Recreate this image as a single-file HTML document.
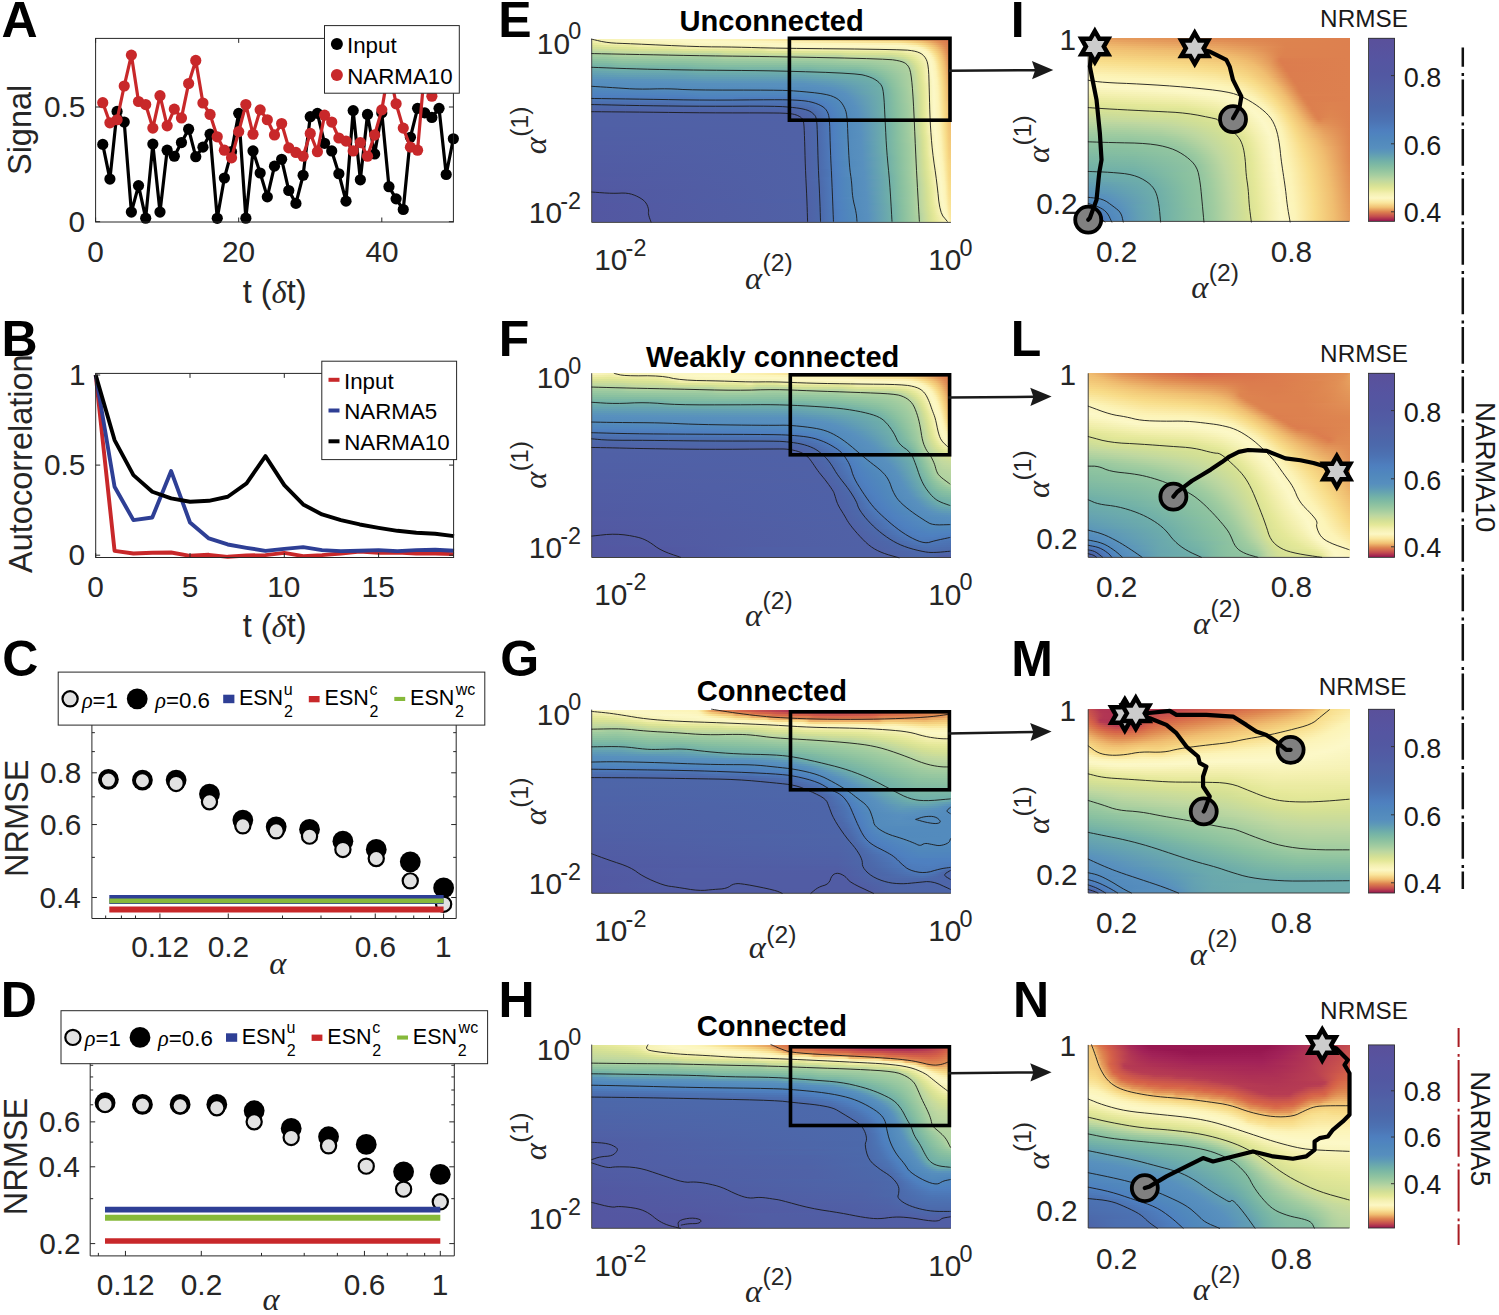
<!DOCTYPE html><html><head><meta charset="utf-8"><style>html,body{margin:0;padding:0;background:#fff}#r{position:relative;width:1499px;height:1315px;overflow:hidden;background:#fff}#r svg{position:absolute;left:0;top:0}</style></head><body><div id="r">
<div style="position:absolute;left:592px;top:39px;width:359px;height:2px;background:linear-gradient(90deg,#f4f0b0 0px,#f6f2b5 4px,#fbf7c6 71px,#fcf8c6 87px,#fcf5ba 141px,#fbf1b2 162px,#faeaa4 185px,#f9df8f 235px,#f4cc7b 303px,#f2c475 313px,#edb66b 323px,#df8852 344px,#d9714b 359px)"></div>
<div style="position:absolute;left:592px;top:41px;width:359px;height:2px;background:linear-gradient(90deg,#ededa6 0px,#f6f2b5 14px,#f7f3b8 45px,#f8f4bc 51px,#faf6c1 84px,#fbf7c6 97px,#fcf8c6 116px,#fcf5bd 173px,#f9e192 305px,#f6d683 318px,#f1c374 330px,#edb66b 335px,#df8851 349px,#da734c 359px)"></div>
<div style="position:absolute;left:592px;top:43px;width:359px;height:2px;background:linear-gradient(90deg,#e5e89a 0px,#eaeba0 8px,#f0eeaa 12px,#f2efad 40px,#f6f2b6 48px,#f7f3b9 86px,#f9f5bf 95px,#fbf7c5 147px,#fcf7c5 176px,#fcf6c1 188px,#fcf5bb 258px,#fbf0b0 309px,#fbedab 313px,#f9e193 324px,#f6d683 330px,#f0bf71 338px,#df8a53 351px,#da754c 359px)"></div>
<div style="position:absolute;left:592px;top:45px;width:359px;height:2px;background:linear-gradient(90deg,#dae396 0px,#e3e89a 14px,#e8ea9e 39px,#eaeba1 42px,#f0eeaa 47px,#f1efac 82px,#f2efae 85px,#f6f2b5 88px,#f7f3b8 93px,#f8f4bb 173px,#faf6c3 180px,#fbf7c5 186px,#fcf7c5 280px,#fcf7c3 306px,#fcf6c0 314px,#fbf0af 325px,#f8de8d 333px,#f0bf71 342px,#df8952 353px,#db774d 359px)"></div>
<div style="position:absolute;left:592px;top:47px;width:359px;height:2px;background:linear-gradient(90deg,#d0de97 0px,#d8e295 19px,#dde596 39px,#e3e899 48px,#e5e89b 80px,#e7ea9d 84px,#eeeda7 88px,#efeda8 90px,#f1eeab 169px,#f2efae 173px,#f7f3b8 178px,#f7f3ba 183px,#f8f4bd 306px,#f9f5bf 313px,#fbf7c4 315px,#fcf7c5 319px,#fcf6c1 325px,#fcf5bc 328px,#fbf0b1 331px,#f7da87 338px,#f0bd6f 345px,#df8a52 354px,#db794d 359px)"></div>
<div style="position:absolute;left:592px;top:49px;width:359px;height:2px;background:linear-gradient(90deg,#c4da9d 0px,#d1df96 37px,#d6e195 50px,#d7e295 80px,#dfe597 91px,#e5e89b 167px,#e7ea9d 172px,#eeeda7 176px,#efeda8 179px,#f1efac 305px,#f3f0af 311px,#f7f3ba 316px,#f9f5be 325px,#fbf7c4 327px,#fcf7c5 329px,#fcf2b4 334px,#f8dc8a 340px,#efbc6f 347px,#df8952 355px,#dc7b4e 359px)"></div>
<div style="position:absolute;left:592px;top:51px;width:359px;height:2px;background:linear-gradient(90deg,#b7d5a0 0px,#bad6a0 19px,#c2d99f 23px,#c4da9e 28px,#c9db9b 79px,#cddd98 92px,#cede98 123px,#d5e195 135px,#d7e295 167px,#dfe597 180px,#dfe697 243px,#e4e89a 259px,#e5e89b 298px,#e8ea9e 307px,#ececa4 311px,#f1efac 314px,#f5f1b2 324px,#fcf7c5 332px,#fcf3b7 336px,#f8dc89 342px,#f0be70 348px,#de8650 356px,#dc7d4e 359px)"></div>
<div style="position:absolute;left:592px;top:53px;width:359px;height:2px;background:linear-gradient(90deg,#aad0a0 0px,#acd0a0 18px,#b5d4a0 22px,#b7d5a0 27px,#bbd6a0 125px,#bcd6a0 127px,#c5da9d 131px,#c8db9b 137px,#c9db9b 166px,#cddd98 182px,#cedd98 244px,#d6e195 258px,#d8e295 300px,#e0e697 310px,#e7e99c 314px,#f5f1b4 329px,#fcf7c6 334px,#fcf3b7 338px,#f7da86 344px,#f0bf71 349px,#df8a52 356px,#dd7f4f 359px)"></div>
<div style="position:absolute;left:592px;top:55px;width:359px;height:2px;background:linear-gradient(90deg,#9ecba0 0px,#a0cca0 15px,#a3cda0 19px,#a9cfa0 22px,#a9d0a0 26px,#abd0a0 122px,#aed1a0 126px,#b7d5a0 131px,#b8d5a0 136px,#bbd6a0 247px,#bcd6a0 249px,#c5da9d 253px,#c7db9c 257px,#c9dc9a 299px,#d8e295 312px,#e6e99c 320px,#f6f2b6 332px,#fcf8c6 336px,#fcf4ba 339px,#f8db87 345px,#f0be70 350px,#de8650 357px,#dd824f 359px)"></div>
<div style="position:absolute;left:592px;top:57px;width:359px;height:2px;background:linear-gradient(90deg,#95c7a0 0px,#96c7a0 13px,#9ecba0 30px,#a1cca0 119px,#aad0a0 131px,#abd0a0 243px,#acd1a0 247px,#b6d4a0 252px,#b8d5a0 256px,#b9d6a0 300px,#c9dc9a 311px,#d6e195 316px,#e2e797 321px,#f3efae 330px,#f5f1b4 333px,#fcf8c7 337px,#fcf2b3 341px,#f8da87 346px,#efbc6f 351px,#df8851 357px,#de8450 359px)"></div>
<div style="position:absolute;left:592px;top:59px;width:359px;height:2px;background:linear-gradient(90deg,#8cc2a0 0px,#8dc3a0 13px,#95c6a0 29px,#96c7a0 93px,#99c8a0 120px,#9ecba0 134px,#a0cca0 239px,#a3cda0 246px,#a9cfa0 251px,#aed1a0 299px,#bad6a0 311px,#d2df95 318px,#e3e898 324px,#f4f0b0 332px,#f7f3b8 335px,#fcf8c7 338px,#fcf4ba 341px,#f7d985 347px,#f1c072 351px,#df8b53 357px,#de8650 359px)"></div>
<div style="position:absolute;left:592px;top:61px;width:359px;height:2px;background:linear-gradient(90deg,#84bda1 0px,#85bea1 14px,#8cc2a0 30px,#8dc2a0 92px,#95c6a0 134px,#96c7a0 218px,#a3cda0 282px,#b0d2a0 311px,#b5d4a0 313px,#bed7a0 315px,#d1df96 320px,#d8e295 322px,#e4e899 326px,#f4f0b0 333px,#f5f1b4 335px,#fbf7c6 338px,#fcf7c5 339px,#fcf4b8 342px,#f8dc89 347px,#f0bd6f 352px,#e08d54 357px,#df8851 359px)"></div>
<div style="position:absolute;left:592px;top:63px;width:359px;height:2px;background:linear-gradient(90deg,#7cb8a4 0px,#7db8a4 15px,#83bda2 29px,#84bda1 91px,#8cc2a0 134px,#8dc2a0 217px,#9ac9a0 277px,#b0d2a0 313px,#b4d4a0 315px,#c2d99f 318px,#d6e194 323px,#e6e99b 328px,#f5f1b3 335px,#fcf8c7 339px,#fcf2b4 343px,#f7d986 348px,#f0c071 352px,#e18f55 357px,#df8b53 359px)"></div>
<div style="position:absolute;left:592px;top:65px;width:359px;height:2px;background:linear-gradient(90deg,#73b2a7 0px,#74b3a7 17px,#7ab6a5 22px,#7bb7a4 28px,#7cb8a4 92px,#80bba3 105px,#83bda2 132px,#84bda1 216px,#8ec3a0 267px,#9ccaa0 292px,#b0d2a0 315px,#b4d4a0 317px,#bfd8a0 319px,#d5e194 324px,#e3e898 328px,#f5f1b3 335px,#fcf8c8 339px,#fcf4b8 343px,#f8dc88 348px,#efba6e 353px,#e29257 357px,#e08d54 359px)"></div>
<div style="position:absolute;left:592px;top:67px;width:359px;height:2px;background:linear-gradient(90deg,#6eadaa 0px,#6eaeaa 14px,#73b2a7 26px,#74b2a7 95px,#7ab7a5 109px,#7cb8a4 217px,#80bba3 229px,#85bea1 265px,#91c5a0 284px,#b0d2a0 317px,#c0d8a0 320px,#d6e194 325px,#e4e898 329px,#f3efae 334px,#fcf8c7 339px,#fcf4b9 343px,#f8de8c 348px,#f0bd70 353px,#e39458 357px,#e18f55 359px)"></div>
<div style="position:absolute;left:592px;top:69px;width:359px;height:2px;background:linear-gradient(90deg,#6aa8ad 0px,#6dadaa 21px,#6eadaa 94px,#73b2a7 105px,#74b2a7 219px,#79b6a5 228px,#7db9a4 265px,#8ac1a0 283px,#afd2a0 317px,#c1d99f 321px,#d3df95 325px,#d7e195 326px,#e6e99b 330px,#f5f1b2 335px,#fbf7c6 339px,#fcf7c6 340px,#fcf2b4 344px,#f7da86 349px,#f0c071 353px,#e39759 357px,#e29157 359px)"></div>
<div style="position:absolute;left:592px;top:71px;width:359px;height:2px;background:linear-gradient(90deg,#66a3b0 0px,#69a8ae 27px,#6aa9ad 91px,#6dadaa 104px,#6eadaa 215px,#72b2a7 227px,#74b3a7 265px,#86bfa1 285px,#afd1a0 317px,#b3d3a0 319px,#bdd7a0 321px,#d5e094 326px,#e5e899 330px,#f5f1b2 335px,#fbf7c5 339px,#fcf8c6 340px,#fcf4b7 344px,#f8dc88 349px,#f1c173 353px,#e4995b 357px,#e29458 359px)"></div>
<div style="position:absolute;left:592px;top:73px;width:359px;height:2px;background:linear-gradient(90deg,#619fb4 0px,#65a3b1 33px,#66a4b0 89px,#69a8ad 108px,#6aa9ad 210px,#6dadaa 223px,#6fafa8 265px,#73b2a7 273px,#7bb7a4 280px,#89c1a0 291px,#afd2a0 319px,#c0d8a0 322px,#d3e095 326px,#d7e295 327px,#e3e898 330px,#f5f1b2 335px,#fcf8c7 340px,#fcf4b9 344px,#f8dd8b 349px,#efbb6e 354px,#e59b5c 357px,#e39659 359px)"></div>
<div style="position:absolute;left:592px;top:75px;width:359px;height:2px;background:linear-gradient(90deg,#5d9ab7 0px,#619eb4 36px,#629fb3 87px,#65a3b1 111px,#66a4b0 208px,#6fafa9 273px,#74b3a7 280px,#88c0a0 293px,#afd2a0 319px,#bfd8a0 322px,#d6e194 327px,#e2e798 330px,#e6e99b 331px,#f4f0b1 335px,#fcf8c8 340px,#fcf4ba 344px,#f8df8d 349px,#f0be70 354px,#e69e5d 357px,#e4985a 359px)"></div>
<div style="position:absolute;left:592px;top:77px;width:359px;height:2px;background:linear-gradient(90deg,#5a95ba 0px,#619eb4 112px,#629fb3 208px,#6fafa8 279px,#74b3a7 284px,#88c0a0 295px,#afd2a0 319px,#bed7a0 322px,#d5e094 327px,#e6e99a 331px,#f4f0b1 335px,#fbf7c6 340px,#fcf7c6 341px,#fcf3b5 345px,#f9e08f 349px,#f8db87 350px,#f0bf71 354px,#e6a05f 357px,#e59b5c 359px)"></div>
<div style="position:absolute;left:592px;top:79px;width:359px;height:2px;background:linear-gradient(90deg,#5890be 0px,#5a95ba 87px,#5d99b7 113px,#5e9ab7 208px,#64a2b2 242px,#6fafa8 283px,#88c0a0 297px,#afd2a0 319px,#c2d99f 323px,#d4e094 327px,#e5e899 331px,#f4f0b1 335px,#f7f3ba 338px,#fcf8c7 341px,#fcf4b8 345px,#f8dc88 350px,#f1c172 354px,#e7a360 357px,#e69d5d 359px)"></div>
<div style="position:absolute;left:592px;top:81px;width:359px;height:2px;background:linear-gradient(90deg,#578fbe 0px,#5891bd 88px,#5a94bb 116px,#5b95ba 208px,#609cb5 238px,#6fafa9 285px,#73b2a7 288px,#88c0a0 298px,#afd2a0 319px,#c2d99f 323px,#d3e095 327px,#d7e295 328px,#e4e898 331px,#f3efae 335px,#f6f2b7 338px,#fcf8c8 341px,#fcf4b9 345px,#f8dd8a 350px,#f1c273 354px,#e8a561 357px,#e69f5e 359px)"></div>
<div style="position:absolute;left:592px;top:83px;width:359px;height:2px;background:linear-gradient(90deg,#558dbd 0px,#5891bd 211px,#5d99b8 240px,#6fafa9 287px,#73b2a7 290px,#87c0a0 299px,#afd2a0 319px,#c1d99f 323px,#d6e195 328px,#e6e99b 332px,#f3f0af 336px,#fcf8c7 341px,#fcf4b9 345px,#f8de8c 350px,#efbc6f 355px,#e8a662 357px,#e7a15f 359px)"></div>
<div style="position:absolute;left:592px;top:85px;width:359px;height:2px;background:linear-gradient(90deg,#548cbd 0px,#5890be 223px,#5c97b9 245px,#6fafa8 289px,#88c0a0 300px,#afd2a0 319px,#c1d89f 323px,#d5e194 328px,#e5e99a 332px,#f2efad 336px,#fbf7c6 341px,#fcf7c5 342px,#fcf5ba 345px,#fcf2b4 346px,#f8df8d 350px,#f0be70 355px,#e9a863 357px,#e7a360 359px)"></div>
<div style="position:absolute;left:592px;top:87px;width:359px;height:2px;background:linear-gradient(90deg,#528abc 0px,#558dbd 212px,#5890be 238px,#5c98b8 252px,#71b1a8 291px,#88c0a0 301px,#a0cca0 313px,#afd2a0 319px,#c0d8a0 323px,#d5e094 328px,#e4e899 332px,#f5f1b2 337px,#fbf7c6 341px,#fcf7c6 342px,#fcf2b5 346px,#f9df8f 350px,#f8da87 351px,#f0bf71 355px,#e9aa64 357px,#e8a461 359px)"></div>
<div style="position:absolute;left:592px;top:89px;width:359px;height:2px;background:linear-gradient(90deg,#5087bc 0px,#548cbd 104px,#548cbd 213px,#5890be 244px,#5b95ba 252px,#71b1a8 292px,#89c0a0 302px,#9fcca0 313px,#afd1a0 319px,#bfd8a0 323px,#d4e094 328px,#e4e898 332px,#f5f1b2 337px,#fbf7c6 341px,#fcf8c6 342px,#fcf3b6 346px,#f8db87 351px,#f1c072 355px,#eaab65 357px,#e8a662 359px)"></div>
<div style="position:absolute;left:592px;top:91px;width:359px;height:2px;background:linear-gradient(90deg,#4f85be 0px,#5087bd 89px,#528abc 104px,#5189bc 204px,#548cbd 233px,#5991bd 251px,#64a2b1 270px,#71b0a8 292px,#88c0a0 302px,#a3cda0 315px,#b2d3a0 320px,#bed7a0 323px,#d7e195 329px,#e3e898 332px,#f5f1b2 337px,#fbf7c5 341px,#fcf8c6 342px,#fcf3b7 346px,#f8dc88 351px,#f1c172 355px,#ebad66 357px,#e9a863 359px)"></div>
<div style="position:absolute;left:592px;top:93px;width:359px;height:2px;background:linear-gradient(90deg,#4f82bf 0px,#4f84be 88px,#5087bd 109px,#4f86bd 201px,#528abd 231px,#5890be 253px,#63a0b2 270px,#71b0a8 292px,#89c0a0 303px,#a0cca0 314px,#b2d3a0 321px,#c1d8a0 324px,#d6e195 329px,#e3e798 332px,#f5f1b2 337px,#fbf7c5 341px,#fcf8c7 342px,#fcf4b8 346px,#f8dd89 351px,#f1c273 355px,#ebaf67 357px,#e9a964 359px)"></div>
<div style="position:absolute;left:592px;top:95px;width:359px;height:2px;background:linear-gradient(90deg,#4e7fbf 0px,#4e80bf 88px,#4f84be 111px,#4e82bf 201px,#5088bc 229px,#5890be 255px,#71b0a8 292px,#88c0a0 303px,#b0d2a0 321px,#bfd8a0 324px,#d6e194 329px,#e2e798 332px,#e6e99b 333px,#f4f0b1 337px,#fbf7c5 341px,#fcf8c7 342px,#fcf4b8 346px,#f8dd8a 351px,#f1c374 355px,#ecb068 357px,#eaab65 359px)"></div>
<div style="position:absolute;left:592px;top:97px;width:359px;height:2px;background:linear-gradient(90deg,#4d7cbc 0px,#4d7cbc 91px,#4e80bf 113px,#4e80bf 139px,#4d7dbd 148px,#4d7dbd 202px,#4e81c0 212px,#5087bc 233px,#5890be 257px,#70b0a8 292px,#87c0a0 303px,#afd2a0 321px,#bed7a0 324px,#d5e194 329px,#e6e99b 333px,#f4f0b1 337px,#fbf7c5 341px,#fcf8c7 342px,#fcf4b9 346px,#f8de8b 351px,#f0bd6f 356px,#ecb269 357px,#eaad66 359px)"></div>
<div style="position:absolute;left:592px;top:99px;width:359px;height:2px;background:linear-gradient(90deg,#4c76b6 0px,#4c76b6 76px,#4d7cbc 111px,#4d7cbc 141px,#4d77b7 152px,#4d77b7 198px,#4e81c0 225px,#5088bc 239px,#5890be 259px,#70b0a8 292px,#89c1a0 304px,#afd2a0 321px,#bed7a0 324px,#d5e094 329px,#e6e99b 333px,#f4f0b1 337px,#fcf8c7 342px,#fcf4b9 346px,#f8de8d 351px,#f0be70 356px,#edb46a 357px,#ebae67 359px)"></div>
<div style="position:absolute;left:592px;top:101px;width:359px;height:2px;background:linear-gradient(90deg,#4c71b1 0px,#4c71b1 75px,#4c76b6 105px,#4c73b3 198px,#4d78b8 217px,#4e81c0 230px,#5088bc 242px,#5890be 260px,#70b0a8 292px,#89c0a0 304px,#afd2a0 321px,#bed7a0 324px,#d5e094 329px,#e6e99b 333px,#f4f0b1 337px,#fcf8c7 342px,#fcf4b9 346px,#fbf1b2 347px,#f7d986 352px,#ebb068 359px)"></div>
<div style="position:absolute;left:592px;top:103px;width:359px;height:2px;background:linear-gradient(90deg,#4c6cad 0px,#4c6cad 75px,#4c71b1 104px,#4c6fb0 199px,#4c74b4 216px,#4e80c0 233px,#5088bc 244px,#5890be 261px,#70b0a8 292px,#88c0a0 304px,#9fcca0 315px,#afd2a0 321px,#bed7a0 324px,#d4e094 329px,#e6e99a 333px,#f4f0b1 337px,#fcf8c7 342px,#fcf4b9 346px,#fcf1b3 347px,#f8da87 352px,#ecb269 359px)"></div>
<div style="position:absolute;left:592px;top:105px;width:359px;height:2px;background:linear-gradient(90deg,#4c67aa 0px,#4c68aa 72px,#4c6bad 102px,#4c6cad 205px,#4c74b4 221px,#4e80c0 235px,#5088bc 245px,#5890be 263px,#70b0a8 292px,#88c0a0 304px,#a1cca0 316px,#afd1a0 321px,#bed7a0 324px,#d4e094 329px,#e6e99a 333px,#f4f0b1 337px,#fcf8c8 342px,#fcf4ba 346px,#fcf2b3 347px,#f8db87 352px,#edb36a 359px)"></div>
<div style="position:absolute;left:592px;top:107px;width:359px;height:2px;background:linear-gradient(90deg,#4e65a8 0px,#4c68aa 202px,#4c6cad 216px,#4e80c0 237px,#5088bc 247px,#5890be 264px,#70b0a8 292px,#87c0a0 304px,#a1cca0 316px,#afd1a0 321px,#bed7a0 324px,#d4e094 329px,#e6e99a 333px,#f4f0b1 337px,#fcf8c8 342px,#fcf2b4 347px,#f8dc88 352px,#edb56b 359px)"></div>
<div style="position:absolute;left:592px;top:109px;width:359px;height:2px;background:linear-gradient(90deg,#4f62a7 0px,#4e65a8 199px,#4c6aac 217px,#4e80c0 238px,#5088bc 247px,#5891be 265px,#70b0a8 292px,#89c0a0 305px,#a0cca0 316px,#afd1a0 321px,#bed7a0 324px,#d4e094 329px,#e5e99a 333px,#f4f0b1 337px,#fcf8c8 342px,#fcf2b5 347px,#f8dc89 352px,#eeb76c 359px)"></div>
<div style="position:absolute;left:592px;top:111px;width:359px;height:2px;background:linear-gradient(90deg,#5061a6 0px,#4f62a7 199px,#4c6bac 221px,#4e80c0 239px,#5088bc 248px,#5890be 265px,#72b1a7 293px,#89c0a0 305px,#a0cca0 316px,#afd1a0 321px,#bed7a0 324px,#d4e094 329px,#e5e99a 333px,#f4f0b1 337px,#fcf8c8 342px,#fcf3b6 347px,#f8dd8a 352px,#eeb86d 359px)"></div>
<div style="position:absolute;left:592px;top:113px;width:359px;height:2px;background:linear-gradient(90deg,#5061a6 0px,#5061a6 199px,#4c69ab 221px,#4e80c0 240px,#5088bc 249px,#5890be 266px,#73b2a7 294px,#88c0a0 305px,#a0cca0 316px,#afd1a0 321px,#bed7a0 324px,#d4e094 329px,#e5e99a 333px,#f4f0b1 337px,#fcf8c8 342px,#fcf3b6 347px,#f8de8b 352px,#f0bf71 357px,#efba6e 359px)"></div>
<div style="position:absolute;left:592px;top:115px;width:359px;height:2px;background:linear-gradient(90deg,#5060a6 0px,#5061a6 205px,#4c6aab 223px,#4e7fbf 240px,#5088bc 250px,#5890be 266px,#72b1a7 294px,#88c0a0 305px,#a0cca0 316px,#afd1a0 321px,#bdd7a0 324px,#d4e094 329px,#e5e99a 333px,#f4f0b1 337px,#fcf8c8 342px,#fcf4b7 347px,#f7d985 353px,#efbc6f 359px)"></div>
<div style="position:absolute;left:592px;top:117px;width:359px;height:2px;background:linear-gradient(90deg,#5060a6 0px,#5061a6 209px,#4c69ab 223px,#4e80c0 241px,#5088bc 250px,#5890be 267px,#71b0a8 294px,#88c0a0 305px,#a0cca0 316px,#afd1a0 321px,#bdd7a0 324px,#d4e094 329px,#e5e99a 333px,#f4f0b1 337px,#fcf8c7 342px,#fcf4b8 347px,#f7da86 353px,#f1c172 357px,#f0be70 359px)"></div>
<div style="position:absolute;left:592px;top:119px;width:359px;height:2px;background:linear-gradient(90deg,#5060a6 0px,#4f61a7 210px,#4c69aa 223px,#4e7fbf 241px,#5088bc 251px,#5890be 267px,#70b0a8 294px,#87c0a0 305px,#a0cca0 316px,#aed1a0 321px,#bdd7a0 324px,#d4e094 329px,#e5e99a 333px,#f4f0b1 337px,#fcf8c7 342px,#fcf4b8 347px,#f8db87 353px,#f1c273 357px,#f0bf71 359px)"></div>
<div style="position:absolute;left:592px;top:121px;width:359px;height:2px;background:linear-gradient(90deg,#5060a6 0px,#5061a6 211px,#4c6aac 225px,#4e80c0 242px,#5088bc 251px,#5890be 267px,#70b0a8 294px,#87bfa0 305px,#9fcca0 316px,#aed1a0 321px,#bdd7a0 324px,#d4e094 329px,#e5e99a 333px,#f4f0b1 337px,#fcf8c7 342px,#fcf4b9 347px,#f8db88 353px,#f1c374 357px,#f0c071 359px)"></div>
<div style="position:absolute;left:592px;top:123px;width:359px;height:2px;background:linear-gradient(90deg,#5060a6 0px,#5061a6 211px,#4c6aac 226px,#4e80c0 242px,#5088bc 251px,#5890be 268px,#70b0a8 294px,#87bfa0 305px,#a2cda0 317px,#aed1a0 321px,#bdd7a0 324px,#d4e094 329px,#e5e99a 333px,#f4f0b1 337px,#fcf8c7 342px,#fcf4b9 347px,#fcf1b2 348px,#f8dc88 353px,#f2c475 357px,#f1c172 359px)"></div>
<div style="position:absolute;left:592px;top:125px;width:359px;height:2px;background:linear-gradient(90deg,#5060a6 0px,#5061a6 211px,#4c6aab 226px,#4e80c0 242px,#5088bc 251px,#5890be 268px,#70b0a8 294px,#89c0a0 306px,#a2cda0 317px,#aed1a0 321px,#bdd7a0 324px,#d3e094 329px,#e5e899 333px,#f4f0b1 337px,#fbf7c6 342px,#fcf8c6 343px,#fcf4b9 347px,#fcf2b3 348px,#f8dd89 353px,#f2c575 357px,#f1c173 359px)"></div>
<div style="position:absolute;left:592px;top:127px;width:359px;height:2px;background:linear-gradient(90deg,#505fa6 0px,#5061a6 211px,#4c69ab 225px,#4e80c0 242px,#5088bc 251px,#5890be 268px,#70b0a8 294px,#89c0a0 306px,#a2cda0 317px,#aed1a0 321px,#bdd7a0 324px,#d3e095 329px,#e5e899 333px,#f6f2b6 338px,#fbf7c6 342px,#fcf8c7 343px,#fcf2b5 348px,#f8dd8b 353px,#f2c576 357px,#f1c273 359px)"></div>
<div style="position:absolute;left:592px;top:129px;width:359px;height:2px;background:linear-gradient(90deg,#505fa6 0px,#5061a6 211px,#4c69aa 225px,#4e80c0 242px,#5088bc 251px,#5890be 268px,#70b0a8 294px,#89c0a0 306px,#a2cda0 317px,#aed1a0 321px,#c1d99f 325px,#d7e195 330px,#e4e898 333px,#f4f0b1 337px,#fcf8c7 343px,#fcf3b6 348px,#f8de8c 353px,#f2c677 357px,#f1c374 359px)"></div>
<div style="position:absolute;left:592px;top:131px;width:359px;height:2px;background:linear-gradient(90deg,#505fa5 0px,#5061a6 211px,#4c68aa 225px,#4e80c0 242px,#5088bc 251px,#5891be 269px,#70b0a8 294px,#88c0a0 306px,#a2cda0 317px,#aed1a0 321px,#c1d89f 325px,#d6e195 330px,#e3e898 333px,#f4f0b1 337px,#fcf8c8 343px,#fcf4b7 348px,#f7da86 354px,#f2c777 357px,#f2c475 359px)"></div>
<div style="position:absolute;left:592px;top:133px;width:359px;height:2px;background:linear-gradient(90deg,#505fa5 0px,#5061a6 211px,#4c68aa 225px,#4e80c0 242px,#5088bc 251px,#5890be 269px,#70b0a8 294px,#88c0a0 306px,#a1cca0 317px,#aed1a0 321px,#c0d8a0 325px,#d5e194 330px,#e2e798 333px,#f2efae 337px,#fcf8c7 343px,#fcf7c6 344px,#fcf4b8 348px,#f8da87 354px,#f3c878 357px,#f2c575 359px)"></div>
<div style="position:absolute;left:592px;top:135px;width:359px;height:2px;background:linear-gradient(90deg,#505fa5 0px,#5061a6 211px,#4c68aa 225px,#4e80c0 242px,#5088bc 251px,#5890be 269px,#70b0a8 294px,#88c0a0 306px,#a1cca0 317px,#bed7a0 325px,#d4e094 330px,#e5e99a 334px,#f3efae 338px,#fbf7c5 343px,#fcf8c7 344px,#fcf4b9 348px,#fbf1b2 349px,#f8db87 354px,#f3c978 357px,#f2c676 359px)"></div>
<div style="position:absolute;left:592px;top:137px;width:359px;height:2px;background:linear-gradient(90deg,#505ea5 0px,#5061a6 211px,#4c68aa 225px,#4e80c0 242px,#5088bc 251px,#5890be 269px,#70b0a8 294px,#88c0a0 306px,#a0cca0 317px,#b2d3a0 323px,#c1d89f 326px,#d3e095 330px,#e4e898 334px,#f5f1b2 339px,#fcf8c7 344px,#fcf4b9 348px,#fcf2b3 349px,#f8dc88 354px,#f3c979 357px,#f2c677 359px)"></div>
<div style="position:absolute;left:592px;top:139px;width:359px;height:2px;background:linear-gradient(90deg,#505ea5 0px,#5061a6 211px,#4c68aa 225px,#4e80c0 242px,#538bbd 255px,#5890be 269px,#6fafa9 293px,#88c0a0 306px,#afd2a0 323px,#c0d8a0 326px,#d6e195 331px,#e3e898 334px,#f5f1b2 339px,#fcf8c8 344px,#fcf2b4 349px,#f8dd89 354px,#f3ca7a 357px,#f2c777 359px)"></div>
<div style="position:absolute;left:592px;top:141px;width:359px;height:2px;background:linear-gradient(90deg,#515ea5 0px,#5061a6 211px,#4c68aa 225px,#4e80c0 242px,#538bbd 255px,#5890be 269px,#5d99b7 276px,#6fafa9 293px,#87c0a0 306px,#afd2a0 323px,#bfd7a0 326px,#d6e194 331px,#e3e798 334px,#f5f1b2 339px,#fcf8c8 344px,#fcf3b6 349px,#f8dd8b 354px,#f3cb7a 357px,#f3c878 359px)"></div>
<div style="position:absolute;left:592px;top:143px;width:359px;height:2px;background:linear-gradient(90deg,#515ea5 0px,#5061a6 211px,#4c68aa 225px,#4e7fbf 242px,#538bbd 255px,#5890be 269px,#5d99b8 276px,#6fafa9 293px,#87bfa0 306px,#9fcba0 317px,#afd2a0 323px,#bed7a0 326px,#d5e194 331px,#e6e99b 335px,#f4f0b1 339px,#fcf8c8 344px,#fcf3b7 349px,#f8de8c 354px,#f4cc7b 357px,#f3c979 359px)"></div>
<div style="position:absolute;left:592px;top:145px;width:359px;height:2px;background:linear-gradient(90deg,#515da5 0px,#5061a6 211px,#4c68aa 225px,#4e7fbf 242px,#538bbd 255px,#5890be 269px,#5c98b8 276px,#6fafa9 293px,#87bfa0 306px,#a1cca0 318px,#afd1a0 323px,#bed7a0 326px,#d5e094 331px,#e6e99b 335px,#f4f0b1 339px,#fcf8c7 344px,#fcf4b8 349px,#f7d986 355px,#f4cd7c 357px,#f3ca79 359px)"></div>
<div style="position:absolute;left:592px;top:147px;width:359px;height:2px;background:linear-gradient(90deg,#515da5 0px,#5061a6 211px,#4c68aa 225px,#4e7fbf 242px,#538bbd 255px,#5890be 269px,#5c98b8 276px,#70b0a8 294px,#89c0a0 307px,#a0cca0 318px,#afd1a0 323px,#bed7a0 326px,#d4e094 331px,#e5e99a 335px,#f4f0b1 339px,#fcf8c7 344px,#fcf4b8 349px,#f8da87 355px,#f4cd7c 357px,#f3ca7a 359px)"></div>
<div style="position:absolute;left:592px;top:149px;width:359px;height:2px;background:linear-gradient(90deg,#515da5 0px,#5061a6 211px,#4c68aa 225px,#4e80c0 243px,#538bbd 255px,#5890be 270px,#5c98b8 276px,#70b0a8 294px,#88c0a0 307px,#a0cca0 318px,#afd1a0 323px,#c2d99f 327px,#d4e094 331px,#e5e99a 335px,#f4f0b1 339px,#fbf7c6 344px,#fcf8c6 345px,#fcf4b9 349px,#fbf1b2 350px,#f8db87 355px,#f4ce7d 357px,#f4cb7b 359px)"></div>
<div style="position:absolute;left:592px;top:151px;width:359px;height:2px;background:linear-gradient(90deg,#515da4 0px,#5061a6 211px,#4c68aa 225px,#4e80c0 243px,#538bbd 255px,#5890be 270px,#5c98b8 276px,#70b0a8 294px,#88c0a0 307px,#a0cca0 318px,#afd1a0 323px,#c2d99f 327px,#d3e094 331px,#e5e899 335px,#f4f0b1 339px,#fbf7c5 344px,#fcf8c7 345px,#fcf4ba 349px,#fcf2b3 350px,#f8dc88 355px,#f5cf7e 357px,#f4cc7b 359px)"></div>
<div style="position:absolute;left:592px;top:153px;width:359px;height:2px;background:linear-gradient(90deg,#515da4 0px,#4f61a7 213px,#4c68aa 225px,#4e80c0 243px,#538bbd 255px,#5890be 270px,#70b0a8 295px,#88c0a0 307px,#a0cca0 318px,#afd1a0 323px,#c2d99f 327px,#d3e095 331px,#e4e898 335px,#f4f0b1 339px,#fcf8c8 345px,#fcf3b5 350px,#f8dd89 355px,#f5d07e 357px,#f4cd7c 359px)"></div>
<div style="position:absolute;left:592px;top:155px;width:359px;height:2px;background:linear-gradient(90deg,#515ca4 0px,#5061a6 213px,#4c68aa 225px,#4e80c0 243px,#538bbd 255px,#5890be 270px,#71b0a8 296px,#87c0a0 307px,#a0cca0 318px,#aed1a0 323px,#bdd7a0 326px,#d7e195 332px,#e3e898 335px,#f3efae 339px,#fcf8c7 345px,#fcf3b7 350px,#f8dd8a 355px,#f5d17f 357px,#f4ce7c 359px)"></div>
<div style="position:absolute;left:592px;top:157px;width:359px;height:2px;background:linear-gradient(90deg,#515ca4 0px,#5061a6 213px,#4c68aa 225px,#4e80c0 243px,#538bbd 255px,#5890be 270px,#5c99b8 277px,#70b0a8 296px,#87bfa0 307px,#9fcca0 318px,#aed1a0 323px,#bdd7a0 326px,#d6e195 332px,#e6e99b 336px,#f3f0af 340px,#fbf7c6 345px,#fcf8c6 346px,#fcf4b8 350px,#f8de8c 355px,#f5d280 357px,#f4ce7d 359px)"></div>
<div style="position:absolute;left:592px;top:159px;width:359px;height:2px;background:linear-gradient(90deg,#515ca4 0px,#5061a6 213px,#4c68aa 225px,#4e80c0 243px,#528abd 255px,#5890be 270px,#5c98b8 277px,#70b0a8 296px,#89c0a0 308px,#9fcca0 318px,#aed1a0 323px,#c1d89f 327px,#d5e194 332px,#e5e99a 336px,#f5f1b2 341px,#fcf8c7 346px,#fcf4b9 350px,#f7d986 356px,#f5cf7e 359px)"></div>
<div style="position:absolute;left:592px;top:161px;width:359px;height:2px;background:linear-gradient(90deg,#515ca4 0px,#5061a6 213px,#4c68aa 225px,#4e80c0 244px,#5088bc 253px,#5890be 271px,#6fafa9 295px,#87bfa0 307px,#9fcca0 318px,#aed1a0 323px,#c1d89f 327px,#d5e094 332px,#e4e899 336px,#f5f1b2 341px,#fcf8c8 346px,#fcf4ba 350px,#fcf2b3 351px,#f7da86 356px,#f5d07e 359px)"></div>
<div style="position:absolute;left:592px;top:163px;width:359px;height:2px;background:linear-gradient(90deg,#515ba4 0px,#5061a6 213px,#4c68aa 225px,#4e80c0 244px,#5088bc 253px,#5890be 271px,#6fafa9 295px,#86bfa1 307px,#a2cda0 319px,#aed1a0 323px,#c1d8a0 327px,#d4e094 332px,#e4e898 336px,#f5f1b2 341px,#fcf8c7 346px,#fcf3b5 351px,#f8db87 356px,#f5d17f 359px)"></div>
<div style="position:absolute;left:592px;top:165px;width:359px;height:2px;background:linear-gradient(90deg,#515ba4 0px,#5061a6 213px,#4c68aa 225px,#4e80c0 244px,#5088bc 253px,#5890be 271px,#6fafa9 295px,#86bfa1 307px,#a2cda0 319px,#aed1a0 323px,#c0d8a0 327px,#d4e094 332px,#e3e898 336px,#f4f0b1 341px,#fbf7c6 346px,#fcf8c6 347px,#fcf3b7 351px,#f8dc88 356px,#f5d280 359px)"></div>
<div style="position:absolute;left:592px;top:167px;width:359px;height:2px;background:linear-gradient(90deg,#515ba3 0px,#5061a6 213px,#4c68aa 225px,#4e80c0 244px,#538bbd 257px,#5890be 271px,#5d99b8 278px,#6fafa9 295px,#82bca2 305px,#a2cda0 319px,#aed1a0 323px,#c0d8a0 327px,#d3e095 332px,#e3e798 336px,#f4f0b1 341px,#f7f3ba 344px,#fcf8c7 347px,#fcf4b8 351px,#f8dd89 356px,#f5d280 359px)"></div>
<div style="position:absolute;left:592px;top:169px;width:359px;height:2px;background:linear-gradient(90deg,#515ba3 0px,#5061a6 213px,#4c68aa 225px,#4c73b4 235px,#4e80c0 244px,#538bbd 257px,#5890be 271px,#5c98b8 278px,#6fafa9 295px,#81bca2 305px,#a1cda0 319px,#aed1a0 323px,#c0d8a0 327px,#d6e195 333px,#e5e99a 337px,#f3f0af 341px,#f6f2b7 344px,#fcf8c7 347px,#fcf4b9 351px,#f8dd8a 356px,#f6d381 359px)"></div>
<div style="position:absolute;left:592px;top:171px;width:359px;height:2px;background:linear-gradient(90deg,#515ba3 0px,#5061a6 213px,#4c68aa 225px,#4c73b3 235px,#4e80c0 244px,#538bbd 257px,#5890be 272px,#5c98b8 278px,#70b0a8 296px,#7fbaa3 304px,#89c1a0 309px,#a1cca0 319px,#bfd8a0 327px,#d5e194 333px,#e4e898 337px,#f3f0af 342px,#fbf7c6 347px,#fcf7c5 348px,#fcf4ba 351px,#fcf1b3 352px,#f8de8c 356px,#f7d884 357px,#f6d482 359px)"></div>
<div style="position:absolute;left:592px;top:173px;width:359px;height:2px;background:linear-gradient(90deg,#515aa3 0px,#5061a6 213px,#4c68aa 225px,#4c74b4 236px,#4e7fbf 244px,#538bbd 257px,#5890be 272px,#5c98b8 278px,#72b1a7 298px,#89c1a0 309px,#a1cca0 319px,#bfd7a0 327px,#d5e094 333px,#e3e898 337px,#f3efae 342px,#fbf7c6 347px,#fcf7c6 348px,#fcf2b5 352px,#f8df8d 356px,#f7d885 357px,#f6d582 359px)"></div>
<div style="position:absolute;left:592px;top:175px;width:359px;height:2px;background:linear-gradient(90deg,#515aa3 0px,#5061a6 213px,#4c68aa 225px,#4c74b4 236px,#4e7fbf 244px,#538bbd 257px,#5890be 272px,#71b0a8 298px,#89c0a0 309px,#a1cca0 319px,#bed7a0 327px,#d4e094 333px,#e6e99b 338px,#f5f1b2 343px,#fbf7c5 347px,#fcf8c7 348px,#fcf3b6 352px,#f9df8e 356px,#f7d986 357px,#f6d683 359px)"></div>
<div style="position:absolute;left:592px;top:177px;width:359px;height:2px;background:linear-gradient(90deg,#525aa3 0px,#5061a6 213px,#4c68aa 225px,#4e80c0 245px,#5088bc 254px,#5890be 272px,#71b0a8 298px,#88c0a0 309px,#a0cca0 319px,#c0d8a0 328px,#d7e195 334px,#e5e99a 338px,#f5f1b2 343px,#fcf8c7 348px,#fcf4b8 352px,#f8da87 357px,#f7d784 359px)"></div>
<div style="position:absolute;left:592px;top:179px;width:359px;height:2px;background:linear-gradient(90deg,#525aa3 0px,#5061a6 213px,#4c6bad 228px,#4e80c0 245px,#5088bc 255px,#5890be 272px,#5c98b8 279px,#70b0a8 298px,#88c0a0 309px,#9fcca0 319px,#b1d3a0 325px,#bfd8a0 328px,#d6e194 334px,#e4e899 338px,#f5f1b2 343px,#fcf8c7 348px,#fcf4b9 352px,#f8db88 357px,#f7d885 359px)"></div>
<div style="position:absolute;left:592px;top:181px;width:359px;height:2px;background:linear-gradient(90deg,#5259a3 0px,#5061a6 213px,#4c69ab 227px,#4e80c0 245px,#5088bc 255px,#5890be 273px,#70b0a8 298px,#88c0a0 309px,#afd2a0 325px,#c2d99f 329px,#d5e094 334px,#e4e898 338px,#f4f0b1 343px,#f7f3ba 346px,#fbf7c5 348px,#fcf8c6 349px,#fcf4ba 352px,#fcf1b2 353px,#f8dc89 357px,#f7d985 359px)"></div>
<div style="position:absolute;left:592px;top:183px;width:359px;height:2px;background:linear-gradient(90deg,#5259a3 0px,#5061a6 213px,#4c69ab 227px,#4e80c0 245px,#5088bc 255px,#5890be 273px,#70b0a8 298px,#88c0a0 309px,#a1cca0 320px,#afd2a0 325px,#c1d89f 329px,#d4e094 334px,#e3e798 338px,#f3f0af 343px,#f7f3b8 346px,#fcf8c7 349px,#fcf2b4 353px,#f8dd8a 357px,#f7da86 359px)"></div>
<div style="position:absolute;left:592px;top:185px;width:359px;height:2px;background:linear-gradient(90deg,#5259a2 0px,#5061a6 213px,#4c69aa 227px,#4e80c0 245px,#5088bc 255px,#5890be 273px,#70b0a8 298px,#87c0a0 309px,#a0cca0 320px,#afd1a0 325px,#c1d8a0 329px,#d3e094 334px,#e5e99a 339px,#f4f0af 344px,#fcf8c8 349px,#fcf3b6 353px,#f8de8b 357px,#f8db87 359px)"></div>
<div style="position:absolute;left:592px;top:187px;width:359px;height:2px;background:linear-gradient(90deg,#5259a2 0px,#5061a6 213px,#4c68aa 227px,#4e80c0 245px,#5088bc 255px,#5890be 273px,#5d99b7 280px,#70b0a8 298px,#87bfa0 309px,#a0cca0 320px,#afd1a0 325px,#c0d8a0 329px,#d6e195 335px,#e4e899 339px,#f3efae 344px,#fcf8c8 349px,#fcf4b7 353px,#f8de8d 357px,#f8dc88 359px)"></div>
<div style="position:absolute;left:592px;top:189px;width:359px;height:2px;background:linear-gradient(90deg,#5258a2 0px,#5061a6 213px,#4c68aa 227px,#4e80c0 245px,#5088bc 255px,#5890be 273px,#5c99b8 280px,#70b0a8 298px,#89c1a0 310px,#a0cca0 320px,#afd1a0 325px,#c0d8a0 329px,#d6e194 335px,#e4e898 339px,#f2efae 344px,#fcf8c7 349px,#fcf4b8 353px,#f9df8e 357px,#f8dc89 359px)"></div>
<div style="position:absolute;left:592px;top:191px;width:359px;height:2px;background:linear-gradient(90deg,#5258a2 0px,#5061a6 213px,#4c68aa 227px,#4e80c0 245px,#5088bc 255px,#5890be 274px,#6fafa9 297px,#87bfa0 309px,#9fcca0 320px,#aed1a0 325px,#c0d8a0 329px,#d5e194 335px,#e3e898 339px,#f2efad 344px,#fcf8c7 349px,#fcf4b9 353px,#f9e090 357px,#f8dd8a 359px)"></div>
<div style="position:absolute;left:592px;top:193px;width:359px;height:2px;background:linear-gradient(90deg,#5258a2 0px,#5061a6 213px,#4c68aa 227px,#4e80c0 245px,#5088bc 255px,#5890be 274px,#6fafa9 297px,#86bfa1 309px,#a2cda0 321px,#aed1a0 325px,#bfd8a0 329px,#d5e094 335px,#e6e99b 340px,#f5f1b2 345px,#fbf7c6 349px,#fcf7c5 350px,#fcf4b9 353px,#f9e091 357px,#f8de8c 359px)"></div>
<div style="position:absolute;left:592px;top:195px;width:359px;height:2px;background:linear-gradient(90deg,#5258a2 0px,#5061a6 213px,#4c68aa 227px,#4e80c0 245px,#5088bc 256px,#5890be 274px,#5c98b8 280px,#6fafa9 297px,#84bda1 308px,#9fcca0 320px,#aed1a0 325px,#bfd8a0 329px,#d4e094 335px,#e6e99b 340px,#f5f1b2 345px,#fbf7c6 349px,#fcf7c6 350px,#fcf4ba 353px,#fcf1b2 354px,#f9e192 357px,#f8df8d 359px)"></div>
<div style="position:absolute;left:592px;top:197px;width:359px;height:2px;background:linear-gradient(90deg,#5258a2 0px,#5061a6 213px,#4c68aa 227px,#4e80c0 245px,#538bbd 259px,#5890be 274px,#5d99b7 281px,#6fafa9 297px,#80bba3 306px,#a2cda0 321px,#bfd8a0 329px,#d4e094 335px,#e5e99a 340px,#f5f1b2 345px,#fbf7c5 349px,#fcf8c7 350px,#fcf2b4 354px,#f9e294 357px,#f9df8e 359px)"></div>
<div style="position:absolute;left:592px;top:199px;width:359px;height:2px;background:linear-gradient(90deg,#5258a2 0px,#4f61a7 214px,#4c68aa 227px,#4e80c0 245px,#5088bc 256px,#5890be 274px,#5d99b8 281px,#6eadaa 296px,#7eb9a3 305px,#88c0a0 310px,#a2cda0 321px,#bfd7a0 329px,#d4e094 335px,#e5e899 340px,#f5f1b2 345px,#fcf8c8 350px,#fcf3b6 354px,#f9e395 357px,#f9e090 359px)"></div>
<div style="position:absolute;left:592px;top:201px;width:359px;height:2px;background:linear-gradient(90deg,#5258a2 0px,#4f61a7 215px,#4c68aa 227px,#4e7fbf 245px,#5088bc 256px,#5890be 275px,#6cacab 295px,#7bb7a4 304px,#88c0a0 310px,#a2cda0 321px,#bed7a0 329px,#d6e195 336px,#e4e898 340px,#f5f1b2 345px,#f7f3ba 348px,#fbf7c6 350px,#fcf7c5 351px,#fcf4b8 354px,#f9e397 357px,#f9e191 359px)"></div>
<div style="position:absolute;left:592px;top:203px;width:359px;height:2px;background:linear-gradient(90deg,#5357a2 0px,#5061a6 215px,#4c68aa 227px,#4e80c0 246px,#5088bc 257px,#5890be 275px,#5c98b8 281px,#72b1a7 300px,#87c0a0 310px,#a1cda0 321px,#bed7a0 329px,#d6e194 336px,#e4e898 340px,#f3f0af 345px,#f7f3b8 348px,#fbf7c4 350px,#fcf8c7 351px,#fcf4b9 354px,#f9e498 357px,#f9e193 359px)"></div>
<div style="position:absolute;left:592px;top:205px;width:359px;height:2px;background:linear-gradient(90deg,#5357a2 0px,#5061a6 215px,#4c68aa 227px,#4e80c0 246px,#5088bc 257px,#5890be 275px,#71b0a8 300px,#87bfa0 310px,#a1cca0 321px,#c1d89f 330px,#d5e194 336px,#e6e99b 341px,#f5f1b3 347px,#fcf8c8 351px,#fcf5ba 354px,#fbf1b2 355px,#f9e59a 357px,#f9e294 359px)"></div>
<div style="position:absolute;left:592px;top:207px;width:359px;height:2px;background:linear-gradient(90deg,#5357a2 0px,#5061a6 215px,#4c68aa 227px,#4e80c0 246px,#5088bc 257px,#5890be 275px,#71b0a8 300px,#89c1a0 311px,#a1cca0 321px,#c1d8a0 330px,#d4e094 336px,#e5e899 341px,#f3efae 346px,#fcf8c7 351px,#fcf5bb 354px,#fcf2b4 355px,#fae69c 357px,#f9e395 359px)"></div>
<div style="position:absolute;left:592px;top:209px;width:359px;height:2px;background:linear-gradient(90deg,#5357a2 0px,#5061a6 215px,#4c68aa 227px,#4e7fbf 246px,#5088bc 258px,#5890be 275px,#71b0a8 300px,#89c0a0 311px,#a1cca0 321px,#c0d8a0 330px,#d4e094 336px,#e4e898 341px,#f5f1b2 347px,#fbf7c5 351px,#fcf8c6 352px,#fcf4b7 355px,#fae79d 357px,#f9e397 359px)"></div>
<div style="position:absolute;left:592px;top:211px;width:359px;height:2px;background:linear-gradient(90deg,#5357a1 0px,#5061a6 215px,#4c68aa 227px,#4e80c0 247px,#5088bc 258px,#5890be 275px,#5d99b8 282px,#71b0a8 300px,#89c0a0 311px,#a1cca0 321px,#bfd8a0 330px,#d6e194 337px,#e6e99b 342px,#f5f1b2 347px,#f8f4bb 350px,#fcf8c7 352px,#fcf4ba 355px,#fae89f 357px,#f9e498 359px)"></div>
<div style="position:absolute;left:592px;top:213px;width:359px;height:2px;background:linear-gradient(90deg,#5357a1 0px,#5061a6 215px,#4c68aa 227px,#4e80c0 247px,#5088bc 258px,#5890be 276px,#70b0a8 300px,#88c0a0 311px,#a0cca0 321px,#aed1a0 325px,#b4d4a0 328px,#c1d89f 331px,#d5e194 337px,#e5e899 342px,#f3f0af 347px,#f6f2b7 350px,#fcf8c7 353px,#fcf5bc 355px,#fcf1b2 356px,#fae9a2 357px,#f9e599 359px)"></div>
<div style="position:absolute;left:592px;top:215px;width:359px;height:2px;background:linear-gradient(90deg,#5357a1 0px,#5061a6 215px,#4c68aa 227px,#4e80c0 247px,#5088bc 258px,#5890be 276px,#70b0a8 300px,#88c0a0 311px,#b0d2a0 327px,#c0d8a0 331px,#d4e094 337px,#e4e898 342px,#f3efae 348px,#f6f2b7 351px,#fcf8c6 354px,#fcf4b8 356px,#faeaa5 357px,#fae59b 359px)"></div>
<div style="position:absolute;left:592px;top:217px;width:359px;height:2px;background:linear-gradient(90deg,#5357a1 0px,#5061a6 215px,#4c68aa 227px,#4e80c0 247px,#5088bc 259px,#5890be 276px,#70b0a8 300px,#88c0a0 311px,#afd2a0 327px,#c0d8a0 331px,#d4e094 337px,#e6e99a 343px,#f3efae 349px,#f7f3b9 353px,#fcf7c6 355px,#fcf5bd 356px,#fbedaa 357px,#fae69c 359px)"></div>
<div style="position:absolute;left:592px;top:219px;width:359px;height:2px;background:linear-gradient(90deg,#5357a1 0px,#5061a6 215px,#4c68aa 227px,#4e80c0 247px,#5088bc 259px,#5890be 276px,#70b0a8 300px,#88c0a0 311px,#afd2a0 327px,#bfd8a0 331px,#d3e094 337px,#e5e899 343px,#f4f0af 350px,#f6f2b7 354px,#fcf7c5 356px,#fcf1b3 357px,#fae79d 359px)"></div>
<div style="position:absolute;left:592px;top:221px;width:359px;height:1px;background:linear-gradient(90deg,#5357a1 0px,#4f61a7 215px,#4c68aa 227px,#4e80c0 247px,#5088bc 259px,#5890be 276px,#71b0a8 300px,#88c0a0 311px,#a1cda0 322px,#afd2a0 327px,#bfd8a0 331px,#d6e195 338px,#e5e899 343px,#f3f0af 350px,#f7f3b9 355px,#fbf7c5 356px,#fcf3b6 357px,#fae79e 359px)"></div>
<div style="position:absolute;left:592px;top:373px;width:359px;height:2px;background:linear-gradient(90deg,#f9f5bf 0px,#f4f0b1 20px,#f6f2b5 24px,#f8f4bd 69px,#faf6c2 73px,#fbf7c6 82px,#fcf5ba 142px,#fbf1b2 163px,#f9df8f 220px,#f7d784 245px,#f1c374 287px,#edb56b 310px,#e7a260 325px,#de8450 344px,#d9704b 359px)"></div>
<div style="position:absolute;left:592px;top:375px;width:359px;height:2px;background:linear-gradient(90deg,#f2efad 0px,#ececa5 18px,#f1efac 25px,#f3efae 65px,#f4f0b0 69px,#f7f3b8 72px,#fbf7c4 92px,#fcf8c6 116px,#fcf5bb 185px,#f9e499 257px,#f8de8d 271px,#f5d280 305px,#f3c878 319px,#eeb66c 330px,#df8851 348px,#da724c 359px)"></div>
<div style="position:absolute;left:592px;top:377px;width:359px;height:2px;background:linear-gradient(90deg,#e7ea9d 0px,#e4e899 18px,#e9ea9f 39px,#eaeba1 64px,#ececa4 68px,#f1efac 72px,#f3f0af 77px,#f6f2b7 80px,#f9f5bf 96px,#fbf7c5 147px,#fcf7c5 187px,#fcf6c0 197px,#fcf3b6 255px,#fbeba7 273px,#f9e498 308px,#f7db89 321px,#f1c273 334px,#df8952 351px,#da754c 359px)"></div>
<div style="position:absolute;left:592px;top:379px;width:359px;height:2px;background:linear-gradient(90deg,#dce496 0px,#d9e395 18px,#e2e798 65px,#e9ea9f 75px,#f0eeaa 80px,#f2efae 85px,#f6f2b5 88px,#f6f2b7 91px,#f8f4bc 184px,#f8f4bc 187px,#faf6c2 190px,#fbf7c5 194px,#fcf7c5 255px,#fcf5bd 270px,#fcf1b3 313px,#fbedaa 319px,#f9e293 327px,#f7d784 332px,#efbc6f 341px,#df8952 353px,#db774d 359px)"></div>
<div style="position:absolute;left:592px;top:381px;width:359px;height:2px;background:linear-gradient(90deg,#d0de96 0px,#cfde97 20px,#d5e195 42px,#d7e295 64px,#dee596 75px,#e7e99c 84px,#eeeda7 88px,#efeda8 90px,#f1eeab 149px,#f2efae 153px,#f6f2b6 157px,#f6f2b5 159px,#f2efad 162px,#f0eeaa 165px,#efeea9 182px,#f1efac 187px,#f7f3b8 190px,#f7f3ba 192px,#f8f4bd 258px,#f9f5be 261px,#fbf7c4 264px,#fbf7c5 266px,#fcf7c5 304px,#fcf6c0 318px,#fbf1b2 326px,#f7d986 336px,#f0bd70 344px,#de8550 355px,#db7a4d 359px)"></div>
<div style="position:absolute;left:592px;top:383px;width:359px;height:2px;background:linear-gradient(90deg,#c4da9d 0px,#c5da9d 30px,#cbdc99 41px,#cfde97 69px,#dee597 90px,#e0e697 119px,#e5e99b 150px,#e8ea9e 153px,#eeeda7 156px,#ededa6 159px,#e6e99c 162px,#e1e798 165px,#e0e697 182px,#e4e89b 187px,#ececa4 190px,#eeeda8 202px,#f0eea9 252px,#f2efae 261px,#f7f3b9 264px,#f7f3ba 266px,#f8f4bd 314px,#f9f5be 317px,#fbf7c5 320px,#fcf7c4 324px,#fcf5bb 329px,#fcf2b3 331px,#f7da87 339px,#f0bf71 346px,#df8a52 355px,#dc7d4e 359px)"></div>
<div style="position:absolute;left:592px;top:385px;width:359px;height:2px;background:linear-gradient(90deg,#b7d5a0 0px,#b8d5a0 32px,#c1d89f 40px,#c3d99e 68px,#cddd98 91px,#cede98 118px,#d5e195 128px,#d7e295 148px,#dce496 156px,#dbe396 159px,#cfde97 166px,#cedd98 177px,#cfde97 185px,#dee597 205px,#e0e697 249px,#e7e99c 260px,#eeeda8 265px,#efeea9 299px,#f2efad 314px,#f4f0b0 317px,#f7f3ba 320px,#f9f5be 325px,#fbf7c4 327px,#fcf7c5 329px,#fcf3b6 334px,#f7d885 342px,#f0bd70 348px,#df8951 356px,#dd7f4f 359px)"></div>
<div style="position:absolute;left:592px;top:387px;width:359px;height:2px;background:linear-gradient(90deg,#abd0a0 0px,#acd0a0 29px,#b4d4a0 36px,#b6d4a0 40px,#bbd6a0 119px,#bcd6a0 121px,#c4d99e 124px,#c7db9c 128px,#cbdc99 156px,#c8db9b 160px,#bcd79f 164px,#bbd6a0 184px,#bfd89e 197px,#c8db9b 200px,#cddd98 205px,#cede98 248px,#d8e295 259px,#dee597 266px,#e0e697 299px,#e9eba0 314px,#f2efad 320px,#f4f0b1 325px,#fbf7c4 330px,#fcf7c6 332px,#fcf2b4 337px,#f8dc89 343px,#f0c071 349px,#de8650 357px,#dd824f 359px)"></div>
<div style="position:absolute;left:592px;top:389px;width:359px;height:2px;background:linear-gradient(90deg,#a0cca0 0px,#a1cca0 27px,#aad0a0 37px,#abd0a0 118px,#acd1a0 121px,#b6d4a0 124px,#b9d5a0 132px,#bad6a0 157px,#b7d5a0 161px,#acd1a0 164px,#acd0a0 166px,#abd0a0 192px,#aed1a0 196px,#b7d5a0 200px,#bad6a0 203px,#bbd6a0 250px,#c5da9d 255px,#ccdd99 264px,#cede98 298px,#d7e295 308px,#e1e697 315px,#e6e99b 318px,#f2efad 326px,#fbf7c6 334px,#fcf7c4 335px,#fcf2b4 339px,#f8da87 345px,#f1c072 350px,#df8a52 357px,#de8650 359px)"></div>
<div style="position:absolute;left:592px;top:391px;width:359px;height:2px;background:linear-gradient(90deg,#98c8a0 0px,#99c8a0 25px,#9ecba0 40px,#a1cca0 115px,#a3cda0 120px,#a9cfa0 124px,#aad0a0 128px,#a9d0a0 159px,#a2cda0 167px,#a0cca0 182px,#a2cda0 193px,#a9d0a0 200px,#acd0a0 249px,#add1a0 251px,#b6d4a0 254px,#b9d5a0 259px,#bcd6a0 301px,#c4da9e 304px,#ccdd99 310px,#d8e295 316px,#e6e99b 322px,#f3f0af 329px,#f7f3b9 333px,#fcf8c6 336px,#fcf4b8 340px,#f8dc88 346px,#f1c072 351px,#e18e55 357px,#df8a52 359px)"></div>
<div style="position:absolute;left:592px;top:393px;width:359px;height:2px;background:linear-gradient(90deg,#90c4a0 0px,#98c8a0 113px,#9ecba0 132px,#9ecba0 156px,#99c8a0 170px,#98c8a0 187px,#9ecba0 201px,#a2cda0 245px,#aad0a0 256px,#aed1a0 298px,#bad6a0 309px,#d4e095 318px,#e1e797 323px,#e6e99b 325px,#f4f0b0 331px,#f5f1b4 333px,#fcf8c7 337px,#fcf4ba 341px,#f8dc89 347px,#f0bf71 352px,#e29257 357px,#e08e54 359px)"></div>
<div style="position:absolute;left:592px;top:395px;width:359px;height:2px;background:linear-gradient(90deg,#88c0a0 0px,#91c4a0 112px,#95c6a0 132px,#91c4a0 187px,#99c9a0 243px,#a0cca0 257px,#a8cfa0 293px,#b1d3a0 310px,#b8d5a0 313px,#bfd89f 315px,#d4e095 321px,#e0e697 325px,#e6e99b 327px,#f3efae 332px,#f8f4bb 336px,#fbf7c6 338px,#fcf7c5 339px,#fcf2b4 343px,#f8dc88 348px,#f0bd6f 353px,#e39659 357px,#e29157 359px)"></div>
<div style="position:absolute;left:592px;top:397px;width:359px;height:2px;background:linear-gradient(90deg,#81bba2 0px,#84bda1 67px,#8cc2a0 133px,#89c0a0 188px,#91c5a0 241px,#9fcba0 286px,#b0d2a0 313px,#b4d4a0 315px,#bdd7a0 317px,#d6e195 324px,#e4e899 328px,#f3efae 333px,#f6f2b7 336px,#fbf7c6 339px,#fcf7c6 340px,#fcf2b4 344px,#f8db87 349px,#f1c172 353px,#e59a5c 357px,#e39559 359px)"></div>
<div style="position:absolute;left:592px;top:399px;width:359px;height:2px;background:linear-gradient(90deg,#7ab7a5 0px,#7cb8a4 68px,#81bba2 83px,#83bda2 132px,#82bca2 191px,#89c1a0 241px,#98c8a0 282px,#9fcca0 297px,#afd2a0 315px,#b4d3a0 317px,#c1d89f 320px,#d7e295 326px,#e6e99b 330px,#f5f1b2 335px,#f8f4bb 338px,#fbf7c6 340px,#fcf7c5 341px,#fcf4ba 344px,#f8de8d 349px,#f0be70 354px,#e69e5e 357px,#e4995b 359px)"></div>
<div style="position:absolute;left:592px;top:401px;width:359px;height:2px;background:linear-gradient(90deg,#73b2a7 0px,#74b2a7 71px,#79b6a5 78px,#7ab7a5 86px,#7cb8a4 211px,#82bca2 242px,#8fc4a0 274px,#9ccaa0 298px,#aed1a0 317px,#b3d3a0 319px,#c1d89f 322px,#d6e194 327px,#e5e99a 331px,#f3efae 335px,#f6f2b7 338px,#fcf8c7 341px,#fcf4b9 345px,#f8dd89 350px,#f1c173 354px,#e7a260 357px,#e59d5d 359px)"></div>
<div style="position:absolute;left:592px;top:403px;width:359px;height:2px;background:linear-gradient(90deg,#6eadaa 0px,#6eadaa 67px,#73b2a7 84px,#74b2a7 212px,#79b6a5 222px,#7bb8a4 243px,#90c4a0 287px,#9fcca0 306px,#afd1a0 319px,#b4d3a0 321px,#bed7a0 323px,#d5e094 328px,#e1e797 331px,#e5e99a 332px,#f2efae 336px,#fcf8c7 342px,#fcf3b7 346px,#f9e08f 350px,#f7da86 351px,#f0bd6f 355px,#e8a662 357px,#e7a15f 359px)"></div>
<div style="position:absolute;left:592px;top:405px;width:359px;height:2px;background:linear-gradient(90deg,#69a8ad 0px,#6aa8ad 63px,#6dadaa 79px,#6eadaa 210px,#72b2a7 220px,#74b2a7 243px,#8ac1a0 286px,#9fcca0 309px,#afd2a0 321px,#bed7a0 324px,#d5e094 329px,#e2e797 332px,#e6e99a 333px,#f4f0b1 337px,#f8f4bb 340px,#fbf7c5 342px,#fcf8c6 343px,#fcf5ba 346px,#fcf2b3 347px,#f8dd8b 351px,#f1c072 355px,#eaaa65 357px,#e8a461 359px)"></div>
<div style="position:absolute;left:592px;top:407px;width:359px;height:2px;background:linear-gradient(90deg,#65a3b1 0px,#66a3b0 61px,#69a8ad 100px,#6aa9ad 205px,#73b2a7 257px,#86bfa1 287px,#a0cca0 312px,#b3d3a0 323px,#c3d99e 326px,#d5e094 330px,#e2e798 333px,#e6e99b 334px,#f2efad 337px,#f6f2b7 340px,#fcf8c7 343px,#fcf4b9 347px,#f9e090 351px,#f8da87 352px,#f1c374 355px,#ebae67 357px,#e9a864 359px)"></div>
<div style="position:absolute;left:592px;top:409px;width:359px;height:2px;background:linear-gradient(90deg,#619eb4 0px,#66a4b0 202px,#73b2a7 269px,#85bea1 291px,#a1cca0 314px,#b3d3a0 324px,#bed7a0 326px,#d6e194 331px,#e3e798 334px,#f5f1b2 339px,#fcf8c7 344px,#fcf3b5 348px,#f8dd8b 352px,#f0bf70 356px,#ecb269 357px,#eaac66 359px)"></div>
<div style="position:absolute;left:592px;top:411px;width:359px;height:2px;background:linear-gradient(90deg,#5d99b7 0px,#629fb3 200px,#6fafa9 269px,#73b2a7 277px,#7cb8a4 287px,#89c0a0 298px,#a0cca0 315px,#b3d3a0 325px,#bed7a0 327px,#d7e195 332px,#e4e898 335px,#f3efae 339px,#fbf7c5 344px,#fcf8c6 345px,#fcf4b9 348px,#fae59b 351px,#f7da86 353px,#f1c173 356px,#eeb66c 357px,#ebb068 359px)"></div>
<div style="position:absolute;left:592px;top:413px;width:359px;height:2px;background:linear-gradient(90deg,#5a94bb 0px,#5e9ab7 200px,#6fafa8 277px,#73b2a7 284px,#87bfa0 299px,#9fcca0 316px,#b0d2a0 325px,#c0d8a0 328px,#d3e094 332px,#e5e899 336px,#f3efae 340px,#fbf7c6 345px,#fcf7c5 346px,#fcf3b7 349px,#f8dd8a 353px,#efba6e 357px,#edb46a 359px)"></div>
<div style="position:absolute;left:592px;top:415px;width:359px;height:2px;background:linear-gradient(90deg,#5890be 0px,#5b95ba 199px,#609cb5 230px,#6fafa9 283px,#73b2a7 288px,#87c0a0 302px,#9fcca0 317px,#afd2a0 325px,#bed7a0 328px,#d5e194 333px,#e6e99b 337px,#f4f0b1 341px,#f8f4bc 344px,#fcf8c7 346px,#fcf4ba 349px,#fbf1b1 350px,#f7d885 354px,#f0be70 357px,#eeb86c 359px)"></div>
<div style="position:absolute;left:592px;top:417px;width:359px;height:2px;background:linear-gradient(90deg,#568ebe 0px,#5891bd 202px,#5d99b7 233px,#6fafa8 287px,#87c0a0 304px,#a1cca0 319px,#b2d3a0 326px,#c0d8a0 329px,#d7e195 334px,#e4e898 337px,#f3efae 341px,#f7f3b8 344px,#fbf7c5 346px,#fcf7c5 347px,#fcf3b7 350px,#f8dc88 354px,#f1c172 357px,#efbc6f 359px)"></div>
<div style="position:absolute;left:592px;top:419px;width:359px;height:2px;background:linear-gradient(90deg,#558dbd 0px,#5890be 215px,#5c97b9 238px,#6fafa9 289px,#73b2a7 294px,#88c0a0 306px,#a1cca0 320px,#b3d3a0 327px,#c2d99f 330px,#d4e094 334px,#e5e99a 338px,#f3efae 342px,#fcf8c7 347px,#fcf4ba 350px,#fbf1b1 351px,#f7d885 355px,#f2c676 357px,#f1c173 359px)"></div>
<div style="position:absolute;left:592px;top:421px;width:359px;height:2px;background:linear-gradient(90deg,#548cbd 0px,#5890be 229px,#5d99b8 248px,#6fafa8 293px,#89c0a0 308px,#b0d2a0 327px,#c0d8a0 330px,#d7e195 335px,#e3e898 338px,#f5f1b2 343px,#fcf8c7 347px,#fcf3b7 351px,#f8dc89 355px,#f4cc7b 357px,#f3c778 359px)"></div>
<div style="position:absolute;left:592px;top:423px;width:359px;height:2px;background:linear-gradient(90deg,#528abc 0px,#548cbd 203px,#5890be 238px,#5d99b7 254px,#70b0a8 296px,#88c0a0 309px,#a0cca0 321px,#afd2a0 327px,#bed7a0 330px,#d4e094 335px,#e6e99a 339px,#f4f0b1 343px,#fcf8c7 348px,#fcf5ba 351px,#fcf1b2 352px,#f7da86 356px,#f5d180 357px,#f4cd7c 359px)"></div>
<div style="position:absolute;left:592px;top:425px;width:359px;height:2px;background:linear-gradient(90deg,#5087bd 0px,#528abc 201px,#5890be 244px,#5d99b7 259px,#6fafa9 295px,#73b2a7 299px,#88c0a0 310px,#a0cca0 322px,#afd1a0 327px,#c1d89f 331px,#d7e195 336px,#e4e898 339px,#f4f0b1 343px,#f8f4bb 346px,#fbf7c6 348px,#fcf7c5 349px,#fcf4b8 352px,#f8de8c 356px,#f7d784 357px,#f6d381 359px)"></div>
<div style="position:absolute;left:592px;top:427px;width:359px;height:2px;background:linear-gradient(90deg,#4f84be 0px,#5087bd 199px,#5890be 249px,#5d99b8 263px,#72b1a7 300px,#87c0a0 311px,#a2cda0 323px,#b2d3a0 328px,#bfd8a0 331px,#d5e094 336px,#e6e99b 340px,#f2efad 343px,#f7f3b8 346px,#fcf8c7 349px,#fcf2b5 353px,#f8dd89 357px,#f7d986 359px)"></div>
<div style="position:absolute;left:592px;top:429px;width:359px;height:2px;background:linear-gradient(90deg,#4e80bf 0px,#4f84be 199px,#5088bc 218px,#5890be 253px,#5d99b7 267px,#70b0a8 300px,#87bfa0 312px,#a0cca0 323px,#b6d4a0 330px,#c1d89f 332px,#d3df95 336px,#d7e295 337px,#e4e898 340px,#f2efae 344px,#fbf7c6 349px,#fcf7c6 350px,#fcf4b9 353px,#f9e191 357px,#f8de8c 359px)"></div>
<div style="position:absolute;left:592px;top:431px;width:359px;height:2px;background:linear-gradient(90deg,#4d7cbc 0px,#4e81c0 200px,#5087bc 227px,#5890be 257px,#5c98b8 270px,#73b2a7 303px,#89c0a0 314px,#a1cca0 324px,#b3d3a0 330px,#bfd8a0 332px,#d5e094 337px,#e6e99b 341px,#f4f0b1 345px,#fcf8c7 350px,#fcf4b8 354px,#f9e599 357px,#f9e294 359px)"></div>
<div style="position:absolute;left:592px;top:433px;width:359px;height:2px;background:linear-gradient(90deg,#4c76b6 0px,#4d77b7 65px,#4d7cbc 80px,#4d7dbd 204px,#4e81c0 216px,#5087bc 233px,#5890be 261px,#5c98b8 272px,#72b2a7 304px,#89c0a0 315px,#9fcba0 324px,#afd1a0 329px,#bdd7a0 332px,#d7e195 338px,#e4e898 341px,#f4f0b1 345px,#fcf8c7 351px,#fcf3b6 355px,#fae9a1 357px,#fae69c 359px)"></div>
<div style="position:absolute;left:592px;top:435px;width:359px;height:2px;background:linear-gradient(90deg,#4c71b1 0px,#4c73b3 65px,#4c76b6 75px,#4d77b7 202px,#4e81c0 225px,#5189bc 240px,#5890be 264px,#5c98b8 275px,#71b0a8 304px,#89c0a0 316px,#a0cca0 325px,#c0d8a0 333px,#d4e094 338px,#e5e99a 342px,#f2efad 345px,#f6f2b7 348px,#fbf7c6 351px,#fcf8c6 352px,#fcf5ba 355px,#fbeda9 357px,#faeaa4 359px)"></div>
<div style="position:absolute;left:592px;top:437px;width:359px;height:2px;background:linear-gradient(90deg,#4c6cad 0px,#4c71b1 76px,#4c71b1 195px,#4d78b8 219px,#4e81c0 231px,#538bbd 247px,#5890be 267px,#5c98b8 278px,#70b0a8 304px,#80bba3 313px,#9ecba0 325px,#bfd7a0 333px,#d6e194 339px,#e6e99b 343px,#f5f1b2 347px,#fbf7c6 352px,#fcf7c6 353px,#fcf4ba 356px,#fbeeac 359px)"></div>
<div style="position:absolute;left:592px;top:439px;width:359px;height:2px;background:linear-gradient(90deg,#4c68aa 0px,#4c6bac 20px,#4c6cad 195px,#4c73b4 217px,#4e81c0 236px,#528abc 248px,#5890be 270px,#5c98b8 280px,#70b0a8 305px,#82bca2 315px,#a0cca0 326px,#c0d8a0 334px,#d6e195 340px,#e3e798 343px,#f5f1b2 348px,#fbf7c5 353px,#fcf8c6 354px,#fcf2b4 359px)"></div>
<div style="position:absolute;left:592px;top:441px;width:359px;height:2px;background:linear-gradient(90deg,#4d66a9 0px,#4c68aa 195px,#4c71b2 219px,#4e81c0 240px,#538bbd 253px,#5890be 273px,#5c97b9 282px,#70b0a8 306px,#7fbaa3 315px,#97c7a0 324px,#a2cda0 327px,#add1a0 329px,#b5d4a0 332px,#c1d8a0 335px,#d7e195 341px,#e6e99b 345px,#f4f0b1 349px,#fcf7c6 355px,#fcf6be 359px)"></div>
<div style="position:absolute;left:592px;top:443px;width:359px;height:2px;background:linear-gradient(90deg,#4e64a8 0px,#4c68aa 207px,#4c70b1 223px,#4e80bf 243px,#528abd 254px,#5890be 275px,#5c97b9 284px,#70b0a8 306px,#71b1a8 309px,#7eb9a3 316px,#90c4a0 323px,#9fcba0 327px,#add1a0 330px,#bdd7a0 335px,#d6e195 342px,#e5e99a 346px,#f3efae 350px,#fbf7c5 359px)"></div>
<div style="position:absolute;left:592px;top:445px;width:359px;height:2px;background:linear-gradient(90deg,#4f62a7 0px,#4d66a9 205px,#4c6cad 222px,#4e80bf 246px,#528abc 256px,#5890be 278px,#5b96ba 285px,#6eaea9 306px,#71b0a8 311px,#7ab7a5 316px,#8dc2a0 323px,#9fcba0 328px,#aed1a0 331px,#b5d4a0 334px,#c1d89f 337px,#d5e194 343px,#e3e798 347px,#f2efae 353px,#f7f3b8 356px,#f7f3ba 359px)"></div>
<div style="position:absolute;left:592px;top:447px;width:359px;height:2px;background:linear-gradient(90deg,#5061a6 0px,#4f62a7 199px,#4c69ab 222px,#4e80bf 249px,#538bbd 261px,#5991bd 282px,#5d99b7 290px,#71b1a8 313px,#78b5a5 317px,#89c0a0 323px,#9fcba0 329px,#aad0a0 331px,#c0d8a0 338px,#d7e195 345px,#e5e99a 350px,#f1eeab 355px,#f2efae 359px)"></div>
<div style="position:absolute;left:592px;top:449px;width:359px;height:2px;background:linear-gradient(90deg,#5061a6 0px,#4f62a7 207px,#4c6aac 227px,#4e80bf 251px,#528abd 262px,#5891bd 284px,#5d99b7 292px,#74b3a7 318px,#88c0a0 324px,#9fcba0 330px,#aed1a0 333px,#bfd8a0 339px,#d4e094 346px,#e5e99a 353px,#ebeba2 359px)"></div>
<div style="position:absolute;left:592px;top:451px;width:359px;height:2px;background:linear-gradient(90deg,#5061a6 0px,#5061a6 207px,#4c6aac 229px,#4d7aba 249px,#4e80c0 253px,#528abd 264px,#5891bd 286px,#6aa9ad 308px,#72b1a7 319px,#88c0a0 325px,#add1a0 334px,#b2d3a0 337px,#c1d89f 341px,#d4e095 348px,#e0e697 354px,#e4e899 359px)"></div>
<div style="position:absolute;left:592px;top:453px;width:359px;height:2px;background:linear-gradient(90deg,#5060a6 0px,#5061a6 211px,#4c6aab 231px,#4c74b4 244px,#4e80c0 255px,#528abd 266px,#5890be 287px,#6fafa8 319px,#88c0a0 326px,#abd0a0 335px,#b2d3a0 338px,#c3d99e 343px,#d3e095 350px,#dde596 359px)"></div>
<div style="position:absolute;left:592px;top:455px;width:359px;height:2px;background:linear-gradient(90deg,#5060a6 0px,#4f61a7 214px,#4c6aac 234px,#4c74b4 245px,#4e80c0 256px,#528abc 267px,#5890be 289px,#5c98b8 297px,#71b1a8 320px,#88c0a0 327px,#aed1a0 337px,#c1d99f 344px,#d3df95 353px,#d7e295 359px)"></div>
<div style="position:absolute;left:592px;top:457px;width:359px;height:2px;background:linear-gradient(90deg,#5060a6 0px,#4f61a7 216px,#4c6aac 236px,#4e80c0 258px,#528abd 271px,#5890be 291px,#5c99b8 299px,#71b1a8 321px,#88c0a0 328px,#aad0a0 337px,#c0d8a0 345px,#ccdd99 352px,#d2df95 359px)"></div>
<div style="position:absolute;left:592px;top:459px;width:359px;height:2px;background:linear-gradient(90deg,#5060a6 0px,#4f61a7 218px,#4c6aab 237px,#4e80c0 259px,#528abd 273px,#5890be 293px,#5d99b7 301px,#71b1a8 322px,#88c0a0 329px,#b1d2a0 340px,#c4da9e 349px,#cddd98 359px)"></div>
<div style="position:absolute;left:592px;top:461px;width:359px;height:2px;background:linear-gradient(90deg,#5060a6 0px,#4f61a7 220px,#4c69ab 238px,#4e80c0 261px,#528abd 275px,#5890be 294px,#5c98b8 302px,#71b1a8 323px,#88c0a0 330px,#aed1a0 340px,#c1d8a0 349px,#c9db9b 359px)"></div>
<div style="position:absolute;left:592px;top:463px;width:359px;height:2px;background:linear-gradient(90deg,#505fa6 0px,#5061a6 221px,#4c6aac 240px,#4c74b4 251px,#4e80c0 262px,#5088bc 273px,#558dbd 287px,#5890be 297px,#6fafa9 323px,#89c0a0 331px,#b0d2a0 342px,#c0d8a0 351px,#c5da9d 359px)"></div>
<div style="position:absolute;left:592px;top:465px;width:359px;height:2px;background:linear-gradient(90deg,#505fa6 0px,#4f61a7 222px,#4c6aac 242px,#4e80c0 263px,#5088bc 274px,#548cbd 286px,#5890be 299px,#6fafa9 323px,#89c1a0 332px,#aed1a0 342px,#bcd6a0 350px,#c2d99f 359px)"></div>
<div style="position:absolute;left:592px;top:467px;width:359px;height:2px;background:linear-gradient(90deg,#505fa6 0px,#5061a6 223px,#4c69ab 242px,#4e80c0 264px,#5088bc 277px,#5890be 300px,#5d99b8 307px,#71b0a8 325px,#89c1a0 333px,#b1d2a0 344px,#bad6a0 351px,#bfd7a0 359px)"></div>
<div style="position:absolute;left:592px;top:469px;width:359px;height:2px;background:linear-gradient(90deg,#505fa5 0px,#5061a6 224px,#4c6aac 244px,#4e80c0 265px,#5088bc 279px,#5890be 302px,#6fafa9 325px,#87bfa0 333px,#9ecba0 340px,#b1d2a0 344px,#bcd6a0 359px)"></div>
<div style="position:absolute;left:592px;top:471px;width:359px;height:2px;background:linear-gradient(90deg,#505fa5 0px,#4f61a7 226px,#4c69ab 244px,#4e80c0 266px,#5088bc 281px,#5890be 303px,#5c98b8 309px,#6fafa9 325px,#8ac1a0 335px,#9fcca0 341px,#add1a0 344px,#b4d3a0 349px,#b9d5a0 359px)"></div>
<div style="position:absolute;left:592px;top:473px;width:359px;height:2px;background:linear-gradient(90deg,#505ea5 0px,#4f61a7 228px,#4c6aac 246px,#4e80c0 267px,#5088bc 283px,#5891bd 305px,#5d99b7 311px,#71b0a8 327px,#8dc3a0 337px,#b0d2a0 346px,#b7d4a0 359px)"></div>
<div style="position:absolute;left:592px;top:475px;width:359px;height:2px;background:linear-gradient(90deg,#505ea5 0px,#4f61a7 230px,#4c6aac 248px,#4e80c0 268px,#5088bc 284px,#5890be 306px,#6fafa9 327px,#8ac1a0 337px,#afd2a0 347px,#b4d4a0 359px)"></div>
<div style="position:absolute;left:592px;top:477px;width:359px;height:2px;background:linear-gradient(90deg,#505ea5 0px,#4f61a7 232px,#4c6aab 249px,#4d7aba 262px,#4e80c0 270px,#5088bc 286px,#5890be 307px,#5d99b7 313px,#71b1a8 329px,#89c1a0 338px,#add1a0 348px,#b0d2a0 350px,#b3d3a0 359px)"></div>
<div style="position:absolute;left:592px;top:479px;width:359px;height:2px;background:linear-gradient(90deg,#515ea5 0px,#5061a6 233px,#4c69ab 250px,#4d79b9 262px,#4e80c0 271px,#5088bc 288px,#5890be 308px,#5d99b8 314px,#71b0a8 330px,#89c0a0 339px,#abd0a0 350px,#b1d2a0 354px,#b1d2a0 359px)"></div>
<div style="position:absolute;left:592px;top:481px;width:359px;height:2px;background:linear-gradient(90deg,#515ea5 0px,#5061a6 234px,#4c69ab 251px,#4d7aba 264px,#4e80c0 272px,#5088bc 289px,#5890be 309px,#5c98b8 315px,#71b1a8 331px,#87c0a0 340px,#add1a0 354px,#b0d2a0 359px)"></div>
<div style="position:absolute;left:592px;top:483px;width:359px;height:2px;background:linear-gradient(90deg,#515da5 0px,#4f61a7 236px,#4c6aac 254px,#4d79b9 264px,#4e80c0 274px,#5088bc 290px,#5890be 310px,#5c98b8 316px,#71b0a8 332px,#88c0a0 342px,#a0cca0 352px,#add1a0 356px,#afd2a0 359px)"></div>
<div style="position:absolute;left:592px;top:485px;width:359px;height:2px;background:linear-gradient(90deg,#515da5 0px,#4f61a7 239px,#4c6aab 255px,#4d79b9 266px,#4e80c0 275px,#5088bc 292px,#5890be 311px,#5b97b9 316px,#72b2a7 334px,#89c0a0 344px,#a7cfa0 359px)"></div>
<div style="position:absolute;left:592px;top:487px;width:359px;height:2px;background:linear-gradient(90deg,#515da5 0px,#4f61a7 240px,#4c6aac 257px,#4d79b9 267px,#4e80c0 277px,#5088bc 293px,#5891be 313px,#5d99b7 319px,#70b0a8 334px,#7ebaa3 341px,#8ac1a0 347px,#9bcaa0 359px)"></div>
<div style="position:absolute;left:592px;top:489px;width:359px;height:2px;background:linear-gradient(90deg,#515da4 0px,#4f61a7 241px,#4c6aab 258px,#4d79b9 268px,#4e80c0 278px,#5088bc 294px,#5890be 314px,#5c99b8 320px,#70b0a8 335px,#87bfa0 348px,#93c6a0 359px)"></div>
<div style="position:absolute;left:592px;top:491px;width:359px;height:2px;background:linear-gradient(90deg,#515da4 0px,#5061a6 241px,#4c6aab 259px,#4d7aba 270px,#4e80c0 279px,#5088bc 295px,#5890be 315px,#5d99b7 322px,#70b0a8 337px,#83bda2 349px,#8cc2a0 359px)"></div>
<div style="position:absolute;left:592px;top:493px;width:359px;height:2px;background:linear-gradient(90deg,#515ca4 0px,#4f61a7 242px,#4c6aac 261px,#4d79b9 270px,#4e80c0 281px,#5088bc 296px,#5890be 316px,#5c97b9 322px,#70b0a8 338px,#80bba3 350px,#86bfa1 359px)"></div>
<div style="position:absolute;left:592px;top:495px;width:359px;height:2px;background:linear-gradient(90deg,#515ca4 0px,#4f61a7 243px,#4c69ab 261px,#4d79b9 272px,#4e80c0 283px,#5088bc 297px,#5890be 318px,#5a94bb 321px,#6eaea9 338px,#7db8a4 351px,#81bba2 359px)"></div>
<div style="position:absolute;left:592px;top:497px;width:359px;height:2px;background:linear-gradient(90deg,#515ca4 0px,#4f61a7 244px,#4c6aab 263px,#4d79b9 274px,#4e80c0 284px,#5088bc 298px,#5991bd 321px,#5d99b7 327px,#6eaea9 340px,#7cb8a4 359px)"></div>
<div style="position:absolute;left:592px;top:499px;width:359px;height:2px;background:linear-gradient(90deg,#515ca4 0px,#4f61a7 244px,#4c69ab 263px,#4d79b9 275px,#4e80c0 285px,#5088bc 300px,#5890be 322px,#5d99b7 329px,#6eadaa 342px,#78b5a5 359px)"></div>
<div style="position:absolute;left:592px;top:501px;width:359px;height:2px;background:linear-gradient(90deg,#515ca4 0px,#4f61a7 245px,#4c6aab 265px,#4d79b9 276px,#4e80c0 287px,#5088bc 301px,#5890be 324px,#5d99b7 331px,#6eaea9 346px,#74b3a7 359px)"></div>
<div style="position:absolute;left:592px;top:503px;width:359px;height:2px;background:linear-gradient(90deg,#515ba4 0px,#4f61a7 246px,#4c69ab 265px,#4d79b9 278px,#4e80c0 289px,#5088bc 303px,#5890be 326px,#5d99b7 333px,#6cacab 347px,#71b0a8 359px)"></div>
<div style="position:absolute;left:592px;top:505px;width:359px;height:2px;background:linear-gradient(90deg,#515ba4 0px,#4f61a7 247px,#4c69ab 265px,#4d79b9 279px,#4e80c0 290px,#5088bc 305px,#5890be 328px,#68a6af 347px,#6dacab 354px,#6dacaa 359px)"></div>
<div style="position:absolute;left:592px;top:507px;width:359px;height:2px;background:linear-gradient(90deg,#515ba3 0px,#4f61a7 248px,#4c6aab 267px,#4d79b9 280px,#4e80c0 292px,#5088bc 307px,#5890be 331px,#64a1b2 347px,#68a7ae 359px)"></div>
<div style="position:absolute;left:592px;top:509px;width:359px;height:2px;background:linear-gradient(90deg,#515ba3 0px,#4f61a7 249px,#4c69ab 268px,#4d79b9 282px,#4e80c0 294px,#5088bc 309px,#5890be 333px,#609db5 348px,#64a1b2 359px)"></div>
<div style="position:absolute;left:592px;top:511px;width:359px;height:2px;background:linear-gradient(90deg,#515aa3 0px,#4f61a7 251px,#4c69ab 269px,#4d79b9 284px,#4e80c0 296px,#5088bc 312px,#5890be 337px,#5d99b7 349px,#609cb5 359px)"></div>
<div style="position:absolute;left:592px;top:513px;width:359px;height:2px;background:linear-gradient(90deg,#515aa3 0px,#5061a6 251px,#4c6aab 271px,#4d79b9 286px,#4e80c0 298px,#5088bc 315px,#5890be 340px,#5c97b9 359px)"></div>
<div style="position:absolute;left:592px;top:515px;width:359px;height:2px;background:linear-gradient(90deg,#515aa3 0px,#4f61a7 253px,#4c6aab 273px,#4d79b9 288px,#4e80c0 300px,#538bbd 324px,#5992bc 359px)"></div>
<div style="position:absolute;left:592px;top:517px;width:359px;height:2px;background:linear-gradient(90deg,#525aa3 0px,#5061a6 253px,#4c69ab 273px,#4d79b9 290px,#4e80c0 302px,#528abd 326px,#578fbe 359px)"></div>
<div style="position:absolute;left:592px;top:519px;width:359px;height:2px;background:linear-gradient(90deg,#525aa3 0px,#4f61a7 255px,#4c69ab 274px,#4e80c0 304px,#538bbd 330px,#568ebe 359px)"></div>
<div style="position:absolute;left:592px;top:521px;width:359px;height:2px;background:linear-gradient(90deg,#5259a3 0px,#5061a6 256px,#4c6aac 279px,#4d7aba 297px,#4e80c0 307px,#538bbd 335px,#558dbd 359px)"></div>
<div style="position:absolute;left:592px;top:523px;width:359px;height:2px;background:linear-gradient(90deg,#5259a3 0px,#5061a6 257px,#4c6aab 281px,#4d79b9 298px,#4e80c0 309px,#538bbd 337px,#548cbd 359px)"></div>
<div style="position:absolute;left:592px;top:525px;width:359px;height:2px;background:linear-gradient(90deg,#5259a2 0px,#4f61a7 259px,#4c69ab 281px,#4d79b9 300px,#4e80c0 312px,#528abc 338px,#528abc 359px)"></div>
<div style="position:absolute;left:592px;top:527px;width:359px;height:2px;background:linear-gradient(90deg,#5259a2 0px,#5061a6 260px,#4c69ab 282px,#4d7aba 303px,#4e80c0 315px,#5088bc 338px,#5088bc 359px)"></div>
<div style="position:absolute;left:592px;top:529px;width:359px;height:2px;background:linear-gradient(90deg,#5258a2 0px,#5061a6 262px,#4c6bac 288px,#4d78b8 304px,#4e80c0 318px,#4f86bd 338px,#4f85bd 359px)"></div>
<div style="position:absolute;left:592px;top:531px;width:359px;height:2px;background:linear-gradient(90deg,#5258a2 0px,#5061a6 264px,#4c6aab 289px,#4d79b9 308px,#4e7fbf 321px,#4f84be 338px,#4f83bf 359px)"></div>
<div style="position:absolute;left:592px;top:533px;width:359px;height:2px;background:linear-gradient(90deg,#5258a2 0px,#5061a6 266px,#4c6aab 291px,#4d7aba 311px,#4e80c0 326px,#4e82bf 340px,#4e80bf 359px)"></div>
<div style="position:absolute;left:592px;top:535px;width:359px;height:2px;background:linear-gradient(90deg,#5258a2 0px,#5061a6 268px,#4c6aac 295px,#4d78b8 312px,#4e7fbf 329px,#4e80c0 341px,#4d7cbc 359px)"></div>
<div style="position:absolute;left:592px;top:537px;width:359px;height:2px;background:linear-gradient(90deg,#5258a2 0px,#5061a6 269px,#4c6aab 297px,#4d7aba 319px,#4e7dbd 329px,#4e7dbd 341px,#4d79b9 359px)"></div>
<div style="position:absolute;left:592px;top:539px;width:359px;height:2px;background:linear-gradient(90deg,#5258a2 0px,#5061a6 270px,#4c69ab 298px,#4d7aba 323px,#4d7cbc 330px,#4c76b6 359px)"></div>
<div style="position:absolute;left:592px;top:541px;width:359px;height:2px;background:linear-gradient(90deg,#5258a2 0px,#5061a6 272px,#4c68aa 301px,#4d7aba 330px,#4c73b3 359px)"></div>
<div style="position:absolute;left:592px;top:543px;width:359px;height:2px;background:linear-gradient(90deg,#5258a2 0px,#5061a6 275px,#4c68aa 304px,#4c77b7 330px,#4c71b2 359px)"></div>
<div style="position:absolute;left:592px;top:545px;width:359px;height:2px;background:linear-gradient(90deg,#5357a2 0px,#5061a6 277px,#4c68aa 309px,#4c73b3 333px,#4c6fb0 359px)"></div>
<div style="position:absolute;left:592px;top:547px;width:359px;height:2px;background:linear-gradient(90deg,#5357a2 0px,#5258a2 68px,#505fa6 169px,#5061a6 279px,#4c68aa 313px,#4c70b0 335px,#4c6cad 359px)"></div>
<div style="position:absolute;left:592px;top:549px;width:359px;height:2px;background:linear-gradient(90deg,#5357a2 0px,#5258a2 74px,#505fa6 169px,#5061a6 283px,#4c6dae 336px,#4c6aab 359px)"></div>
<div style="position:absolute;left:592px;top:551px;width:359px;height:2px;background:linear-gradient(90deg,#5357a2 0px,#5258a2 78px,#505fa6 169px,#5061a6 287px,#4c6aac 337px,#4d66a9 359px)"></div>
<div style="position:absolute;left:592px;top:553px;width:359px;height:2px;background:linear-gradient(90deg,#5357a1 0px,#5258a2 83px,#505fa6 170px,#5061a6 291px,#4c69ab 331px,#4f63a7 359px)"></div>
<div style="position:absolute;left:592px;top:555px;width:359px;height:2px;background:linear-gradient(90deg,#5357a1 0px,#5258a2 85px,#505fa6 171px,#5061a6 299px,#4c68aa 330px,#4d66a9 342px,#505fa6 348px,#505fa5 359px)"></div>
<div style="position:absolute;left:592px;top:557px;width:359px;height:1px;background:linear-gradient(90deg,#5357a1 0px,#5258a2 87px,#505fa6 171px,#4f61a7 306px,#4d66a9 316px,#4c68aa 329px,#4d66a9 341px,#515ca4 348px,#515ca4 359px)"></div>
<div style="position:absolute;left:592px;top:710px;width:359px;height:2px;background:linear-gradient(90deg,#f9f5bf 0px,#fcf7c6 32px,#fcf4b8 105px,#fbf0b0 107px,#f9df8f 111px,#f2c676 115px,#ebad66 118px,#e7a160 120px,#e29257 126px,#de8350 130px,#db794d 143px,#d96d4b 146px,#d8694a 148px,#d25d4a 158px,#c8524d 167px,#aa2c56 207px,#a42556 225px,#a12255 247px,#ac2f55 275px,#c04750 294px,#d66449 324px,#de8550 350px,#e18f55 359px)"></div>
<div style="position:absolute;left:592px;top:712px;width:359px;height:2px;background:linear-gradient(90deg,#f3f0af 0px,#f4f0b0 12px,#f7f3b9 18px,#f8f4bc 29px,#faf6c1 33px,#fbf7c6 45px,#fcf6bf 97px,#fcf4b9 107px,#fbf0b0 109px,#f8db8a 115px,#f4cb7b 119px,#efba6e 126px,#e9a863 130px,#e7a260 138px,#e59c5d 141px,#e08c53 144px,#de8450 146px,#dc7d4e 157px,#d9704b 160px,#d86a4a 163px,#d35f4a 177px,#cc564c 184px,#b83e52 229px,#b63c53 248px,#bf4650 275px,#cd574b 292px,#d76649 313px,#dc7e4e 337px,#e19056 359px)"></div>
<div style="position:absolute;left:592px;top:714px;width:359px;height:2px;background:linear-gradient(90deg,#ececa4 0px,#ededa6 11px,#f2efad 16px,#f4f0b0 27px,#f7f3b8 32px,#fbf7c5 62px,#fcf8c7 84px,#fcf7c4 98px,#fcf6c1 105px,#fcf5ba 110px,#f9e498 118px,#f8df8f 121px,#f5d280 129px,#f2c475 139px,#f0bd70 141px,#eaaa64 144px,#e7a160 156px,#e69f5e 157px,#e4975a 158px,#e08b53 159px,#de8550 160px,#dc7d4e 177px,#d96e4b 181px,#d8694a 185px,#d25f4a 215px,#cc564c 222px,#ca534d 228px,#c8524d 248px,#ce594b 277px,#d25d49 283px,#d86a4a 292px,#dd804f 331px,#df8851 336px,#e08e54 351px,#e39558 354px,#e4995b 359px)"></div>
<div style="position:absolute;left:592px;top:716px;width:359px;height:2px;background:linear-gradient(90deg,#e5e99a 0px,#e6e99b 11px,#ebeba2 24px,#f1efac 30px,#f3f0af 38px,#f6f2b7 44px,#f7f3b9 53px,#f8f4bd 58px,#fcf8c6 106px,#fcf5ba 116px,#fae69d 132px,#f8df8f 138px,#f5d280 144px,#f3c979 155px,#f1c475 157px,#ebaf68 160px,#eaab65 171px,#e8a663 174px,#e7a361 175px,#e08c53 178px,#df8851 179px,#dd814f 185px,#dc7c4e 217px,#d96f4b 220px,#d86b4a 222px,#d76749 229px,#d76749 251px,#d86c4a 278px,#da724c 284px,#dc7d4e 287px,#dd804f 289px,#df8b53 333px,#e3975a 339px,#e59b5c 351px,#e8a562 354px,#eaab65 359px)"></div>
<div style="position:absolute;left:592px;top:718px;width:359px;height:2px;background:linear-gradient(90deg,#dde596 0px,#dee596 11px,#e3e899 26px,#eaeba1 37px,#f1eeab 42px,#f3efae 50px,#f6f2b7 56px,#f7f3b9 79px,#f8f4bd 85px,#f9f5c0 102px,#fbf7c5 111px,#fcf7c5 118px,#fcf5bd 133px,#faeaa5 144px,#fae59a 154px,#f8dc8c 160px,#f6d584 172px,#f4ce7d 175px,#edb66c 178px,#ebae67 187px,#e9a964 211px,#e7a15f 215px,#e08c53 218px,#de8550 220px,#dd814f 227px,#de8450 282px,#df8952 286px,#e59c5c 290px,#e6a05f 293px,#e7a260 302px,#e69e5e 335px,#e9a964 338px,#eaad66 340px,#ecb369 350px,#efbd6f 359px)"></div>
<div style="position:absolute;left:592px;top:720px;width:359px;height:2px;background:linear-gradient(90deg,#d6e195 0px,#d7e295 22px,#e2e798 38px,#e9eba0 49px,#f1eeab 55px,#f2efad 74px,#f6f2b7 82px,#f7f3b9 108px,#f9f5bf 131px,#fcf7c4 137px,#fcf5bd 155px,#fcf3b7 161px,#fbf0b2 172px,#fbeda9 176px,#f8df92 182px,#f7da8a 186px,#f6d685 209px,#f5d280 212px,#f4cc7b 214px,#f3c878 215px,#edb66c 217px,#ecb069 218px,#ebae67 220px,#eaac66 273px,#e9a964 285px,#eaaa65 287px,#efbc70 290px,#f0bf72 291px,#f2c575 295px,#f2c575 306px,#efba6e 332px,#f1c273 341px,#f3ca79 359px)"></div>
<div style="position:absolute;left:592px;top:722px;width:359px;height:2px;background:linear-gradient(90deg,#cedd98 0px,#ccdd99 12px,#cede98 25px,#d7e195 38px,#dfe597 49px,#e6e99b 57px,#e9ea9f 74px,#ebeba2 77px,#f0eeaa 80px,#f2efad 127px,#f3f0af 131px,#f8f4bb 136px,#f8f4bd 140px,#fcf6c2 181px,#fcf4ba 184px,#fcf2b6 187px,#fbf1b4 205px,#fbf0b1 210px,#fbeeac 212px,#f9e396 216px,#f8dd8e 218px,#f7d989 223px,#f7d888 273px,#f5d280 285px,#f8dc8b 294px,#f8dd8d 301px,#f4ce7d 333px,#f6d683 359px)"></div>
<div style="position:absolute;left:592px;top:724px;width:359px;height:2px;background:linear-gradient(90deg,#c6da9d 0px,#c2d99f 12px,#c4d99e 27px,#d7e195 53px,#dbe396 59px,#dee596 74px,#e4e89a 82px,#e8ea9e 124px,#eaeba1 130px,#f0eeaa 135px,#f3efae 177px,#f3f0b0 179px,#f9f5be 182px,#faf6c1 185px,#fcf7c3 213px,#fcf3b8 219px,#fcf2b5 224px,#fbf1b4 276px,#faeba6 286px,#fbefae 295px,#fbefae 303px,#f9e193 326px,#f8de8d 333px,#f9e192 359px)"></div>
<div style="position:absolute;left:592px;top:726px;width:359px;height:2px;background:linear-gradient(90deg,#bed7a0 0px,#bcd6a0 6px,#b6d4a0 10px,#b8d5a0 31px,#b8d5a0 33px,#c1d89f 38px,#c7db9c 50px,#cfde97 59px,#d2df96 74px,#dbe496 95px,#dee597 129px,#e3e899 136px,#e7ea9d 169px,#eaeba1 177px,#f1eeab 182px,#f3efae 207px,#f4f0b1 210px,#f8f4bd 214px,#faf6c1 219px,#faf6c1 279px,#fcf7c4 282px,#fcf6c1 286px,#fcf6c1 307px,#fae9a2 337px,#faeaa4 359px)"></div>
<div style="position:absolute;left:592px;top:728px;width:359px;height:2px;background:linear-gradient(90deg,#b5d4a0 0px,#b3d3a0 7px,#acd1a0 14px,#acd1a0 29px,#b5d4a0 37px,#b9d5a0 51px,#c1d89f 55px,#c4d99e 59px,#c9db9b 85px,#d0de97 96px,#d1df96 124px,#d6e195 137px,#d7e295 158px,#e1e697 177px,#e6e99c 184px,#e9ea9f 203px,#ebeca3 208px,#f1eeab 212px,#f3f0af 276px,#f4f0b1 279px,#f8f4bc 282px,#f8f4bd 284px,#f9f5be 306px,#fbf7c5 311px,#fcf7c5 318px,#fcf2b5 340px,#fcf2b5 359px)"></div>
<div style="position:absolute;left:592px;top:730px;width:359px;height:2px;background:linear-gradient(90deg,#aad0a0 0px,#aad0a0 9px,#a3cda0 16px,#a3cda0 27px,#aad0a0 34px,#add1a0 49px,#b6d4a0 56px,#bad6a0 87px,#c0d89f 90px,#c3d99e 94px,#c9dc9b 157px,#d1df96 170px,#dae396 183px,#dee596 200px,#e7e99c 215px,#ececa4 274px,#eeeda7 278px,#f2efad 282px,#f5f1b2 305px,#f7f3ba 311px,#f8f4bd 319px,#fbf7c5 323px,#fcf7c5 329px,#fcf6be 342px,#fcf6be 359px)"></div>
<div style="position:absolute;left:592px;top:732px;width:359px;height:2px;background:linear-gradient(90deg,#a0cca0 0px,#9bcaa0 25px,#a3cda0 46px,#aad0a0 52px,#acd1a0 84px,#b5d4a0 90px,#b7d4a0 94px,#b9d6a0 158px,#c3d99e 164px,#cfde97 183px,#d2df96 200px,#dbe496 215px,#e2e797 260px,#e6e99a 275px,#ebeba2 284px,#efeea9 303px,#f3f0af 308px,#f5f1b2 319px,#f7f3b9 322px,#f8f4bc 327px,#fbf7c5 334px,#fcf7c5 359px)"></div>
<div style="position:absolute;left:592px;top:734px;width:359px;height:2px;background:linear-gradient(90deg,#98c8a0 0px,#94c6a0 24px,#a0cca0 55px,#a2cda0 82px,#aad0a0 90px,#acd1a0 155px,#b6d4a0 163px,#b8d5a0 173px,#bfd89f 176px,#c3d99e 181px,#c6da9d 199px,#d0de96 217px,#dce496 271px,#e9eba0 301px,#f1eeab 318px,#faf6c1 340px,#faf6c2 359px)"></div>
<div style="position:absolute;left:592px;top:736px;width:359px;height:2px;background:linear-gradient(90deg,#90c4a0 0px,#8dc3a0 25px,#99c8a0 57px,#a4cea0 153px,#abd0a0 160px,#add1a0 173px,#b4d4a0 176px,#b6d4a0 178px,#b8d5a0 201px,#bfd7a0 204px,#c2d99e 209px,#c5da9d 231px,#cbdc99 240px,#cedd98 258px,#d6e195 277px,#e5e99a 304px,#ececa4 318px,#f3f0b0 328px,#f7f3b8 340px,#f7f3b9 359px)"></div>
<div style="position:absolute;left:592px;top:738px;width:359px;height:2px;background:linear-gradient(90deg,#88c0a0 0px,#87bfa0 26px,#92c5a0 58px,#93c5a0 82px,#99c8a0 109px,#9dcba0 154px,#a4cda0 171px,#aad0a0 176px,#acd1a0 198px,#b5d4a0 206px,#b8d5a0 232px,#c0d89f 239px,#c3d99e 255px,#d6e195 290px,#e5e99a 314px,#f3f0b0 336px,#f4f0b1 359px)"></div>
<div style="position:absolute;left:592px;top:740px;width:359px;height:2px;background:linear-gradient(90deg,#81bba2 0px,#80bba3 27px,#8bc1a0 59px,#8bc1a0 84px,#92c5a0 113px,#97c7a0 152px,#a3cda0 195px,#aad0a0 202px,#add1a0 229px,#b5d4a0 238px,#b7d5a0 259px,#bed7a0 264px,#c2d99f 273px,#d6e195 301px,#e3e798 319px,#eeeda7 336px,#f0eeaa 359px)"></div>
<div style="position:absolute;left:592px;top:742px;width:359px;height:2px;background:linear-gradient(90deg,#7ab7a5 0px,#7ab7a5 29px,#84bea1 58px,#83bda2 87px,#8bc1a0 114px,#90c4a0 153px,#a5cea0 227px,#abd0a0 234px,#aed1a0 256px,#b4d4a0 263px,#b6d4a0 273px,#bdd7a0 277px,#c1d99f 285px,#d6e194 309px,#e3e798 326px,#e9ea9f 336px,#ebeca3 359px)"></div>
<div style="position:absolute;left:592px;top:744px;width:359px;height:2px;background:linear-gradient(90deg,#73b2a7 0px,#73b2a7 33px,#78b5a5 38px,#7fbaa3 61px,#7cb8a4 90px,#84bea1 114px,#8dc3a0 170px,#9ecba0 227px,#a8cfa0 255px,#acd1a0 260px,#aed1a0 271px,#b4d3a0 277px,#b6d4a0 285px,#c2d99f 294px,#d5e194 316px,#e4e899 337px,#e7e99c 359px)"></div>
<div style="position:absolute;left:592px;top:746px;width:359px;height:2px;background:linear-gradient(90deg,#6dacaa 0px,#6dadaa 31px,#71b1a8 36px,#78b6a5 60px,#74b3a7 92px,#79b6a5 98px,#7eb9a3 114px,#86bfa1 170px,#8dc2a0 194px,#a1cca0 253px,#add1a0 274px,#afd2a0 284px,#bfd8a0 298px,#d3df95 320px,#dae395 329px,#e0e697 342px,#e2e798 359px)"></div>
<div style="position:absolute;left:592px;top:748px;width:359px;height:2px;background:linear-gradient(90deg,#68a6ae 0px,#69a7ae 29px,#72b1a7 55px,#72b1a7 76px,#6eadaa 89px,#78b5a5 114px,#82bca2 183px,#9dcaa0 255px,#a9d0a0 281px,#b5d4a0 297px,#bed7a0 304px,#d5e094 330px,#dbe396 342px,#dde596 359px)"></div>
<div style="position:absolute;left:592px;top:750px;width:359px;height:2px;background:linear-gradient(90deg,#63a0b3 0px,#64a1b2 29px,#6cabab 52px,#6cabab 80px,#69a8ad 89px,#6cacab 94px,#6eadaa 107px,#72b1a7 111px,#73b2a7 131px,#77b5a6 140px,#7bb7a4 182px,#89c1a0 219px,#9fcca0 271px,#b0d2a0 297px,#bfd7a0 311px,#d0df96 331px,#d6e194 343px,#d8e295 359px)"></div>
<div style="position:absolute;left:592px;top:752px;width:359px;height:2px;background:linear-gradient(90deg,#5e9ab7 0px,#5e9bb6 28px,#65a3b1 54px,#64a2b1 89px,#68a6af 105px,#6cabab 110px,#6dacaa 128px,#72b1a7 136px,#73b2a7 183px,#89c1a0 231px,#9fcca0 280px,#b4d4a0 309px,#bed7a0 317px,#cbdc99 331px,#d1df96 343px,#d3e095 359px)"></div>
<div style="position:absolute;left:592px;top:754px;width:359px;height:2px;background:linear-gradient(90deg,#5a94bb 0px,#5f9cb5 89px,#66a4b0 126px,#6baaac 133px,#6dacaa 182px,#71b1a8 186px,#73b2a7 201px,#87bfa0 238px,#9dcaa0 283px,#b4d4a0 315px,#bfd8a0 323px,#c7db9c 332px,#ccdd99 344px,#cede98 359px)"></div>
<div style="position:absolute;left:592px;top:756px;width:359px;height:2px;background:linear-gradient(90deg,#578fbe 0px,#5a93bc 72px,#5f9cb6 124px,#63a0b2 135px,#67a5b0 180px,#6babac 186px,#6dadaa 201px,#71b1a8 204px,#87bfa0 248px,#9fcca0 293px,#b0d2a0 315px,#c2d99f 333px,#c9dc9b 359px)"></div>
<div style="position:absolute;left:592px;top:758px;width:359px;height:2px;background:linear-gradient(90deg,#568ebd 0px,#5891bd 100px,#5c97b9 160px,#609cb5 179px,#67a5af 199px,#71b0a8 213px,#87bfa0 257px,#9fcca0 299px,#bed7a0 335px,#c4da9e 359px)"></div>
<div style="position:absolute;left:592px;top:760px;width:359px;height:2px;background:linear-gradient(90deg,#548cbd 0px,#578fbe 160px,#5b95ba 181px,#609db5 199px,#6baaac 212px,#6dadaa 219px,#71b1a8 222px,#72b2a7 229px,#87bfa0 265px,#a0cca0 305px,#b8d5a0 334px,#bdd7a0 344px,#bfd8a0 359px)"></div>
<div style="position:absolute;left:592px;top:762px;width:359px;height:2px;background:linear-gradient(90deg,#5189bc 0px,#558dbd 163px,#578fbe 182px,#5a95ba 199px,#6cabac 222px,#71b0a8 231px,#89c0a0 275px,#9fcca0 310px,#b2d3a0 332px,#b8d5a0 344px,#b9d5a0 359px)"></div>
<div style="position:absolute;left:592px;top:764px;width:359px;height:2px;background:linear-gradient(90deg,#4f86bd 0px,#5189bc 157px,#578fbe 201px,#609cb5 217px,#6cabab 230px,#70b0a8 239px,#89c0a0 281px,#9fcca0 315px,#add1a0 330px,#b2d3a0 342px,#b3d3a0 359px)"></div>
<div style="position:absolute;left:592px;top:766px;width:359px;height:2px;background:linear-gradient(90deg,#4e82bf 0px,#4f86bd 155px,#548cbd 201px,#5992bc 215px,#5e9ab7 223px,#6cabab 238px,#71b1a8 246px,#89c0a0 286px,#add1a0 338px,#add1a0 359px)"></div>
<div style="position:absolute;left:592px;top:768px;width:359px;height:2px;background:linear-gradient(90deg,#4d7dbd 0px,#4e7ebe 109px,#4e81bf 117px,#4e82bf 157px,#528abc 199px,#5890be 220px,#6cabab 245px,#71b1a8 254px,#88c0a0 291px,#a6cea0 337px,#a8cfa0 359px)"></div>
<div style="position:absolute;left:592px;top:770px;width:359px;height:2px;background:linear-gradient(90deg,#4c76b6 0px,#4c76b6 105px,#4d7dbd 118px,#4e7dbd 161px,#4e81bf 168px,#4f84be 193px,#5189bc 208px,#5890be 227px,#66a4b0 245px,#71b1a8 260px,#88c0a0 295px,#9ccaa0 328px,#a1cca0 341px,#a3cda0 359px)"></div>
<div style="position:absolute;left:592px;top:772px;width:359px;height:2px;background:linear-gradient(90deg,#4c70b1 0px,#4c70b1 105px,#4c75b5 113px,#4c77b7 161px,#4d7cbc 168px,#4e7ebe 193px,#5086bd 209px,#5890be 232px,#70b0a8 264px,#87bfa0 299px,#98c8a0 327px,#9dcaa0 340px,#9ecba0 359px)"></div>
<div style="position:absolute;left:592px;top:774px;width:359px;height:2px;background:linear-gradient(90deg,#4c6bac 0px,#4c6bac 102px,#4c70b1 126px,#4c71b1 158px,#4c76b6 166px,#4d77b7 190px,#4e81bf 208px,#5086bd 217px,#5890be 237px,#6dadaa 264px,#7bb8a4 286px,#88c0a0 306px,#95c7a0 329px,#9ac9a0 359px)"></div>
<div style="position:absolute;left:592px;top:776px;width:359px;height:2px;background:linear-gradient(90deg,#4d67a9 0px,#4d67a9 106px,#4c6bac 127px,#4c6bad 158px,#4d77b7 204px,#4d7cbc 208px,#4e81bf 216px,#5086bd 225px,#5991bd 244px,#68a7ae 263px,#70b0a8 274px,#87bfa0 309px,#90c4a0 325px,#95c6a0 340px,#96c7a0 359px)"></div>
<div style="position:absolute;left:592px;top:778px;width:359px;height:2px;background:linear-gradient(90deg,#4d65a9 0px,#4d65a9 119px,#4c67aa 161px,#4c6bad 183px,#4c72b2 204px,#4e81bf 224px,#538bbd 235px,#578fbe 246px,#6dacaa 273px,#71b0a8 280px,#8cc2a0 325px,#92c5a0 359px)"></div>
<div style="position:absolute;left:592px;top:780px;width:359px;height:2px;background:linear-gradient(90deg,#4d65a9 0px,#4d67a9 183px,#4c6cae 202px,#4e81bf 229px,#5189bc 236px,#5890be 251px,#69a8ad 273px,#71b0a8 284px,#89c1a0 326px,#8ec3a0 359px)"></div>
<div style="position:absolute;left:592px;top:782px;width:359px;height:2px;background:linear-gradient(90deg,#4e65a8 0px,#4d67a9 201px,#4d79b9 226px,#4e81bf 232px,#5189bc 240px,#5890be 255px,#66a4b0 273px,#71b0a8 288px,#86bea1 324px,#8bc1a0 359px)"></div>
<div style="position:absolute;left:592px;top:784px;width:359px;height:2px;background:linear-gradient(90deg,#4e65a8 0px,#4d67a9 207px,#4c74b4 225px,#4e81bf 236px,#538bbd 245px,#5890be 259px,#6fafa9 289px,#83bca2 324px,#87bfa0 359px)"></div>
<div style="position:absolute;left:592px;top:786px;width:359px;height:2px;background:linear-gradient(90deg,#4e65a8 0px,#4d66a9 208px,#4c70b1 225px,#4e81bf 240px,#5189bc 246px,#5891bd 263px,#6eaeaa 290px,#80bba3 325px,#83bda2 359px)"></div>
<div style="position:absolute;left:592px;top:788px;width:359px;height:2px;background:linear-gradient(90deg,#4e64a8 0px,#4d67a9 217px,#4c70b1 229px,#4e80bf 243px,#5189bc 250px,#5890be 266px,#6eaea9 294px,#7eb9a3 326px,#80bba3 359px)"></div>
<div style="position:absolute;left:592px;top:790px;width:359px;height:2px;background:linear-gradient(90deg,#4e64a8 0px,#4d66a9 218px,#4c6aab 226px,#4e81bf 247px,#538bbd 255px,#5890be 269px,#6eaea9 298px,#7bb7a4 326px,#7cb8a4 359px)"></div>
<div style="position:absolute;left:592px;top:792px;width:359px;height:2px;background:linear-gradient(90deg,#4e64a8 0px,#4d66a9 222px,#4c69ab 229px,#4e81bf 251px,#5189bc 256px,#5890be 272px,#6eaea9 302px,#78b6a5 327px,#79b6a5 359px)"></div>
<div style="position:absolute;left:592px;top:794px;width:359px;height:2px;background:linear-gradient(90deg,#4e64a8 0px,#4d66a9 226px,#4c69ab 233px,#4d7bbb 250px,#4e81c0 253px,#528abd 260px,#5890be 275px,#63a1b2 290px,#6eaea9 306px,#76b4a6 328px,#75b3a6 359px)"></div>
<div style="position:absolute;left:592px;top:796px;width:359px;height:2px;background:linear-gradient(90deg,#4e63a8 0px,#4d66a9 230px,#4c68aa 235px,#4d7aba 251px,#4e80bf 254px,#528abd 262px,#5891be 278px,#629fb3 292px,#6eaea9 310px,#74b2a7 332px,#71b1a8 359px)"></div>
<div style="position:absolute;left:592px;top:798px;width:359px;height:2px;background:linear-gradient(90deg,#4e63a8 0px,#4d65a9 233px,#4c74b4 247px,#4e80c0 256px,#528abd 264px,#5890be 280px,#619eb4 294px,#6eaeaa 314px,#70b0a8 321px,#71b1a8 351px,#70b0a8 355px,#6dacab 359px)"></div>
<div style="position:absolute;left:592px;top:800px;width:359px;height:2px;background:linear-gradient(90deg,#4e63a8 0px,#4d66a9 234px,#4c74b4 249px,#4e81c0 258px,#5189bc 265px,#5890be 283px,#609db5 296px,#6dadaa 318px,#70afa8 333px,#6baaac 355px,#67a5af 359px)"></div>
<div style="position:absolute;left:592px;top:802px;width:359px;height:2px;background:linear-gradient(90deg,#4f63a7 0px,#4d65a9 235px,#4c74b4 250px,#4e81bf 260px,#528abd 269px,#5890be 285px,#609db5 299px,#68a7ae 317px,#6cabab 333px,#5f9cb5 359px)"></div>
<div style="position:absolute;left:592px;top:804px;width:359px;height:2px;background:linear-gradient(90deg,#4f63a7 0px,#4d65a9 235px,#4c73b3 251px,#4e81c0 261px,#528abd 271px,#5890be 287px,#64a1b2 313px,#66a4b0 333px,#609db5 347px,#5992bc 359px)"></div>
<div style="position:absolute;left:592px;top:806px;width:359px;height:2px;background:linear-gradient(90deg,#4f62a7 0px,#4d65a9 235px,#4c68aa 241px,#4c73b3 252px,#4e81c0 262px,#528abd 273px,#5890be 289px,#609cb5 310px,#609cb5 334px,#5c98b8 345px,#5890bd 352px,#558dbd 359px)"></div>
<div style="position:absolute;left:592px;top:808px;width:359px;height:2px;background:linear-gradient(90deg,#4f62a7 0px,#4d65a9 237px,#4c73b3 253px,#4e80c0 263px,#528abd 275px,#5890be 292px,#5d99b8 308px,#5b96b9 332px,#5890be 348px,#538bbd 359px)"></div>
<div style="position:absolute;left:592px;top:810px;width:359px;height:2px;background:linear-gradient(90deg,#4f62a7 0px,#4d65a9 237px,#4c68aa 243px,#4c73b3 254px,#4e80c0 264px,#538bbd 277px,#5890be 294px,#5a95ba 305px,#5b96ba 316px,#5890be 337px,#538bbd 359px)"></div>
<div style="position:absolute;left:592px;top:812px;width:359px;height:2px;background:linear-gradient(90deg,#4f62a7 0px,#4d65a9 239px,#4c73b3 255px,#4e80c0 265px,#5088bc 274px,#548cbd 283px,#5a93bc 311px,#538bbd 359px)"></div>
<div style="position:absolute;left:592px;top:814px;width:359px;height:2px;background:linear-gradient(90deg,#4f61a7 0px,#4d65a9 239px,#4c6fb0 252px,#4e80c0 266px,#538bbd 280px,#5890be 310px,#538bbd 359px)"></div>
<div style="position:absolute;left:592px;top:816px;width:359px;height:2px;background:linear-gradient(90deg,#4f61a7 0px,#4d65a9 239px,#4c6aac 248px,#4e80c0 267px,#538bbd 280px,#578fbe 309px,#538bbd 332px,#538bbd 359px)"></div>
<div style="position:absolute;left:592px;top:818px;width:359px;height:2px;background:linear-gradient(90deg,#4f61a7 0px,#4d65a9 241px,#4c6dae 252px,#4e80c0 268px,#538bbd 280px,#578fbe 307px,#538bbd 324px,#538bbd 359px)"></div>
<div style="position:absolute;left:592px;top:820px;width:359px;height:2px;background:linear-gradient(90deg,#5061a6 0px,#4d65a9 241px,#4c69ab 249px,#4e80c0 269px,#538bbd 282px,#568ebe 307px,#538bbd 359px)"></div>
<div style="position:absolute;left:592px;top:822px;width:359px;height:2px;background:linear-gradient(90deg,#5061a6 0px,#4d65a9 243px,#4c69ab 251px,#4e80c0 270px,#538bbd 282px,#568ebd 307px,#538bbd 359px)"></div>
<div style="position:absolute;left:592px;top:824px;width:359px;height:2px;background:linear-gradient(90deg,#5060a6 0px,#4d65a9 245px,#4c6cae 255px,#4e7fbf 270px,#538bbd 282px,#558dbd 307px,#538bbd 359px)"></div>
<div style="position:absolute;left:592px;top:826px;width:359px;height:2px;background:linear-gradient(90deg,#5060a6 0px,#4d65a9 245px,#4c69ab 253px,#4e7fbf 271px,#538bbd 283px,#538bbd 359px)"></div>
<div style="position:absolute;left:592px;top:828px;width:359px;height:2px;background:linear-gradient(90deg,#5060a6 0px,#4d65a9 247px,#4c68aa 254px,#4e80c0 273px,#528abd 284px,#538bbd 359px)"></div>
<div style="position:absolute;left:592px;top:830px;width:359px;height:2px;background:linear-gradient(90deg,#5060a6 0px,#4f62a7 191px,#4d65a9 249px,#4c69ab 256px,#4e80c0 274px,#538bbd 289px,#538bbd 359px)"></div>
<div style="position:absolute;left:592px;top:832px;width:359px;height:2px;background:linear-gradient(90deg,#505fa6 0px,#4f62a7 193px,#4d65a9 251px,#4c69ab 257px,#4e80c0 275px,#528abd 290px,#538bbd 359px)"></div>
<div style="position:absolute;left:592px;top:834px;width:359px;height:2px;background:linear-gradient(90deg,#505fa5 0px,#4e65a8 247px,#4c69ab 258px,#4e80c0 277px,#528abd 294px,#538bbd 359px)"></div>
<div style="position:absolute;left:592px;top:836px;width:359px;height:2px;background:linear-gradient(90deg,#505fa5 0px,#4e65a8 246px,#4c68aa 259px,#4d79b9 271px,#4e80c0 279px,#528abc 297px,#538bbd 359px)"></div>
<div style="position:absolute;left:592px;top:838px;width:359px;height:2px;background:linear-gradient(90deg,#505ea5 0px,#4e64a8 246px,#4c68aa 260px,#4d79b9 272px,#4e80c0 281px,#5088bc 297px,#538bbd 312px,#538bbd 359px)"></div>
<div style="position:absolute;left:592px;top:840px;width:359px;height:2px;background:linear-gradient(90deg,#505ea5 0px,#4e64a8 247px,#4c69aa 262px,#4d79b9 274px,#4e80c0 284px,#538bbd 315px,#538bbd 359px)"></div>
<div style="position:absolute;left:592px;top:842px;width:359px;height:2px;background:linear-gradient(90deg,#515ea5 0px,#4e64a8 247px,#4c68aa 263px,#4d79b9 276px,#4e80c0 288px,#528abd 316px,#538bbd 359px)"></div>
<div style="position:absolute;left:592px;top:844px;width:359px;height:2px;background:linear-gradient(90deg,#515da5 0px,#4e64a8 247px,#4c68aa 265px,#4d79b9 278px,#4e80c0 292px,#538bbd 325px,#528abc 359px)"></div>
<div style="position:absolute;left:592px;top:846px;width:359px;height:2px;background:linear-gradient(90deg,#515da4 0px,#4e63a8 247px,#4c68aa 266px,#4d78b8 280px,#4e80c0 296px,#528abd 326px,#5189bc 359px)"></div>
<div style="position:absolute;left:592px;top:848px;width:359px;height:2px;background:linear-gradient(90deg,#515da4 0px,#4e63a8 247px,#4c68aa 268px,#4d78b8 283px,#4e80c0 300px,#5189bc 326px,#5088bc 359px)"></div>
<div style="position:absolute;left:592px;top:850px;width:359px;height:2px;background:linear-gradient(90deg,#515ca4 0px,#4f63a7 246px,#4c68aa 269px,#4d78b8 287px,#4e80c0 303px,#5087bc 326px,#5087bd 359px)"></div>
<div style="position:absolute;left:592px;top:852px;width:359px;height:2px;background:linear-gradient(90deg,#515ca4 0px,#4f62a7 246px,#4c68aa 270px,#4d78b8 291px,#4e80c0 306px,#4f86bd 327px,#4f85bd 359px)"></div>
<div style="position:absolute;left:592px;top:854px;width:359px;height:2px;background:linear-gradient(90deg,#515ca4 0px,#4f62a7 246px,#4c68aa 272px,#4e80c0 309px,#4f85be 328px,#4f84be 359px)"></div>
<div style="position:absolute;left:592px;top:856px;width:359px;height:2px;background:linear-gradient(90deg,#515ba4 0px,#4f61a7 246px,#4c68aa 273px,#4e7fbf 311px,#4e81c0 315px,#4f84be 332px,#4f83bf 359px)"></div>
<div style="position:absolute;left:592px;top:858px;width:359px;height:2px;background:linear-gradient(90deg,#515ba4 0px,#5061a6 246px,#4c68aa 274px,#4e80c0 317px,#4e81bf 359px)"></div>
<div style="position:absolute;left:592px;top:860px;width:359px;height:2px;background:linear-gradient(90deg,#515ba3 0px,#5060a6 246px,#4c68aa 276px,#4e80c0 319px,#4e80bf 359px)"></div>
<div style="position:absolute;left:592px;top:862px;width:359px;height:2px;background:linear-gradient(90deg,#515ba3 0px,#5060a6 244px,#4c68aa 277px,#4c73b3 299px,#4d7aba 307px,#4e7fbf 321px,#4e80c0 337px,#4e7dbd 359px)"></div>
<div style="position:absolute;left:592px;top:864px;width:359px;height:2px;background:linear-gradient(90deg,#515aa3 0px,#505fa6 245px,#4c68aa 279px,#4e7dbd 321px,#4e7fbf 337px,#4d7bbb 359px)"></div>
<div style="position:absolute;left:592px;top:866px;width:359px;height:2px;background:linear-gradient(90deg,#515aa3 0px,#505ea5 245px,#4c68aa 281px,#4d7cbc 321px,#4e7dbd 337px,#4d79b9 359px)"></div>
<div style="position:absolute;left:592px;top:868px;width:359px;height:2px;background:linear-gradient(90deg,#525aa3 0px,#515da5 87px,#515ea5 246px,#4c68aa 284px,#4c73b3 308px,#4d7aba 316px,#4d7cbc 328px,#4d7aba 347px,#4c6eaf 359px)"></div>
<div style="position:absolute;left:592px;top:870px;width:359px;height:2px;background:linear-gradient(90deg,#5259a3 0px,#515da5 94px,#515ca4 246px,#4c68aa 287px,#4c72b3 310px,#4d7aba 320px,#4d7bbb 331px,#4d7aba 339px,#4c75b5 347px,#4c6aab 353px,#4d66a9 359px)"></div>
<div style="position:absolute;left:592px;top:872px;width:359px;height:2px;background:linear-gradient(90deg,#5259a3 0px,#515da4 97px,#515ca4 246px,#4c68aa 291px,#4d7aba 331px,#4c76b6 340px,#4c6fb0 346px,#4c68aa 350px,#4d66a9 359px)"></div>
<div style="position:absolute;left:592px;top:874px;width:359px;height:2px;background:linear-gradient(90deg,#5259a2 0px,#515da4 95px,#515ca4 249px,#4d65a9 276px,#4c68aa 295px,#4c76b6 331px,#4c6eaf 343px,#4d66a9 350px,#4d66a9 359px)"></div>
<div style="position:absolute;left:592px;top:876px;width:359px;height:2px;background:linear-gradient(90deg,#5258a2 0px,#515da4 90px,#515ca4 253px,#4e65a8 278px,#4c70b0 331px,#4d66a9 350px,#4d66a9 359px)"></div>
<div style="position:absolute;left:592px;top:878px;width:359px;height:2px;background:linear-gradient(90deg,#5258a2 0px,#515ca4 87px,#515ca4 255px,#4e65a8 282px,#4c6aac 317px,#4c6aac 333px,#4d65a9 359px)"></div>
<div style="position:absolute;left:592px;top:880px;width:359px;height:2px;background:linear-gradient(90deg,#5258a2 0px,#515ca4 86px,#515ca4 255px,#4e65a8 285px,#4d67a9 302px,#4d65a9 359px)"></div>
<div style="position:absolute;left:592px;top:882px;width:359px;height:2px;background:linear-gradient(90deg,#5258a2 0px,#515ca4 74px,#515ca4 257px,#4d65a9 292px,#4d65a9 359px)"></div>
<div style="position:absolute;left:592px;top:884px;width:359px;height:2px;background:linear-gradient(90deg,#5258a2 0px,#515ca4 65px,#515ca4 263px,#4e65a8 295px,#4d65a9 359px)"></div>
<div style="position:absolute;left:592px;top:886px;width:359px;height:2px;background:linear-gradient(90deg,#5357a2 0px,#515ca4 66px,#515ca4 267px,#4e65a8 298px,#4d65a9 359px)"></div>
<div style="position:absolute;left:592px;top:888px;width:359px;height:2px;background:linear-gradient(90deg,#5357a2 0px,#515ba4 66px,#515ca4 271px,#4e65a8 299px,#4d65a9 359px)"></div>
<div style="position:absolute;left:592px;top:890px;width:359px;height:2px;background:linear-gradient(90deg,#5357a2 0px,#515ba4 67px,#515ca4 275px,#4e65a8 299px,#4d65a9 359px)"></div>
<div style="position:absolute;left:592px;top:892px;width:359px;height:1px;background:linear-gradient(90deg,#5357a1 0px,#515ba4 67px,#515ca4 279px,#4f62a7 288px,#4e65a8 300px,#4d65a9 359px)"></div>
<div style="position:absolute;left:592px;top:1045px;width:359px;height:2px;background:linear-gradient(90deg,#dce496 0px,#e6e99a 22px,#f0eeaa 46px,#f5f1b4 54px,#fcf8c7 81px,#fcf5bb 105px,#fbf1b2 113px,#f8df8d 135px,#f1c374 159px,#e8a562 175px,#e59c5d 178px,#df8952 182px,#de8751 185px,#d46049 206px,#c34c4f 223px,#af3354 238px,#a72857 248px,#9b1b54 260px,#961650 271px,#961650 324px,#991952 330px,#a42457 338px,#af3354 346px,#c8514d 355px,#d56049 357px,#d76649 359px)"></div>
<div style="position:absolute;left:592px;top:1047px;width:359px;height:2px;background:linear-gradient(90deg,#d8e295 0px,#e5e99a 35px,#edeca5 48px,#f6f2b5 54px,#fcf8c7 88px,#fcf5bb 117px,#fcf1b3 125px,#f7db89 156px,#f1c474 174px,#eeb96d 178px,#e6a05f 182px,#e29156 185px,#df8952 188px,#de8751 191px,#da734c 201px,#d35f49 218px,#c14850 238px,#b53b53 254px,#a72857 269px,#a12255 278px,#9b1b54 312px,#9f2056 322px,#aa2d56 334px,#b73c52 344px,#ca544c 353px,#d46049 356px,#d86b4a 359px)"></div>
<div style="position:absolute;left:592px;top:1049px;width:359px;height:2px;background:linear-gradient(90deg,#d3e095 0px,#e3e898 43px,#e8ea9f 49px,#f2efae 54px,#f6f2b5 58px,#f6f2b6 67px,#fbf7c6 99px,#fcf8c6 108px,#fcf6c1 120px,#fcf1b2 142px,#fbeba7 153px,#f8df8e 168px,#f5d280 177px,#f1c374 182px,#e9a763 186px,#e69f5e 189px,#e08d54 192px,#dd8450 197px,#dc7d4e 202px,#d9704b 219px,#d35e49 231px,#c7504d 255px,#b83e52 273px,#af3255 301px,#ad3055 318px,#b73c52 335px,#c8524d 349px,#d35f49 354px,#d9704b 359px)"></div>
<div style="position:absolute;left:592px;top:1051px;width:359px;height:2px;background:linear-gradient(90deg,#cfde97 0px,#d8e295 35px,#e2e797 49px,#e6e99b 52px,#f1eeab 58px,#f3f0af 65px,#f6f2b5 68px,#fcf7c6 125px,#fcf4b9 158px,#fbf1b2 164px,#f9e396 178px,#f7d887 183px,#f2c575 189px,#ebae67 192px,#e8a461 195px,#e19056 197px,#df8a52 198px,#dd824f 221px,#db794d 224px,#da734c 228px,#d56449 255px,#cf5a4a 262px,#cc564c 267px,#c7504e 289px,#c04850 302px,#bd4451 318px,#be4650 327px,#c34c4f 338px,#cb554c 346px,#d56049 352px,#da754c 359px)"></div>
<div style="position:absolute;left:592px;top:1053px;width:359px;height:2px;background:linear-gradient(90deg,#cadc9a 0px,#d2df95 35px,#dae395 49px,#e4e89a 57px,#e9ea9f 63px,#f0eeaa 68px,#f1efac 79px,#f6f2b5 84px,#f8f4bb 121px,#faf6c2 126px,#fbf7c5 135px,#fcf7c5 159px,#fcf2b4 178px,#fbefaf 181px,#fae69c 187px,#f5d07e 195px,#edb76d 198px,#ecb069 216px,#e8a662 219px,#e08c54 222px,#df8751 224px,#dc7f4e 256px,#dc7b4e 258px,#d9704b 261px,#d86a4a 266px,#d66549 288px,#d05a4a 298px,#c9534d 322px,#ca544c 335px,#cf5a4a 344px,#d66449 350px,#dc7b4e 359px)"></div>
<div style="position:absolute;left:592px;top:1055px;width:359px;height:2px;background:linear-gradient(90deg,#c5da9d 0px,#cddd98 41px,#d6e195 54px,#dfe597 64px,#e6e99c 79px,#e8ea9e 81px,#eeeda8 84px,#efeda8 86px,#f1efac 116px,#f7f3b9 126px,#f8f4bc 159px,#f8f4bd 161px,#fbf7c5 165px,#fcf7c5 176px,#fcf5bb 189px,#fae8a1 200px,#fae79e 211px,#fae59a 214px,#f9e194 216px,#f6d482 219px,#f4cc7b 220px,#f0bf73 221px,#eeb86e 222px,#edb56c 226px,#edb46b 248px,#ecb169 253px,#eaab65 255px,#e08c53 258px,#de8651 260px,#dd824f 266px,#dc7e4e 291px,#da734c 294px,#d96e4b 298px,#d86a4a 311px,#d56249 319px,#d25e49 332px,#d35f49 339px,#d66449 345px,#d86d4a 350px,#dd814f 359px)"></div>
<div style="position:absolute;left:592px;top:1057px;width:359px;height:2px;background:linear-gradient(90deg,#c0d8a0 0px,#c6da9c 42px,#d1df96 62px,#d8e295 79px,#e3e799 92px,#e6e99b 116px,#e8ea9e 119px,#edeca5 121px,#efeda8 123px,#f0eea9 158px,#f1efac 161px,#f7f3b9 164px,#f7f3ba 165px,#faf6c1 192px,#fbf6c0 216px,#fcf6c0 217px,#fbedaa 221px,#fae9a2 224px,#fae79e 247px,#fae59a 252px,#f7dc8f 255px,#f6d485 256px,#f2c678 257px,#efbc71 258px,#eeb96f 259px,#edb56c 264px,#ecb269 287px,#eaac65 289px,#e08c53 292px,#de8651 294px,#de8450 296px,#dd814f 313px,#da744c 318px,#d8694a 337px,#d96f4b 346px,#de8650 359px)"></div>
<div style="position:absolute;left:592px;top:1059px;width:359px;height:2px;background:linear-gradient(90deg,#b9d6a0 0px,#bfd8a0 46px,#cadc9a 79px,#d5e095 93px,#d7e295 115px,#dee597 124px,#e0e697 156px,#e4e89a 161px,#ececa4 165px,#efeda8 181px,#f0eeaa 211px,#f3f0af 214px,#f8f4bc 217px,#faf6c1 219px,#fcf6bf 256px,#fbefae 258px,#fae9a2 262px,#fae79e 283px,#f9e499 287px,#f8de91 289px,#f4cc7e 291px,#f1c577 292px,#f0c175 295px,#edb76d 300px,#ecb068 309px,#e9a864 311px,#e08c54 314px,#de8651 317px,#de8350 325px,#db7a4d 330px,#da754c 340px,#db7a4d 347px,#e08c53 359px)"></div>
<div style="position:absolute;left:592px;top:1061px;width:359px;height:2px;background:linear-gradient(90deg,#b3d3a0 0px,#bad6a0 80px,#bcd6a0 87px,#c3d99e 90px,#c7db9c 95px,#c9dc9b 114px,#cddd98 126px,#cede98 156px,#dee597 180px,#e0e697 207px,#e4e89a 213px,#ececa4 216px,#f0eeaa 251px,#f3f0af 254px,#faf6c1 258px,#faf5c0 287px,#fcf4bb 296px,#fbedac 298px,#faeaa5 300px,#fae69b 307px,#f9e296 309px,#f8de90 310px,#f5cf7e 312px,#f1c174 313px,#eeb96f 314px,#eaab65 323px,#e7a361 325px,#e18f55 327px,#df8951 328px,#de8651 333px,#dd804f 337px,#dd804f 343px,#de8450 349px,#e08d54 355px,#e39659 359px)"></div>
<div style="position:absolute;left:592px;top:1063px;width:359px;height:2px;background:linear-gradient(90deg,#a7cfa0 0px,#a9d0a0 81px,#abd0a0 85px,#b6d4a0 90px,#b8d5a0 93px,#bbd6a0 156px,#bed79e 172px,#c1d99e 174px,#c8db9b 176px,#ccdd99 180px,#cede97 209px,#d5e196 217px,#d8e296 227px,#dee596 233px,#e0e697 247px,#e4e89a 253px,#ececa3 256px,#f0eeaa 291px,#f3f0af 294px,#faf6c1 298px,#fbf6c0 310px,#fcf5bd 311px,#fbeca8 314px,#f9e59a 319px,#f6d786 323px,#f4cc7b 325px,#f1c475 326px,#eeb76d 327px,#ebb068 328px,#e6a05f 333px,#e18f55 335px,#df8a52 336px,#e08b53 349px,#e39559 352px,#e4985a 355px,#e7a361 359px)"></div>
<div style="position:absolute;left:592px;top:1065px;width:359px;height:2px;background:linear-gradient(90deg,#99c8a0 0px,#9ccaa0 79px,#9ecba0 83px,#a6cea0 88px,#a7cfa0 91px,#aad0a0 168px,#abd0a0 171px,#b7d5a0 176px,#bad6a0 179px,#bed89e 226px,#c1d99e 228px,#c8db9b 230px,#ccdd99 233px,#cede97 249px,#d5e196 257px,#d7e296 273px,#dae396 277px,#e2e799 292px,#ececa4 296px,#ededa6 303px,#f1eeab 307px,#f9f5c0 312px,#fbf6c0 320px,#fcf6c0 321px,#fbefae 324px,#f9e193 327px,#f5d17f 331px,#f2c777 333px,#eaac66 336px,#e7a360 341px,#e69e5e 349px,#e9a763 352px,#ecb169 359px)"></div>
<div style="position:absolute;left:592px;top:1067px;width:359px;height:2px;background:linear-gradient(90deg,#8cc2a0 0px,#91c5a0 29px,#92c5a0 78px,#98c8a0 93px,#9ccaa0 165px,#9fcba0 170px,#a7cea0 175px,#aad0a0 222px,#add1a0 226px,#b7d5a0 230px,#bad6a0 233px,#bfd89e 275px,#c8db9b 278px,#cbdc99 280px,#cfde97 291px,#dae396 304px,#e2e799 307px,#ededa6 310px,#f2efae 317px,#f9f5bf 322px,#fcf7c3 325px,#fcf5bd 327px,#fbeca8 331px,#f7da89 335px,#f4ce7d 338px,#f0c072 344px,#efbb6f 348px,#f0be70 359px)"></div>
<div style="position:absolute;left:592px;top:1069px;width:359px;height:2px;background:linear-gradient(90deg,#80bba3 0px,#81bba2 15px,#87bfa1 28px,#87bfa1 77px,#91c4a0 125px,#92c5a0 165px,#98c8a0 177px,#9dcba0 220px,#a8cfa0 230px,#acd1a0 273px,#add1a0 275px,#b7d5a0 278px,#b9d6a0 280px,#bfd89e 303px,#cfde97 307px,#dae395 310px,#e0e697 313px,#e8ea9e 317px,#f0eeab 320px,#f3f0af 323px,#f8f4bd 326px,#fcf7c3 331px,#fcf3b7 334px,#f9e090 340px,#f7d885 343px,#f4ce7d 349px,#f3c878 359px)"></div>
<div style="position:absolute;left:592px;top:1071px;width:359px;height:2px;background:linear-gradient(90deg,#75b3a6 0px,#76b4a6 17px,#7bb7a4 21px,#7db9a4 27px,#7eb9a3 78px,#81bba2 112px,#87bfa1 126px,#88c0a0 166px,#93c5a0 217px,#9bc9a0 230px,#a1cca0 267px,#a4cda0 273px,#aad0a0 278px,#aed1a0 301px,#b2d3a0 304px,#bbd6a0 307px,#c8db9b 310px,#d2df96 314px,#dee597 318px,#e7e99c 321px,#f2efad 326px,#fcf7c4 335px,#fcf4ba 338px,#fae89f 343px,#f9e090 347px,#f7d986 352px,#f5d07f 359px)"></div>
<div style="position:absolute;left:592px;top:1073px;width:359px;height:2px;background:linear-gradient(90deg,#6baaac 0px,#6cabab 14px,#72b1a7 19px,#74b2a7 24px,#75b4a6 112px,#7db9a4 124px,#81bba2 188px,#86bfa1 198px,#89c0a0 218px,#90c4a0 230px,#9bc9a0 270px,#aed1a0 307px,#b8d5a0 310px,#bcd6a0 313px,#d1df96 318px,#d8e295 320px,#e4e89a 324px,#f1efac 329px,#f5f1b4 333px,#fbf7c4 337px,#fcf7c5 338px,#fcf5bb 342px,#fae8a0 349px,#f7da86 359px)"></div>
<div style="position:absolute;left:592px;top:1075px;width:359px;height:2px;background:linear-gradient(90deg,#619eb4 0px,#62a0b3 12px,#6aa8ad 20px,#6baaac 109px,#6cacab 115px,#73b2a7 118px,#74b2a7 122px,#75b4a6 190px,#7cb8a4 197px,#7ebaa3 217px,#85bea1 228px,#89c0a0 246px,#a1cda0 297px,#b0d2a0 313px,#b6d4a0 315px,#c0d89f 317px,#d4e095 322px,#e1e797 326px,#f3efae 333px,#f7f3b9 337px,#fbf7c5 340px,#fcf7c6 341px,#fcf4ba 347px,#f9e497 359px)"></div>
<div style="position:absolute;left:592px;top:1077px;width:359px;height:2px;background:linear-gradient(90deg,#5993bc 0px,#5a94bb 11px,#5e9ab7 21px,#619eb4 48px,#629fb3 109px,#64a1b2 114px,#6aa8ad 120px,#6baaac 185px,#73b2a7 195px,#75b3a6 219px,#7cb8a4 226px,#7fbaa3 245px,#a3cda0 305px,#b1d2a0 316px,#bed7a0 319px,#d1df96 324px,#d8e295 326px,#e5e89a 330px,#f2efad 335px,#f5f1b3 338px,#fbf7c5 343px,#fcf7c6 345px,#fbefad 359px)"></div>
<div style="position:absolute;left:592px;top:1079px;width:359px;height:2px;background:linear-gradient(90deg,#568ebd 0px,#5993bc 51px,#5a93bc 106px,#5e9ab6 122px,#629fb3 183px,#64a1b2 188px,#69a8ad 192px,#6babac 215px,#73b2a7 224px,#75b3a6 245px,#7ab6a5 249px,#8ac1a0 276px,#a1cca0 307px,#aed1a0 317px,#b8d5a0 321px,#d7e295 328px,#e4e899 332px,#f3f0af 339px,#fbf7c6 347px,#fcf5bb 359px)"></div>
<div style="position:absolute;left:592px;top:1081px;width:359px;height:2px;background:linear-gradient(90deg,#528abd 0px,#5a93bc 181px,#5e9ab7 194px,#629fb3 213px,#69a8ad 220px,#6cacab 244px,#72b1a7 248px,#74b3a7 255px,#86bfa1 280px,#a0cca0 310px,#b0d2a0 321px,#bfd8a0 324px,#d0de96 328px,#d7e295 330px,#e3e898 334px,#f3f0af 341px,#fbf7c5 350px,#fcf8c6 353px,#fcf6c2 359px)"></div>
<div style="position:absolute;left:592px;top:1083px;width:359px;height:2px;background:linear-gradient(90deg,#5087bd 0px,#568ebe 187px,#5891bd 206px,#5e9ab6 222px,#63a1b2 241px,#6aa9ac 248px,#6dacab 255px,#72b1a7 258px,#73b2a7 265px,#8ac1a0 292px,#9fcba0 312px,#b0d2a0 322px,#c2d99f 326px,#d4e095 331px,#e3e898 336px,#f3f0af 343px,#faf6c3 353px,#fcf8c6 359px)"></div>
<div style="position:absolute;left:592px;top:1085px;width:359px;height:2px;background:linear-gradient(90deg,#4f83be 0px,#548cbd 203px,#578fbe 222px,#5b96b9 241px,#65a3b1 254px,#6baaac 258px,#71b1a8 267px,#73b2a7 273px,#87c0a0 295px,#9ac9a0 311px,#afd2a0 323px,#c1d89f 327px,#d5e194 333px,#e3e898 338px,#f3efae 345px,#faf6c2 359px)"></div>
<div style="position:absolute;left:592px;top:1087px;width:359px;height:2px;background:linear-gradient(90deg,#4e7ebe 0px,#4e7fbf 32px,#4f83bf 42px,#4f83be 131px,#5087bd 145px,#5088bc 205px,#578fbe 242px,#5a93bb 249px,#6baaac 266px,#81bba2 293px,#95c7a0 310px,#a0cca0 317px,#b0d2a0 324px,#bfd8a0 328px,#d6e194 335px,#e3e898 340px,#f4f0b0 349px,#f8f4bc 359px)"></div>
<div style="position:absolute;left:592px;top:1089px;width:359px;height:2px;background:linear-gradient(90deg,#4d79b9 0px,#4e7ebe 81px,#4f83be 200px,#5088bc 225px,#5890bd 254px,#5d99b7 262px,#71b1a8 280px,#7cb8a4 293px,#8dc3a0 307px,#9fcba0 318px,#afd2a0 325px,#bed7a0 329px,#d4e094 336px,#e5e899 343px,#f3f0af 351px,#f6f2b5 354px,#f7f3b8 359px)"></div>
<div style="position:absolute;left:592px;top:1091px;width:359px;height:2px;background:linear-gradient(90deg,#4c73b3 0px,#4d79b9 129px,#4d7cbc 143px,#4e7fbf 195px,#5087bc 239px,#578fbe 261px,#5d9ab7 269px,#6cabab 280px,#73b2a7 290px,#89c1a0 307px,#a0cca0 320px,#b5d4a0 328px,#bdd7a0 330px,#d5e094 338px,#e4e899 345px,#f2efae 353px,#f6f2b5 359px)"></div>
<div style="position:absolute;left:592px;top:1093px;width:359px;height:2px;background:linear-gradient(90deg,#4c6fb0 0px,#4c73b3 129px,#4d79b9 192px,#4e81c0 223px,#538bbd 258px,#578fbe 267px,#5c97b9 273px,#6dacab 286px,#73b2a7 294px,#85bea1 307px,#a0cca0 321px,#b2d3a0 328px,#c0d8a0 332px,#d5e094 340px,#e3e898 347px,#f2efad 359px)"></div>
<div style="position:absolute;left:592px;top:1095px;width:359px;height:2px;background:linear-gradient(90deg,#4c6bad 0px,#4c6cad 67px,#4c6fb0 78px,#4c73b4 192px,#4e7fbf 229px,#5088bc 258px,#5790be 273px,#5e9ab7 280px,#6dacab 290px,#73b2a7 298px,#89c0a0 311px,#a0cca0 322px,#b5d4a0 330px,#c0d8a0 333px,#d5e194 342px,#e3e898 350px,#ececa3 359px)"></div>
<div style="position:absolute;left:592px;top:1097px;width:359px;height:2px;background:linear-gradient(90deg,#4c69aa 0px,#4c6bad 160px,#4c6fb0 193px,#4c75b5 218px,#4e80bf 245px,#528abc 267px,#5891bd 279px,#6cabac 293px,#78b6a5 304px,#87c0a0 312px,#9fcca0 323px,#bfd8a0 334px,#cfde97 341px,#d5e094 344px,#e1e797 352px,#e6e99b 359px)"></div>
<div style="position:absolute;left:592px;top:1099px;width:359px;height:2px;background:linear-gradient(90deg,#4c68aa 0px,#4c6bad 195px,#4c74b4 230px,#4e80bf 251px,#5087bc 268px,#578fbe 282px,#6cabab 297px,#73b2a7 304px,#88c0a0 314px,#9fcca0 324px,#bed7a0 335px,#c9dc9b 340px,#d4e094 346px,#e0e697 359px)"></div>
<div style="position:absolute;left:592px;top:1101px;width:359px;height:2px;background:linear-gradient(90deg,#4c67aa 0px,#4c69ab 195px,#4c6bad 215px,#4c73b3 238px,#4e7fbf 256px,#5087bc 272px,#5890be 286px,#6dacaa 301px,#71b1a8 305px,#87c0a0 315px,#c4da9e 339px,#d3e095 348px,#dbe496 359px)"></div>
<div style="position:absolute;left:592px;top:1103px;width:359px;height:2px;background:linear-gradient(90deg,#4d67a9 0px,#4c69ab 215px,#4c70b1 240px,#4e7fbf 261px,#5088bc 277px,#5890be 289px,#71b0a8 306px,#89c0a0 317px,#9fcba0 326px,#aed1a0 331px,#c1d8a0 339px,#d0de96 349px,#d7e195 359px)"></div>
<div style="position:absolute;left:592px;top:1105px;width:359px;height:2px;background:linear-gradient(90deg,#4d67a9 0px,#4c69ab 229px,#4c6cad 240px,#4e7fbf 265px,#5087bc 280px,#5890be 292px,#70b0a8 307px,#88c0a0 318px,#9ecba0 327px,#acd0a0 331px,#c0d8a0 340px,#c6da9c 344px,#cede97 351px,#d3df95 359px)"></div>
<div style="position:absolute;left:592px;top:1107px;width:359px;height:2px;background:linear-gradient(90deg,#4d66a9 0px,#4c69ab 239px,#4c73b3 255px,#4e7fbf 269px,#5087bc 283px,#5891bd 295px,#6faea9 307px,#73b2a7 310px,#88c0a0 319px,#9ecba0 328px,#aed1a0 333px,#c5da9d 345px,#cfde97 359px)"></div>
<div style="position:absolute;left:592px;top:1109px;width:359px;height:2px;background:linear-gradient(90deg,#4d66a9 0px,#4c69ab 243px,#4c74b4 260px,#4e80bf 273px,#5087bc 286px,#578fbe 296px,#5d99b7 300px,#6eaea9 308px,#87c0a0 320px,#9ecba0 329px,#acd0a0 333px,#c1d8a0 344px,#cbdc99 359px)"></div>
<div style="position:absolute;left:592px;top:1111px;width:359px;height:2px;background:linear-gradient(90deg,#4d65a9 0px,#4c69ab 247px,#4c73b3 263px,#4e80c0 276px,#5087bd 288px,#5890be 298px,#5c97b8 301px,#6dadaa 309px,#87bfa0 321px,#abd0a0 334px,#c0d8a0 346px,#c8db9b 359px)"></div>
<div style="position:absolute;left:592px;top:1113px;width:359px;height:2px;background:linear-gradient(90deg,#4e65a8 0px,#4c69ab 249px,#4c73b3 266px,#4e7fbf 278px,#5087bd 290px,#578fbe 299px,#5d99b7 303px,#70b0a8 312px,#87bfa0 322px,#9ecba0 331px,#acd0a0 335px,#bfd8a0 347px,#c5da9d 359px)"></div>
<div style="position:absolute;left:592px;top:1115px;width:359px;height:2px;background:linear-gradient(90deg,#4e64a8 0px,#4c69ab 253px,#4c73b3 269px,#4e80c0 281px,#5087bd 292px,#5890be 301px,#5d99b8 304px,#6faea9 312px,#87bfa0 323px,#a9cfa0 335px,#b1d2a0 338px,#bad6a0 345px,#c3d99e 359px)"></div>
<div style="position:absolute;left:592px;top:1117px;width:359px;height:2px;background:linear-gradient(90deg,#4e64a8 0px,#4c69ab 257px,#4c73b4 272px,#4e80c0 283px,#5087bd 293px,#5890be 302px,#6faea9 313px,#73b2a7 316px,#89c1a0 325px,#9fcba0 333px,#aed1a0 337px,#bbd6a0 348px,#c0d8a0 359px)"></div>
<div style="position:absolute;left:592px;top:1119px;width:359px;height:2px;background:linear-gradient(90deg,#4e63a8 0px,#4c69ab 261px,#4c73b3 274px,#4e7fbf 284px,#5087bd 294px,#5890be 303px,#6dacab 313px,#71b0a8 316px,#89c1a0 326px,#a0cca0 334px,#abd0a0 337px,#b7d5a0 346px,#bed7a0 359px)"></div>
<div style="position:absolute;left:592px;top:1121px;width:359px;height:2px;background:linear-gradient(90deg,#4e63a8 0px,#4c69ab 263px,#4c73b4 276px,#4e80c0 286px,#4f86bd 294px,#5890be 304px,#6faea9 315px,#72b2a7 318px,#8ac1a0 327px,#b0d2a0 340px,#bcd6a0 359px)"></div>
<div style="position:absolute;left:592px;top:1123px;width:359px;height:2px;background:linear-gradient(90deg,#4f63a7 0px,#4c69ab 267px,#4c74b4 278px,#4e80c0 287px,#5088bc 296px,#5890be 305px,#6dacab 315px,#71b0a8 318px,#87bfa0 327px,#9ecba0 335px,#b0d2a0 340px,#bad6a0 359px)"></div>
<div style="position:absolute;left:592px;top:1125px;width:359px;height:2px;background:linear-gradient(90deg,#4f62a7 0px,#4c69ab 269px,#4c74b4 279px,#4e80c0 288px,#5088bc 296px,#5890be 306px,#6aa9ad 315px,#73b2a7 320px,#87bfa0 328px,#98c8a0 334px,#b0d2a0 340px,#b8d5a0 359px)"></div>
<div style="position:absolute;left:592px;top:1127px;width:359px;height:2px;background:linear-gradient(90deg,#4f62a7 0px,#4c69ab 269px,#4c74b4 280px,#4e7fbf 288px,#5088bc 297px,#5891be 307px,#71b0a8 320px,#87c0a0 329px,#93c5a0 333px,#afd2a0 341px,#b6d4a0 359px)"></div>
<div style="position:absolute;left:592px;top:1129px;width:359px;height:2px;background:linear-gradient(90deg,#4f61a7 0px,#4c69ab 271px,#4c74b4 281px,#4e80c0 289px,#5087bc 297px,#578fbe 307px,#5d99b7 311px,#70b0a8 320px,#87bfa0 330px,#acd0a0 342px,#b1d2a0 346px,#b5d4a0 359px)"></div>
<div style="position:absolute;left:592px;top:1131px;width:359px;height:2px;background:linear-gradient(90deg,#5061a6 0px,#4c69ab 273px,#4e80c0 290px,#5088bc 298px,#5890be 308px,#5b97b9 311px,#70b0a8 320px,#72b1a7 322px,#87bfa0 331px,#9ccaa0 339px,#afd2a0 347px,#b3d3a0 359px)"></div>
<div style="position:absolute;left:592px;top:1133px;width:359px;height:2px;background:linear-gradient(90deg,#5060a6 0px,#4c69ab 273px,#4c73b4 282px,#4e7fbf 290px,#5087bc 298px,#5890be 309px,#5c97b9 312px,#6eaea9 320px,#79b6a5 326px,#93c6a0 337px,#aed1a0 348px,#b2d3a0 359px)"></div>
<div style="position:absolute;left:592px;top:1135px;width:359px;height:2px;background:linear-gradient(90deg,#5060a6 0px,#4c69ab 273px,#4c74b4 283px,#4e80c0 291px,#5088bc 299px,#5890be 310px,#5c97b8 313px,#6eaea9 321px,#74b2a7 325px,#8ac1a0 335px,#aed1a0 350px,#b1d3a0 359px)"></div>
<div style="position:absolute;left:592px;top:1137px;width:359px;height:2px;background:linear-gradient(90deg,#505fa5 0px,#4c69ab 273px,#4c73b4 283px,#4e7fbf 291px,#5088bc 300px,#5890be 311px,#5c98b8 314px,#6eaeaa 322px,#73b2a7 326px,#87bfa0 335px,#aed1a0 352px,#b1d2a0 359px)"></div>
<div style="position:absolute;left:592px;top:1139px;width:359px;height:2px;background:linear-gradient(90deg,#505ea5 0px,#4c69ab 273px,#4c74b4 284px,#4e80c0 292px,#5088bc 301px,#5890be 312px,#5c98b8 315px,#6dadaa 323px,#70b0a8 326px,#86bfa1 336px,#a0cca0 348px,#aed1a0 353px,#b0d2a0 359px)"></div>
<div style="position:absolute;left:592px;top:1141px;width:359px;height:2px;background:linear-gradient(90deg,#515ea5 0px,#4c68aa 267px,#4c69ab 274px,#4c75b5 285px,#4e80c0 293px,#5087bc 301px,#5890be 313px,#5c97b9 316px,#6faea9 325px,#72b1a7 328px,#87c0a0 338px,#9ecba0 349px,#aed1a0 354px,#b0d2a0 359px)"></div>
<div style="position:absolute;left:592px;top:1143px;width:359px;height:2px;background:linear-gradient(90deg,#515da5 0px,#4c68aa 267px,#4c6aab 274px,#4c74b4 285px,#4e7fbf 293px,#5087bc 302px,#5890be 314px,#5b97b9 317px,#6eaea9 326px,#86bfa1 339px,#9fcca0 351px,#aed1a0 355px,#afd2a0 359px)"></div>
<div style="position:absolute;left:592px;top:1145px;width:359px;height:2px;background:linear-gradient(90deg,#515da5 0px,#4c68aa 268px,#4c6aab 274px,#4c73b3 285px,#4e7fbf 294px,#5088bc 303px,#5890be 315px,#5d99b7 319px,#6faea9 328px,#82bca2 338px,#99c8a0 350px,#a0cca0 353px,#acd1a0 356px,#afd2a0 359px)"></div>
<div style="position:absolute;left:592px;top:1147px;width:359px;height:2px;background:linear-gradient(90deg,#515da5 0px,#4c69ab 273px,#4c74b4 287px,#4e7fbf 295px,#5088bc 305px,#5891bd 317px,#70b0a8 330px,#87bfa0 343px,#a7cfa0 359px)"></div>
<div style="position:absolute;left:592px;top:1149px;width:359px;height:2px;background:linear-gradient(90deg,#515da5 0px,#4e65a8 223px,#4c69ab 273px,#4c73b4 287px,#4e7fbf 296px,#5088bc 306px,#5890be 318px,#70b0a8 331px,#87bfa0 345px,#9ccaa0 359px)"></div>
<div style="position:absolute;left:592px;top:1151px;width:359px;height:2px;background:linear-gradient(90deg,#515da5 0px,#4c69aa 272px,#4c73b4 288px,#4e80c0 298px,#5088bc 307px,#5890be 319px,#5d99b7 323px,#70b0a8 332px,#88c0a0 348px,#94c6a0 359px)"></div>
<div style="position:absolute;left:592px;top:1153px;width:359px;height:2px;background:linear-gradient(90deg,#515da5 0px,#4c68aa 271px,#4c73b3 289px,#4e80c0 299px,#5088bc 309px,#5890be 320px,#5c98b8 324px,#70b0a8 333px,#84bda1 348px,#8dc3a0 359px)"></div>
<div style="position:absolute;left:592px;top:1155px;width:359px;height:2px;background:linear-gradient(90deg,#515da5 0px,#4e64a8 221px,#4c69ab 275px,#4c74b4 291px,#4e80c0 300px,#5088bc 310px,#578fbe 321px,#5c98b8 325px,#70b0a8 334px,#81bba2 349px,#87bfa0 359px)"></div>
<div style="position:absolute;left:592px;top:1157px;width:359px;height:2px;background:linear-gradient(90deg,#515da5 0px,#4e64a8 216px,#4c68aa 273px,#4c74b4 292px,#4e7fbf 301px,#5088bc 312px,#5890be 323px,#5d99b7 327px,#6eaeaa 334px,#7cb8a4 348px,#82bca2 359px)"></div>
<div style="position:absolute;left:592px;top:1159px;width:359px;height:2px;background:linear-gradient(90deg,#515da5 0px,#4e63a8 216px,#4c68aa 274px,#4c73b3 293px,#4e81c0 304px,#5088bc 313px,#5890be 325px,#5c98b8 328px,#70b0a8 336px,#7ab7a5 350px,#7db9a4 359px)"></div>
<div style="position:absolute;left:592px;top:1161px;width:359px;height:2px;background:linear-gradient(90deg,#515da5 0px,#4e63a8 214px,#4c68aa 275px,#4c73b3 295px,#4e80c0 305px,#5088bc 315px,#5890be 326px,#5d99b7 330px,#6dadaa 336px,#70b0a8 338px,#79b6a5 359px)"></div>
<div style="position:absolute;left:592px;top:1163px;width:359px;height:2px;background:linear-gradient(90deg,#515da5 0px,#4e63a8 219px,#4c69ab 282px,#4c73b4 297px,#4e81c0 307px,#5088bc 316px,#5890be 328px,#5d9ab7 332px,#6aa9ad 337px,#6fafa9 341px,#74b3a7 359px)"></div>
<div style="position:absolute;left:592px;top:1165px;width:359px;height:2px;background:linear-gradient(90deg,#515da5 0px,#4f63a7 219px,#4c69ab 283px,#4c74b4 299px,#4e80c0 308px,#5088bc 318px,#5890be 330px,#6aa9ac 341px,#70b0a8 346px,#70b0a8 359px)"></div>
<div style="position:absolute;left:592px;top:1167px;width:359px;height:2px;background:linear-gradient(90deg,#515da4 0px,#4f63a7 216px,#4c68aa 281px,#4c71b1 298px,#4e80c0 310px,#5088bc 319px,#578fbe 332px,#6ba9ac 346px,#6aa9ad 359px)"></div>
<div style="position:absolute;left:592px;top:1169px;width:359px;height:2px;background:linear-gradient(90deg,#515ca4 0px,#4f62a7 218px,#4c68aa 283px,#4c6aac 292px,#4c72b2 301px,#4e80c0 311px,#5088bc 322px,#578fbe 335px,#619eb4 346px,#619eb4 359px)"></div>
<div style="position:absolute;left:592px;top:1171px;width:359px;height:2px;background:linear-gradient(90deg,#515ca4 0px,#4f62a7 220px,#4c68aa 287px,#4c6fb0 300px,#4e80c0 313px,#5088bc 324px,#5890be 340px,#5a94bb 346px,#5a94bb 359px)"></div>
<div style="position:absolute;left:592px;top:1173px;width:359px;height:2px;background:linear-gradient(90deg,#515ba4 0px,#4f62a7 221px,#4c68aa 288px,#4c6bac 298px,#4c74b4 307px,#4e81c0 315px,#5088bc 327px,#558dbd 340px,#568ebd 359px)"></div>
<div style="position:absolute;left:592px;top:1175px;width:359px;height:2px;background:linear-gradient(90deg,#515ba4 0px,#4f62a7 223px,#4c68aa 291px,#4c6bac 300px,#4e81c0 317px,#538bbd 340px,#538bbd 359px)"></div>
<div style="position:absolute;left:592px;top:1177px;width:359px;height:2px;background:linear-gradient(90deg,#515ba3 0px,#4f62a7 226px,#4c68aa 294px,#4c6bac 302px,#4e80c0 319px,#528abc 340px,#5087bc 359px)"></div>
<div style="position:absolute;left:592px;top:1179px;width:359px;height:2px;background:linear-gradient(90deg,#515aa3 0px,#4d66a9 279px,#4c6aac 303px,#4e80c0 322px,#5088bc 341px,#4f85bd 359px)"></div>
<div style="position:absolute;left:592px;top:1181px;width:359px;height:2px;background:linear-gradient(90deg,#525aa3 0px,#4d65a9 279px,#4c69ab 304px,#4e80c0 325px,#5086bd 343px,#4f84be 359px)"></div>
<div style="position:absolute;left:592px;top:1183px;width:359px;height:2px;background:linear-gradient(90deg,#5259a3 0px,#4e65a8 278px,#4c69ab 305px,#4e7fbf 327px,#4f84be 335px,#4f85bd 344px,#4f83bf 359px)"></div>
<div style="position:absolute;left:592px;top:1185px;width:359px;height:2px;background:linear-gradient(90deg,#5259a2 0px,#4e65a8 277px,#4c69ab 305px,#4e7fbf 331px,#4f83be 341px,#4e81bf 359px)"></div>
<div style="position:absolute;left:592px;top:1187px;width:359px;height:2px;background:linear-gradient(90deg,#5258a2 0px,#4e64a8 276px,#4c69ab 305px,#4d79b9 326px,#4e80c0 339px,#4e7fbf 359px)"></div>
<div style="position:absolute;left:592px;top:1189px;width:359px;height:2px;background:linear-gradient(90deg,#5258a2 0px,#4e64a8 275px,#4c68aa 304px,#4e7ebe 340px,#4e7dbd 359px)"></div>
<div style="position:absolute;left:592px;top:1191px;width:359px;height:2px;background:linear-gradient(90deg,#5258a2 0px,#4e63a8 273px,#4c68aa 304px,#4d7aba 339px,#4d7bbb 359px)"></div>
<div style="position:absolute;left:592px;top:1193px;width:359px;height:2px;background:linear-gradient(90deg,#5258a2 0px,#4f63a7 272px,#4c68aa 304px,#4d78b8 339px,#4d78b8 359px)"></div>
<div style="position:absolute;left:592px;top:1195px;width:359px;height:2px;background:linear-gradient(90deg,#5357a2 0px,#4f62a7 270px,#4c68aa 304px,#4c75b5 339px,#4c76b6 359px)"></div>
<div style="position:absolute;left:592px;top:1197px;width:359px;height:2px;background:linear-gradient(90deg,#5357a2 0px,#4f62a7 269px,#4d65a9 297px,#4c72b3 335px,#4c74b4 359px)"></div>
<div style="position:absolute;left:592px;top:1199px;width:359px;height:2px;background:linear-gradient(90deg,#5357a1 0px,#4f61a7 269px,#4e64a8 296px,#4c71b1 335px,#4c72b2 359px)"></div>
<div style="position:absolute;left:592px;top:1201px;width:359px;height:2px;background:linear-gradient(90deg,#5357a1 0px,#5061a6 269px,#4e64a8 296px,#4c6fb0 335px,#4c70b1 359px)"></div>
<div style="position:absolute;left:592px;top:1203px;width:359px;height:2px;background:linear-gradient(90deg,#5357a1 0px,#5060a6 269px,#4e63a8 296px,#4c6eaf 336px,#4c6eaf 359px)"></div>
<div style="position:absolute;left:592px;top:1205px;width:359px;height:2px;background:linear-gradient(90deg,#5357a1 0px,#505fa6 259px,#4f62a7 296px,#4c6cae 338px,#4c6dae 359px)"></div>
<div style="position:absolute;left:592px;top:1207px;width:359px;height:2px;background:linear-gradient(90deg,#5456a1 0px,#505fa5 260px,#4f62a7 298px,#4c6bac 338px,#4c6bac 359px)"></div>
<div style="position:absolute;left:592px;top:1209px;width:359px;height:2px;background:linear-gradient(90deg,#5456a1 0px,#505ea5 254px,#4f61a7 300px,#4c69ab 336px,#4c69ab 359px)"></div>
<div style="position:absolute;left:592px;top:1211px;width:359px;height:2px;background:linear-gradient(90deg,#5456a1 0px,#515ea5 253px,#5061a6 303px,#4c67aa 334px,#4d67a9 359px)"></div>
<div style="position:absolute;left:592px;top:1213px;width:359px;height:2px;background:linear-gradient(90deg,#5456a1 0px,#5357a2 103px,#515da4 156px,#505fa6 297px,#4d65a9 338px,#4e63a8 359px)"></div>
<div style="position:absolute;left:592px;top:1215px;width:359px;height:2px;background:linear-gradient(90deg,#5456a1 0px,#5357a1 102px,#515da4 168px,#505ea5 309px,#4f63a7 339px,#5060a6 359px)"></div>
<div style="position:absolute;left:592px;top:1217px;width:359px;height:2px;background:linear-gradient(90deg,#5456a1 0px,#5357a1 109px,#515da4 172px,#515da5 319px,#5061a6 339px,#515ea5 359px)"></div>
<div style="position:absolute;left:592px;top:1219px;width:359px;height:2px;background:linear-gradient(90deg,#5456a1 0px,#5357a1 109px,#515da4 174px,#515ea5 359px)"></div>
<div style="position:absolute;left:592px;top:1221px;width:359px;height:2px;background:linear-gradient(90deg,#5555a1 0px,#5357a1 109px,#515da4 174px,#515ea5 359px)"></div>
<div style="position:absolute;left:592px;top:1223px;width:359px;height:2px;background:linear-gradient(90deg,#5555a1 0px,#5357a1 107px,#515da4 175px,#515ea5 359px)"></div>
<div style="position:absolute;left:592px;top:1225px;width:359px;height:2px;background:linear-gradient(90deg,#5555a1 0px,#5357a1 107px,#515da4 175px,#515ea5 359px)"></div>
<div style="position:absolute;left:592px;top:1227px;width:359px;height:1px;background:linear-gradient(90deg,#5555a0 0px,#5357a1 107px,#515da4 175px,#515ea5 359px)"></div>
<div style="position:absolute;left:1088px;top:38px;width:262px;height:2px;background:linear-gradient(90deg,#e9a964 0px,#e59b5c 32px,#de8751 151px,#dd804f 262px)"></div>
<div style="position:absolute;left:1088px;top:40px;width:262px;height:2px;background:linear-gradient(90deg,#ebaf67 0px,#e7a260 34px,#dd844f 191px,#dd804f 262px)"></div>
<div style="position:absolute;left:1088px;top:42px;width:262px;height:2px;background:linear-gradient(90deg,#edb56b 0px,#e9a964 36px,#e39659 134px,#dd834f 196px,#dd804f 262px)"></div>
<div style="position:absolute;left:1088px;top:44px;width:262px;height:2px;background:linear-gradient(90deg,#efbb6e 0px,#ecb068 37px,#e59d5d 133px,#dd834f 197px,#dd804f 262px)"></div>
<div style="position:absolute;left:1088px;top:46px;width:262px;height:2px;background:linear-gradient(90deg,#f1c072 0px,#e8a461 131px,#e4985a 161px,#dd834f 198px,#dd804f 262px)"></div>
<div style="position:absolute;left:1088px;top:48px;width:262px;height:2px;background:linear-gradient(90deg,#f2c475 0px,#edb66c 83px,#eaab65 129px,#e59d5d 160px,#de8650 190px,#dd824f 198px,#dd804f 262px)"></div>
<div style="position:absolute;left:1088px;top:50px;width:262px;height:2px;background:linear-gradient(90deg,#f3c978 0px,#efbc6f 88px,#ecb269 128px,#e7a260 160px,#de8650 190px,#dd824f 198px,#dd804f 262px)"></div>
<div style="position:absolute;left:1088px;top:52px;width:262px;height:2px;background:linear-gradient(90deg,#f4cd7c 0px,#efbc6f 116px,#edb36a 139px,#e9a863 158px,#e59b5c 173px,#de8650 190px,#dd824f 196px,#dd804f 262px)"></div>
<div style="position:absolute;left:1088px;top:54px;width:262px;height:2px;background:linear-gradient(90deg,#f5d17f 0px,#f0bf71 126px,#eeb76c 144px,#e9aa64 162px,#e59b5c 176px,#de8650 190px,#dd824f 195px,#dd804f 262px)"></div>
<div style="position:absolute;left:1088px;top:56px;width:262px;height:2px;background:linear-gradient(90deg,#f6d583 0px,#f3c979 97px,#f1c072 136px,#eeb96d 150px,#eaaa65 166px,#e59b5c 178px,#dd814f 193px,#dd804f 262px)"></div>
<div style="position:absolute;left:1088px;top:58px;width:262px;height:2px;background:linear-gradient(90deg,#f7da86 0px,#f4cc7b 104px,#f0bf71 148px,#edb46a 161px,#e8a461 174px,#e29357 184px,#dc7e4e 192px,#dd804f 262px)"></div>
<div style="position:absolute;left:1088px;top:60px;width:262px;height:2px;background:linear-gradient(90deg,#f8de8b 0px,#f5d17f 102px,#f1c374 148px,#f0bd6f 158px,#e9a964 173px,#e3975a 183px,#dd804f 191px,#dc7d4e 193px,#dd804f 262px)"></div>
<div style="position:absolute;left:1088px;top:62px;width:262px;height:2px;background:linear-gradient(90deg,#f9e191 0px,#f7d884 87px,#f4cd7c 134px,#f1c374 154px,#efb96d 165px,#e69e5e 181px,#de8650 190px,#dc7c4e 194px,#dd804f 262px)"></div>
<div style="position:absolute;left:1088px;top:64px;width:262px;height:2px;background:linear-gradient(90deg,#f9e497 0px,#f8db87 94px,#f5d17f 134px,#f3c878 152px,#f0bd6f 166px,#e7a260 181px,#de8650 191px,#dc7d4e 195px,#dd804f 262px)"></div>
<div style="position:absolute;left:1088px;top:66px;width:262px;height:2px;background:linear-gradient(90deg,#fae79e 0px,#f8dd8b 101px,#f6d583 134px,#f4cb7b 153px,#f0bd70 169px,#e8a662 181px,#de8751 192px,#dc7c4e 197px,#dd804f 262px)"></div>
<div style="position:absolute;left:1088px;top:68px;width:262px;height:2px;background:linear-gradient(90deg,#faeaa4 0px,#f9e293 93px,#f7d986 134px,#f4ce7d 154px,#f0be70 171px,#e9a763 182px,#de8650 194px,#dc7c4e 198px,#dd804f 262px)"></div>
<div style="position:absolute;left:1088px;top:70px;width:262px;height:2px;background:linear-gradient(90deg,#fbedaa 0px,#f9e498 96px,#f8db88 139px,#f5d07e 157px,#f0bf71 173px,#e9a964 183px,#de8650 195px,#dc7e4e 198px,#dc7c4e 200px,#dd804f 262px)"></div>
<div style="position:absolute;left:1088px;top:72px;width:262px;height:2px;background:linear-gradient(90deg,#fbf0b1 0px,#fae79e 99px,#f9e294 126px,#f8dd89 144px,#f5d17f 160px,#f0be70 176px,#e9a863 185px,#df8851 196px,#dc7d4e 201px,#dd804f 262px)"></div>
<div style="position:absolute;left:1088px;top:74px;width:262px;height:2px;background:linear-gradient(90deg,#fcf4b7 0px,#faeaa4 98px,#f9e59a 127px,#f9df8e 145px,#f6d482 160px,#f0be70 178px,#e9a763 187px,#de8650 198px,#dc7d4e 202px,#dd804f 262px)"></div>
<div style="position:absolute;left:1088px;top:76px;width:262px;height:2px;background:linear-gradient(90deg,#fcf5bb 0px,#fbeeab 96px,#fae8a0 127px,#f9e294 145px,#f7d885 160px,#f0be70 180px,#de8751 199px,#dc7d4e 203px,#dd804f 262px)"></div>
<div style="position:absolute;left:1088px;top:78px;width:262px;height:2px;background:linear-gradient(90deg,#fcf5bd 0px,#fcf4b8 63px,#fbf1b2 94px,#fbeba6 127px,#fae69b 144px,#f8db88 161px,#f1c072 181px,#ebae67 188px,#de8650 201px,#dc7d4e 205px,#dd804f 262px)"></div>
<div style="position:absolute;left:1088px;top:80px;width:262px;height:2px;background:linear-gradient(90deg,#fcf6c0 0px,#fcf4b7 96px,#fbeeac 129px,#fae9a1 144px,#f8dc88 164px,#f1c072 183px,#de8751 202px,#dc7d4e 206px,#dd804f 262px)"></div>
<div style="position:absolute;left:1088px;top:82px;width:262px;height:2px;background:linear-gradient(90deg,#fcf7c4 0px,#fcf5be 31px,#fcf4b8 112px,#fbf0b0 132px,#fbeca8 144px,#fae69b 155px,#f8dd8a 166px,#f1c374 183px,#efbb6e 187px,#df8851 203px,#dc7e4e 207px,#dd804f 262px)"></div>
<div style="position:absolute;left:1088px;top:84px;width:262px;height:2px;background:linear-gradient(90deg,#fcf8c7 0px,#fcf7c5 21px,#fcf6c1 29px,#fcf5ba 115px,#fcf3b6 133px,#fbefae 144px,#fae8a0 156px,#f8dd8a 169px,#f3ca7a 181px,#f0bd70 188px,#de8650 205px,#dc7e4e 209px,#dd804f 262px)"></div>
<div style="position:absolute;left:1088px;top:86px;width:262px;height:2px;background:linear-gradient(90deg,#faf6c3 0px,#fcf8c7 22px,#fcf7c5 59px,#fcf6c1 68px,#fcf5ba 133px,#fcf3b5 144px,#fbeba6 156px,#f9e191 168px,#f4ce7d 181px,#f0bd6f 190px,#df8851 206px,#dc7e4e 210px,#dd804f 262px)"></div>
<div style="position:absolute;left:1088px;top:88px;width:262px;height:2px;background:linear-gradient(90deg,#f8f4bd 0px,#fbf7c4 33px,#fcf8c7 68px,#fcf5bd 133px,#fcf3b6 149px,#fbeba6 160px,#f8dd8a 174px,#f3ca7a 185px,#efbc6f 192px,#de8550 208px,#dc7e4e 211px,#dd804f 262px)"></div>
<div style="position:absolute;left:1088px;top:90px;width:262px;height:2px;background:linear-gradient(90deg,#f6f2b7 0px,#fcf8c7 98px,#fcf5bd 143px,#fcf3b7 154px,#faeba5 164px,#f8dc89 177px,#f2c475 190px,#efba6e 194px,#de8650 209px,#dc7e4e 212px,#dd804f 262px)"></div>
<div style="position:absolute;left:1088px;top:92px;width:262px;height:2px;background:linear-gradient(90deg,#f5f1b2 0px,#f7f3ba 58px,#fcf8c7 113px,#fcf7c4 129px,#fcf4b8 157px,#faeba5 167px,#f8dd89 179px,#f1c173 193px,#ecb269 198px,#de8750 210px,#dc7f4e 213px,#dd804f 262px)"></div>
<div style="position:absolute;left:1088px;top:94px;width:262px;height:2px;background:linear-gradient(90deg,#f1efac 0px,#f7f3ba 88px,#fcf8c7 124px,#fcf8c7 130px,#fcf4b9 160px,#fbeba7 169px,#f8dd8a 181px,#f1c374 194px,#efbb6e 197px,#df8851 211px,#dd804f 214px,#dd804f 262px)"></div>
<div style="position:absolute;left:1088px;top:96px;width:262px;height:2px;background:linear-gradient(90deg,#eeeda7 0px,#f5f1b4 89px,#fcf8c7 138px,#fcf4b8 164px,#f8dd8a 183px,#f0bd6f 198px,#de8650 213px,#dc7e4e 216px,#dd804f 262px)"></div>
<div style="position:absolute;left:1088px;top:98px;width:262px;height:2px;background:linear-gradient(90deg,#eaeba2 0px,#f3f0af 92px,#fcf8c7 144px,#fcf4b8 167px,#f8dd8a 185px,#f0be70 199px,#dd834f 215px,#dc7e4e 218px,#dd804f 262px)"></div>
<div style="position:absolute;left:1088px;top:100px;width:262px;height:2px;background:linear-gradient(90deg,#e7e99c 0px,#f0eeaa 96px,#f6f2b5 122px,#fcf8c7 149px,#fcf4b7 170px,#f8dd89 187px,#f0bd6f 201px,#de8550 216px,#dc7f4e 220px,#dd804f 262px)"></div>
<div style="position:absolute;left:1088px;top:102px;width:262px;height:2px;background:linear-gradient(90deg,#e3e898 0px,#ececa5 96px,#f4f0b1 125px,#fcf8c7 153px,#fcf3b7 173px,#f8dc89 189px,#f0be70 202px,#de8750 217px,#dc7f4e 220px,#dd824f 243px,#dd804f 262px)"></div>
<div style="position:absolute;left:1088px;top:104px;width:262px;height:2px;background:linear-gradient(90deg,#dfe697 0px,#e4e899 55px,#e9ea9f 96px,#f3efae 128px,#fcf8c7 156px,#fcf4b8 175px,#f8dd8a 190px,#efbc6f 204px,#dd844f 219px,#dc7f4e 222px,#dd824f 243px,#dd804f 262px)"></div>
<div style="position:absolute;left:1088px;top:106px;width:262px;height:2px;background:linear-gradient(90deg,#dbe496 0px,#e5e99a 97px,#f0eeaa 129px,#fcf8c7 159px,#fcf4b9 177px,#f8dd89 192px,#f0bd70 205px,#de8650 220px,#dc7f4e 224px,#dd834f 243px,#dd804f 262px)"></div>
<div style="position:absolute;left:1088px;top:108px;width:262px;height:2px;background:linear-gradient(90deg,#d7e295 0px,#dce496 59px,#dee597 66px,#e0e697 95px,#e5e899 108px,#eeeda7 131px,#fcf8c7 162px,#fcf4b9 179px,#f8dd8b 193px,#f0be70 206px,#de8751 221px,#dc7f4e 224px,#dd834f 243px,#dd804f 262px)"></div>
<div style="position:absolute;left:1088px;top:110px;width:262px;height:2px;background:linear-gradient(90deg,#d3e095 0px,#dce496 97px,#e4e899 117px,#ebeca3 132px,#f4f0b0 145px,#fcf8c7 165px,#fcf4b9 181px,#f8dc89 195px,#efbc6f 208px,#de8450 223px,#dd7f4f 226px,#de8450 243px,#dd804f 262px)"></div>
<div style="position:absolute;left:1088px;top:112px;width:262px;height:2px;background:linear-gradient(90deg,#cfde97 0px,#d8e295 96px,#e3e798 123px,#eaeba0 134px,#f4f0b1 149px,#fcf8c7 167px,#fcf4b8 183px,#f8dd8a 196px,#f0bd70 209px,#de8650 224px,#dd804f 228px,#de8550 243px,#dd804f 262px)"></div>
<div style="position:absolute;left:1088px;top:114px;width:262px;height:2px;background:linear-gradient(90deg,#cbdc99 0px,#d5e094 93px,#dbe496 117px,#e2e798 129px,#f4f0b0 151px,#fcf8c7 169px,#fcf5be 181px,#fcf4b8 185px,#f8dc88 198px,#f0be70 210px,#de8550 226px,#dd804f 228px,#de8650 242px,#dd804f 262px)"></div>
<div style="position:absolute;left:1088px;top:116px;width:262px;height:2px;background:linear-gradient(90deg,#c7db9c 0px,#d1df96 89px,#dde496 128px,#e5e899 136px,#f4f0b1 154px,#fcf8c8 171px,#fcf4b9 186px,#f8dc88 199px,#efbc6f 212px,#de8550 227px,#dd804f 230px,#de8751 242px,#dd804f 262px)"></div>
<div style="position:absolute;left:1088px;top:118px;width:262px;height:2px;background:linear-gradient(90deg,#c3d99e 0px,#cddd98 84px,#d4e094 109px,#d9e395 128px,#e5e899 139px,#f4f0b0 156px,#fcf8c7 173px,#fcf4b9 187px,#f8dc89 200px,#f0bd70 213px,#de8550 229px,#dd814f 231px,#df8851 236px,#df8952 242px,#dd804f 262px)"></div>
<div style="position:absolute;left:1088px;top:120px;width:262px;height:2px;background:linear-gradient(90deg,#bfd8a0 0px,#c9dc9a 84px,#d4e094 114px,#dce496 134px,#e5e899 142px,#f4f0b0 158px,#fcf8c8 174px,#fcf4b9 188px,#f8dd89 201px,#f0be70 214px,#df8a52 230px,#de8751 232px,#e08b53 236px,#df8b53 243px,#dd814f 262px)"></div>
<div style="position:absolute;left:1088px;top:122px;width:262px;height:2px;background:linear-gradient(90deg,#bad6a0 0px,#bed7a0 43px,#c5da9d 81px,#d3e094 120px,#dae396 135px,#e5e899 145px,#f4f0b0 160px,#fcf8c8 176px,#fcf5be 186px,#fcf3b7 190px,#f8db87 203px,#f0bd6f 216px,#e39558 229px,#e19056 232px,#e08c54 244px,#dd814f 262px)"></div>
<div style="position:absolute;left:1088px;top:124px;width:262px;height:2px;background:linear-gradient(90deg,#b5d4a0 0px,#b8d5a0 43px,#c0d8a0 78px,#d4e094 125px,#dce496 140px,#e5e899 147px,#f4f0b0 162px,#fcf8c8 177px,#fcf5bd 188px,#fcf3b6 191px,#f8db87 204px,#f0be70 217px,#e6a05f 227px,#e39659 233px,#dd814f 262px)"></div>
<div style="position:absolute;left:1088px;top:126px;width:262px;height:2px;background:linear-gradient(90deg,#b0d2a0 0px,#b3d3a0 40px,#bad6a0 73px,#c1d89f 91px,#d4e094 129px,#dae396 141px,#e4e899 149px,#f4f0af 163px,#fcf8c8 178px,#fcf5be 188px,#fcf3b6 192px,#f8db87 205px,#f0bf71 218px,#e9a864 226px,#e49a5b 234px,#dd814f 262px)"></div>
<div style="position:absolute;left:1088px;top:128px;width:262px;height:2px;background:linear-gradient(90deg,#abd0a0 0px,#add1a0 39px,#b5d4a0 73px,#c0d8a0 97px,#d3e094 131px,#dae396 143px,#e4e899 151px,#f4f0b0 165px,#fcf8c8 179px,#fcf4b8 192px,#f8db87 206px,#f0be70 220px,#ebb068 225px,#e59d5d 235px,#dd824f 262px)"></div>
<div style="position:absolute;left:1088px;top:130px;width:262px;height:2px;background:linear-gradient(90deg,#a6cea0 0px,#a8cfa0 39px,#b0d2a0 73px,#bfd8a0 101px,#d4e094 134px,#dae396 145px,#e5e899 153px,#f4f0b0 166px,#fcf8c8 180px,#fcf4b7 193px,#f8db87 207px,#eeb76c 224px,#e69f5e 236px,#dd824f 262px)"></div>
<div style="position:absolute;left:1088px;top:132px;width:262px;height:2px;background:linear-gradient(90deg,#a1cca0 0px,#a3cda0 39px,#abd0a0 73px,#bfd8a0 106px,#d3e094 136px,#dae396 147px,#e4e898 154px,#f4f0af 167px,#fcf8c8 181px,#fcf5be 190px,#fcf3b6 194px,#f8dd8a 207px,#f2c777 218px,#e7a260 236px,#dd824f 262px)"></div>
<div style="position:absolute;left:1088px;top:134px;width:262px;height:2px;background:linear-gradient(90deg,#9dcaa0 0px,#9ecba0 40px,#a6cea0 72px,#afd2a0 89px,#bfd8a0 110px,#d3e094 138px,#d9e395 148px,#e5e899 156px,#f3f0af 168px,#fcf8c8 182px,#fcf4b8 194px,#f8dd8a 208px,#f4cd7c 216px,#e8a461 237px,#dd824f 262px)"></div>
<div style="position:absolute;left:1088px;top:136px;width:262px;height:2px;background:linear-gradient(90deg,#99c9a0 0px,#9ac9a0 40px,#a1cca0 74px,#abd0a0 90px,#bfd8a0 113px,#d3e094 140px,#dae396 151px,#e4e898 157px,#f3f0af 169px,#fcf8c7 183px,#fcf4b9 194px,#f8dd89 209px,#f5d17f 215px,#e9a864 236px,#dd834f 262px)"></div>
<div style="position:absolute;left:1088px;top:138px;width:262px;height:2px;background:linear-gradient(90deg,#95c7a0 0px,#96c7a0 41px,#9fcca0 79px,#a9cfa0 93px,#bfd8a0 116px,#d4e094 142px,#d9e295 151px,#e4e898 158px,#f4f0af 170px,#fcf8c8 183px,#fcf4b8 195px,#f8dd89 210px,#f6d582 214px,#f0be70 227px,#eaab65 236px,#dd834f 262px)"></div>
<div style="position:absolute;left:1088px;top:140px;width:262px;height:2px;background:linear-gradient(90deg,#92c5a0 0px,#92c5a0 43px,#9ccaa0 80px,#a3cda0 91px,#bfd8a0 119px,#d4e094 144px,#dae396 153px,#e4e898 159px,#f4f0b0 171px,#fcf8c7 184px,#fcf3b7 196px,#f9e294 207px,#f7d885 213px,#f0bf71 228px,#eaac66 237px,#dd834f 262px)"></div>
<div style="position:absolute;left:1088px;top:142px;width:262px;height:2px;background:linear-gradient(90deg,#8fc3a0 0px,#8fc4a0 40px,#92c5a0 67px,#97c7a0 78px,#a1cca0 94px,#bfd8a0 121px,#d4e094 145px,#d9e295 153px,#e4e898 160px,#f4f0b0 172px,#fcf8c8 184px,#fcf4b8 196px,#f8da87 213px,#f0bd6f 230px,#ebae67 237px,#dd834f 262px)"></div>
<div style="position:absolute;left:1088px;top:144px;width:262px;height:2px;background:linear-gradient(90deg,#8cc2a0 0px,#8dc2a0 36px,#92c5a0 77px,#a1cca0 98px,#bfd8a0 123px,#d3e094 146px,#dae395 155px,#e5e899 161px,#f3f0af 172px,#fcf8c7 185px,#fcf4b9 196px,#f8dc88 213px,#f0bd70 231px,#ebae67 238px,#dd844f 262px)"></div>
<div style="position:absolute;left:1088px;top:146px;width:262px;height:2px;background:linear-gradient(90deg,#8ac1a0 0px,#8bc1a0 36px,#92c5a0 85px,#a1cca0 101px,#bfd8a0 125px,#d3e094 147px,#d9e295 155px,#e4e898 161px,#f4f0b0 173px,#fcf8c8 185px,#fcf4b7 197px,#f8db87 214px,#f0bd70 232px,#de8450 262px)"></div>
<div style="position:absolute;left:1088px;top:148px;width:262px;height:2px;background:linear-gradient(90deg,#87bfa0 0px,#88c0a0 36px,#90c4a0 86px,#a0cca0 104px,#c0d8a0 127px,#d3e094 148px,#dae396 156px,#e4e899 162px,#f4f0b1 174px,#fcf8c7 185px,#fcf8c7 186px,#fcf4b8 197px,#f8db87 215px,#f0bd70 233px,#de8450 262px)"></div>
<div style="position:absolute;left:1088px;top:150px;width:262px;height:2px;background:linear-gradient(90deg,#85bea1 0px,#87bfa0 39px,#92c5a0 91px,#a0cca0 106px,#c0d8a0 129px,#d4e094 149px,#dae395 156px,#e4e898 162px,#f4f0b0 174px,#fcf8c7 186px,#fcf3b6 198px,#f8dc88 215px,#f0bd6f 234px,#de8450 262px)"></div>
<div style="position:absolute;left:1088px;top:152px;width:262px;height:2px;background:linear-gradient(90deg,#83bca2 0px,#86bfa1 49px,#92c5a0 95px,#9fcca0 108px,#c0d8a0 130px,#d4e094 150px,#e3e898 162px,#f3f0af 174px,#fcf8c8 186px,#fcf4b7 198px,#f8dc88 216px,#f0be70 234px,#de8550 262px)"></div>
<div style="position:absolute;left:1088px;top:154px;width:262px;height:2px;background:linear-gradient(90deg,#80bba3 0px,#84bda1 47px,#92c5a0 99px,#a0cca0 111px,#bfd8a0 131px,#d5e094 151px,#e2e798 162px,#f4f0b0 175px,#fcf8c8 186px,#fcf4b8 198px,#f8db87 217px,#f0be70 235px,#de8550 262px)"></div>
<div style="position:absolute;left:1088px;top:156px;width:262px;height:2px;background:linear-gradient(90deg,#7eb9a3 0px,#81bba2 45px,#90c4a0 100px,#9fcca0 112px,#bfd8a0 132px,#d4e094 151px,#dbe396 158px,#e3e898 163px,#f4f0af 175px,#fcf8c7 186px,#fcf8c7 187px,#fcf3b7 199px,#f8dc88 217px,#f0bd70 236px,#de8550 262px)"></div>
<div style="position:absolute;left:1088px;top:158px;width:262px;height:2px;background:linear-gradient(90deg,#7cb8a4 0px,#7fbaa3 46px,#90c4a0 102px,#a0cca0 114px,#bfd8a0 133px,#d4e094 151px,#dae396 158px,#e3e798 163px,#f4f0b1 176px,#fcf8c7 187px,#fcf4b8 199px,#f8dc88 218px,#f0be70 236px,#de8650 262px)"></div>
<div style="position:absolute;left:1088px;top:160px;width:262px;height:2px;background:linear-gradient(90deg,#7ab6a5 0px,#7db9a4 46px,#91c4a0 105px,#bfd8a0 134px,#d4e094 152px,#e2e798 163px,#f4f0b0 176px,#fcf8c8 187px,#fcf3b6 200px,#f8dc89 218px,#f0be70 237px,#de8650 262px)"></div>
<div style="position:absolute;left:1088px;top:162px;width:262px;height:2px;background:linear-gradient(90deg,#77b5a6 0px,#7bb7a4 46px,#90c4a0 106px,#c0d8a0 135px,#d4e094 152px,#e4e898 164px,#f4f0b0 176px,#fcf8c7 187px,#fcf8c7 188px,#fcf4b7 200px,#f8dc88 219px,#f0bd6f 238px,#de8751 262px)"></div>
<div style="position:absolute;left:1088px;top:164px;width:262px;height:2px;background:linear-gradient(90deg,#75b3a6 0px,#79b6a5 46px,#90c4a0 108px,#c0d8a0 136px,#d4e094 153px,#e3e898 164px,#f4f0b1 177px,#fcf8c7 188px,#fcf4b8 200px,#f8db87 220px,#f0be70 238px,#df8851 262px)"></div>
<div style="position:absolute;left:1088px;top:166px;width:262px;height:2px;background:linear-gradient(90deg,#73b2a7 0px,#77b4a6 46px,#90c4a0 109px,#bfd8a0 136px,#d4e094 153px,#e3e898 164px,#f4f0b0 177px,#fcf8c8 188px,#fcf3b7 201px,#f8dc88 220px,#f0bd6f 239px,#df8951 262px)"></div>
<div style="position:absolute;left:1088px;top:168px;width:262px;height:2px;background:linear-gradient(90deg,#71b0a8 0px,#74b3a7 46px,#90c4a0 109px,#c0d8a0 137px,#d4e094 153px,#e3e798 164px,#f4f0b0 177px,#fcf8c8 188px,#fcf6be 194px,#fcf4b8 201px,#f8db87 221px,#f0be70 239px,#df8952 262px)"></div>
<div style="position:absolute;left:1088px;top:170px;width:262px;height:2px;background:linear-gradient(90deg,#6faea9 0px,#71b1a8 45px,#90c4a0 109px,#c0d8a0 138px,#d4e094 153px,#e4e898 165px,#f4f0af 177px,#fcf8c7 188px,#fcf8c7 189px,#fcf6c0 193px,#fcf4b8 201px,#f8dc88 221px,#f0bd6f 240px,#df8a52 262px)"></div>
<div style="position:absolute;left:1088px;top:172px;width:262px;height:2px;background:linear-gradient(90deg,#6dacaa 0px,#6fafa9 46px,#88c0a0 93px,#90c4a0 109px,#9fcca0 120px,#c0d8a0 138px,#d5e094 154px,#e4e898 165px,#f4f0b1 178px,#fcf8c7 189px,#fcf4b7 202px,#f8db87 222px,#f0be70 240px,#e08b53 262px)"></div>
<div style="position:absolute;left:1088px;top:174px;width:262px;height:2px;background:linear-gradient(90deg,#6baaac 0px,#6fafa9 50px,#88c0a0 94px,#91c4a0 111px,#c0d8a0 139px,#d4e094 154px,#e3e898 165px,#f4f0b0 178px,#fcf8c8 189px,#fcf4b8 202px,#f8dc88 222px,#f0be70 240px,#e08c53 262px)"></div>
<div style="position:absolute;left:1088px;top:176px;width:262px;height:2px;background:linear-gradient(90deg,#69a8ae 0px,#6fafa9 54px,#88c0a0 95px,#90c4a0 111px,#c0d8a0 139px,#d4e094 154px,#e3e898 165px,#f4f0b0 178px,#fcf8c7 189px,#fcf8c7 190px,#fcf4b8 202px,#f8dc88 222px,#f0bd70 241px,#e08d54 262px)"></div>
<div style="position:absolute;left:1088px;top:178px;width:262px;height:2px;background:linear-gradient(90deg,#67a5af 0px,#6faea9 57px,#88c0a0 96px,#90c4a0 111px,#a0cca0 122px,#bfd8a0 139px,#d4e094 154px,#e4e898 166px,#f3f0af 178px,#fcf8c7 190px,#fcf3b7 203px,#f8db87 223px,#f0be70 241px,#e08d54 262px)"></div>
<div style="position:absolute;left:1088px;top:180px;width:262px;height:2px;background:linear-gradient(90deg,#65a3b1 0px,#6eaea9 59px,#88c0a0 97px,#90c4a0 111px,#9fcca0 122px,#c0d8a0 140px,#d5e094 155px,#e4e898 166px,#f4f0b1 179px,#fcf8c8 190px,#fcf6be 196px,#fcf4b8 203px,#f8dc88 223px,#f0bf71 241px,#e18e55 262px)"></div>
<div style="position:absolute;left:1088px;top:182px;width:262px;height:2px;background:linear-gradient(90deg,#63a0b2 0px,#65a3b1 20px,#6eaea9 61px,#88c0a0 98px,#90c4a0 111px,#a0cca0 123px,#bfd8a0 140px,#d4e094 155px,#e5e899 167px,#f4f0b0 179px,#fcf8c8 190px,#fcf6be 196px,#fcf4b8 203px,#f8dc89 223px,#f0be70 242px,#e18f55 262px)"></div>
<div style="position:absolute;left:1088px;top:184px;width:262px;height:2px;background:linear-gradient(90deg,#619eb4 0px,#63a0b2 19px,#6eaea9 63px,#88c0a0 99px,#90c4a0 111px,#a0cca0 123px,#bfd8a0 140px,#d4e094 155px,#e5e899 167px,#f4f0b0 179px,#fcf8c7 190px,#fcf3b7 204px,#f8db88 224px,#f0be70 242px,#e19056 262px)"></div>
<div style="position:absolute;left:1088px;top:186px;width:262px;height:2px;background:linear-gradient(90deg,#5f9bb6 0px,#619eb4 19px,#6eaea9 65px,#87c0a0 99px,#90c4a0 111px,#9fcca0 123px,#c0d8a0 141px,#d5e094 156px,#e4e898 167px,#f4f0af 179px,#fcf8c7 191px,#fcf6c0 195px,#fcf4b8 204px,#f8dc88 224px,#f0bd6f 243px,#e19056 262px)"></div>
<div style="position:absolute;left:1088px;top:188px;width:262px;height:2px;background:linear-gradient(90deg,#5d99b7 0px,#5f9cb6 18px,#6eaea9 67px,#88c0a0 100px,#91c4a0 113px,#a0cca0 124px,#c0d8a0 141px,#d5e094 156px,#e4e898 167px,#f4f0b1 180px,#fcf8c8 191px,#fcf4b8 204px,#f8dc89 224px,#f0be70 243px,#e29156 262px)"></div>
<div style="position:absolute;left:1088px;top:190px;width:262px;height:2px;background:linear-gradient(90deg,#5b96b9 0px,#5d99b7 17px,#6eadaa 67px,#87c0a0 100px,#90c4a0 113px,#a0cca0 124px,#bfd8a0 141px,#d4e094 156px,#e4e898 167px,#f4f0b0 180px,#fcf8c8 191px,#fcf4b8 204px,#f8db87 225px,#f0be70 243px,#e29257 262px)"></div>
<div style="position:absolute;left:1088px;top:192px;width:262px;height:2px;background:linear-gradient(90deg,#5a94bb 0px,#5c98b8 20px,#6eaea9 68px,#88c0a0 101px,#90c4a0 113px,#9fcca0 124px,#c0d8a0 142px,#d4e094 156px,#e5e899 168px,#f4f0b0 180px,#fcf8c7 191px,#fcf8c7 192px,#fcf3b7 205px,#f8dc88 225px,#f0bf71 243px,#e29357 262px)"></div>
<div style="position:absolute;left:1088px;top:194px;width:262px;height:2px;background:linear-gradient(90deg,#5991bd 0px,#5992bc 14px,#6eaea9 69px,#87c0a0 101px,#90c4a0 113px,#a1cca0 125px,#c0d8a0 142px,#d4e094 156px,#e5e899 168px,#f4f0af 180px,#fcf8c7 192px,#fcf4b7 205px,#f8dc88 225px,#f0bd70 244px,#e29458 262px)"></div>
<div style="position:absolute;left:1088px;top:196px;width:262px;height:2px;background:linear-gradient(90deg,#5890be 0px,#5891bd 16px,#6eaea9 70px,#88c0a0 102px,#90c4a0 113px,#a0cca0 125px,#c0d8a0 142px,#d4e094 156px,#e4e899 168px,#f3f0af 180px,#fcf8c8 192px,#fcf6be 198px,#fcf4b8 205px,#f8dc89 225px,#f0be70 244px,#e39458 262px)"></div>
<div style="position:absolute;left:1088px;top:198px;width:262px;height:2px;background:linear-gradient(90deg,#568ebd 0px,#5890be 19px,#6eaea9 70px,#88c0a0 102px,#90c4a0 113px,#a0cca0 125px,#bfd8a0 142px,#d4e094 156px,#e4e898 168px,#f4f0b1 181px,#fcf8c8 192px,#fcf6be 198px,#fcf4b8 205px,#f8db88 226px,#f0be70 244px,#e39559 262px)"></div>
<div style="position:absolute;left:1088px;top:200px;width:262px;height:2px;background:linear-gradient(90deg,#538bbd 0px,#5890be 22px,#6faea9 71px,#87c0a0 102px,#90c4a0 113px,#a0cca0 125px,#bfd8a0 142px,#d5e194 157px,#e4e898 168px,#f4f0b0 181px,#fcf8c8 192px,#fcf6be 198px,#fcf3b7 206px,#f8dc88 226px,#f0bf71 244px,#e39659 262px)"></div>
<div style="position:absolute;left:1088px;top:202px;width:262px;height:2px;background:linear-gradient(90deg,#5088bc 0px,#5890be 25px,#6faea9 72px,#88c0a0 103px,#90c4a0 113px,#9fcca0 125px,#c0d8a0 143px,#d5e094 157px,#e5e899 169px,#f4f0b0 181px,#fcf8c7 193px,#fcf4b7 206px,#f8dc88 226px,#f0bd70 245px,#e3975a 262px)"></div>
<div style="position:absolute;left:1088px;top:204px;width:262px;height:2px;background:linear-gradient(90deg,#4f85be 0px,#5890be 28px,#64a2b1 51px,#6eaea9 72px,#88c0a0 103px,#90c4a0 113px,#a1cca0 126px,#c0d8a0 143px,#d4e094 157px,#e4e899 169px,#f4f0af 181px,#fcf8c8 193px,#fcf4b8 206px,#f8dc89 226px,#f0be70 245px,#e4985a 262px)"></div>
<div style="position:absolute;left:1088px;top:206px;width:262px;height:2px;background:linear-gradient(90deg,#4e80bf 0px,#5088bc 14px,#5890be 30px,#64a2b2 51px,#6eaea9 72px,#88c0a0 103px,#8fc4a0 113px,#a0cca0 126px,#c0d8a0 143px,#d5e094 158px,#e4e898 169px,#f3f0af 181px,#fcf8c8 193px,#fcf4b8 206px,#f8dd89 226px,#f0be70 245px,#e4985a 262px)"></div>
<div style="position:absolute;left:1088px;top:208px;width:262px;height:2px;background:linear-gradient(90deg,#4d79b9 0px,#4e81bf 7px,#5088bc 16px,#5890be 32px,#63a0b3 50px,#71b0a8 75px,#8fc4a0 113px,#a0cca0 126px,#c0d8a0 143px,#d5e094 158px,#e4e898 169px,#f4f0b1 182px,#fcf8c8 193px,#fcf3b7 207px,#f8db87 227px,#f0bf70 245px,#e4995b 262px)"></div>
<div style="position:absolute;left:1088px;top:210px;width:262px;height:2px;background:linear-gradient(90deg,#4c75b5 0px,#4d79b9 5px,#4e81bf 11px,#5088bc 18px,#5890be 34px,#62a0b3 50px,#70b0a8 75px,#88c0a0 104px,#90c4a0 115px,#a0cca0 126px,#bfd8a0 143px,#d5e094 158px,#e4e898 169px,#f4f0b0 182px,#fcf8c7 193px,#fcf4b7 207px,#f8dc88 227px,#f0bd6f 246px,#e49a5b 262px)"></div>
<div style="position:absolute;left:1088px;top:212px;width:262px;height:2px;background:linear-gradient(90deg,#4c74b4 0px,#4d79b9 9px,#4e80bf 13px,#538bbd 24px,#5890be 35px,#629fb3 50px,#70b0a8 75px,#88c0a0 104px,#90c4a0 115px,#a0cca0 126px,#bfd8a0 143px,#d4e094 158px,#e4e898 169px,#f4f0b0 182px,#fcf8c7 194px,#fcf6bf 199px,#fcf4b8 207px,#f8dc88 227px,#f0bd70 246px,#e59b5c 262px)"></div>
<div style="position:absolute;left:1088px;top:214px;width:262px;height:2px;background:linear-gradient(90deg,#4c72b3 0px,#4c76b6 10px,#4e7fbf 15px,#5087bd 20px,#5890be 35px,#62a0b3 51px,#70b0a8 75px,#88c0a0 104px,#90c4a0 115px,#a0cca0 126px,#bfd8a0 143px,#d4e094 158px,#e5e899 170px,#f4f0b0 182px,#fcf8c8 194px,#fcf6bf 199px,#fcf4b8 207px,#f8dc88 227px,#f0be70 246px,#e59b5c 262px)"></div>
<div style="position:absolute;left:1088px;top:216px;width:262px;height:2px;background:linear-gradient(90deg,#4c70b1 0px,#4c76b6 12px,#4e80bf 17px,#4f86bd 20px,#5890be 36px,#63a0b3 52px,#70b0a8 75px,#88c0a0 104px,#90c4a0 115px,#9fcca0 126px,#bfd8a0 143px,#d4e094 158px,#e5e899 170px,#f4f0b0 182px,#fcf8c8 194px,#fcf4b8 207px,#f8dc88 227px,#f0be70 246px,#e59c5d 262px)"></div>
<div style="position:absolute;left:1088px;top:218px;width:262px;height:2px;background:linear-gradient(90deg,#4c6eaf 0px,#4c76b6 14px,#4e7fbf 18px,#5087bd 22px,#5890be 36px,#63a0b3 52px,#70b0a8 75px,#88c0a0 104px,#90c4a0 115px,#9fcca0 126px,#bfd8a0 143px,#d4e094 158px,#e4e899 170px,#f4f0b0 182px,#fcf8c8 194px,#fcf3b7 208px,#f8dc88 227px,#f0be70 246px,#e59d5d 262px)"></div>
<div style="position:absolute;left:1088px;top:220px;width:262px;height:1px;background:linear-gradient(90deg,#4c6cad 0px,#4c76b6 15px,#4e80c0 19px,#5086bd 22px,#5890be 37px,#63a0b3 52px,#70b0a8 75px,#88c0a0 104px,#90c4a0 115px,#9fcca0 126px,#c0d8a0 144px,#d4e094 158px,#dae396 164px,#e4e898 170px,#f4f0b0 182px,#fcf8c8 194px,#fcf3b7 208px,#f8dc88 227px,#f0be70 246px,#e69d5d 262px)"></div>
<div style="position:absolute;left:1088px;top:373px;width:262px;height:2px;background:linear-gradient(90deg,#f0bf71 0px,#e19056 34px,#de8450 50px,#da764c 72px,#d76649 111px,#e08c53 250px,#e29257 259px,#e7a15f 262px)"></div>
<div style="position:absolute;left:1088px;top:375px;width:262px;height:2px;background:linear-gradient(90deg,#f1c173 0px,#efbc6f 7px,#e59b5c 32px,#e29156 44px,#dc7e4e 73px,#d96e4b 111px,#db784d 174px,#de8851 237px,#e29156 255px,#e4995b 259px,#e7a260 262px)"></div>
<div style="position:absolute;left:1088px;top:377px;width:262px;height:2px;background:linear-gradient(90deg,#f2c475 0px,#f0bf71 10px,#e7a360 33px,#e19156 56px,#de8450 76px,#db774d 111px,#db774d 165px,#de8550 228px,#e18f55 251px,#e39659 257px,#e7a160 262px)"></div>
<div style="position:absolute;left:1088px;top:379px;width:262px;height:2px;background:linear-gradient(90deg,#f2c777 0px,#f0bf71 15px,#e9a864 36px,#e39458 63px,#df8851 85px,#dc7e4e 112px,#db794d 161px,#dd7f4f 206px,#e08c54 246px,#e39458 255px,#e6a05f 262px)"></div>
<div style="position:absolute;left:1088px;top:381px;width:262px;height:2px;background:linear-gradient(90deg,#f3cb7a 0px,#f1c273 18px,#e9a964 45px,#e39558 77px,#df8851 107px,#db7b4d 157px,#dc7c4e 188px,#de8650 232px,#e19056 250px,#e69f5e 262px)"></div>
<div style="position:absolute;left:1088px;top:383px;width:262px;height:2px;background:linear-gradient(90deg,#f5cf7e 0px,#f3c878 16px,#ecb269 45px,#e69e5e 75px,#dc7c4e 159px,#dc7d4e 189px,#de8650 231px,#e18f55 249px,#e69e5e 262px)"></div>
<div style="position:absolute;left:1088px;top:385px;width:262px;height:2px;background:linear-gradient(90deg,#f6d381 0px,#f4cd7c 15px,#e9aa64 70px,#e19156 130px,#dd814f 152px,#dc7d4e 161px,#dc7d4e 191px,#de8650 230px,#e18f55 248px,#e59c5d 262px)"></div>
<div style="position:absolute;left:1088px;top:387px;width:262px;height:2px;background:linear-gradient(90deg,#f7d784 0px,#f6d381 13px,#edb46b 66px,#e4995b 128px,#e29257 138px,#dd824f 153px,#dc7e4e 162px,#dc7e4e 191px,#de8550 228px,#e08e54 247px,#e59b5c 262px)"></div>
<div style="position:absolute;left:1088px;top:389px;width:262px;height:2px;background:linear-gradient(90deg,#f8dc88 0px,#f7d985 11px,#f1c172 56px,#e7a260 125px,#e4985a 138px,#dd844f 153px,#dc7f4e 162px,#dc7e4e 189px,#de8450 225px,#e08c54 245px,#e49a5b 262px)"></div>
<div style="position:absolute;left:1088px;top:391px;width:262px;height:2px;background:linear-gradient(90deg,#f9df8f 0px,#f8dc88 14px,#f3c878 52px,#eaac66 122px,#e59d5d 139px,#de8650 152px,#dd804f 162px,#dc7e4e 188px,#dd834f 222px,#e08b53 243px,#e4985a 262px)"></div>
<div style="position:absolute;left:1088px;top:393px;width:262px;height:2px;background:linear-gradient(90deg,#f9e395 0px,#f8dd8a 20px,#f4cf7d 48px,#f0bd6f 104px,#edb56b 120px,#ebad66 131px,#e7a260 140px,#e3975a 146px,#de8550 152px,#dd814f 161px,#dc7f4e 186px,#dd834f 219px,#df8a52 242px,#e3975a 262px)"></div>
<div style="position:absolute;left:1088px;top:395px;width:262px;height:2px;background:linear-gradient(90deg,#fae69c 0px,#f9e498 10px,#f8db87 33px,#f6d582 45px,#efbc6f 122px,#ecb269 133px,#e9a763 141px,#e59c5d 146px,#de8751 152px,#de8450 154px,#dd7f4f 180px,#dd814f 212px,#df8851 238px,#e39559 262px)"></div>
<div style="position:absolute;left:1088px;top:397px;width:262px;height:2px;background:linear-gradient(90deg,#faeaa4 0px,#fae8a0 9px,#f8da87 44px,#f0bf71 127px,#eeb96d 134px,#ebae67 141px,#e6a05f 147px,#df8952 154px,#dd844f 158px,#dd804f 184px,#dd814f 213px,#de8751 237px,#e29458 262px)"></div>
<div style="position:absolute;left:1088px;top:399px;width:262px;height:2px;background:linear-gradient(90deg,#fbeeab 0px,#f8db88 53px,#f4cd7c 108px,#f1c374 129px,#efbc6f 137px,#edb36a 142px,#e8a562 148px,#de8650 158px,#dd834f 160px,#dd804f 186px,#dd814f 213px,#de8750 236px,#e29357 262px)"></div>
<div style="position:absolute;left:1088px;top:401px;width:262px;height:2px;background:linear-gradient(90deg,#fcf2b3 0px,#f8de8c 58px,#f6d381 106px,#f3c878 129px,#efbb6e 142px,#e9a763 150px,#df8b53 159px,#dd834f 164px,#dd804f 189px,#dd814f 214px,#de8650 235px,#e29156 262px)"></div>
<div style="position:absolute;left:1088px;top:403px;width:262px;height:2px;background:linear-gradient(90deg,#fcf4b9 0px,#fcf3b6 8px,#faeaa3 31px,#f9e293 56px,#f7da86 101px,#f4ce7d 128px,#f2c676 138px,#f0bd6f 145px,#df8a52 163px,#dd824f 168px,#dd824f 215px,#e19056 262px)"></div>
<div style="position:absolute;left:1088px;top:405px;width:262px;height:2px;background:linear-gradient(90deg,#fcf5bd 0px,#fcf4b8 13px,#fae59a 56px,#f8dd8a 108px,#f6d582 127px,#f4cb7b 138px,#f0c071 147px,#df8952 167px,#dd824f 172px,#dd824f 216px,#e18e55 262px)"></div>
<div style="position:absolute;left:1088px;top:407px;width:262px;height:2px;background:linear-gradient(90deg,#fcf6c0 0px,#fcf4b8 20px,#fae8a1 56px,#f9e294 102px,#f8da87 127px,#f5d07e 139px,#f0bf71 151px,#de8751 171px,#dd824f 174px,#dd814f 216px,#e08d54 262px)"></div>
<div style="position:absolute;left:1088px;top:409px;width:262px;height:2px;background:linear-gradient(90deg,#fcf7c3 0px,#fcf3b7 31px,#fbeba6 59px,#fae59a 106px,#f8dd89 131px,#f5d280 142px,#f1c072 154px,#e69f5e 166px,#df8851 173px,#dd814f 178px,#dd814f 217px,#e08b53 262px)"></div>
<div style="position:absolute;left:1088px;top:411px;width:262px;height:2px;background:linear-gradient(90deg,#fcf7c6 0px,#fcf4b8 37px,#fbeead 59px,#fae9a3 105px,#f9e499 123px,#f8de8b 136px,#f5d380 146px,#f0bf71 158px,#de8751 177px,#dd814f 182px,#dd814f 217px,#df8a52 262px)"></div>
<div style="position:absolute;left:1088px;top:413px;width:262px;height:2px;background:linear-gradient(90deg,#fcf8c7 0px,#fcf8c7 6px,#fcf6be 22px,#fcf1b3 60px,#fbeeab 103px,#fae9a1 122px,#f9e294 136px,#f8da87 145px,#f1c072 161px,#de8651 181px,#dd804f 186px,#dd814f 218px,#df8951 262px)"></div>
<div style="position:absolute;left:1088px;top:415px;width:262px;height:2px;background:linear-gradient(90deg,#faf6c2 0px,#fcf8c7 14px,#fcf6c1 22px,#fcf4b9 53px,#fcf2b4 100px,#fbeba6 126px,#fae59b 137px,#f8de8c 146px,#f4ce7c 157px,#f0bd6f 166px,#df8851 184px,#dc7f4e 188px,#dd814f 219px,#de8751 262px)"></div>
<div style="position:absolute;left:1088px;top:417px;width:262px;height:2px;background:linear-gradient(90deg,#f9f5be 0px,#fcf8c7 22px,#fcf5bc 54px,#fcf4b9 105px,#fbf0b1 124px,#fae8a1 139px,#f7d986 154px,#f0c071 168px,#de8650 187px,#dd7f4f 191px,#de8650 262px)"></div>
<div style="position:absolute;left:1088px;top:419px;width:262px;height:2px;background:linear-gradient(90deg,#f7f3b8 0px,#fcf8c7 33px,#fcf5be 52px,#fcf5bd 105px,#fcf4b9 123px,#fcf1b2 132px,#faeaa4 143px,#f7d985 158px,#f0be70 172px,#de8550 191px,#dc7f4e 195px,#de8550 262px)"></div>
<div style="position:absolute;left:1088px;top:421px;width:262px;height:2px;background:linear-gradient(90deg,#f5f1b3 0px,#fcf8c7 42px,#fcf6c2 52px,#fcf6c0 103px,#fcf3b7 136px,#fbeca8 146px,#f7da86 161px,#f0be70 175px,#de8450 195px,#dc7f4e 199px,#de8550 262px)"></div>
<div style="position:absolute;left:1088px;top:423px;width:262px;height:2px;background:linear-gradient(90deg,#f3efae 0px,#f4f0b1 11px,#fbf7c6 48px,#fcf7c5 99px,#fcf5bc 135px,#fcf3b6 144px,#f8da87 164px,#f0bf71 178px,#df8a52 196px,#dc7e4e 201px,#de8650 262px)"></div>
<div style="position:absolute;left:1088px;top:425px;width:262px;height:2px;background:linear-gradient(90deg,#efeea9 0px,#faf6c2 56px,#fcf8c7 107px,#fcf6c0 133px,#fcf5bc 143px,#fcf3b7 148px,#f8dc89 166px,#f0bf71 181px,#dd844f 201px,#dc7d4e 205px,#de8650 262px)"></div>
<div style="position:absolute;left:1088px;top:427px;width:262px;height:2px;background:linear-gradient(90deg,#ececa4 0px,#f7f3ba 53px,#f9f5c0 96px,#fcf8c7 122px,#fcf6bf 142px,#fcf4b9 151px,#f8de8c 168px,#f0bf71 184px,#df8851 203px,#dc7d4e 209px,#dc7f4e 231px,#de8650 262px)"></div>
<div style="position:absolute;left:1088px;top:429px;width:262px;height:2px;background:linear-gradient(90deg,#e8ea9e 0px,#f5f1b2 48px,#f7f3ba 99px,#fcf8c7 132px,#fcf6c0 147px,#fcf4b8 155px,#f8dd8a 172px,#f0bf71 187px,#e08c54 205px,#dd814f 210px,#dd834f 215px,#dc7e4e 226px,#de8750 262px)"></div>
<div style="position:absolute;left:1088px;top:431px;width:262px;height:2px;background:linear-gradient(90deg,#e4e899 0px,#f2efad 53px,#f6f2b5 102px,#fcf8c7 139px,#fcf4b9 158px,#f8de8c 174px,#f0bf71 190px,#e59d5d 202px,#e08d54 209px,#dc7d4e 226px,#de8751 262px)"></div>
<div style="position:absolute;left:1088px;top:433px;width:262px;height:2px;background:linear-gradient(90deg,#e0e697 0px,#e3e798 10px,#eeeda7 53px,#f3f0af 103px,#f6f2b7 120px,#fcf8c7 144px,#fcf4b7 162px,#f8de8c 177px,#f0be70 193px,#e3975a 209px,#de8650 222px,#dc7d4e 230px,#df8851 262px)"></div>
<div style="position:absolute;left:1088px;top:435px;width:262px;height:2px;background:linear-gradient(90deg,#dbe496 0px,#e6e99b 28px,#f0eeaa 104px,#f6f2b5 125px,#fcf8c7 148px,#fcf5bc 162px,#fcf2b5 166px,#f7da86 182px,#f0be70 196px,#e69f5e 209px,#de8751 225px,#dc7c4e 234px,#de8650 251px,#df8851 262px)"></div>
<div style="position:absolute;left:1088px;top:437px;width:262px;height:2px;background:linear-gradient(90deg,#d7e295 0px,#e2e797 27px,#ececa5 104px,#f4f0b1 128px,#fcf8c7 152px,#fcf5bc 164px,#fcf2b5 169px,#f8db87 184px,#f0be70 199px,#e8a562 210px,#df8851 228px,#dc7c4e 237px,#dc7d4e 241px,#de8750 250px,#df8952 262px)"></div>
<div style="position:absolute;left:1088px;top:439px;width:262px;height:2px;background:linear-gradient(90deg,#d4e094 0px,#dee597 26px,#e5e899 75px,#e9ea9f 104px,#f3f0af 132px,#fcf8c7 155px,#fcf5bc 168px,#fcf3b7 171px,#f8da87 187px,#eaab65 211px,#df8851 232px,#dc7c4e 241px,#de8751 249px,#df8952 262px)"></div>
<div style="position:absolute;left:1088px;top:441px;width:262px;height:2px;background:linear-gradient(90deg,#d0df96 0px,#dae396 23px,#dce496 49px,#dfe597 56px,#e5e899 104px,#f1eeab 133px,#fcf8c7 158px,#fcf5bc 170px,#fcf2b5 174px,#f8db88 189px,#ecb068 212px,#e08c54 233px,#dd814f 241px,#df8952 249px,#df8a52 262px)"></div>
<div style="position:absolute;left:1088px;top:443px;width:262px;height:2px;background:linear-gradient(90deg,#ccdd99 0px,#d6e194 20px,#dce496 77px,#e3e798 110px,#ededa6 133px,#fcf8c7 161px,#fcf5bc 172px,#fcf3b6 176px,#f8dc89 191px,#eeb76c 212px,#e59c5c 227px,#df8b53 239px,#df8a52 262px)"></div>
<div style="position:absolute;left:1088px;top:445px;width:262px;height:2px;background:linear-gradient(90deg,#c8db9b 0px,#d1df96 22px,#d5e094 48px,#dce496 105px,#e3e898 119px,#ececa4 136px,#fcf8c7 163px,#fcf3b6 178px,#f8dd8a 193px,#f2c576 207px,#e6a05f 228px,#e29257 238px,#e08b53 262px)"></div>
<div style="position:absolute;left:1088px;top:447px;width:262px;height:2px;background:linear-gradient(90deg,#c4d99e 0px,#ccdd99 24px,#d3e095 64px,#d8e295 103px,#e3e898 127px,#ebeca3 139px,#f4f0b1 150px,#fcf8c7 165px,#fcf3b7 180px,#f8dc88 196px,#f3c979 207px,#e4995b 237px,#e08b53 262px)"></div>
<div style="position:absolute;left:1088px;top:449px;width:262px;height:2px;background:linear-gradient(90deg,#bfd8a0 0px,#d3e095 81px,#d8e295 112px,#e3e798 133px,#f4f0b0 152px,#fcf8c7 167px,#fcf3b7 182px,#f8dd89 198px,#f4cc7b 208px,#e69e5e 237px,#e08c53 262px)"></div>
<div style="position:absolute;left:1088px;top:451px;width:262px;height:2px;background:linear-gradient(90deg,#b9d5a0 0px,#c2d99f 27px,#d3e094 103px,#dde496 132px,#e5e899 139px,#f4f0b1 155px,#fbf7c6 168px,#fcf8c7 170px,#fcf3b7 184px,#f8dd8a 200px,#f5d280 207px,#e7a361 237px,#e08d54 262px)"></div>
<div style="position:absolute;left:1088px;top:453px;width:262px;height:2px;background:linear-gradient(90deg,#b3d3a0 0px,#c1d89f 42px,#d4e094 111px,#d9e395 132px,#e5e899 142px,#f4f0b0 157px,#fbf7c6 170px,#fcf8c7 172px,#fcf4b7 186px,#f8df8d 201px,#f6d583 207px,#eaac66 234px,#e08d54 262px)"></div>
<div style="position:absolute;left:1088px;top:455px;width:262px;height:2px;background:linear-gradient(90deg,#add1a0 0px,#bfd8a0 52px,#d4e094 118px,#dbe496 137px,#e5e99a 145px,#f4f0b0 159px,#fcf8c7 173px,#fcf4b7 188px,#f9e498 199px,#f7d986 207px,#ecb169 234px,#e18e54 262px)"></div>
<div style="position:absolute;left:1088px;top:457px;width:262px;height:2px;background:linear-gradient(90deg,#a7cfa0 0px,#bfd8a0 67px,#d3e094 124px,#dae396 139px,#e5e899 147px,#f4f0b0 161px,#fcf8c7 175px,#fcf4b9 189px,#f9e498 201px,#f7da86 209px,#edb66b 234px,#e18e55 262px)"></div>
<div style="position:absolute;left:1088px;top:459px;width:262px;height:2px;background:linear-gradient(90deg,#a1cca0 0px,#a3cda0 11px,#bfd8a0 79px,#d4e094 130px,#dae396 141px,#e5e899 149px,#f4f0b0 163px,#fcf8c7 177px,#fcf4b8 191px,#fae59a 202px,#f7da86 211px,#f0be70 232px,#e19056 262px)"></div>
<div style="position:absolute;left:1088px;top:461px;width:262px;height:2px;background:linear-gradient(90deg,#9ccaa0 0px,#9ecba0 13px,#bfd8a0 88px,#d4e094 133px,#dae396 143px,#e4e899 151px,#f4f0b0 165px,#fcf8c7 179px,#fcf4b8 193px,#fae59a 204px,#f8da87 213px,#f0bd6f 235px,#e29357 262px)"></div>
<div style="position:absolute;left:1088px;top:463px;width:262px;height:2px;background:linear-gradient(90deg,#97c8a0 0px,#99c8a0 13px,#a7cfa0 49px,#bfd8a0 96px,#d4e094 136px,#d9e295 144px,#e4e899 153px,#f4f0b0 167px,#fcf8c7 181px,#fcf3b7 195px,#fae59a 206px,#f8da87 215px,#f0bd70 237px,#e39559 262px)"></div>
<div style="position:absolute;left:1088px;top:465px;width:262px;height:2px;background:linear-gradient(90deg,#92c5a0 0px,#93c5a0 13px,#9ac9a0 24px,#a5cea0 57px,#bfd8a0 103px,#d4e094 138px,#d9e295 146px,#e4e899 155px,#f4f0b0 169px,#fcf8c7 182px,#fcf4b8 196px,#f9e59a 208px,#f8db87 217px,#f0be70 239px,#e4975a 262px)"></div>
<div style="position:absolute;left:1088px;top:467px;width:262px;height:2px;background:linear-gradient(90deg,#8fc3a0 0px,#90c4a0 13px,#98c8a0 29px,#a1cda0 60px,#bfd8a0 109px,#d4e094 141px,#d8e295 147px,#e4e899 157px,#f3f0af 170px,#fcf8c7 184px,#fcf4b7 198px,#f8dc88 218px,#f0be70 241px,#e49a5b 262px)"></div>
<div style="position:absolute;left:1088px;top:469px;width:262px;height:2px;background:linear-gradient(90deg,#8dc3a0 0px,#8fc4a0 17px,#9fcca0 65px,#c0d8a0 114px,#d4e094 143px,#d8e295 149px,#e5e899 159px,#f4f0b0 172px,#fcf8c7 185px,#fcf4b8 199px,#f8dc88 220px,#f0be70 243px,#e59c5d 262px)"></div>
<div style="position:absolute;left:1088px;top:471px;width:262px;height:2px;background:linear-gradient(90deg,#8bc2a0 0px,#92c5a0 45px,#9fcba0 72px,#c0d8a0 118px,#d3e094 145px,#d8e295 151px,#e4e898 160px,#f4f0b1 174px,#fcf8c7 187px,#fcf4b8 201px,#f8dc88 222px,#f0bd70 245px,#e69f5e 262px)"></div>
<div style="position:absolute;left:1088px;top:473px;width:262px;height:2px;background:linear-gradient(90deg,#89c1a0 0px,#92c5a0 55px,#a1cca0 82px,#bfd8a0 121px,#d3e094 147px,#d8e295 153px,#e4e899 162px,#f4f0b0 175px,#fcf8c7 188px,#fcf3b7 203px,#f8dd89 223px,#f0be70 246px,#e7a15f 262px)"></div>
<div style="position:absolute;left:1088px;top:475px;width:262px;height:2px;background:linear-gradient(90deg,#87bfa0 0px,#92c5a0 63px,#a1cca0 88px,#bfd8a0 124px,#d4e094 149px,#dae396 157px,#e5e99a 164px,#f3f0af 176px,#fcf8c7 189px,#fcf4b8 204px,#f8dc89 225px,#f0be70 248px,#e7a361 262px)"></div>
<div style="position:absolute;left:1088px;top:477px;width:262px;height:2px;background:linear-gradient(90deg,#85bea1 0px,#92c5a0 69px,#a2cda0 95px,#bfd8a0 127px,#d4e094 151px,#d9e295 157px,#e5e899 165px,#f4f0b0 178px,#fcf8c7 191px,#fcf3b7 206px,#f8dc88 227px,#f0be70 249px,#e8a662 262px)"></div>
<div style="position:absolute;left:1088px;top:479px;width:262px;height:2px;background:linear-gradient(90deg,#84bda1 0px,#92c5a0 75px,#a2cda0 99px,#bfd8a0 130px,#d5e094 153px,#e4e898 166px,#f4f0b0 179px,#fcf8c7 192px,#fcf4b8 207px,#f8dc88 229px,#f0bd70 251px,#e9a864 262px)"></div>
<div style="position:absolute;left:1088px;top:481px;width:262px;height:2px;background:linear-gradient(90deg,#82bca2 0px,#90c4a0 76px,#a1cca0 103px,#bfd8a0 132px,#d4e094 154px,#e4e898 167px,#f4f0af 180px,#fcf8c7 193px,#fcf4b8 208px,#f8dc89 230px,#f0be70 252px,#eaab65 262px)"></div>
<div style="position:absolute;left:1088px;top:483px;width:262px;height:2px;background:linear-gradient(90deg,#80baa3 0px,#86bfa1 44px,#90c4a0 80px,#a0cca0 106px,#c0d8a0 135px,#d5e094 156px,#e4e898 168px,#f4f0b1 182px,#fcf8c7 195px,#fcf4b7 210px,#f8dc88 232px,#f0bf70 253px,#ebad66 262px)"></div>
<div style="position:absolute;left:1088px;top:485px;width:262px;height:2px;background:linear-gradient(90deg,#7eb9a3 0px,#86bfa1 51px,#92c5a0 88px,#a1cca0 110px,#c0d8a0 137px,#d5e094 157px,#e3e898 169px,#f4f0b0 183px,#fcf8c8 196px,#fcf4b8 211px,#f8dd89 233px,#f0bf71 254px,#ebaf68 262px)"></div>
<div style="position:absolute;left:1088px;top:487px;width:262px;height:2px;background:linear-gradient(90deg,#7bb8a4 0px,#84bda1 50px,#92c5a0 94px,#a1cca0 113px,#c0d8a0 139px,#d4e094 158px,#e5e899 171px,#f4f0b0 184px,#fcf8c7 197px,#fcf4b8 212px,#f8dc88 235px,#f0bf71 255px,#ecb269 262px)"></div>
<div style="position:absolute;left:1088px;top:489px;width:262px;height:2px;background:linear-gradient(90deg,#79b6a5 0px,#82bca2 49px,#92c5a0 99px,#a1cca0 116px,#c0d8a0 141px,#d4e094 159px,#e5e899 172px,#f4f0b0 185px,#fcf8c7 199px,#fcf3b7 214px,#f8dc89 236px,#f0bf71 256px,#edb46a 262px)"></div>
<div style="position:absolute;left:1088px;top:491px;width:262px;height:2px;background:linear-gradient(90deg,#77b5a6 0px,#80baa3 47px,#90c4a0 100px,#a0cca0 118px,#bfd8a0 142px,#d4e094 160px,#e5e899 173px,#f4f0af 186px,#fcf8c7 200px,#fcf4b7 215px,#f8dd8a 237px,#f0c071 257px,#eeb76c 262px)"></div>
<div style="position:absolute;left:1088px;top:493px;width:262px;height:2px;background:linear-gradient(90deg,#75b3a6 0px,#7fbaa3 50px,#91c5a0 105px,#a0cca0 121px,#c0d8a0 144px,#d4e094 161px,#e5e899 174px,#f4f0af 187px,#fcf8c7 201px,#fcf4b8 216px,#f8dc89 239px,#eeb96d 262px)"></div>
<div style="position:absolute;left:1088px;top:495px;width:262px;height:2px;background:linear-gradient(90deg,#72b1a7 0px,#7db9a4 50px,#91c4a0 107px,#a0cca0 123px,#bfd8a0 145px,#d4e094 162px,#e5e899 175px,#f4f0b1 189px,#fcf8c8 202px,#fcf6bf 208px,#fcf4b8 217px,#fae79e 230px,#f8dc88 241px,#efbc6f 262px)"></div>
<div style="position:absolute;left:1088px;top:497px;width:262px;height:2px;background:linear-gradient(90deg,#6fafa9 0px,#7cb8a4 52px,#91c5a0 111px,#a1cca0 126px,#c0d8a0 147px,#d4e094 163px,#e4e898 175px,#f4f0b1 190px,#fcf8c8 203px,#fcf2b3 221px,#f8dc88 242px,#f0be70 262px)"></div>
<div style="position:absolute;left:1088px;top:499px;width:262px;height:2px;background:linear-gradient(90deg,#6eaeaa 0px,#79b6a5 49px,#90c4a0 112px,#a0cca0 127px,#bfd8a0 148px,#d5e094 164px,#e4e898 176px,#f4f0b0 191px,#fcf8c8 204px,#fcf6be 210px,#fcf3b6 221px,#f8dd89 243px,#f1c072 262px)"></div>
<div style="position:absolute;left:1088px;top:501px;width:262px;height:2px;background:linear-gradient(90deg,#6dadaa 0px,#76b4a6 47px,#91c4a0 115px,#a0cca0 129px,#c0d8a0 150px,#d5e094 165px,#e4e898 177px,#f4f0b0 192px,#fcf8c8 205px,#fcf6c0 210px,#fcf4b7 222px,#f8dc88 245px,#f1c274 262px)"></div>
<div style="position:absolute;left:1088px;top:503px;width:262px;height:2px;background:linear-gradient(90deg,#6cacab 0px,#74b3a7 45px,#91c4a0 117px,#a0cca0 131px,#c0d8a0 151px,#d5e094 166px,#e4e898 178px,#f4f0b0 193px,#fcf8c7 206px,#fcf6c0 212px,#fcf3b6 224px,#f8dc88 246px,#f2c475 262px)"></div>
<div style="position:absolute;left:1088px;top:505px;width:262px;height:2px;background:linear-gradient(90deg,#6babac 0px,#71b1a8 42px,#91c4a0 119px,#a0cca0 133px,#bfd8a0 152px,#d5e194 167px,#e4e898 179px,#f4f0b0 194px,#fcf8c7 208px,#fcf3b6 226px,#f8dc89 247px,#f2c677 262px)"></div>
<div style="position:absolute;left:1088px;top:507px;width:262px;height:2px;background:linear-gradient(90deg,#6aa9ad 0px,#70b0a8 47px,#91c4a0 121px,#a1cca0 135px,#bfd8a0 153px,#d4e094 167px,#e3e798 179px,#f4f0b0 195px,#fcf8c7 209px,#fcf3b7 227px,#f8dc88 249px,#f3c878 262px)"></div>
<div style="position:absolute;left:1088px;top:509px;width:262px;height:2px;background:linear-gradient(90deg,#69a8ad 0px,#6fafa9 48px,#88c0a0 105px,#91c4a0 123px,#a0cca0 136px,#c0d8a0 155px,#d4e094 168px,#e3e798 180px,#f3f0af 196px,#fcf8c7 211px,#fcf3b6 229px,#f8dc88 250px,#f3ca7a 262px)"></div>
<div style="position:absolute;left:1088px;top:511px;width:262px;height:2px;background:linear-gradient(90deg,#68a6ae 0px,#6fafa9 52px,#88c0a0 107px,#91c4a0 125px,#a0cca0 138px,#c0d8a0 156px,#d4e094 169px,#e3e798 181px,#f4f0b0 198px,#fcf8c7 212px,#fcf4b7 230px,#f8dc89 251px,#f4cc7b 262px)"></div>
<div style="position:absolute;left:1088px;top:513px;width:262px;height:2px;background:linear-gradient(90deg,#67a5b0 0px,#6fafa9 56px,#88c0a0 109px,#91c4a0 127px,#a0cca0 139px,#c0d8a0 157px,#d4e094 170px,#e4e898 183px,#f4f0b0 199px,#fcf8c7 214px,#fcf4b8 231px,#f8dd89 252px,#f4ce7d 262px)"></div>
<div style="position:absolute;left:1088px;top:515px;width:262px;height:2px;background:linear-gradient(90deg,#65a3b1 0px,#6fafa9 60px,#87c0a0 111px,#91c4a0 129px,#a0cca0 141px,#c0d8a0 158px,#d5e094 171px,#e4e898 184px,#f4f0af 200px,#fcf8c7 216px,#fcf4b8 232px,#f8dc88 254px,#f5d07f 262px)"></div>
<div style="position:absolute;left:1088px;top:517px;width:262px;height:2px;background:linear-gradient(90deg,#64a1b2 0px,#6fafa9 64px,#90c4a0 129px,#a0cca0 142px,#bfd8a0 159px,#d5e194 172px,#e4e898 185px,#f4f0b0 202px,#fcf8c7 217px,#fcf4b7 234px,#f8dc88 255px,#f5d280 262px)"></div>
<div style="position:absolute;left:1088px;top:519px;width:262px;height:2px;background:linear-gradient(90deg,#62a0b3 0px,#6eadaa 64px,#87c0a0 115px,#90c4a0 130px,#a1cca0 144px,#bfd8a0 160px,#d4e094 172px,#e4e898 186px,#f4f0b0 203px,#fcf8c7 219px,#fcf4b7 235px,#f8dd89 256px,#f6d482 262px)"></div>
<div style="position:absolute;left:1088px;top:521px;width:262px;height:2px;background:linear-gradient(90deg,#619eb4 0px,#6fafa9 70px,#90c4a0 132px,#a0cca0 145px,#bfd8a0 161px,#d4e094 173px,#e4e898 187px,#f4f0b0 205px,#fcf8c8 220px,#fcf4b7 236px,#f8dd8a 257px,#f6d683 262px)"></div>
<div style="position:absolute;left:1088px;top:523px;width:262px;height:2px;background:linear-gradient(90deg,#5f9cb5 0px,#6faea9 72px,#88c0a0 119px,#91c4a0 135px,#a0cca0 146px,#bfd8a0 162px,#d5e094 174px,#e4e898 188px,#f4f0b0 206px,#fcf8c8 221px,#fcf6bf 227px,#fcf4b7 237px,#f7d885 262px)"></div>
<div style="position:absolute;left:1088px;top:525px;width:262px;height:2px;background:linear-gradient(90deg,#5e9ab7 0px,#6fafa9 76px,#88c0a0 121px,#91c4a0 137px,#a1cca0 148px,#bfd8a0 163px,#d5e194 175px,#e4e898 189px,#f4f0b0 208px,#fcf8c8 222px,#fcf6be 228px,#fcf4b7 238px,#f8da87 262px)"></div>
<div style="position:absolute;left:1088px;top:527px;width:262px;height:2px;background:linear-gradient(90deg,#5c98b8 0px,#6eaea9 77px,#88c0a0 123px,#90c4a0 137px,#a0cca0 149px,#bfd7a0 164px,#d4e094 175px,#d9e395 178px,#e5e899 191px,#f4f0b1 210px,#fcf8c8 223px,#fcf6bf 228px,#fcf4b8 239px,#fae79f 252px,#f8dd89 262px)"></div>
<div style="position:absolute;left:1088px;top:529px;width:262px;height:2px;background:linear-gradient(90deg,#5b96ba 0px,#5d99b8 15px,#6eaea9 79px,#87c0a0 124px,#90c4a0 138px,#a0cca0 150px,#c0d8a0 166px,#d4e094 176px,#e4e898 192px,#f4f0b0 211px,#fcf8c7 224px,#fcf6c0 228px,#fcf3b7 241px,#fae9a2 252px,#f8df8d 262px)"></div>
<div style="position:absolute;left:1088px;top:531px;width:262px;height:2px;background:linear-gradient(90deg,#5992bc 0px,#6eaea9 80px,#88c0a0 126px,#90c4a0 140px,#a1cca0 152px,#c0d8a0 167px,#d5e094 177px,#d9e395 180px,#e5e899 194px,#f4f0b0 213px,#fcf8c7 225px,#fcf6be 230px,#fcf3b6 243px,#f9e192 262px)"></div>
<div style="position:absolute;left:1088px;top:533px;width:262px;height:2px;background:linear-gradient(90deg,#578fbe 0px,#6eaea9 82px,#88c0a0 127px,#90c4a0 141px,#a1cca0 153px,#c0d8a0 168px,#d5e194 178px,#d9e395 180px,#e3e898 194px,#e6e99b 198px,#f4f0b0 215px,#fcf8c7 226px,#fcf6bf 231px,#fcf4b8 244px,#f9e396 262px)"></div>
<div style="position:absolute;left:1088px;top:535px;width:262px;height:2px;background:linear-gradient(90deg,#558dbd 0px,#5890be 13px,#5b96ba 20px,#6faea9 84px,#88c0a0 129px,#90c4a0 142px,#a0cca0 154px,#c0d8a0 169px,#d3e094 178px,#d9e295 181px,#e6e99a 199px,#f3f0af 216px,#fcf8c7 228px,#fcf6be 232px,#fcf3b7 247px,#fae59b 262px)"></div>
<div style="position:absolute;left:1088px;top:537px;width:262px;height:2px;background:linear-gradient(90deg,#538bbd 0px,#5890be 18px,#5b96ba 24px,#70b0a8 89px,#90c4a0 143px,#a1cca0 156px,#bfd8a0 170px,#d6e194 180px,#d9e395 182px,#e3e898 198px,#e7ea9d 204px,#f4f0b0 219px,#fcf8c7 229px,#fcf6bf 233px,#fcf4b7 249px,#fae79f 262px)"></div>
<div style="position:absolute;left:1088px;top:539px;width:262px;height:2px;background:linear-gradient(90deg,#528abd 0px,#5890be 22px,#5b96ba 28px,#70b0a8 92px,#88c0a0 131px,#91c4a0 145px,#a0cca0 157px,#bed7a0 171px,#d6e194 181px,#e3e898 200px,#e7ea9d 206px,#f3efae 220px,#fcf8c7 231px,#fcf6bf 237px,#fcf3b7 252px,#faeaa3 262px)"></div>
<div style="position:absolute;left:1088px;top:541px;width:262px;height:2px;background:linear-gradient(90deg,#5087bd 0px,#5890be 26px,#5b96ba 32px,#69a7ae 70px,#70b0a8 93px,#79b6a5 111px,#91c4a0 146px,#9fcca0 158px,#c0d8a0 173px,#d2df95 181px,#d9e295 185px,#e3e898 203px,#e7ea9d 209px,#f2efad 222px,#fcf8c7 234px,#fcf6bf 239px,#fcf4b8 254px,#fbeca8 262px)"></div>
<div style="position:absolute;left:1088px;top:543px;width:262px;height:2px;background:linear-gradient(90deg,#4e81bf 0px,#5189bc 14px,#5890be 29px,#5b95ba 34px,#69a7ae 71px,#70b0a8 96px,#77b5a6 110px,#90c4a0 146px,#9ecba0 159px,#abd0a0 166px,#bfd8a0 174px,#d3e095 183px,#d8e295 186px,#e3e898 206px,#e7e99c 212px,#f2efae 225px,#fcf7c6 236px,#fcf6c2 240px,#fcf4b9 256px,#fbeead 262px)"></div>
<div style="position:absolute;left:1088px;top:545px;width:262px;height:2px;background:linear-gradient(90deg,#4d7aba 0px,#4e7fbf 5px,#4e81bf 11px,#5189bc 18px,#5890be 32px,#69a7ae 72px,#70b0a8 98px,#76b4a6 110px,#88c0a0 134px,#91c4a0 148px,#9ecba0 161px,#a9cfa0 167px,#bed7a0 175px,#d4e094 185px,#d8e295 188px,#e3e898 210px,#e6e99b 214px,#f1efac 227px,#fcf8c6 239px,#fcf5bc 256px,#fcf4b9 259px,#fbf1b2 262px)"></div>
<div style="position:absolute;left:1088px;top:547px;width:262px;height:2px;background:linear-gradient(90deg,#4c73b3 0px,#4d79b9 4px,#4d7cbc 11px,#4e7fbf 13px,#5088bc 20px,#5890be 35px,#5a95bb 39px,#68a7ae 72px,#6faea9 98px,#74b3a7 110px,#88c0a0 135px,#93c6a0 153px,#9ecba0 163px,#a7cfa0 168px,#c0d8a0 177px,#d3e095 186px,#d8e295 190px,#e6e99b 218px,#f0eeaa 229px,#fcf8c7 242px,#fcf6c0 250px,#fcf5bc 259px,#fcf3b7 262px)"></div>
<div style="position:absolute;left:1088px;top:549px;width:262px;height:2px;background:linear-gradient(90deg,#4c6eaf 0px,#4c73b3 8px,#4e81bf 18px,#5189bc 24px,#5890be 37px,#67a5af 69px,#72b1a7 109px,#88c0a0 135px,#92c5a0 154px,#99c9a0 162px,#a2cda0 168px,#c0d8a0 178px,#d4e094 188px,#d8e295 192px,#dee597 210px,#e4e898 220px,#e8ea9e 226px,#f1eeab 233px,#fcf8c7 244px,#fcf6be 259px,#fcf5ba 262px)"></div>
<div style="position:absolute;left:1088px;top:551px;width:262px;height:2px;background:linear-gradient(90deg,#4c68aa 0px,#4c71b2 10px,#4d7cbc 16px,#4e81c0 20px,#5189bc 26px,#5890be 39px,#5c98b8 52px,#67a5af 70px,#71b1a8 110px,#85bea1 132px,#8ec3a0 145px,#91c5a0 157px,#98c8a0 165px,#a2cda0 170px,#c3d99e 180px,#d5e194 191px,#e0e697 221px,#e5e89a 227px,#e9eba0 231px,#f5f1b3 238px,#fcf8c7 246px,#fcf5bd 262px)"></div>
<div style="position:absolute;left:1088px;top:553px;width:262px;height:2px;background:linear-gradient(90deg,#4e64a8 0px,#4c68aa 6px,#4e81c0 22px,#5189bc 28px,#5890be 41px,#5c97b9 53px,#68a7ae 73px,#6fafa9 110px,#7fbaa3 125px,#8ac1a0 139px,#93c5a0 165px,#9dcaa0 170px,#c1d99f 180px,#d3e095 190px,#d8e295 198px,#dce496 223px,#e3e798 230px,#e7e99c 233px,#f5f1b2 239px,#fcf8c7 247px,#fcf5be 262px)"></div>
<div style="position:absolute;left:1088px;top:555px;width:262px;height:2px;background:linear-gradient(90deg,#5060a6 0px,#4c67aa 8px,#4d7aba 18px,#4e81c0 24px,#5189bc 29px,#5890be 42px,#5b97b9 54px,#66a4b0 68px,#6cacab 87px,#6fafa9 113px,#7eb9a3 124px,#8ac1a0 139px,#8fc3a0 150px,#90c4a0 166px,#97c7a0 170px,#afd1a0 175px,#c0d8a0 180px,#d2df95 190px,#d8e295 199px,#d9e395 223px,#dee597 233px,#e6e99b 235px,#f3f0af 239px,#f8f4bd 243px,#fcf8c8 248px,#fcf6bf 262px)"></div>
<div style="position:absolute;left:1088px;top:709px;width:262px;height:2px;background:linear-gradient(90deg,#c9524d 0px,#b13554 12px,#af3354 39px,#bc4251 79px,#d66448 139px,#de8450 184px,#e29257 200px,#edb56b 225px,#f0c071 228px,#f8dd89 240px,#fae8a1 262px)"></div>
<div style="position:absolute;left:1088px;top:711px;width:262px;height:2px;background:linear-gradient(90deg,#cc564c 0px,#b33753 13px,#b03454 19px,#b03354 29px,#b33754 45px,#d46049 120px,#de8450 173px,#e59c5d 200px,#f0bd70 223px,#f7da86 236px,#f9e295 246px,#faeaa5 262px)"></div>
<div style="position:absolute;left:1088px;top:713px;width:262px;height:2px;background:linear-gradient(90deg,#cf5a4a 0px,#b63c53 12px,#b23654 16px,#b03454 27px,#b43853 43px,#c14950 64px,#d56048 110px,#df8851 167px,#e8a461 198px,#f0be70 218px,#f3c979 226px,#f8dc89 235px,#fbeca9 262px)"></div>
<div style="position:absolute;left:1088px;top:715px;width:262px;height:2px;background:linear-gradient(90deg,#d35e49 0px,#b73d52 12px,#b23654 16px,#b03454 26px,#b43953 41px,#c54e4e 64px,#d56148 99px,#df8952 157px,#e9a763 192px,#f2c475 218px,#f8dc89 233px,#fae69c 246px,#fbeead 262px)"></div>
<div style="position:absolute;left:1088px;top:717px;width:262px;height:2px;background:linear-gradient(90deg,#d66248 0px,#c64f4e 7px,#b63c53 12px,#b23754 15px,#b13454 25px,#b43953 38px,#b93f52 47px,#c9534d 64px,#d56049 87px,#df8851 145px,#eaad66 188px,#f3c878 216px,#f8dd8a 231px,#fae89f 246px,#fbf0b1 262px)"></div>
<div style="position:absolute;left:1088px;top:719px;width:262px;height:2px;background:linear-gradient(90deg,#d76849 0px,#d35f49 3px,#c64f4e 8px,#b23654 12px,#b03454 20px,#b33853 34px,#bb4151 47px,#cd574b 63px,#d56049 76px,#dd844f 126px,#e19056 143px,#ecb169 183px,#f4ce7c 216px,#f8dc89 227px,#fcf2b5 262px)"></div>
<div style="position:absolute;left:1088px;top:721px;width:262px;height:2px;background:linear-gradient(90deg,#d96d4b 0px,#d76449 3px,#d05b4a 6px,#c64f4e 9px,#b73d52 12px,#b03454 20px,#b23754 31px,#bc4351 47px,#cd574b 59px,#d56248 69px,#de8450 114px,#e59b5c 146px,#f1c374 195px,#f7d784 220px,#fae69d 238px,#fcf4b8 262px)"></div>
<div style="position:absolute;left:1088px;top:723px;width:262px;height:2px;background:linear-gradient(90deg,#da754c 0px,#d56249 6px,#c54d4e 12px,#b83e52 19px,#b13554 28px,#b23654 30px,#c04850 51px,#ce594b 57px,#d76449 65px,#d9724b 78px,#df8851 108px,#e8a562 147px,#efbc6f 175px,#f8dc88 222px,#fbeca9 244px,#fcf4b7 256px,#fcf4ba 262px)"></div>
<div style="position:absolute;left:1088px;top:725px;width:262px;height:2px;background:linear-gradient(90deg,#dc7f4e 0px,#d66449 8px,#cc564c 13px,#b83e52 28px,#b93f52 31px,#c54e4e 51px,#d35f49 57px,#d76849 62px,#da734c 71px,#dd804f 85px,#efbc6f 164px,#f2c676 181px,#f7da86 210px,#f8df8e 223px,#fae79e 233px,#fbf0b1 247px,#fcf4b8 254px,#fcf5bb 262px)"></div>
<div style="position:absolute;left:1088px;top:727px;width:262px;height:2px;background:linear-gradient(90deg,#df8952 0px,#d76549 11px,#d05b4a 16px,#c44d4e 28px,#c54e4e 36px,#cc564c 49px,#d66449 56px,#db774d 67px,#e08b53 88px,#efbc6f 153px,#f4cc7c 183px,#f7da86 202px,#f8df8d 215px,#f9e396 224px,#fcf4b7 249px,#fcf5bd 262px)"></div>
<div style="position:absolute;left:1088px;top:729px;width:262px;height:2px;background:linear-gradient(90deg,#e29358 0px,#dd8450 5px,#d86c4a 13px,#d56249 18px,#cd584b 28px,#ce584b 37px,#d46049 49px,#db784d 61px,#de8550 72px,#e9a763 112px,#f0bf71 147px,#f7da86 194px,#f8df8d 209px,#fae69c 224px,#fcf3b7 245px,#fcf6bf 262px)"></div>
<div style="position:absolute;left:1088px;top:731px;width:262px;height:2px;background:linear-gradient(90deg,#e69e5e 0px,#dd834f 9px,#d86d4a 19px,#d66349 27px,#d56249 36px,#d86a4a 47px,#dd824f 62px,#e39558 78px,#e9a763 99px,#efbc6f 129px,#f8da87 186px,#f8df8d 201px,#fae8a1 223px,#fcf4b7 242px,#fcf6c0 262px)"></div>
<div style="position:absolute;left:1088px;top:733px;width:262px;height:2px;background:linear-gradient(90deg,#e9a964 0px,#df8a52 11px,#db794d 19px,#d9704b 28px,#d96f4b 36px,#db774d 47px,#e18f55 64px,#e59c5d 76px,#efbc6f 115px,#f8dc88 184px,#fae89f 215px,#fcf4b8 239px,#fcf6c2 262px)"></div>
<div style="position:absolute;left:1088px;top:735px;width:262px;height:2px;background:linear-gradient(90deg,#edb66b 0px,#e4995b 10px,#df8851 18px,#dc7e4e 26px,#dc7c4e 35px,#dd824f 46px,#e49a5b 64px,#eaab65 81px,#f0bf71 108px,#f4cc7b 140px,#f7da86 164px,#f8df8e 185px,#fbeba6 216px,#fcf4b8 235px,#fcf7c3 262px)"></div>
<div style="position:absolute;left:1088px;top:737px;width:262px;height:2px;background:linear-gradient(90deg,#f0c071 0px,#e7a360 11px,#e29357 19px,#df8a52 27px,#df8852 35px,#e18e54 44px,#e8a562 65px,#f1c072 96px,#f5d17f 139px,#f7da86 154px,#f9df8e 175px,#fcf4b8 230px,#fcf7c5 262px)"></div>
<div style="position:absolute;left:1088px;top:739px;width:262px;height:2px;background:linear-gradient(90deg,#f2c576 0px,#e69e5e 20px,#e4975a 27px,#e39659 35px,#e59b5c 44px,#efbc6f 79px,#f2c777 98px,#f8db88 151px,#fcf4b8 225px,#fcf8c7 262px)"></div>
<div style="position:absolute;left:1088px;top:741px;width:262px;height:2px;background:linear-gradient(90deg,#f4cd7c 0px,#eaab65 20px,#e8a461 27px,#e7a361 34px,#e9a763 42px,#eeb76c 59px,#f2c777 86px,#f7da86 130px,#f8dc88 142px,#fcf3b7 216px,#fcf8c8 262px)"></div>
<div style="position:absolute;left:1088px;top:743px;width:262px;height:2px;background:linear-gradient(90deg,#f6d683 0px,#f2c676 9px,#eeb76c 20px,#ecb169 26px,#ebb068 33px,#f0c071 56px,#f2c575 72px,#f7da86 112px,#f8dc88 127px,#f8df8d 131px,#f9e08f 143px,#fae69c 158px,#fcf4b9 211px,#fcf8c7 257px,#fcf8c7 262px)"></div>
<div style="position:absolute;left:1088px;top:745px;width:262px;height:2px;background:linear-gradient(90deg,#f8dc89 0px,#f4cc7b 9px,#f2c475 16px,#f0bd70 25px,#efbc6f 33px,#f3c878 55px,#f3cb7a 73px,#f7da86 96px,#f8db88 109px,#f8df8e 113px,#f9e090 127px,#f9e396 132px,#fcf4b8 201px,#fcf8c8 254px,#fbf7c5 262px)"></div>
<div style="position:absolute;left:1088px;top:747px;width:262px;height:2px;background:linear-gradient(90deg,#f8de8d 0px,#f7da86 5px,#f5d17f 10px,#f3c979 18px,#f2c576 35px,#f5d07e 54px,#f5d07e 71px,#f7da86 86px,#f8db88 93px,#f8df8e 99px,#f9e090 109px,#f9e498 115px,#fbf0b0 165px,#fcf4b9 189px,#fcf8c7 249px,#fbf7c4 262px)"></div>
<div style="position:absolute;left:1088px;top:749px;width:262px;height:2px;background:linear-gradient(90deg,#f9e293 0px,#f7d885 9px,#f5d17f 16px,#f4cc7b 25px,#f4cc7b 35px,#f6d381 47px,#f7d885 52px,#f6d582 68px,#f8db88 83px,#f8df8e 86px,#f9e091 95px,#f9e498 100px,#fae9a2 115px,#fcf3b6 162px,#fcf8c8 244px,#faf6c2 262px)"></div>
<div style="position:absolute;left:1088px;top:751px;width:262px;height:2px;background:linear-gradient(90deg,#fae69c 0px,#f8dc88 9px,#f6d482 20px,#f6d381 34px,#f8db87 49px,#f8df8e 52px,#f9df8f 54px,#f8df8e 59px,#f8db87 62px,#f8db88 75px,#f9df8e 78px,#f9e191 83px,#f9e498 87px,#fae9a3 100px,#fcf3b5 138px,#fcf8c8 237px,#faf6c1 262px)"></div>
<div style="position:absolute;left:1088px;top:753px;width:262px;height:2px;background:linear-gradient(90deg,#fbeca7 0px,#fae8a1 4px,#f9e293 8px,#f8dc88 15px,#f7da86 35px,#f8db87 39px,#f9df8f 42px,#f9e192 49px,#f9e59a 55px,#f9e498 59px,#f9e192 62px,#f9e192 75px,#fae59b 79px,#faeba6 89px,#fcf3b5 113px,#fcf4b9 125px,#fcf8c7 229px,#f9f5c0 262px)"></div>
<div style="position:absolute;left:1088px;top:755px;width:262px;height:2px;background:linear-gradient(90deg,#fcf2b4 0px,#fbeead 5px,#f9e395 14px,#f9e193 33px,#f9e294 39px,#fae69d 43px,#faeba5 53px,#fae9a1 65px,#fae9a2 73px,#fcf2b5 94px,#fcf5bb 113px,#fcf8c7 220px,#f9f5be 262px)"></div>
<div style="position:absolute;left:1088px;top:757px;width:262px;height:2px;background:linear-gradient(90deg,#fcf5bc 0px,#fcf4b9 6px,#fbeca9 16px,#faeaa5 31px,#faeba6 38px,#fcf1b3 54px,#fbf0b0 71px,#fcf4ba 88px,#fcf6c2 133px,#fcf8c7 213px,#f8f4bd 262px)"></div>
<div style="position:absolute;left:1088px;top:759px;width:262px;height:2px;background:linear-gradient(90deg,#fcf6c2 0px,#fcf4b8 19px,#fcf3b5 31px,#fcf5bb 51px,#fcf5bb 72px,#fcf7c3 113px,#fcf8c7 149px,#fcf8c7 198px,#f8f4bb 262px)"></div>
<div style="position:absolute;left:1088px;top:761px;width:262px;height:2px;background:linear-gradient(90deg,#fcf7c6 0px,#fcf6be 32px,#fcf6c1 73px,#fcf8c7 108px,#fbf7c5 183px,#f7f3ba 262px)"></div>
<div style="position:absolute;left:1088px;top:763px;width:262px;height:2px;background:linear-gradient(90deg,#f9f5bf 0px,#fbf7c6 13px,#fcf8c7 93px,#faf6c1 135px,#faf6c1 195px,#f7f3b9 262px)"></div>
<div style="position:absolute;left:1088px;top:765px;width:262px;height:2px;background:linear-gradient(90deg,#f6f2b6 0px,#faf6c1 20px,#fbf7c4 34px,#faf6c3 74px,#f8f4bc 134px,#f9f5be 194px,#f6f2b7 262px)"></div>
<div style="position:absolute;left:1088px;top:767px;width:262px;height:2px;background:linear-gradient(90deg,#f2efad 0px,#f7f3b8 21px,#f8f4bb 34px,#f8f4bc 76px,#f6f2b6 135px,#f8f4bc 192px,#f6f2b5 262px)"></div>
<div style="position:absolute;left:1088px;top:769px;width:262px;height:2px;background:linear-gradient(90deg,#ececa4 0px,#f5f1b2 26px,#f6f2b5 63px,#f4f0b1 136px,#f7f3b8 193px,#f5f1b3 262px)"></div>
<div style="position:absolute;left:1088px;top:771px;width:262px;height:2px;background:linear-gradient(90deg,#e5e89a 0px,#ececa4 12px,#f0eeaa 25px,#f3efae 60px,#f2efad 137px,#f6f2b5 192px,#f4f0b0 262px)"></div>
<div style="position:absolute;left:1088px;top:773px;width:262px;height:2px;background:linear-gradient(90deg,#e0e697 0px,#ebeca3 25px,#efeda8 60px,#efeda8 138px,#f5f1b2 192px,#f3efae 262px)"></div>
<div style="position:absolute;left:1088px;top:775px;width:262px;height:2px;background:linear-gradient(90deg,#dee596 0px,#e3e898 19px,#e7ea9d 27px,#ececa5 88px,#ececa4 139px,#f3f0af 187px,#f1efac 262px)"></div>
<div style="position:absolute;left:1088px;top:777px;width:262px;height:2px;background:linear-gradient(90deg,#dae396 0px,#e2e798 23px,#e3e898 49px,#e6e99c 57px,#e9ea9f 90px,#e9ea9f 139px,#efeea9 169px,#f2efad 190px,#f0eeaa 262px)"></div>
<div style="position:absolute;left:1088px;top:779px;width:262px;height:2px;background:linear-gradient(90deg,#d7e195 0px,#dee596 22px,#dfe597 47px,#e2e798 54px,#e6e99a 88px,#e6e99a 140px,#f0eeaa 185px,#efeda8 262px)"></div>
<div style="position:absolute;left:1088px;top:781px;width:262px;height:2px;background:linear-gradient(90deg,#d3e095 0px,#d9e395 24px,#dfe597 78px,#e2e797 84px,#e2e798 143px,#eaeba1 163px,#eeeda7 186px,#ededa6 262px)"></div>
<div style="position:absolute;left:1088px;top:783px;width:262px;height:2px;background:linear-gradient(90deg,#cfde97 0px,#d5e094 24px,#dee597 82px,#dfe697 143px,#e8ea9e 164px,#ececa5 186px,#ececa4 262px)"></div>
<div style="position:absolute;left:1088px;top:785px;width:262px;height:2px;background:linear-gradient(90deg,#cadc9a 0px,#d3e095 37px,#dbe396 84px,#dde596 141px,#e3e898 157px,#ebeba2 186px,#eaeba1 262px)"></div>
<div style="position:absolute;left:1088px;top:787px;width:262px;height:2px;background:linear-gradient(90deg,#c6da9c 0px,#d5e094 73px,#dbe396 139px,#e3e898 163px,#e9eba0 186px,#eaeba2 212px,#e9ea9f 262px)"></div>
<div style="position:absolute;left:1088px;top:789px;width:262px;height:2px;background:linear-gradient(90deg,#c2d99f 0px,#cbdc99 34px,#d5e094 95px,#d9e295 139px,#e4e898 169px,#e7ea9d 185px,#e9ea9f 213px,#e7ea9d 262px)"></div>
<div style="position:absolute;left:1088px;top:791px;width:262px;height:2px;background:linear-gradient(90deg,#bcd7a0 0px,#c8db9b 37px,#d3e094 115px,#d7e195 141px,#e6e99a 184px,#e8ea9d 213px,#e6e99b 262px)"></div>
<div style="position:absolute;left:1088px;top:793px;width:262px;height:2px;background:linear-gradient(90deg,#b6d4a0 0px,#c4da9e 37px,#d4e094 140px,#e4e898 184px,#e6e99b 214px,#e4e899 262px)"></div>
<div style="position:absolute;left:1088px;top:795px;width:262px;height:2px;background:linear-gradient(90deg,#b0d2a0 0px,#c0d8a0 35px,#d1df96 137px,#e2e798 183px,#e5e899 215px,#e3e798 262px)"></div>
<div style="position:absolute;left:1088px;top:797px;width:262px;height:2px;background:linear-gradient(90deg,#aad0a0 0px,#bbd6a0 35px,#cfde97 137px,#d4e094 154px,#e0e697 181px,#e3e898 215px,#e1e697 262px)"></div>
<div style="position:absolute;left:1088px;top:799px;width:262px;height:2px;background:linear-gradient(90deg,#a4cda0 0px,#a4cea0 5px,#b0d2a0 21px,#b7d5a0 35px,#c1d89f 75px,#ccdd99 138px,#d5e094 160px,#e1e697 190px,#dfe697 262px)"></div>
<div style="position:absolute;left:1088px;top:801px;width:262px;height:2px;background:linear-gradient(90deg,#9fcca0 0px,#b2d3a0 34px,#bfd8a0 83px,#cadc9a 139px,#d5e094 166px,#dee597 190px,#e1e697 217px,#dde596 262px)"></div>
<div style="position:absolute;left:1088px;top:803px;width:262px;height:2px;background:linear-gradient(90deg,#9dcaa0 0px,#a0cca0 10px,#aed1a0 34px,#bfd8a0 100px,#c7db9c 139px,#d3e094 169px,#dbe396 190px,#dfe597 216px,#dbe396 262px)"></div>
<div style="position:absolute;left:1088px;top:805px;width:262px;height:2px;background:linear-gradient(90deg,#9ac9a0 0px,#9fcca0 16px,#aad0a0 33px,#bfd8a0 116px,#c7db9c 145px,#d3e094 176px,#d8e295 190px,#dce496 216px,#d9e295 262px)"></div>
<div style="position:absolute;left:1088px;top:807px;width:262px;height:2px;background:linear-gradient(90deg,#97c7a0 0px,#a5cea0 32px,#a8cfa0 52px,#bfd8a0 129px,#d5e094 190px,#d9e295 216px,#d7e195 262px)"></div>
<div style="position:absolute;left:1088px;top:809px;width:262px;height:2px;background:linear-gradient(90deg,#94c6a0 0px,#98c8a0 13px,#a2cda0 30px,#a3cda0 53px,#add1a0 78px,#bfd8a0 139px,#d2df95 189px,#d6e194 216px,#d4e094 262px)"></div>
<div style="position:absolute;left:1088px;top:811px;width:262px;height:2px;background:linear-gradient(90deg,#91c4a0 0px,#94c6a0 13px,#9ecba0 30px,#9fcca0 51px,#bfd8a0 147px,#cfde97 189px,#d3e095 216px,#d2df95 262px)"></div>
<div style="position:absolute;left:1088px;top:813px;width:262px;height:2px;background:linear-gradient(90deg,#8dc3a0 0px,#bfd8a0 154px,#ccdd99 189px,#d0df96 216px,#d0de97 262px)"></div>
<div style="position:absolute;left:1088px;top:815px;width:262px;height:2px;background:linear-gradient(90deg,#89c1a0 0px,#a3cda0 85px,#bfd8a0 161px,#c9dc9a 189px,#cedd98 216px,#cddd98 262px)"></div>
<div style="position:absolute;left:1088px;top:817px;width:262px;height:2px;background:linear-gradient(90deg,#86bfa1 0px,#9ecba0 74px,#a3cda0 97px,#b3d3a0 143px,#bfd8a0 168px,#c7db9c 189px,#cbdc99 216px,#cbdc99 262px)"></div>
<div style="position:absolute;left:1088px;top:819px;width:262px;height:2px;background:linear-gradient(90deg,#82bca2 0px,#9ecba0 86px,#a3cda0 107px,#b1d2a0 146px,#bfd8a0 174px,#c4da9e 189px,#c9db9b 217px,#c9db9b 262px)"></div>
<div style="position:absolute;left:1088px;top:821px;width:262px;height:2px;background:linear-gradient(90deg,#7fbaa3 0px,#89c0a0 35px,#a2cda0 117px,#c1d99f 189px,#c6da9c 217px,#c6db9c 262px)"></div>
<div style="position:absolute;left:1088px;top:823px;width:262px;height:2px;background:linear-gradient(90deg,#7bb8a4 0px,#89c0a0 47px,#9fcba0 108px,#a2cda0 127px,#c0d8a0 192px,#c4d99e 218px,#c4da9e 262px)"></div>
<div style="position:absolute;left:1088px;top:825px;width:262px;height:2px;background:linear-gradient(90deg,#78b5a5 0px,#89c0a0 57px,#9fcba0 118px,#a2cda0 137px,#bdd7a0 194px,#c1d89f 218px,#c2d99f 262px)"></div>
<div style="position:absolute;left:1088px;top:827px;width:262px;height:2px;background:linear-gradient(90deg,#74b2a7 0px,#89c0a0 66px,#9fcba0 128px,#a3cda0 147px,#b2d3a0 174px,#bad6a0 194px,#bed7a0 220px,#bfd8a0 262px)"></div>
<div style="position:absolute;left:1088px;top:829px;width:262px;height:2px;background:linear-gradient(90deg,#70b0a8 0px,#89c0a0 74px,#a0cca0 147px,#b7d5a0 194px,#bbd6a0 220px,#bcd7a0 262px)"></div>
<div style="position:absolute;left:1088px;top:831px;width:262px;height:2px;background:linear-gradient(90deg,#6dacaa 0px,#71b0a8 18px,#89c0a0 83px,#9ecba0 147px,#b4d3a0 194px,#b9d5a0 220px,#b9d5a0 262px)"></div>
<div style="position:absolute;left:1088px;top:833px;width:262px;height:2px;background:linear-gradient(90deg,#6baaac 0px,#70b0a8 27px,#87c0a0 88px,#9bcaa0 147px,#b1d2a0 195px,#b6d4a0 220px,#b6d4a0 262px)"></div>
<div style="position:absolute;left:1088px;top:835px;width:262px;height:2px;background:linear-gradient(90deg,#69a8ad 0px,#70b0a8 37px,#87c0a0 96px,#99c8a0 147px,#aed1a0 195px,#b3d3a0 220px,#b3d3a0 262px)"></div>
<div style="position:absolute;left:1088px;top:837px;width:262px;height:2px;background:linear-gradient(90deg,#68a6ae 0px,#6dacaa 37px,#87c0a0 104px,#96c7a0 146px,#acd0a0 196px,#b0d2a0 220px,#b0d2a0 262px)"></div>
<div style="position:absolute;left:1088px;top:839px;width:262px;height:2px;background:linear-gradient(90deg,#66a4b0 0px,#6fafa8 51px,#88c0a0 113px,#a9cfa0 196px,#add1a0 220px,#aed1a0 262px)"></div>
<div style="position:absolute;left:1088px;top:841px;width:262px;height:2px;background:linear-gradient(90deg,#65a2b1 0px,#6fafa8 59px,#88c0a0 121px,#a6cea0 196px,#aad0a0 220px,#abd0a0 262px)"></div>
<div style="position:absolute;left:1088px;top:843px;width:262px;height:2px;background:linear-gradient(90deg,#63a0b2 0px,#6dacab 59px,#88c0a0 129px,#a4cda0 195px,#a7cfa0 218px,#a8cfa0 262px)"></div>
<div style="position:absolute;left:1088px;top:845px;width:262px;height:2px;background:linear-gradient(90deg,#619eb4 0px,#6dacab 65px,#87c0a0 136px,#a1cca0 194px,#a5cea0 262px)"></div>
<div style="position:absolute;left:1088px;top:847px;width:262px;height:2px;background:linear-gradient(90deg,#5f9cb5 0px,#6dacab 71px,#87bfa0 143px,#9ecba0 194px,#a2cda0 213px,#a2cda0 262px)"></div>
<div style="position:absolute;left:1088px;top:849px;width:262px;height:2px;background:linear-gradient(90deg,#5d9ab7 0px,#6dacab 77px,#87c0a0 150px,#9ecba0 208px,#9ecba0 262px)"></div>
<div style="position:absolute;left:1088px;top:851px;width:262px;height:2px;background:linear-gradient(90deg,#5c97b9 0px,#6dacab 83px,#87c0a0 157px,#9ac9a0 208px,#9bc9a0 262px)"></div>
<div style="position:absolute;left:1088px;top:853px;width:262px;height:2px;background:linear-gradient(90deg,#5a95ba 0px,#6dacab 89px,#87c0a0 164px,#93c6a0 197px,#97c7a0 215px,#97c8a0 262px)"></div>
<div style="position:absolute;left:1088px;top:855px;width:262px;height:2px;background:linear-gradient(90deg,#5992bd 0px,#6dacab 95px,#89c0a0 175px,#93c5a0 211px,#94c6a0 262px)"></div>
<div style="position:absolute;left:1088px;top:857px;width:262px;height:2px;background:linear-gradient(90deg,#5890be 0px,#6dacab 101px,#87bfa0 179px,#8fc4a0 212px,#90c4a0 262px)"></div>
<div style="position:absolute;left:1088px;top:859px;width:262px;height:2px;background:linear-gradient(90deg,#578fbe 0px,#6cacab 107px,#84bda1 177px,#8bc2a0 212px,#8cc2a0 262px)"></div>
<div style="position:absolute;left:1088px;top:861px;width:262px;height:2px;background:linear-gradient(90deg,#578fbe 0px,#5890be 14px,#6dacab 115px,#80bba3 173px,#88c0a0 210px,#89c0a0 262px)"></div>
<div style="position:absolute;left:1088px;top:863px;width:262px;height:2px;background:linear-gradient(90deg,#568ebd 0px,#5890be 20px,#69a7ae 96px,#6dacab 123px,#7db8a4 171px,#84bea1 209px,#85bea1 262px)"></div>
<div style="position:absolute;left:1088px;top:865px;width:262px;height:2px;background:linear-gradient(90deg,#558dbd 0px,#5890be 25px,#69a7ae 101px,#6cacab 129px,#7ab6a5 169px,#81bba2 207px,#82bca2 262px)"></div>
<div style="position:absolute;left:1088px;top:867px;width:262px;height:2px;background:linear-gradient(90deg,#548cbd 0px,#5890be 30px,#5c98b8 59px,#68a7ae 103px,#6cacab 135px,#76b4a6 167px,#7eb9a3 206px,#7fbaa3 262px)"></div>
<div style="position:absolute;left:1088px;top:869px;width:262px;height:2px;background:linear-gradient(90deg,#538bbd 0px,#5890be 36px,#5c99b8 65px,#68a7ae 107px,#6cacab 141px,#74b3a7 167px,#7bb7a4 205px,#7cb8a4 262px)"></div>
<div style="position:absolute;left:1088px;top:871px;width:262px;height:2px;background:linear-gradient(90deg,#528abd 0px,#5890be 42px,#5c98b8 70px,#68a7ae 110px,#71b1a8 166px,#77b5a6 203px,#78b6a5 262px)"></div>
<div style="position:absolute;left:1088px;top:873px;width:262px;height:2px;background:linear-gradient(90deg,#5189bc 0px,#5890be 48px,#5c98b8 75px,#6aa9ad 122px,#73b2a7 192px,#75b3a6 262px)"></div>
<div style="position:absolute;left:1088px;top:875px;width:262px;height:2px;background:linear-gradient(90deg,#5086bd 0px,#5890be 54px,#5c98b8 78px,#6aa8ad 124px,#71b0a8 193px,#72b1a7 262px)"></div>
<div style="position:absolute;left:1088px;top:877px;width:262px;height:2px;background:linear-gradient(90deg,#4f83be 0px,#558dbd 29px,#5890be 60px,#5c98b8 82px,#66a3b0 107px,#6aa8ad 125px,#6eaea9 193px,#6fafa9 262px)"></div>
<div style="position:absolute;left:1088px;top:879px;width:262px;height:2px;background:linear-gradient(90deg,#4e81bf 0px,#528abc 20px,#5890be 66px,#5c98b8 86px,#65a3b1 108px,#6aa8ad 127px,#6dacab 262px)"></div>
<div style="position:absolute;left:1088px;top:881px;width:262px;height:2px;background:linear-gradient(90deg,#4e7ebe 0px,#528abc 24px,#5890be 72px,#5c98b8 89px,#65a3b1 108px,#69a8ad 127px,#6babac 262px)"></div>
<div style="position:absolute;left:1088px;top:883px;width:262px;height:2px;background:linear-gradient(90deg,#4d79b9 0px,#4e81c0 11px,#528abc 27px,#5890be 75px,#5c98b8 91px,#64a2b2 107px,#69a8ae 126px,#6baaac 158px,#6babac 262px)"></div>
<div style="position:absolute;left:1088px;top:885px;width:262px;height:2px;background:linear-gradient(90deg,#4c71b2 0px,#4e80bf 14px,#5189bc 29px,#5890be 80px,#63a1b2 106px,#68a7ae 124px,#6baaac 157px,#6babac 262px)"></div>
<div style="position:absolute;left:1088px;top:887px;width:262px;height:2px;background:linear-gradient(90deg,#4c69ab 0px,#4d78b8 10px,#4e81c0 19px,#528abc 34px,#5890be 84px,#629fb3 104px,#68a6ae 122px,#6baaac 156px,#6babac 262px)"></div>
<div style="position:absolute;left:1088px;top:889px;width:262px;height:2px;background:linear-gradient(90deg,#4e64a8 0px,#4c69ab 7px,#4c76b6 12px,#4e81c0 21px,#5189bc 34px,#558dbd 51px,#5890be 88px,#619eb4 103px,#68a6af 121px,#6baaac 156px,#6babac 262px)"></div>
<div style="position:absolute;left:1088px;top:891px;width:262px;height:2px;background:linear-gradient(90deg,#515ba4 0px,#4e63a8 4px,#4c67aa 9px,#4c72b3 12px,#4d77b7 17px,#4e80c0 22px,#5088bc 34px,#558dbd 52px,#5890be 90px,#609cb5 101px,#67a5af 119px,#6baaac 155px,#6babac 262px)"></div>
<div style="position:absolute;left:1088px;top:1045px;width:262px;height:2px;background:linear-gradient(90deg,#f4cc7b 0px,#efbd70 1px,#ecb36a 2px,#ecb36a 3px,#ebaf67 4px,#e59c5d 6px,#de8751 9px,#da764c 12px,#d76549 17px,#a82a56 42px,#a22258 48px,#971750 60px,#961650 181px,#a22258 201px,#af3354 222px,#c04850 258px,#c54d4e 262px)"></div>
<div style="position:absolute;left:1088px;top:1047px;width:262px;height:2px;background:linear-gradient(90deg,#f3ca79 0px,#f2c777 1px,#f3c778 4px,#f1c374 5px,#efba6e 6px,#e7a15f 8px,#de8751 11px,#da724c 15px,#d56048 20px,#ab2d56 42px,#a22358 50px,#981851 63px,#961650 179px,#a22358 200px,#c14950 256px,#c64f4e 262px)"></div>
<div style="position:absolute;left:1088px;top:1049px;width:262px;height:2px;background:linear-gradient(90deg,#f3ca79 0px,#f3ca79 5px,#f2c576 6px,#e7a15f 9px,#df8851 12px,#da744c 16px,#d56148 21px,#ac2f55 43px,#a22258 53px,#9b1b53 63px,#961650 84px,#971750 175px,#a22258 198px,#c7504e 262px)"></div>
<div style="position:absolute;left:1088px;top:1051px;width:262px;height:2px;background:linear-gradient(90deg,#f3ca79 0px,#f3ca79 5px,#f2c677 6px,#f0bf71 7px,#e8a461 9px,#e49a5b 10px,#dd834f 14px,#d56148 22px,#ae3255 43px,#a22258 56px,#9e1e55 64px,#961650 102px,#981851 172px,#a22358 196px,#c7514d 262px)"></div>
<div style="position:absolute;left:1088px;top:1053px;width:262px;height:2px;background:linear-gradient(90deg,#f3ca7a 0px,#f3ca79 5px,#f2c576 7px,#f0bd70 8px,#ebad66 9px,#e7a160 10px,#e08e54 13px,#dd824f 15px,#d9704b 19px,#d25d49 24px,#b03454 43px,#a72957 52px,#a12157 63px,#981851 102px,#9a1a53 172px,#a22258 193px,#c8524d 262px)"></div>
<div style="position:absolute;left:1088px;top:1055px;width:262px;height:2px;background:linear-gradient(90deg,#f3cb7a 0px,#f3ca79 7px,#f2c576 8px,#e7a15f 11px,#e4985a 12px,#de8650 15px,#d76549 22px,#d15c4a 25px,#ba4052 37px,#b13654 43px,#a92b56 53px,#a22358 65px,#9b1b53 104px,#9c1c54 173px,#a32358 191px,#c9534d 262px)"></div>
<div style="position:absolute;left:1088px;top:1057px;width:262px;height:2px;background:linear-gradient(90deg,#f4cb7b 0px,#f3ca7a 7px,#f2c676 8px,#f0bf71 9px,#e7a260 11px,#e4985b 12px,#de8450 16px,#d76749 22px,#d05b4a 26px,#bb4151 37px,#b33754 43px,#ab2d56 53px,#a52657 65px,#9e1e55 105px,#9e1e55 174px,#a22258 187px,#ab2d56 207px,#ca544c 262px)"></div>
<div style="position:absolute;left:1088px;top:1059px;width:262px;height:2px;background:linear-gradient(90deg,#f4cc7b 0px,#f3ca7a 7px,#f2c576 9px,#f0bd70 10px,#ebad66 11px,#e7a160 12px,#e59b5c 13px,#dd824f 17px,#d86c4a 21px,#d56048 24px,#b73c53 40px,#ae3155 50px,#a82957 64px,#a02057 106px,#a02057 175px,#ae3155 212px,#cb554c 262px)"></div>
<div style="position:absolute;left:1088px;top:1061px;width:262px;height:2px;background:linear-gradient(90deg,#f4cd7c 0px,#f3ca7a 9px,#f2c576 10px,#e7a15f 13px,#e4985a 14px,#de8550 17px,#d86b4a 21px,#d66348 23px,#b93f52 38px,#b13554 48px,#aa2d56 62px,#a32358 107px,#a22258 175px,#b03454 215px,#cd574b 262px)"></div>
<div style="position:absolute;left:1088px;top:1063px;width:262px;height:2px;background:linear-gradient(90deg,#f4ce7d 0px,#f3ca7a 9px,#f0bf71 11px,#e7a260 13px,#e49a5b 14px,#e29257 16px,#dd834f 18px,#d8694a 21px,#d66448 22px,#c9534d 30px,#b83e52 36px,#ae3155 59px,#a52657 107px,#a42458 175px,#b23654 217px,#ce594b 262px)"></div>
<div style="position:absolute;left:1088px;top:1065px;width:262px;height:2px;background:linear-gradient(90deg,#f5cf7e 0px,#f3cb7a 9px,#f2c576 11px,#f0bd70 12px,#ebae67 13px,#e7a360 14px,#df8851 18px,#d76949 22px,#d56048 25px,#cb554c 30px,#c24b4f 33px,#b63b53 36px,#ad2f55 70px,#a92b56 96px,#a52657 173px,#a92b56 194px,#b33754 218px,#d05b4a 262px)"></div>
<div style="position:absolute;left:1088px;top:1067px;width:262px;height:2px;background:linear-gradient(90deg,#f5d17f 0px,#f3ca7a 11px,#f2c676 12px,#efbc6f 13px,#e7a160 15px,#e4995b 16px,#e19156 18px,#df8851 19px,#d76849 23px,#d56148 26px,#cf5a4b 29px,#c54e4e 33px,#ba4151 36px,#b63b53 40px,#ab2e56 97px,#a72857 175px,#ab2e55 197px,#b53a53 221px,#d25d4a 262px)"></div>
<div style="position:absolute;left:1088px;top:1069px;width:262px;height:2px;background:linear-gradient(90deg,#f6d381 0px,#f4cf7d 8px,#f2c575 13px,#f0bd70 14px,#ebae67 15px,#e7a360 16px,#de8751 20px,#d8694a 24px,#d15d4a 29px,#bc4351 39px,#b63b53 46px,#ac2e55 114px,#a82956 159px,#a92a56 179px,#ae3155 201px,#b63b53 223px,#d35f49 262px)"></div>
<div style="position:absolute;left:1088px;top:1071px;width:262px;height:2px;background:linear-gradient(90deg,#f6d683 0px,#f6d381 6px,#f3ca7a 13px,#f2c676 14px,#efbc6f 15px,#e7a160 17px,#e4995b 18px,#e19056 20px,#df8851 21px,#d76949 25px,#d66448 26px,#bb4251 45px,#b63b53 54px,#aa2c56 156px,#aa2c56 182px,#af3354 204px,#b73d52 225px,#d56148 262px)"></div>
<div style="position:absolute;left:1088px;top:1073px;width:262px;height:2px;background:linear-gradient(90deg,#f7d986 0px,#f6d582 7px,#f3c979 14px,#f0bd70 16px,#e8a562 18px,#df8851 22px,#da724c 25px,#d76449 29px,#c9534d 39px,#ba4152 54px,#b63b53 66px,#ab2d56 161px,#ac2f55 187px,#b83e52 227px,#d05a4a 251px,#d66348 262px)"></div>
<div style="position:absolute;left:1088px;top:1075px;width:262px;height:2px;background:linear-gradient(90deg,#f8dc89 0px,#f7d784 8px,#f3c878 16px,#f1c374 17px,#efbb6f 18px,#e7a260 20px,#e29257 22px,#dd824f 25px,#d96e4b 29px,#d66448 32px,#c9534d 45px,#bf4750 62px,#ba4151 66px,#b93f52 83px,#b53a53 90px,#ad3055 160px,#ad3055 188px,#b93f52 229px,#d15d4a 251px,#d76549 262px)"></div>
<div style="position:absolute;left:1088px;top:1077px;width:262px;height:2px;background:linear-gradient(90deg,#f9df8e 0px,#f8db87 8px,#f3ca7a 17px,#f0be70 19px,#e9a964 21px,#e4995b 23px,#e08e54 26px,#d86a4a 32px,#d66448 34px,#ca534d 52px,#c24b4f 66px,#bf4750 83px,#ba4152 88px,#b93f52 103px,#b53a53 110px,#ae3155 163px,#af3354 195px,#ba4152 232px,#d35f49 251px,#d76849 262px)"></div>
<div style="position:absolute;left:1088px;top:1079px;width:262px;height:2px;background:linear-gradient(90deg,#f9e295 0px,#f9e091 5px,#f8dc89 10px,#f3ca7a 18px,#f1c273 20px,#e69e5d 25px,#e19056 28px,#dd834f 30px,#d96e4b 34px,#d66348 41px,#c9534d 65px,#c04850 101px,#ba4151 108px,#b93f52 120px,#b53a53 124px,#af3354 166px,#af3354 188px,#ba4152 234px,#d56048 250px,#d86c4a 262px)"></div>
<div style="position:absolute;left:1088px;top:1081px;width:262px;height:2px;background:linear-gradient(90deg,#fae69b 0px,#f9e397 6px,#f8dd8b 12px,#f4ce7d 19px,#f1c172 23px,#efba6e 24px,#e8a562 26px,#e69e5e 27px,#dd8350 33px,#d96e4b 40px,#d86a4a 45px,#d66248 48px,#d46049 57px,#d05b4a 63px,#c7504e 100px,#bf4750 119px,#ba4152 124px,#b53b53 137px,#b03454 167px,#b03454 189px,#b83e52 236px,#b93f52 237px,#ca544c 242px,#d56148 248px,#d86b4a 254px,#d9724b 262px)"></div>
<div style="position:absolute;left:1088px;top:1083px;width:262px;height:2px;background:linear-gradient(90deg,#faeaa3 0px,#fae69d 7px,#f8df8e 14px,#f3cb7a 23px,#f1c374 25px,#e9aa64 28px,#e9a763 29px,#e39558 32px,#e19156 35px,#dd824f 39px,#d96e4b 48px,#d86a4a 57px,#d66248 60px,#cd584b 99px,#bf4750 131px,#ba4152 136px,#b63b53 148px,#b13554 181px,#b63c53 233px,#bb4251 237px,#ca544c 241px,#d56048 246px,#d96e4b 253px,#db764d 262px)"></div>
<div style="position:absolute;left:1088px;top:1085px;width:262px;height:2px;background:linear-gradient(90deg,#fbeeac 0px,#fae9a2 9px,#f8db88 19px,#f4cd7c 25px,#f0c072 29px,#e9aa64 32px,#e4995b 36px,#e19156 41px,#dd814f 47px,#db794d 55px,#d96e4b 60px,#d86a4a 70px,#d66248 76px,#d46049 99px,#c04750 143px,#b63b53 154px,#b23754 190px,#b63b53 217px,#bb4251 233px,#d66348 245px,#da724c 252px,#dc7b4e 262px)"></div>
<div style="position:absolute;left:1088px;top:1087px;width:262px;height:2px;background:linear-gradient(90deg,#fcf2b5 0px,#fbf0b1 5px,#fbeca9 10px,#f8dd8b 21px,#f0c072 33px,#eaab65 38px,#e8a662 41px,#e39559 44px,#e19056 51px,#de8550 56px,#db764d 70px,#d96e4b 74px,#d86b4a 95px,#d66248 102px,#d46049 113px,#c54e4e 143px,#b53a53 160px,#b33853 185px,#b63b53 213px,#bf4650 221px,#c54e4e 234px,#d66348 243px,#da754c 250px,#dd804f 262px)"></div>
<div style="position:absolute;left:1088px;top:1089px;width:262px;height:2px;background:linear-gradient(90deg,#fcf5bb 0px,#fcf4b9 5px,#fcf1b3 10px,#faeaa5 16px,#f8de8d 24px,#f5d280 29px,#f4cc7b 34px,#f0bf71 41px,#eaab65 44px,#e8a562 49px,#e4995b 52px,#e39559 54px,#e19056 63px,#df8751 67px,#dd804f 74px,#dc7e4e 85px,#db774d 95px,#d96e4b 100px,#d8694a 113px,#d66248 116px,#d46049 127px,#cc574c 142px,#b53b53 166px,#b43953 186px,#b63b53 207px,#ba4052 213px,#c44d4e 221px,#cc574b 235px,#d76549 241px,#da744c 246px,#dc7c4e 250px,#dd834f 255px,#de8550 262px)"></div>
<div style="position:absolute;left:1088px;top:1091px;width:262px;height:2px;background:linear-gradient(90deg,#fcf6bf 0px,#fcf4b8 12px,#fae79f 22px,#f8dc8a 29px,#f5d17f 35px,#f4cc7b 40px,#f1c374 44px,#f0be71 49px,#eaab65 54px,#e8a562 63px,#e39559 66px,#e19056 85px,#df8851 89px,#dc7d4e 106px,#da754c 113px,#d96e4b 116px,#d86a4a 126px,#d66248 130px,#d46049 141px,#b63b53 172px,#b63c53 204px,#cb554c 222px,#d15c4a 234px,#d66248 238px,#db774d 244px,#dd834f 249px,#df8a52 255px,#e08b53 262px)"></div>
<div style="position:absolute;left:1088px;top:1093px;width:262px;height:2px;background:linear-gradient(90deg,#fcf7c3 0px,#fcf4b9 16px,#f8db88 36px,#f5d07f 42px,#f4cd7c 51px,#f1c374 54px,#f0be71 63px,#eaab65 66px,#eaaa64 67px,#e8a763 84px,#e8a562 85px,#e39659 88px,#e19056 105px,#de8651 110px,#dc7c4e 122px,#d96e4b 130px,#d86b4a 138px,#d66348 143px,#d35f49 148px,#ba4151 172px,#b63b53 182px,#b73c53 202px,#c14950 208px,#d45f49 224px,#d66348 237px,#db7a4d 242px,#e08c53 249px,#e29357 255px,#e19156 262px)"></div>
<div style="position:absolute;left:1088px;top:1095px;width:262px;height:2px;background:linear-gradient(90deg,#fcf8c6 0px,#fcf7c5 6px,#fcf4b9 20px,#f9e395 36px,#f8dc89 43px,#f7d784 50px,#f5d07f 54px,#f4cd7c 61px,#f1c273 67px,#f0c072 84px,#f0be71 85px,#eaab65 88px,#eaaa64 89px,#e8a763 104px,#e8a562 105px,#e39559 108px,#e19056 121px,#df8852 124px,#dd814f 129px,#dc7c4e 136px,#d96e4b 142px,#d86a4a 147px,#d66448 149px,#bb4151 182px,#bb4251 201px,#c44d4f 206px,#d56149 220px,#d8694a 226px,#d96f4b 237px,#df8952 243px,#e4985a 250px,#e59c5d 256px,#e4985a 262px)"></div>
<div style="position:absolute;left:1088px;top:1097px;width:262px;height:2px;background:linear-gradient(90deg,#faf6c1 0px,#fcf8c7 10px,#fcf4b9 25px,#f9e499 42px,#f7d985 59px,#f5d17f 64px,#f4ce7d 84px,#f1c273 89px,#f0c072 104px,#efba6e 106px,#eaab65 108px,#e8a562 119px,#e4995b 122px,#e39559 124px,#e19056 135px,#dd834f 140px,#db784d 146px,#d86d4a 150px,#d86a4a 153px,#d56248 156px,#ca544c 170px,#c24a4f 184px,#c24a4f 196px,#c54d4e 202px,#d46049 214px,#d56248 217px,#d86a4a 220px,#d86d4a 223px,#da744c 226px,#dc7e4e 235px,#de8550 238px,#e4995b 244px,#e7a160 248px,#e9a763 255px,#e7a361 262px)"></div>
<div style="position:absolute;left:1088px;top:1099px;width:262px;height:2px;background:linear-gradient(90deg,#f8f4bb 0px,#fcf8c7 15px,#fcf4b9 31px,#fbeba6 43px,#f8dd8b 64px,#f7d885 82px,#f5d07f 88px,#f4cd7c 103px,#f1c374 108px,#f0be71 119px,#eaab65 124px,#e8a562 133px,#e3975a 137px,#e19056 143px,#dd824f 148px,#d86c4a 156px,#d66348 161px,#c8524d 185px,#c9524d 197px,#cc564c 203px,#d66448 213px,#d86d4a 217px,#dc7d4e 222px,#df8851 232px,#e39559 238px,#e7a361 242px,#eaab65 246px,#ecb269 253px,#ecb168 262px)"></div>
<div style="position:absolute;left:1088px;top:1101px;width:262px;height:2px;background:linear-gradient(90deg,#f6f2b6 0px,#fcf8c7 20px,#fcf4b9 39px,#f9e59a 66px,#f9e192 81px,#f8dc89 89px,#f7d986 99px,#f5d07f 106px,#f4cd7c 119px,#f1c374 124px,#f0be71 133px,#eaab65 136px,#e8a562 143px,#e39558 146px,#e18f55 150px,#d96e4b 160px,#d66248 168px,#cd584b 188px,#d05b4a 201px,#d66448 209px,#d9704b 214px,#e19056 222px,#e39659 233px,#e8a562 236px,#eeb86c 244px,#f0bd70 251px,#f0bd70 262px)"></div>
<div style="position:absolute;left:1088px;top:1103px;width:262px;height:2px;background:linear-gradient(90deg,#f4f0b1 0px,#f9f5be 13px,#fcf8c7 27px,#fcf4ba 49px,#fbeca9 68px,#fae8a0 82px,#f8dc8a 106px,#f7d885 116px,#f5d07e 122px,#f4cd7c 133px,#f1c374 136px,#f0be71 143px,#eeba6e 144px,#e9aa64 146px,#e4995b 150px,#e19156 155px,#dd814f 159px,#d96e4b 166px,#d86a4a 173px,#d66248 178px,#d35e49 188px,#d66448 205px,#d9704b 210px,#de8450 215px,#e18e55 217px,#e4995b 221px,#e8a562 224px,#eaab65 231px,#f0bf71 236px,#f2c475 244px,#f2c676 262px)"></div>
<div style="position:absolute;left:1088px;top:1105px;width:262px;height:2px;background:linear-gradient(90deg,#f1eeab 0px,#f3efae 5px,#f9f5be 19px,#fbf7c6 30px,#fcf8c7 35px,#fbf0b0 81px,#fae8a0 100px,#f8dc89 122px,#f7d684 131px,#f5cf7e 136px,#f4cd7c 143px,#efbc70 148px,#e4995b 156px,#df8851 162px,#db7a4d 171px,#d96e4b 176px,#d86b4a 182px,#d66348 188px,#d86a4a 195px,#d96e4b 205px,#de8550 211px,#e18e55 213px,#e4995b 217px,#e9aa64 221px,#eeba6e 223px,#f0be71 224px,#f1c374 231px,#f4cc7b 236px,#f4cc7b 262px)"></div>
<div style="position:absolute;left:1088px;top:1107px;width:262px;height:2px;background:linear-gradient(90deg,#edeca5 0px,#efeda8 6px,#f7f3b8 18px,#f9f5be 27px,#fbf7c6 39px,#fcf8c7 46px,#fcf4ba 85px,#fcf2b4 94px,#fae8a0 115px,#f8df8d 131px,#f6d482 142px,#f3cb7a 149px,#efbc70 154px,#e9a763 159px,#e39559 162px,#e19056 169px,#dd8350 174px,#dc7c4e 180px,#d96e4b 186px,#d96e4b 188px,#d96e4b 191px,#da764c 195px,#dd804f 205px,#e29458 211px,#e9a763 214px,#efbc70 219px,#f4cc7b 224px,#f5d280 238px,#f5d17f 262px)"></div>
<div style="position:absolute;left:1088px;top:1109px;width:262px;height:2px;background:linear-gradient(90deg,#e8ea9e 0px,#ebeca3 8px,#f7f3b8 26px,#fbf7c6 51px,#fcf8c6 64px,#fcf4ba 103px,#fbeead 117px,#f7da86 144px,#f4cf7d 150px,#f3c878 156px,#f0c072 159px,#eaab65 162px,#e8a562 167px,#e3975a 171px,#e19056 179px,#dd824f 185px,#dd804f 189px,#df8751 201px,#e39458 207px,#e9a763 210px,#e9aa64 211px,#f0c072 214px,#f3ca7a 218px,#f5d280 225px,#f7d885 236px,#f6d582 262px)"></div>
<div style="position:absolute;left:1088px;top:1111px;width:262px;height:2px;background:linear-gradient(90deg,#e3e798 0px,#e6e99b 7px,#f6f2b6 33px,#f7f3ba 45px,#f9f5bf 48px,#faf6c2 65px,#fbf7c6 70px,#fcf8c6 85px,#fcf4b9 117px,#fbedab 129px,#f9e395 142px,#f7da87 149px,#f4ce7d 156px,#f4cc7c 159px,#f1c374 162px,#f0be71 167px,#eaab65 172px,#e8a562 177px,#e3975a 181px,#e29257 188px,#e39659 203px,#e9a763 206px,#e9aa64 207px,#f0c072 210px,#f3ca7a 214px,#f7d784 224px,#f8de8c 237px,#f8db87 244px,#f7d986 262px)"></div>
<div style="position:absolute;left:1088px;top:1113px;width:262px;height:2px;background:linear-gradient(90deg,#dde496 0px,#e5e99a 14px,#f2efad 34px,#f5f1b2 44px,#f6f2b7 48px,#f7f3ba 64px,#f9f5bf 68px,#faf6c2 85px,#fbf7c6 90px,#fcf8c6 103px,#fcf4b9 127px,#fbeca8 139px,#f7d985 155px,#f4ce7d 162px,#f3ca7a 169px,#f1c374 172px,#f0be71 177px,#eaab65 182px,#e9a864 188px,#eaab65 203px,#f0c072 206px,#f3c878 209px,#f8de8c 224px,#f9e193 237px,#f8de8c 245px,#f8dd8b 262px)"></div>
<div style="position:absolute;left:1088px;top:1115px;width:262px;height:2px;background:linear-gradient(90deg,#d7e195 0px,#e3e798 18px,#f2efae 49px,#f5f1b2 63px,#f6f2b7 68px,#f7f3ba 84px,#f9f5c0 89px,#fcf8c6 115px,#fcf4ba 135px,#fcf2b5 139px,#f7d986 159px,#f4ce7d 170px,#f4cb7b 178px,#f1c273 184px,#f1c374 203px,#f3ca7a 206px,#f8de8b 219px,#f9e293 226px,#f9e396 237px,#f9e091 262px)"></div>
<div style="position:absolute;left:1088px;top:1117px;width:262px;height:2px;background:linear-gradient(90deg,#d0df96 0px,#d5e094 5px,#e3e798 27px,#edeca5 48px,#f4f0b1 82px,#f6f2b7 88px,#f7f3ba 100px,#f9f5bf 106px,#fcf8c7 124px,#fcf4b9 142px,#fcf2b5 145px,#f8dc89 161px,#f4ce7d 180px,#f4ce7d 205px,#f8df8d 216px,#f9e499 229px,#fae59a 237px,#f9e397 262px)"></div>
<div style="position:absolute;left:1088px;top:1119px;width:262px;height:2px;background:linear-gradient(90deg,#cadc9a 0px,#d4e094 12px,#e3e798 38px,#f4f0b1 98px,#f6f2b7 104px,#f7f3ba 113px,#fbf7c6 127px,#fcf8c7 132px,#fcf2b5 150px,#faeba6 155px,#f9e090 160px,#f8de8d 167px,#f8db87 171px,#f6d482 182px,#f6d683 205px,#f8df8d 212px,#f9e499 222px,#fae79e 230px,#fae69d 262px)"></div>
<div style="position:absolute;left:1088px;top:1121px;width:262px;height:2px;background:linear-gradient(90deg,#c2d99f 0px,#c7db9c 8px,#cddd98 12px,#d0de96 19px,#d5e194 22px,#d7e295 31px,#e4e899 56px,#efeea9 98px,#fcf8c7 138px,#fcf4b8 153px,#fbefaf 156px,#fae69c 160px,#f9e397 167px,#f9df8f 170px,#f8de8c 177px,#f8da87 183px,#f8db88 204px,#f9e294 212px,#faeaa3 230px,#fae9a3 262px)"></div>
<div style="position:absolute;left:1088px;top:1123px;width:262px;height:2px;background:linear-gradient(90deg,#b7d5a0 0px,#c2d99e 12px,#cddd98 22px,#d0de96 29px,#d5e194 34px,#e1e697 62px,#e4e899 80px,#efeea9 111px,#fcf8c7 144px,#fcf5ba 156px,#fae59b 170px,#f9e396 177px,#f9df8f 180px,#f9df8e 182px,#f9e08f 205px,#fae69b 213px,#fbeca8 230px,#fbeca9 262px)"></div>
<div style="position:absolute;left:1088px;top:1125px;width:262px;height:2px;background:linear-gradient(90deg,#abd0a0 0px,#bdd7a0 18px,#cddd98 32px,#d0de97 39px,#d5e194 44px,#e4e899 95px,#efeda8 120px,#f7f3b8 132px,#fbf7c6 147px,#fcf8c7 150px,#fcf4ba 162px,#faeaa4 176px,#fae59a 180px,#f9e499 184px,#f9e498 205px,#fbeba6 217px,#fbefae 231px,#fbefae 262px)"></div>
<div style="position:absolute;left:1088px;top:1127px;width:262px;height:2px;background:linear-gradient(90deg,#9fcca0 0px,#a5cea0 8px,#bdd7a0 29px,#c6da9d 38px,#cddd98 42px,#cfde97 52px,#d4e094 56px,#d7e295 81px,#e3e798 106px,#e5e99a 113px,#eaeba1 121px,#f6f2b7 138px,#f7f3ba 143px,#fbf7c6 153px,#fcf8c6 156px,#fcf2b4 174px,#fbeca8 182px,#fae9a2 200px,#faeaa3 205px,#fbefae 218px,#fcf2b3 229px,#fcf2b4 262px)"></div>
<div style="position:absolute;left:1088px;top:1129px;width:262px;height:2px;background:linear-gradient(90deg,#95c7a0 0px,#9dcba0 11px,#bdd7a0 40px,#c5da9d 52px,#ccdd99 56px,#cfde97 77px,#d5e194 84px,#d7e195 97px,#e2e798 118px,#e7e99c 124px,#f2efad 138px,#f9f5bf 152px,#fbf7c6 158px,#fcf8c6 162px,#fbf1b2 187px,#fbeead 201px,#fcf4b8 228px,#fcf4b9 262px)"></div>
<div style="position:absolute;left:1088px;top:1131px;width:262px;height:2px;background:linear-gradient(90deg,#8ac1a0 0px,#bfd89f 57px,#c5da9d 76px,#cddd98 82px,#cfde97 96px,#d5e194 100px,#d7e295 113px,#e5e99a 129px,#f7f3b8 152px,#fbf7c6 164px,#fcf8c7 168px,#fcf5bc 182px,#fcf3b7 200px,#fcf5bb 262px)"></div>
<div style="position:absolute;left:1088px;top:1133px;width:262px;height:2px;background:linear-gradient(90deg,#84bda1 0px,#88c0a0 9px,#8fc3a0 14px,#b1d2a0 59px,#bcd6a0 79px,#c1d89f 84px,#c5da9d 95px,#cddd98 100px,#cfde97 110px,#d7e295 121px,#e5e99a 136px,#f7f3b8 158px,#fbf7c6 171px,#fcf8c7 174px,#fcf6bf 187px,#fcf5bc 201px,#fcf5bd 262px)"></div>
<div style="position:absolute;left:1088px;top:1135px;width:262px;height:2px;background:linear-gradient(90deg,#81bba2 0px,#88c0a0 19px,#8ec3a0 24px,#abd0a0 75px,#bdd7a0 98px,#c5da9d 109px,#cddd98 114px,#d4e094 122px,#d7e195 127px,#e6e99a 143px,#f6f2b7 163px,#fbf7c6 177px,#fcf8c7 181px,#fcf6bf 205px,#fcf6c0 262px)"></div>
<div style="position:absolute;left:1088px;top:1137px;width:262px;height:2px;background:linear-gradient(90deg,#7db9a4 0px,#87bfa0 24px,#89c0a0 37px,#90c4a0 43px,#9ecba0 76px,#acd0a0 95px,#bdd7a0 111px,#cddd98 122px,#d0de96 127px,#d5e194 130px,#d7e295 135px,#e5e899 148px,#f6f2b7 169px,#fcf8c7 187px,#fcf7c2 210px,#fcf6c2 262px)"></div>
<div style="position:absolute;left:1088px;top:1139px;width:262px;height:2px;background:linear-gradient(90deg,#78b5a5 0px,#80bba3 20px,#82bca2 35px,#87bfa0 42px,#89c0a0 57px,#90c4a0 62px,#93c6a0 75px,#9ecba0 95px,#acd0a0 108px,#bcd7a0 119px,#cedd98 130px,#d7e195 141px,#e4e899 153px,#f5f1b2 171px,#f9f5bf 182px,#fcf8c7 195px,#fcf7c4 262px)"></div>
<div style="position:absolute;left:1088px;top:1141px;width:262px;height:2px;background:linear-gradient(90deg,#74b2a7 0px,#81bba2 38px,#82bca2 54px,#87bfa0 62px,#89c0a0 77px,#8fc4a0 82px,#95c6a0 97px,#a3cda0 111px,#bdd7a0 127px,#cddd98 136px,#d7e195 147px,#e5e899 158px,#f4f1b2 176px,#f9f5bf 188px,#fcf8c7 207px,#fcf8c6 262px)"></div>
<div style="position:absolute;left:1088px;top:1143px;width:262px;height:2px;background:linear-gradient(90deg,#6fafa9 0px,#7cb8a4 39px,#89c0a0 97px,#a0cca0 118px,#bdd7a0 133px,#d5e094 149px,#e3e798 161px,#f2efac 177px,#f7f3b9 188px,#f9f5be 196px,#fbf7c5 216px,#fcf8c7 262px)"></div>
<div style="position:absolute;left:1088px;top:1145px;width:262px;height:2px;background:linear-gradient(90deg,#6baaac 0px,#7db9a4 59px,#83bca2 95px,#89c0a0 107px,#9ecba0 124px,#bdd7a0 139px,#cfde97 148px,#d5e094 153px,#e3e898 166px,#f5f1b2 187px,#f7f3ba 196px,#faf6c1 214px,#fbf7c4 262px)"></div>
<div style="position:absolute;left:1088px;top:1147px;width:262px;height:2px;background:linear-gradient(90deg,#68a6af 0px,#73b2a7 39px,#83bda2 106px,#89c0a0 117px,#9ecba0 130px,#bdd7a0 144px,#cddd98 151px,#d5e194 158px,#e3e898 170px,#f4f0b1 193px,#f7f3ba 202px,#f9f5be 212px,#faf6c1 262px)"></div>
<div style="position:absolute;left:1088px;top:1149px;width:262px;height:2px;background:linear-gradient(90deg,#64a1b2 0px,#70b0a8 44px,#83bda2 117px,#8ac1a0 124px,#9dcba0 135px,#bdd7a0 148px,#d5e194 162px,#e3e898 174px,#f4f0b1 198px,#f7f3ba 212px,#f9f5be 228px,#f9f5be 262px)"></div>
<div style="position:absolute;left:1088px;top:1151px;width:262px;height:2px;background:linear-gradient(90deg,#619eb4 0px,#71b1a8 59px,#83bca2 123px,#8ac1a0 130px,#a2cda0 142px,#bdd7a0 152px,#cfde97 161px,#d6e194 167px,#e6e99b 181px,#f0eeab 196px,#f6f2b5 212px,#f8f4bb 228px,#f8f4bb 262px)"></div>
<div style="position:absolute;left:1088px;top:1153px;width:262px;height:2px;background:linear-gradient(90deg,#5f9bb6 0px,#6fafa9 64px,#83bda2 129px,#89c0a0 134px,#9ecba0 144px,#bdd7a0 156px,#d0de97 165px,#d5e094 169px,#e4e899 183px,#efeda8 198px,#f4f0b1 214px,#f6f2b7 231px,#f7f3b8 262px)"></div>
<div style="position:absolute;left:1088px;top:1155px;width:262px;height:2px;background:linear-gradient(90deg,#5c98b8 0px,#64a1b2 35px,#6fafa8 75px,#83bda2 133px,#89c0a0 138px,#9ecba0 148px,#bfd8a0 160px,#cfde97 167px,#d5e094 172px,#e3e798 185px,#ededa6 201px,#f3efae 215px,#f5f1b3 233px,#f6f2b5 262px)"></div>
<div style="position:absolute;left:1088px;top:1157px;width:262px;height:2px;background:linear-gradient(90deg,#5b96ba 0px,#64a1b2 45px,#6fafa8 85px,#83bda2 137px,#87bfa0 141px,#92c5a0 146px,#bfd8a0 163px,#d0de96 171px,#d5e094 175px,#e1e797 187px,#ebeca3 202px,#f1efac 219px,#f4f0b0 236px,#f5f1b2 262px)"></div>
<div style="position:absolute;left:1088px;top:1159px;width:262px;height:2px;background:linear-gradient(90deg,#5993bc 0px,#63a1b2 53px,#71b1a8 97px,#83bda2 141px,#89c0a0 146px,#bdd7a0 165px,#d0de97 173px,#d4e094 177px,#dee597 187px,#e7e99c 199px,#eeeda7 216px,#f2efad 235px,#f3f0af 262px)"></div>
<div style="position:absolute;left:1088px;top:1161px;width:262px;height:2px;background:linear-gradient(90deg,#5890be 0px,#5c98b8 32px,#6cabab 89px,#83bda2 145px,#88c0a0 148px,#9fcba0 157px,#bfd7a0 168px,#cfde97 175px,#d4e094 180px,#dae395 186px,#e4e898 198px,#ececa4 216px,#f0eeaa 236px,#f2efac 262px)"></div>
<div style="position:absolute;left:1088px;top:1163px;width:262px;height:2px;background:linear-gradient(90deg,#578fbe 0px,#5891bd 19px,#63a1b2 67px,#70b0a8 108px,#83bda2 147px,#87c0a0 150px,#9ecba0 159px,#bdd7a0 170px,#d3df95 181px,#e4e898 202px,#e9ea9f 213px,#eeeda7 234px,#f0eeaa 262px)"></div>
<div style="position:absolute;left:1088px;top:1165px;width:262px;height:2px;background:linear-gradient(90deg,#568ebe 0px,#5891bd 29px,#63a1b2 75px,#70b0a8 113px,#83bca2 149px,#87bfa0 152px,#a0cca0 162px,#bfd8a0 173px,#cfde97 181px,#d4e094 185px,#e3e898 206px,#e7ea9d 216px,#ececa4 236px,#eeeda7 262px)"></div>
<div style="position:absolute;left:1088px;top:1167px;width:262px;height:2px;background:linear-gradient(90deg,#558dbd 0px,#5891be 37px,#63a1b2 83px,#70b0a8 117px,#82bca2 151px,#87bfa0 154px,#9fcca0 164px,#bed7a0 175px,#d3e095 187px,#dfe597 203px,#e6e99a 217px,#eaeba2 237px,#ececa4 262px)"></div>
<div style="position:absolute;left:1088px;top:1169px;width:262px;height:2px;background:linear-gradient(90deg,#548cbd 0px,#5890be 42px,#5c98b8 65px,#63a1b2 90px,#7ab7a5 139px,#85bea1 155px,#bfd8a0 178px,#d0de97 187px,#d4e094 191px,#e5e899 220px,#e9ea9f 239px,#ebeba2 262px)"></div>
<div style="position:absolute;left:1088px;top:1171px;width:262px;height:2px;background:linear-gradient(90deg,#538bbd 0px,#5891bd 53px,#619eb4 89px,#75b3a6 133px,#85bea1 157px,#bed7a0 180px,#d3e095 193px,#e3e898 223px,#e9ea9f 262px)"></div>
<div style="position:absolute;left:1088px;top:1173px;width:262px;height:2px;background:linear-gradient(90deg,#528abd 0px,#5891be 59px,#619eb4 93px,#71b0a8 129px,#85bea1 159px,#bfd8a0 183px,#d1df96 194px,#e2e797 225px,#e7ea9d 262px)"></div>
<div style="position:absolute;left:1088px;top:1175px;width:262px;height:2px;background:linear-gradient(90deg,#5189bc 0px,#5890be 65px,#5e9ab6 89px,#70b0a8 132px,#85bea1 160px,#bed7a0 185px,#d3e095 199px,#e1e697 228px,#e6e99a 262px)"></div>
<div style="position:absolute;left:1088px;top:1177px;width:262px;height:2px;background:linear-gradient(90deg,#5088bc 0px,#5890be 71px,#5d99b8 90px,#70b0a8 135px,#84bea1 161px,#bfd7a0 188px,#d1df96 200px,#dfe597 228px,#e4e898 262px)"></div>
<div style="position:absolute;left:1088px;top:1179px;width:262px;height:2px;background:linear-gradient(90deg,#5086bd 0px,#5890be 77px,#5c98b8 94px,#70b0a8 138px,#85bea1 163px,#bfd8a0 191px,#d3e095 205px,#dee597 233px,#e2e798 262px)"></div>
<div style="position:absolute;left:1088px;top:1181px;width:262px;height:2px;background:linear-gradient(90deg,#4f85be 0px,#5890be 82px,#5c98b8 98px,#70b0a8 140px,#84bea1 164px,#9ccaa0 176px,#bfd8a0 194px,#d1df96 206px,#dce496 233px,#e0e697 262px)"></div>
<div style="position:absolute;left:1088px;top:1183px;width:262px;height:2px;background:linear-gradient(90deg,#4f83bf 0px,#5088bc 33px,#5890be 86px,#5c98b8 101px,#6fafa8 142px,#86bfa1 166px,#c0d8a0 197px,#d1df96 210px,#dbe396 234px,#dfe597 262px)"></div>
<div style="position:absolute;left:1088px;top:1185px;width:262px;height:2px;background:linear-gradient(90deg,#4e81bf 0px,#5088bc 41px,#5890be 90px,#6fafa9 144px,#84bda1 166px,#bfd8a0 200px,#d0de97 213px,#d9e295 234px,#dde496 262px)"></div>
<div style="position:absolute;left:1088px;top:1187px;width:262px;height:2px;background:linear-gradient(90deg,#4e7fbf 0px,#5088bc 45px,#5890be 94px,#6dacaa 143px,#74b2a7 152px,#85bea1 168px,#bfd8a0 203px,#d0df96 219px,#d7e295 235px,#dbe496 262px)"></div>
<div style="position:absolute;left:1088px;top:1189px;width:262px;height:2px;background:linear-gradient(90deg,#4e7dbd 0px,#4e80c0 13px,#5088bc 50px,#5890be 98px,#609db5 117px,#6baaac 143px,#71b0a8 151px,#86bea1 170px,#bed7a0 206px,#d0df96 223px,#d5e194 235px,#dae395 262px)"></div>
<div style="position:absolute;left:1088px;top:1191px;width:262px;height:2px;background:linear-gradient(90deg,#4d7bbb 0px,#4e80c0 23px,#5088bc 58px,#5890be 101px,#619eb4 122px,#6aa9ad 144px,#70b0a8 153px,#84bda1 170px,#bed7a0 210px,#d0de96 227px,#d4e094 233px,#d8e295 262px)"></div>
<div style="position:absolute;left:1088px;top:1193px;width:262px;height:2px;background:linear-gradient(90deg,#4d78b8 0px,#4e80c0 29px,#5088bc 63px,#5890be 105px,#609db5 123px,#68a7ae 144px,#71b0a8 155px,#88c0a0 174px,#98c8a0 186px,#bfd8a0 215px,#d0de96 231px,#d7e195 262px)"></div>
<div style="position:absolute;left:1088px;top:1195px;width:262px;height:2px;background:linear-gradient(90deg,#4c75b5 0px,#4c77b7 13px,#4e80c0 35px,#5088bc 68px,#5890be 108px,#609db4 127px,#66a4b0 144px,#70b0a8 156px,#88c0a0 176px,#bfd8a0 219px,#cadc9a 230px,#d1df96 240px,#d5e194 262px)"></div>
<div style="position:absolute;left:1088px;top:1197px;width:262px;height:2px;background:linear-gradient(90deg,#4c73b3 0px,#4c73b3 13px,#4e80c0 41px,#5088bc 72px,#5890be 111px,#619eb4 132px,#64a1b2 144px,#70b0a8 158px,#81bca2 171px,#88c0a0 178px,#bfd7a0 223px,#c5da9d 229px,#d1df96 246px,#d4e094 262px)"></div>
<div style="position:absolute;left:1088px;top:1199px;width:262px;height:2px;background:linear-gradient(90deg,#4c72b2 0px,#4c74b4 25px,#4e80c0 47px,#5088bc 76px,#5890be 114px,#609db4 133px,#63a0b3 145px,#70b0a8 160px,#7fbaa3 171px,#91c5a0 188px,#a1cda0 204px,#c4d99e 232px,#cede98 246px,#d3e094 262px)"></div>
<div style="position:absolute;left:1088px;top:1201px;width:262px;height:2px;background:linear-gradient(90deg,#4c71b1 0px,#4c72b2 26px,#4e80c0 53px,#5088bc 80px,#5890be 116px,#619eb4 137px,#629fb3 146px,#71b0a8 162px,#82bca2 175px,#8cc2a0 186px,#a1cca0 208px,#c1d99f 234px,#cbdc9a 246px,#d1df96 262px)"></div>
<div style="position:absolute;left:1088px;top:1203px;width:262px;height:2px;background:linear-gradient(90deg,#4c70b1 0px,#4c72b2 30px,#4e80c0 59px,#5088bc 84px,#5890be 119px,#5f9cb6 137px,#62a0b3 149px,#70b0a8 163px,#83bca2 178px,#a1cca0 212px,#c1d99f 238px,#cede98 262px)"></div>
<div style="position:absolute;left:1088px;top:1205px;width:262px;height:2px;background:linear-gradient(90deg,#4c6fb0 0px,#4c73b3 39px,#4e80c0 64px,#5088bc 88px,#5890be 122px,#62a0b3 151px,#70b0a8 165px,#83bca2 180px,#9fcca0 215px,#c1d8a0 241px,#cbdc99 262px)"></div>
<div style="position:absolute;left:1088px;top:1207px;width:262px;height:2px;background:linear-gradient(90deg,#4c6eaf 0px,#4c73b3 43px,#4e80c0 69px,#5088bc 91px,#5890be 125px,#629fb3 152px,#71b0a8 167px,#82bca2 181px,#9fcba0 219px,#c0d8a0 244px,#c8db9b 262px)"></div>
<div style="position:absolute;left:1088px;top:1209px;width:262px;height:2px;background:linear-gradient(90deg,#4c6eaf 0px,#4c73b3 47px,#4e80c0 71px,#5088bc 94px,#5890be 128px,#629fb3 154px,#70b0a8 168px,#82bca2 183px,#97c8a0 215px,#9fcca0 223px,#bdd7a0 244px,#c6da9d 262px)"></div>
<div style="position:absolute;left:1088px;top:1211px;width:262px;height:2px;background:linear-gradient(90deg,#4c6dae 0px,#4c73b3 51px,#4e80c0 75px,#5088bc 96px,#5890be 130px,#629fb3 155px,#70b0a8 170px,#82bca2 185px,#86bea1 196px,#94c6a0 216px,#9fcba0 226px,#bbd6a0 245px,#c1d8a0 252px,#c4d99e 262px)"></div>
<div style="position:absolute;left:1088px;top:1213px;width:262px;height:2px;background:linear-gradient(90deg,#4c6cad 0px,#4c72b2 52px,#4e80c0 77px,#5088bc 98px,#5890be 133px,#5c98b8 144px,#63a0b2 158px,#71b1a8 172px,#80bba3 186px,#85bea1 199px,#90c4a0 217px,#9ecba0 228px,#b8d5a0 245px,#bfd8a0 253px,#c2d99f 262px)"></div>
<div style="position:absolute;left:1088px;top:1215px;width:262px;height:2px;background:linear-gradient(90deg,#4c6aac 0px,#4c72b2 54px,#4e80c0 80px,#5088bc 100px,#5890be 135px,#5c98b8 145px,#63a1b2 160px,#71b0a8 173px,#7db9a4 184px,#86bea1 209px,#8bc2a0 217px,#b6d4a0 245px,#bdd7a0 253px,#c0d8a0 262px)"></div>
<div style="position:absolute;left:1088px;top:1217px;width:262px;height:2px;background:linear-gradient(90deg,#4c69ab 0px,#4c72b3 57px,#4e80c0 82px,#5088bc 102px,#5890be 137px,#5c98b8 147px,#63a0b3 161px,#70b0a8 174px,#7cb8a4 185px,#82bca2 195px,#87bfa0 218px,#b2d3a0 244px,#bad6a0 252px,#bed7a0 262px)"></div>
<div style="position:absolute;left:1088px;top:1219px;width:262px;height:2px;background:linear-gradient(90deg,#4c68aa 0px,#4c6fb0 27px,#4c72b3 59px,#4e80c0 84px,#5088bc 104px,#5890be 138px,#5c98b8 148px,#62a0b3 162px,#70b0a8 175px,#7cb8a4 186px,#82bca2 197px,#86bfa1 221px,#b0d2a0 244px,#b8d5a0 252px,#bcd7a0 262px)"></div>
<div style="position:absolute;left:1088px;top:1221px;width:262px;height:2px;background:linear-gradient(90deg,#4c67aa 0px,#4c6fb0 28px,#4c73b3 63px,#4e80c0 86px,#5088bc 105px,#5890be 140px,#63a0b2 164px,#70b0a8 176px,#7bb7a4 186px,#82bca2 199px,#84bda1 222px,#9dcaa0 234px,#aed1a0 244px,#b7d5a0 252px,#bbd6a0 262px)"></div>
<div style="position:absolute;left:1088px;top:1223px;width:262px;height:2px;background:linear-gradient(90deg,#4d66a9 0px,#4c6fb0 28px,#4c72b3 65px,#4e80c0 87px,#5088bc 106px,#5890be 141px,#5d9ab7 152px,#63a0b3 165px,#70afa8 176px,#7ab7a5 186px,#81bca2 200px,#84bda1 224px,#99c8a0 233px,#add1a0 244px,#b6d4a0 252px,#bad6a0 262px)"></div>
<div style="position:absolute;left:1088px;top:1225px;width:262px;height:2px;background:linear-gradient(90deg,#4e65a8 0px,#4c6fb0 27px,#4c72b3 67px,#4d7cbc 79px,#4e80c0 89px,#5088bc 107px,#538bbd 129px,#5890be 141px,#5e9ab7 153px,#629fb3 165px,#70b0a8 177px,#7bb8a4 188px,#82bca2 202px,#83bda2 225px,#98c8a0 233px,#acd1a0 244px,#b5d4a0 252px,#b9d5a0 262px)"></div>
<div style="position:absolute;left:1088px;top:1227px;width:262px;height:1px;background:linear-gradient(90deg,#4e63a8 0px,#4c6faf 26px,#4c72b2 68px,#4d7cbc 79px,#4e80c0 90px,#5189bc 110px,#538bbd 131px,#5890be 141px,#5e9ab7 153px,#629fb3 166px,#70b0a8 177px,#7ab7a5 187px,#82bca2 202px,#83bda2 225px,#97c8a0 233px,#acd0a0 244px,#b5d4a0 252px,#b9d5a0 262px)"></div>
<div style="position:absolute;left:1368.5px;top:38.3px;width:26px;height:183.1px;background:linear-gradient(0deg,#961650 0.0%,#c44d4e 2.5%,#dd814f 5.0%,#f1c173 7.5%,#fae69d 10.0%,#fcf7c4 12.5%,#f4f0b1 15.0%,#e4e898 17.5%,#d1df96 20.0%,#bdd7a0 22.5%,#a6cea0 25.0%,#93c5a0 27.5%,#82bca2 30.0%,#73b2a7 32.5%,#67a5af 35.0%,#5c98b8 37.5%,#568ebe 40.0%,#538bbd 42.5%,#5087bd 45.0%,#4f83bf 47.5%,#4e7ebe 50.0%,#4d78b8 52.5%,#4c72b3 55.0%,#4c6eaf 57.5%,#4c6aac 60.0%,#4c67aa 62.5%,#4e65a8 65.0%,#4f63a7 67.5%,#5061a6 70.0%,#505ea5 72.5%,#515ca4 75.0%,#525aa3 77.5%,#5258a2 80.0%,#5357a1 82.5%,#5456a1 85.0%,#5555a1 87.5%,#5654a0 90.0%,#57539f 92.5%,#58529d 95.0%,#59519c 97.5%,#5a509a 100.0%)"></div>
<div style="position:absolute;left:1368.5px;top:373.3px;width:26px;height:184.1px;background:linear-gradient(0deg,#961650 0.0%,#c44d4e 2.5%,#dd814f 5.0%,#f1c173 7.5%,#fae69d 10.0%,#fcf7c4 12.5%,#f4f0b1 15.0%,#e4e898 17.5%,#d1df96 20.0%,#bdd7a0 22.5%,#a6cea0 25.0%,#93c5a0 27.5%,#82bca2 30.0%,#73b2a7 32.5%,#67a5af 35.0%,#5c98b8 37.5%,#568ebe 40.0%,#538bbd 42.5%,#5087bd 45.0%,#4f83bf 47.5%,#4e7ebe 50.0%,#4d78b8 52.5%,#4c72b3 55.0%,#4c6eaf 57.5%,#4c6aac 60.0%,#4c67aa 62.5%,#4e65a8 65.0%,#4f63a7 67.5%,#5061a6 70.0%,#505ea5 72.5%,#515ca4 75.0%,#525aa3 77.5%,#5258a2 80.0%,#5357a1 82.5%,#5456a1 85.0%,#5555a1 87.5%,#5654a0 90.0%,#57539f 92.5%,#58529d 95.0%,#59519c 97.5%,#5a509a 100.0%)"></div>
<div style="position:absolute;left:1368.5px;top:709.3px;width:26px;height:183.7px;background:linear-gradient(0deg,#961650 0.0%,#c44d4e 2.5%,#dd814f 5.0%,#f1c173 7.5%,#fae69d 10.0%,#fcf7c4 12.5%,#f4f0b1 15.0%,#e4e898 17.5%,#d1df96 20.0%,#bdd7a0 22.5%,#a6cea0 25.0%,#93c5a0 27.5%,#82bca2 30.0%,#73b2a7 32.5%,#67a5af 35.0%,#5c98b8 37.5%,#568ebe 40.0%,#538bbd 42.5%,#5087bd 45.0%,#4f83bf 47.5%,#4e7ebe 50.0%,#4d78b8 52.5%,#4c72b3 55.0%,#4c6eaf 57.5%,#4c6aac 60.0%,#4c67aa 62.5%,#4e65a8 65.0%,#4f63a7 67.5%,#5061a6 70.0%,#505ea5 72.5%,#515ca4 75.0%,#525aa3 77.5%,#5258a2 80.0%,#5357a1 82.5%,#5456a1 85.0%,#5555a1 87.5%,#5654a0 90.0%,#57539f 92.5%,#58529d 95.0%,#59519c 97.5%,#5a509a 100.0%)"></div>
<div style="position:absolute;left:1368.5px;top:1044.9px;width:26px;height:183.1px;background:linear-gradient(0deg,#961650 0.0%,#c44d4e 2.5%,#dd814f 5.0%,#f1c173 7.5%,#fae69d 10.0%,#fcf7c4 12.5%,#f4f0b1 15.0%,#e4e898 17.5%,#d1df96 20.0%,#bdd7a0 22.5%,#a6cea0 25.0%,#93c5a0 27.5%,#82bca2 30.0%,#73b2a7 32.5%,#67a5af 35.0%,#5c98b8 37.5%,#568ebe 40.0%,#538bbd 42.5%,#5087bd 45.0%,#4f83bf 47.5%,#4e7ebe 50.0%,#4d78b8 52.5%,#4c72b3 55.0%,#4c6eaf 57.5%,#4c6aac 60.0%,#4c67aa 62.5%,#4e65a8 65.0%,#4f63a7 67.5%,#5061a6 70.0%,#505ea5 72.5%,#515ca4 75.0%,#525aa3 77.5%,#5258a2 80.0%,#5357a1 82.5%,#5456a1 85.0%,#5555a1 87.5%,#5654a0 90.0%,#57539f 92.5%,#58529d 95.0%,#59519c 97.5%,#5a509a 100.0%)"></div>
<svg width="1499" height="1315" viewBox="0 0 1499 1315">
<text x="1.45" y="37.2" style="font-family:'Liberation Sans', sans-serif;font-size:50px;font-weight:bold;font-style:normal" fill="#000">A</text>
<text x="1.55" y="356.1" style="font-family:'Liberation Sans', sans-serif;font-size:50px;font-weight:bold;font-style:normal" fill="#000">B</text>
<text x="2.3" y="676" style="font-family:'Liberation Sans', sans-serif;font-size:50px;font-weight:bold;font-style:normal" fill="#000">C</text>
<text x="0.85" y="1017.2" style="font-family:'Liberation Sans', sans-serif;font-size:50px;font-weight:bold;font-style:normal" fill="#000">D</text>
<text x="498.15" y="36.7" style="font-family:'Liberation Sans', sans-serif;font-size:50px;font-weight:bold;font-style:normal" fill="#000">E</text>
<text x="498.85" y="356" style="font-family:'Liberation Sans', sans-serif;font-size:50px;font-weight:bold;font-style:normal" fill="#000">F</text>
<text x="500.3" y="675.8" style="font-family:'Liberation Sans', sans-serif;font-size:50px;font-weight:bold;font-style:normal" fill="#000">G</text>
<text x="498.55" y="1017" style="font-family:'Liberation Sans', sans-serif;font-size:50px;font-weight:bold;font-style:normal" fill="#000">H</text>
<text x="1010.65" y="36.7" style="font-family:'Liberation Sans', sans-serif;font-size:50px;font-weight:bold;font-style:normal" fill="#000">I</text>
<text x="1010.65" y="355.6" style="font-family:'Liberation Sans', sans-serif;font-size:50px;font-weight:bold;font-style:normal" fill="#000">L</text>
<text x="1011.15" y="675.8" style="font-family:'Liberation Sans', sans-serif;font-size:50px;font-weight:bold;font-style:normal" fill="#000">M</text>
<text x="1012.95" y="1017" style="font-family:'Liberation Sans', sans-serif;font-size:50px;font-weight:bold;font-style:normal" fill="#000">N</text>
<g>
<path d="M102.75 144.39 L109.91 179.07 L117.06 111.38 L124.22 122.03 L131.38 212.08 L138.53 185.61 L145.69 218.17 L152.84 144.09 L160 212.08 L167.15 150.17 L174.31 156.25 L181.46 142.56 L188.62 129.18 L195.77 156.71 L202.93 147.13 L210.08 134.2 L217.24 218.32 L224.39 178.01 L231.54 151.69 L238.7 113.36 L245.85 218.17 L253.01 150.93 L260.16 172.99 L267.32 196.87 L274.48 166.14 L281.63 159.3 L288.78 190.48 L295.94 203.41 L303.1 175.27 L310.25 116.71 L317.4 113.36 L324.56 143.33 L331.72 150.93 L338.87 173.75 L346.02 201.13 L353.18 110.62 L360.34 179.83 L367.49 114.42 L374.64 153.97 L381.8 112.9 L388.96 186.68 L396.11 198.85 L403.26 209.49 L410.42 137.24 L417.58 108.34 L424.73 112.9 L431.88 117.47 L439.04 108.34 L446.2 174.51 L453.35 138.76" stroke="#000" stroke-width="3.2" fill="none" stroke-linejoin="round" stroke-linecap="round"/>
<circle cx="102.75" cy="144.39" r="5.6" fill="#000" stroke="none" stroke-width="0"/>
<circle cx="109.91" cy="179.07" r="5.6" fill="#000" stroke="none" stroke-width="0"/>
<circle cx="117.06" cy="111.38" r="5.6" fill="#000" stroke="none" stroke-width="0"/>
<circle cx="124.22" cy="122.03" r="5.6" fill="#000" stroke="none" stroke-width="0"/>
<circle cx="131.38" cy="212.08" r="5.6" fill="#000" stroke="none" stroke-width="0"/>
<circle cx="138.53" cy="185.61" r="5.6" fill="#000" stroke="none" stroke-width="0"/>
<circle cx="145.69" cy="218.17" r="5.6" fill="#000" stroke="none" stroke-width="0"/>
<circle cx="152.84" cy="144.09" r="5.6" fill="#000" stroke="none" stroke-width="0"/>
<circle cx="160" cy="212.08" r="5.6" fill="#000" stroke="none" stroke-width="0"/>
<circle cx="167.15" cy="150.17" r="5.6" fill="#000" stroke="none" stroke-width="0"/>
<circle cx="174.31" cy="156.25" r="5.6" fill="#000" stroke="none" stroke-width="0"/>
<circle cx="181.46" cy="142.56" r="5.6" fill="#000" stroke="none" stroke-width="0"/>
<circle cx="188.62" cy="129.18" r="5.6" fill="#000" stroke="none" stroke-width="0"/>
<circle cx="195.77" cy="156.71" r="5.6" fill="#000" stroke="none" stroke-width="0"/>
<circle cx="202.93" cy="147.13" r="5.6" fill="#000" stroke="none" stroke-width="0"/>
<circle cx="210.08" cy="134.2" r="5.6" fill="#000" stroke="none" stroke-width="0"/>
<circle cx="217.24" cy="218.32" r="5.6" fill="#000" stroke="none" stroke-width="0"/>
<circle cx="224.39" cy="178.01" r="5.6" fill="#000" stroke="none" stroke-width="0"/>
<circle cx="231.54" cy="151.69" r="5.6" fill="#000" stroke="none" stroke-width="0"/>
<circle cx="238.7" cy="113.36" r="5.6" fill="#000" stroke="none" stroke-width="0"/>
<circle cx="245.85" cy="218.17" r="5.6" fill="#000" stroke="none" stroke-width="0"/>
<circle cx="253.01" cy="150.93" r="5.6" fill="#000" stroke="none" stroke-width="0"/>
<circle cx="260.16" cy="172.99" r="5.6" fill="#000" stroke="none" stroke-width="0"/>
<circle cx="267.32" cy="196.87" r="5.6" fill="#000" stroke="none" stroke-width="0"/>
<circle cx="274.48" cy="166.14" r="5.6" fill="#000" stroke="none" stroke-width="0"/>
<circle cx="281.63" cy="159.3" r="5.6" fill="#000" stroke="none" stroke-width="0"/>
<circle cx="288.78" cy="190.48" r="5.6" fill="#000" stroke="none" stroke-width="0"/>
<circle cx="295.94" cy="203.41" r="5.6" fill="#000" stroke="none" stroke-width="0"/>
<circle cx="303.1" cy="175.27" r="5.6" fill="#000" stroke="none" stroke-width="0"/>
<circle cx="310.25" cy="116.71" r="5.6" fill="#000" stroke="none" stroke-width="0"/>
<circle cx="317.4" cy="113.36" r="5.6" fill="#000" stroke="none" stroke-width="0"/>
<circle cx="324.56" cy="143.33" r="5.6" fill="#000" stroke="none" stroke-width="0"/>
<circle cx="331.72" cy="150.93" r="5.6" fill="#000" stroke="none" stroke-width="0"/>
<circle cx="338.87" cy="173.75" r="5.6" fill="#000" stroke="none" stroke-width="0"/>
<circle cx="346.02" cy="201.13" r="5.6" fill="#000" stroke="none" stroke-width="0"/>
<circle cx="353.18" cy="110.62" r="5.6" fill="#000" stroke="none" stroke-width="0"/>
<circle cx="360.34" cy="179.83" r="5.6" fill="#000" stroke="none" stroke-width="0"/>
<circle cx="367.49" cy="114.42" r="5.6" fill="#000" stroke="none" stroke-width="0"/>
<circle cx="374.64" cy="153.97" r="5.6" fill="#000" stroke="none" stroke-width="0"/>
<circle cx="381.8" cy="112.9" r="5.6" fill="#000" stroke="none" stroke-width="0"/>
<circle cx="388.96" cy="186.68" r="5.6" fill="#000" stroke="none" stroke-width="0"/>
<circle cx="396.11" cy="198.85" r="5.6" fill="#000" stroke="none" stroke-width="0"/>
<circle cx="403.26" cy="209.49" r="5.6" fill="#000" stroke="none" stroke-width="0"/>
<circle cx="410.42" cy="137.24" r="5.6" fill="#000" stroke="none" stroke-width="0"/>
<circle cx="417.58" cy="108.34" r="5.6" fill="#000" stroke="none" stroke-width="0"/>
<circle cx="424.73" cy="112.9" r="5.6" fill="#000" stroke="none" stroke-width="0"/>
<circle cx="431.88" cy="117.47" r="5.6" fill="#000" stroke="none" stroke-width="0"/>
<circle cx="439.04" cy="108.34" r="5.6" fill="#000" stroke="none" stroke-width="0"/>
<circle cx="446.2" cy="174.51" r="5.6" fill="#000" stroke="none" stroke-width="0"/>
<circle cx="453.35" cy="138.76" r="5.6" fill="#000" stroke="none" stroke-width="0"/>
<path d="M102.75 102.71 L109.91 122.79 L117.06 119.75 L124.22 85.98 L131.38 55.1 L138.53 101.49 L145.69 104.54 L152.84 128.11 L160 95.71 L167.15 125.83 L174.31 109.1 L181.46 117.92 L188.62 83.54 L195.77 60.42 L202.93 103.01 L210.08 114.42 L217.24 136.78 L224.39 150.17 L231.54 157.78 L238.7 131.61 L245.85 104.54 L253.01 134.2 L260.16 109.86 L267.32 119.75 L274.48 134.96 L281.63 123.55 L288.78 147.89 L295.94 152.45 L303.1 156.25 L310.25 133.44 L317.4 151.69 L324.56 115.18 L331.72 122.03 L338.87 138 L346.02 141.04 L353.18 150.93 L360.34 142.56 L367.49 156.25 L374.64 134.96 L381.8 109.86 L388.96 68.03 L396.11 103.78 L403.26 128.11 L410.42 147.13 L417.58 150.17 L424.73 68.03 L431.88 96.17 L439.04 75.63 L446.2 75.63 L453.35 75.63" stroke="#c8282a" stroke-width="3.2" fill="none" stroke-linejoin="round" stroke-linecap="round"/>
<circle cx="102.75" cy="102.71" r="5.6" fill="#c8282a" stroke="none" stroke-width="0"/>
<circle cx="109.91" cy="122.79" r="5.6" fill="#c8282a" stroke="none" stroke-width="0"/>
<circle cx="117.06" cy="119.75" r="5.6" fill="#c8282a" stroke="none" stroke-width="0"/>
<circle cx="124.22" cy="85.98" r="5.6" fill="#c8282a" stroke="none" stroke-width="0"/>
<circle cx="131.38" cy="55.1" r="5.6" fill="#c8282a" stroke="none" stroke-width="0"/>
<circle cx="138.53" cy="101.49" r="5.6" fill="#c8282a" stroke="none" stroke-width="0"/>
<circle cx="145.69" cy="104.54" r="5.6" fill="#c8282a" stroke="none" stroke-width="0"/>
<circle cx="152.84" cy="128.11" r="5.6" fill="#c8282a" stroke="none" stroke-width="0"/>
<circle cx="160" cy="95.71" r="5.6" fill="#c8282a" stroke="none" stroke-width="0"/>
<circle cx="167.15" cy="125.83" r="5.6" fill="#c8282a" stroke="none" stroke-width="0"/>
<circle cx="174.31" cy="109.1" r="5.6" fill="#c8282a" stroke="none" stroke-width="0"/>
<circle cx="181.46" cy="117.92" r="5.6" fill="#c8282a" stroke="none" stroke-width="0"/>
<circle cx="188.62" cy="83.54" r="5.6" fill="#c8282a" stroke="none" stroke-width="0"/>
<circle cx="195.77" cy="60.42" r="5.6" fill="#c8282a" stroke="none" stroke-width="0"/>
<circle cx="202.93" cy="103.01" r="5.6" fill="#c8282a" stroke="none" stroke-width="0"/>
<circle cx="210.08" cy="114.42" r="5.6" fill="#c8282a" stroke="none" stroke-width="0"/>
<circle cx="217.24" cy="136.78" r="5.6" fill="#c8282a" stroke="none" stroke-width="0"/>
<circle cx="224.39" cy="150.17" r="5.6" fill="#c8282a" stroke="none" stroke-width="0"/>
<circle cx="231.54" cy="157.78" r="5.6" fill="#c8282a" stroke="none" stroke-width="0"/>
<circle cx="238.7" cy="131.61" r="5.6" fill="#c8282a" stroke="none" stroke-width="0"/>
<circle cx="245.85" cy="104.54" r="5.6" fill="#c8282a" stroke="none" stroke-width="0"/>
<circle cx="253.01" cy="134.2" r="5.6" fill="#c8282a" stroke="none" stroke-width="0"/>
<circle cx="260.16" cy="109.86" r="5.6" fill="#c8282a" stroke="none" stroke-width="0"/>
<circle cx="267.32" cy="119.75" r="5.6" fill="#c8282a" stroke="none" stroke-width="0"/>
<circle cx="274.48" cy="134.96" r="5.6" fill="#c8282a" stroke="none" stroke-width="0"/>
<circle cx="281.63" cy="123.55" r="5.6" fill="#c8282a" stroke="none" stroke-width="0"/>
<circle cx="288.78" cy="147.89" r="5.6" fill="#c8282a" stroke="none" stroke-width="0"/>
<circle cx="295.94" cy="152.45" r="5.6" fill="#c8282a" stroke="none" stroke-width="0"/>
<circle cx="303.1" cy="156.25" r="5.6" fill="#c8282a" stroke="none" stroke-width="0"/>
<circle cx="310.25" cy="133.44" r="5.6" fill="#c8282a" stroke="none" stroke-width="0"/>
<circle cx="317.4" cy="151.69" r="5.6" fill="#c8282a" stroke="none" stroke-width="0"/>
<circle cx="324.56" cy="115.18" r="5.6" fill="#c8282a" stroke="none" stroke-width="0"/>
<circle cx="331.72" cy="122.03" r="5.6" fill="#c8282a" stroke="none" stroke-width="0"/>
<circle cx="338.87" cy="138" r="5.6" fill="#c8282a" stroke="none" stroke-width="0"/>
<circle cx="346.02" cy="141.04" r="5.6" fill="#c8282a" stroke="none" stroke-width="0"/>
<circle cx="353.18" cy="150.93" r="5.6" fill="#c8282a" stroke="none" stroke-width="0"/>
<circle cx="360.34" cy="142.56" r="5.6" fill="#c8282a" stroke="none" stroke-width="0"/>
<circle cx="367.49" cy="156.25" r="5.6" fill="#c8282a" stroke="none" stroke-width="0"/>
<circle cx="374.64" cy="134.96" r="5.6" fill="#c8282a" stroke="none" stroke-width="0"/>
<circle cx="381.8" cy="109.86" r="5.6" fill="#c8282a" stroke="none" stroke-width="0"/>
<circle cx="388.96" cy="68.03" r="5.6" fill="#c8282a" stroke="none" stroke-width="0"/>
<circle cx="396.11" cy="103.78" r="5.6" fill="#c8282a" stroke="none" stroke-width="0"/>
<circle cx="403.26" cy="128.11" r="5.6" fill="#c8282a" stroke="none" stroke-width="0"/>
<circle cx="410.42" cy="147.13" r="5.6" fill="#c8282a" stroke="none" stroke-width="0"/>
<circle cx="417.58" cy="150.17" r="5.6" fill="#c8282a" stroke="none" stroke-width="0"/>
<circle cx="424.73" cy="68.03" r="5.6" fill="#c8282a" stroke="none" stroke-width="0"/>
<circle cx="431.88" cy="96.17" r="5.6" fill="#c8282a" stroke="none" stroke-width="0"/>
<circle cx="439.04" cy="75.63" r="5.6" fill="#c8282a" stroke="none" stroke-width="0"/>
<circle cx="446.2" cy="75.63" r="5.6" fill="#c8282a" stroke="none" stroke-width="0"/>
<circle cx="453.35" cy="75.63" r="5.6" fill="#c8282a" stroke="none" stroke-width="0"/>
</g>
<rect x="95.6" y="38.4" width="357.8" height="183.6" stroke="#262626" stroke-width="1" fill="none"/>
<line x1="95.6" y1="222" x2="95.6" y2="217.5" stroke="#262626" stroke-width="1"/>
<line x1="95.6" y1="38.4" x2="95.6" y2="42.9" stroke="#262626" stroke-width="1"/>
<text x="87.22" y="262" style="font-family:'Liberation Sans', sans-serif;font-size:29.8px;font-weight:normal;font-style:normal" fill="#262626">0</text>
<line x1="238.7" y1="222" x2="238.7" y2="217.5" stroke="#262626" stroke-width="1"/>
<line x1="238.7" y1="38.4" x2="238.7" y2="42.9" stroke="#262626" stroke-width="1"/>
<text x="221.95" y="262" style="font-family:'Liberation Sans', sans-serif;font-size:29.8px;font-weight:normal;font-style:normal" fill="#262626">20</text>
<line x1="381.8" y1="222" x2="381.8" y2="217.5" stroke="#262626" stroke-width="1"/>
<line x1="381.8" y1="38.4" x2="381.8" y2="42.9" stroke="#262626" stroke-width="1"/>
<text x="365.42" y="262" style="font-family:'Liberation Sans', sans-serif;font-size:29.8px;font-weight:normal;font-style:normal" fill="#262626">40</text>
<line x1="95.6" y1="221.7" x2="100.1" y2="221.7" stroke="#262626" stroke-width="1"/>
<line x1="453.4" y1="221.7" x2="448.9" y2="221.7" stroke="#262626" stroke-width="1"/>
<text x="68.5" y="231.95" style="font-family:'Liberation Sans', sans-serif;font-size:29.8px;font-weight:normal;font-style:normal" fill="#262626">0</text>
<line x1="95.6" y1="107" x2="100.1" y2="107" stroke="#262626" stroke-width="1"/>
<line x1="453.4" y1="107" x2="448.9" y2="107" stroke="#262626" stroke-width="1"/>
<text x="44" y="117.25" style="font-family:'Liberation Sans', sans-serif;font-size:29.8px;font-weight:normal;font-style:normal" fill="#262626">0.5</text>
<text transform="translate(31 130.3) rotate(-90)" x="-44.75" y="0" style="font-family:'Liberation Sans', sans-serif;font-size:32.5px;font-weight:normal;font-style:normal" fill="#262626">Signal</text>
<rect x="324.5" y="25.6" width="134.8" height="67.6" stroke="#262626" stroke-width="1" fill="#fff"/>
<circle cx="336.9" cy="44" r="6" fill="#000" stroke="none" stroke-width="0"/>
<text x="347" y="53.1" style="font-family:'Liberation Sans', sans-serif;font-size:22.3px;font-weight:normal;font-style:normal" fill="#000">Input</text>
<circle cx="336.9" cy="74.9" r="6" fill="#c8282a" stroke="none" stroke-width="0"/>
<text x="347.25" y="83.8" style="font-family:'Liberation Sans', sans-serif;font-size:22.3px;font-weight:normal;font-style:normal" fill="#000">NARMA10</text>
<text x="242.68" y="302.5" style="font-family:'Liberation Sans', sans-serif;font-size:32.5px;font-weight:normal;font-style:normal" fill="#262626">t (<tspan style="font-family:'Liberation Serif', serif;font-size:32.5px;font-weight:normal;font-style:italic">δ</tspan>t)</text>
<path d="M95.7 375.04 L114.56 550.82 L133.42 553.49 L152.28 552.82 L171.14 552.49 L190 555.82 L208.86 554.82 L227.72 556.82 L246.58 555.49 L265.44 555.16 L284.3 552.82 L303.16 556.16 L322.02 555.16 L340.88 553.49 L359.74 551.49 L378.6 552.82 L397.46 552.49 L416.32 553.49 L435.18 553.49 L454.04 554.16" stroke="#c8282a" stroke-width="3.9" fill="none" stroke-linejoin="round" stroke-linecap="butt"/>
<path d="M95.7 375.04 L114.56 486.78 L133.42 520.13 L152.28 517.46 L171.14 471.1 L190 522.47 L208.86 538.48 L227.72 544.48 L246.58 547.82 L265.44 550.82 L284.3 548.82 L303.16 547.15 L322.02 550.15 L340.88 551.15 L359.74 550.82 L378.6 550.15 L397.46 551.15 L416.32 550.15 L435.18 549.82 L454.04 550.82" stroke="#2e3f95" stroke-width="3.9" fill="none" stroke-linejoin="round" stroke-linecap="butt"/>
<path d="M95.7 375.04 L114.56 440.08 L133.42 475.1 L152.28 491.78 L171.14 498.45 L190 501.79 L208.86 500.79 L227.72 496.78 L246.58 483.44 L265.44 456.09 L284.3 485.11 L303.16 504.46 L322.02 514.46 L340.88 520.13 L359.74 524.47 L378.6 527.81 L397.46 530.81 L416.32 532.81 L435.18 533.81 L454.04 536.14" stroke="#000" stroke-width="3.9" fill="none" stroke-linejoin="round" stroke-linecap="butt"/>
<rect x="95.7" y="373.4" width="357.9" height="184.1" stroke="#262626" stroke-width="1" fill="none"/>
<line x1="95.7" y1="557.5" x2="95.7" y2="553" stroke="#262626" stroke-width="1"/>
<line x1="95.7" y1="373.4" x2="95.7" y2="377.9" stroke="#262626" stroke-width="1"/>
<text x="87.33" y="597" style="font-family:'Liberation Sans', sans-serif;font-size:29.8px;font-weight:normal;font-style:normal" fill="#262626">0</text>
<line x1="190" y1="557.5" x2="190" y2="553" stroke="#262626" stroke-width="1"/>
<line x1="190" y1="373.4" x2="190" y2="377.9" stroke="#262626" stroke-width="1"/>
<text x="181.75" y="597" style="font-family:'Liberation Sans', sans-serif;font-size:29.8px;font-weight:normal;font-style:normal" fill="#262626">5</text>
<line x1="284.3" y1="557.5" x2="284.3" y2="553" stroke="#262626" stroke-width="1"/>
<line x1="284.3" y1="373.4" x2="284.3" y2="377.9" stroke="#262626" stroke-width="1"/>
<text x="267.18" y="597" style="font-family:'Liberation Sans', sans-serif;font-size:29.8px;font-weight:normal;font-style:normal" fill="#262626">10</text>
<line x1="378.6" y1="557.5" x2="378.6" y2="553" stroke="#262626" stroke-width="1"/>
<line x1="378.6" y1="373.4" x2="378.6" y2="377.9" stroke="#262626" stroke-width="1"/>
<text x="361.6" y="597" style="font-family:'Liberation Sans', sans-serif;font-size:29.8px;font-weight:normal;font-style:normal" fill="#262626">15</text>
<line x1="95.7" y1="555.2" x2="100.2" y2="555.2" stroke="#262626" stroke-width="1"/>
<line x1="453.6" y1="555.2" x2="449.1" y2="555.2" stroke="#262626" stroke-width="1"/>
<text x="68.5" y="565.45" style="font-family:'Liberation Sans', sans-serif;font-size:29.8px;font-weight:normal;font-style:normal" fill="#262626">0</text>
<line x1="95.7" y1="465.1" x2="100.2" y2="465.1" stroke="#262626" stroke-width="1"/>
<line x1="453.6" y1="465.1" x2="449.1" y2="465.1" stroke="#262626" stroke-width="1"/>
<text x="44" y="475.35" style="font-family:'Liberation Sans', sans-serif;font-size:29.8px;font-weight:normal;font-style:normal" fill="#262626">0.5</text>
<line x1="95.7" y1="375" x2="100.2" y2="375" stroke="#262626" stroke-width="1"/>
<line x1="453.6" y1="375" x2="449.1" y2="375" stroke="#262626" stroke-width="1"/>
<text x="69" y="385.25" style="font-family:'Liberation Sans', sans-serif;font-size:29.8px;font-weight:normal;font-style:normal" fill="#262626">1</text>
<text transform="translate(31.9 464.7) rotate(-90)" x="-108.25" y="0" style="font-family:'Liberation Sans', sans-serif;font-size:32.5px;font-weight:normal;font-style:normal" fill="#262626">Autocorrelation</text>
<rect x="321.8" y="361.2" width="134.8" height="98.4" stroke="#262626" stroke-width="1" fill="#fff"/>
<line x1="328.5" y1="379.8" x2="339.5" y2="379.8" stroke="#c8282a" stroke-width="4"/>
<text x="344" y="388.5" style="font-family:'Liberation Sans', sans-serif;font-size:22.3px;font-weight:normal;font-style:normal" fill="#000">Input</text>
<line x1="328.5" y1="410.5" x2="339.5" y2="410.5" stroke="#2e3f95" stroke-width="4"/>
<text x="344.25" y="419" style="font-family:'Liberation Sans', sans-serif;font-size:22.3px;font-weight:normal;font-style:normal" fill="#000">NARMA5</text>
<line x1="328.5" y1="441.3" x2="339.5" y2="441.3" stroke="#000" stroke-width="4"/>
<text x="344.25" y="450.1" style="font-family:'Liberation Sans', sans-serif;font-size:22.3px;font-weight:normal;font-style:normal" fill="#000">NARMA10</text>
<text x="242.68" y="637" style="font-family:'Liberation Sans', sans-serif;font-size:32.5px;font-weight:normal;font-style:normal" fill="#262626">t (<tspan style="font-family:'Liberation Serif', serif;font-size:32.5px;font-weight:normal;font-style:italic">δ</tspan>t)</text>
<circle cx="108.41" cy="779.43" r="10.4" fill="#000" stroke="none" stroke-width="0"/>
<circle cx="142.43" cy="780.09" r="10.4" fill="#000" stroke="none" stroke-width="0"/>
<circle cx="176.12" cy="780.09" r="10.4" fill="#000" stroke="none" stroke-width="0"/>
<circle cx="209.47" cy="794.1" r="10.4" fill="#000" stroke="none" stroke-width="0"/>
<circle cx="242.83" cy="820.12" r="10.4" fill="#000" stroke="none" stroke-width="0"/>
<circle cx="276.18" cy="826.79" r="10.4" fill="#000" stroke="none" stroke-width="0"/>
<circle cx="309.54" cy="829.46" r="10.4" fill="#000" stroke="none" stroke-width="0"/>
<circle cx="342.9" cy="841.13" r="10.4" fill="#000" stroke="none" stroke-width="0"/>
<circle cx="376.25" cy="849.47" r="10.4" fill="#000" stroke="none" stroke-width="0"/>
<circle cx="410.27" cy="861.81" r="10.4" fill="#000" stroke="none" stroke-width="0"/>
<circle cx="443.63" cy="887.83" r="10.4" fill="#000" stroke="none" stroke-width="0"/>
<circle cx="108.41" cy="780.09" r="7.6" fill="#e2e2e2" stroke="#000" stroke-width="2.2"/>
<circle cx="142.43" cy="780.76" r="7.6" fill="#e2e2e2" stroke="#000" stroke-width="2.2"/>
<circle cx="176.12" cy="783.43" r="7.6" fill="#e2e2e2" stroke="#000" stroke-width="2.2"/>
<circle cx="209.47" cy="801.77" r="7.6" fill="#e2e2e2" stroke="#000" stroke-width="2.2"/>
<circle cx="242.83" cy="825.79" r="7.6" fill="#e2e2e2" stroke="#000" stroke-width="2.2"/>
<circle cx="276.18" cy="830.79" r="7.6" fill="#e2e2e2" stroke="#000" stroke-width="2.2"/>
<circle cx="309.54" cy="836.13" r="7.6" fill="#e2e2e2" stroke="#000" stroke-width="2.2"/>
<circle cx="342.9" cy="849.47" r="7.6" fill="#e2e2e2" stroke="#000" stroke-width="2.2"/>
<circle cx="376.25" cy="858.48" r="7.6" fill="#e2e2e2" stroke="#000" stroke-width="2.2"/>
<circle cx="410.27" cy="880.83" r="7.6" fill="#e2e2e2" stroke="#000" stroke-width="2.2"/>
<circle cx="443.63" cy="904.18" r="7.6" fill="#e2e2e2" stroke="#000" stroke-width="2.2"/>
<line x1="109.3" y1="899.5" x2="443.6" y2="899.5" stroke="#2e3f95" stroke-width="9"/>
<line x1="109.3" y1="900.8" x2="443.6" y2="900.8" stroke="#86b93a" stroke-width="4.8"/>
<line x1="109.3" y1="909.5" x2="443.6" y2="909.5" stroke="#c8282a" stroke-width="6.2"/>
<path d="M91.9 715 L91.9 918.5 L456.2 918.5 L456.2 715" fill="none" stroke="#262626" stroke-width="1"/>
<line x1="159.91" y1="918.5" x2="159.91" y2="913.5" stroke="#262626" stroke-width="1"/>
<line x1="228.26" y1="918.5" x2="228.26" y2="913.5" stroke="#262626" stroke-width="1"/>
<line x1="375.25" y1="918.5" x2="375.25" y2="913.5" stroke="#262626" stroke-width="1"/>
<line x1="443.6" y1="918.5" x2="443.6" y2="913.5" stroke="#262626" stroke-width="1"/>
<line x1="105.66" y1="918.5" x2="105.66" y2="915.5" stroke="#262626" stroke-width="1"/>
<line x1="121.42" y1="918.5" x2="121.42" y2="915.5" stroke="#262626" stroke-width="1"/>
<line x1="135.51" y1="918.5" x2="135.51" y2="915.5" stroke="#262626" stroke-width="1"/>
<line x1="282.51" y1="918.5" x2="282.51" y2="915.5" stroke="#262626" stroke-width="1"/>
<line x1="321" y1="918.5" x2="321" y2="915.5" stroke="#262626" stroke-width="1"/>
<line x1="350.86" y1="918.5" x2="350.86" y2="915.5" stroke="#262626" stroke-width="1"/>
<line x1="395.88" y1="918.5" x2="395.88" y2="915.5" stroke="#262626" stroke-width="1"/>
<line x1="413.74" y1="918.5" x2="413.74" y2="915.5" stroke="#262626" stroke-width="1"/>
<line x1="429.5" y1="918.5" x2="429.5" y2="915.5" stroke="#262626" stroke-width="1"/>
<line x1="91.9" y1="897.5" x2="96.9" y2="897.5" stroke="#262626" stroke-width="1"/>
<line x1="456.2" y1="897.5" x2="451.2" y2="897.5" stroke="#262626" stroke-width="1"/>
<line x1="91.9" y1="824.56" x2="96.9" y2="824.56" stroke="#262626" stroke-width="1"/>
<line x1="456.2" y1="824.56" x2="451.2" y2="824.56" stroke="#262626" stroke-width="1"/>
<line x1="91.9" y1="772.8" x2="96.9" y2="772.8" stroke="#262626" stroke-width="1"/>
<line x1="456.2" y1="772.8" x2="451.2" y2="772.8" stroke="#262626" stroke-width="1"/>
<line x1="91.9" y1="857.36" x2="94.9" y2="857.36" stroke="#262626" stroke-width="1"/>
<line x1="456.2" y1="857.36" x2="453.2" y2="857.36" stroke="#262626" stroke-width="1"/>
<line x1="91.9" y1="796.83" x2="94.9" y2="796.83" stroke="#262626" stroke-width="1"/>
<line x1="456.2" y1="796.83" x2="453.2" y2="796.83" stroke="#262626" stroke-width="1"/>
<line x1="91.9" y1="751.61" x2="94.9" y2="751.61" stroke="#262626" stroke-width="1"/>
<line x1="456.2" y1="751.61" x2="453.2" y2="751.61" stroke="#262626" stroke-width="1"/>
<line x1="91.9" y1="732.66" x2="94.9" y2="732.66" stroke="#262626" stroke-width="1"/>
<line x1="456.2" y1="732.66" x2="453.2" y2="732.66" stroke="#262626" stroke-width="1"/>
<text x="131.16" y="957" style="font-family:'Liberation Sans', sans-serif;font-size:29.8px;font-weight:normal;font-style:normal" fill="#262626">0.12</text>
<text x="207.76" y="957" style="font-family:'Liberation Sans', sans-serif;font-size:29.8px;font-weight:normal;font-style:normal" fill="#262626">0.2</text>
<text x="354.63" y="957" style="font-family:'Liberation Sans', sans-serif;font-size:29.8px;font-weight:normal;font-style:normal" fill="#262626">0.6</text>
<text x="434.98" y="957" style="font-family:'Liberation Sans', sans-serif;font-size:29.8px;font-weight:normal;font-style:normal" fill="#262626">1</text>
<text x="39.5" y="907.75" style="font-family:'Liberation Sans', sans-serif;font-size:29.8px;font-weight:normal;font-style:normal" fill="#262626">0.4</text>
<text x="40" y="834.81" style="font-family:'Liberation Sans', sans-serif;font-size:29.8px;font-weight:normal;font-style:normal" fill="#262626">0.6</text>
<text x="40" y="783.05" style="font-family:'Liberation Sans', sans-serif;font-size:29.8px;font-weight:normal;font-style:normal" fill="#262626">0.8</text>
<text x="269.25" y="973.5" style="font-family:'Liberation Serif', serif;font-size:32.5px;font-weight:normal;font-style:italic" fill="#262626">α</text>
<text transform="translate(28.3 817.6) rotate(-90)" x="-59.38" y="0" style="font-family:'Liberation Sans', sans-serif;font-size:32.5px;font-weight:normal;font-style:normal" fill="#262626">NRMSE</text>
<rect x="58.2" y="672.1" width="426.6" height="53" stroke="#262626" stroke-width="1" fill="#fff"/>
<circle cx="70.1" cy="698.8" r="7.6" fill="#e2e2e2" stroke="#000" stroke-width="2.2"/>
<circle cx="137.2" cy="698.8" r="10.4" fill="#000" stroke="none" stroke-width="0"/>
<text x="81.9" y="707.6" style="font-family:'Liberation Serif', serif;font-size:22.3px;font-weight:normal;font-style:italic">ρ<tspan style="font-family:'Liberation Sans', sans-serif;font-size:22.3px;font-weight:normal;font-style:normal">=1</tspan></text>
<text x="155.3" y="707.6" style="font-family:'Liberation Serif', serif;font-size:22.3px;font-weight:normal;font-style:italic">ρ<tspan style="font-family:'Liberation Sans', sans-serif;font-size:22.3px;font-weight:normal;font-style:normal">=0.6</tspan></text>
<rect x="223.2" y="694.7" width="11.2" height="8.5" fill="#2e3f95"/>
<text x="238.95" y="705" style="font-family:'Liberation Sans', sans-serif;font-size:21.5px;font-weight:normal;font-style:normal" fill="#000">ESN</text>
<text x="283.7" y="694.7" style="font-family:'Liberation Sans', sans-serif;font-size:16px;font-weight:normal;font-style:normal" fill="#000">u</text>
<text x="283.95" y="717.2" style="font-family:'Liberation Sans', sans-serif;font-size:16px;font-weight:normal;font-style:normal" fill="#000">2</text>
<rect x="308.8" y="696" width="10.8" height="6.3" fill="#c8282a"/>
<text x="324.55" y="705" style="font-family:'Liberation Sans', sans-serif;font-size:21.5px;font-weight:normal;font-style:normal" fill="#000">ESN</text>
<text x="369.55" y="694.7" style="font-family:'Liberation Sans', sans-serif;font-size:16px;font-weight:normal;font-style:normal" fill="#000">c</text>
<text x="369.55" y="717.2" style="font-family:'Liberation Sans', sans-serif;font-size:16px;font-weight:normal;font-style:normal" fill="#000">2</text>
<rect x="394.3" y="696.9" width="10.9" height="4.1" fill="#86b93a"/>
<text x="410.05" y="705" style="font-family:'Liberation Sans', sans-serif;font-size:21.5px;font-weight:normal;font-style:normal" fill="#000">ESN</text>
<text x="455.8" y="694.7" style="font-family:'Liberation Sans', sans-serif;font-size:16px;font-weight:normal;font-style:normal" fill="#000">wc</text>
<text x="455.05" y="717.2" style="font-family:'Liberation Sans', sans-serif;font-size:16px;font-weight:normal;font-style:normal" fill="#000">2</text>
<circle cx="105.07" cy="1102.75" r="10.4" fill="#000" stroke="none" stroke-width="0"/>
<circle cx="142.43" cy="1104.42" r="10.4" fill="#000" stroke="none" stroke-width="0"/>
<circle cx="180.12" cy="1104.42" r="10.4" fill="#000" stroke="none" stroke-width="0"/>
<circle cx="216.81" cy="1104.42" r="10.4" fill="#000" stroke="none" stroke-width="0"/>
<circle cx="254.17" cy="1110.76" r="10.4" fill="#000" stroke="none" stroke-width="0"/>
<circle cx="291.19" cy="1128.44" r="10.4" fill="#000" stroke="none" stroke-width="0"/>
<circle cx="328.55" cy="1136.77" r="10.4" fill="#000" stroke="none" stroke-width="0"/>
<circle cx="366.24" cy="1144.45" r="10.4" fill="#000" stroke="none" stroke-width="0"/>
<circle cx="403.6" cy="1171.8" r="10.4" fill="#000" stroke="none" stroke-width="0"/>
<circle cx="440.29" cy="1174.47" r="10.4" fill="#000" stroke="none" stroke-width="0"/>
<circle cx="105.07" cy="1104.42" r="7.6" fill="#e2e2e2" stroke="#000" stroke-width="2.2"/>
<circle cx="142.43" cy="1105.09" r="7.6" fill="#e2e2e2" stroke="#000" stroke-width="2.2"/>
<circle cx="180.12" cy="1105.75" r="7.6" fill="#e2e2e2" stroke="#000" stroke-width="2.2"/>
<circle cx="216.81" cy="1107.76" r="7.6" fill="#e2e2e2" stroke="#000" stroke-width="2.2"/>
<circle cx="254.17" cy="1121.76" r="7.6" fill="#e2e2e2" stroke="#000" stroke-width="2.2"/>
<circle cx="291.19" cy="1137.44" r="7.6" fill="#e2e2e2" stroke="#000" stroke-width="2.2"/>
<circle cx="328.55" cy="1145.78" r="7.6" fill="#e2e2e2" stroke="#000" stroke-width="2.2"/>
<circle cx="366.24" cy="1166.13" r="7.6" fill="#e2e2e2" stroke="#000" stroke-width="2.2"/>
<circle cx="403.6" cy="1189.14" r="7.6" fill="#e2e2e2" stroke="#000" stroke-width="2.2"/>
<circle cx="440.29" cy="1201.82" r="7.6" fill="#e2e2e2" stroke="#000" stroke-width="2.2"/>
<line x1="105" y1="1209.6" x2="440.3" y2="1209.6" stroke="#2e3f95" stroke-width="5.7"/>
<line x1="105" y1="1217.8" x2="440.3" y2="1217.8" stroke="#86b93a" stroke-width="6"/>
<line x1="105" y1="1241" x2="440.3" y2="1241" stroke="#c8282a" stroke-width="5.6"/>
<path d="M90.2 1055 L90.2 1255.9 L454.3 1255.9 L454.3 1055" fill="none" stroke="#262626" stroke-width="1"/>
<line x1="125.44" y1="1255.9" x2="125.44" y2="1250.9" stroke="#262626" stroke-width="1"/>
<line x1="201.3" y1="1255.9" x2="201.3" y2="1250.9" stroke="#262626" stroke-width="1"/>
<line x1="364.44" y1="1255.9" x2="364.44" y2="1250.9" stroke="#262626" stroke-width="1"/>
<line x1="440.3" y1="1255.9" x2="440.3" y2="1250.9" stroke="#262626" stroke-width="1"/>
<line x1="98.37" y1="1255.9" x2="98.37" y2="1252.9" stroke="#262626" stroke-width="1"/>
<line x1="261.51" y1="1255.9" x2="261.51" y2="1252.9" stroke="#262626" stroke-width="1"/>
<line x1="304.23" y1="1255.9" x2="304.23" y2="1252.9" stroke="#262626" stroke-width="1"/>
<line x1="337.37" y1="1255.9" x2="337.37" y2="1252.9" stroke="#262626" stroke-width="1"/>
<line x1="387.33" y1="1255.9" x2="387.33" y2="1252.9" stroke="#262626" stroke-width="1"/>
<line x1="407.16" y1="1255.9" x2="407.16" y2="1252.9" stroke="#262626" stroke-width="1"/>
<line x1="424.65" y1="1255.9" x2="424.65" y2="1252.9" stroke="#262626" stroke-width="1"/>
<line x1="90.2" y1="1243.6" x2="95.2" y2="1243.6" stroke="#262626" stroke-width="1"/>
<line x1="454.3" y1="1243.6" x2="449.3" y2="1243.6" stroke="#262626" stroke-width="1"/>
<line x1="90.2" y1="1166.8" x2="95.2" y2="1166.8" stroke="#262626" stroke-width="1"/>
<line x1="454.3" y1="1166.8" x2="449.3" y2="1166.8" stroke="#262626" stroke-width="1"/>
<line x1="90.2" y1="1121.87" x2="95.2" y2="1121.87" stroke="#262626" stroke-width="1"/>
<line x1="454.3" y1="1121.87" x2="449.3" y2="1121.87" stroke="#262626" stroke-width="1"/>
<line x1="90.2" y1="1198.68" x2="93.2" y2="1198.68" stroke="#262626" stroke-width="1"/>
<line x1="454.3" y1="1198.68" x2="451.3" y2="1198.68" stroke="#262626" stroke-width="1"/>
<line x1="90.2" y1="1142.08" x2="93.2" y2="1142.08" stroke="#262626" stroke-width="1"/>
<line x1="454.3" y1="1142.08" x2="451.3" y2="1142.08" stroke="#262626" stroke-width="1"/>
<line x1="90.2" y1="1104.79" x2="93.2" y2="1104.79" stroke="#262626" stroke-width="1"/>
<line x1="454.3" y1="1104.79" x2="451.3" y2="1104.79" stroke="#262626" stroke-width="1"/>
<line x1="90.2" y1="1090" x2="93.2" y2="1090" stroke="#262626" stroke-width="1"/>
<line x1="454.3" y1="1090" x2="451.3" y2="1090" stroke="#262626" stroke-width="1"/>
<line x1="90.2" y1="1076.95" x2="93.2" y2="1076.95" stroke="#262626" stroke-width="1"/>
<line x1="454.3" y1="1076.95" x2="451.3" y2="1076.95" stroke="#262626" stroke-width="1"/>
<line x1="90.2" y1="1065.27" x2="93.2" y2="1065.27" stroke="#262626" stroke-width="1"/>
<line x1="454.3" y1="1065.27" x2="451.3" y2="1065.27" stroke="#262626" stroke-width="1"/>
<text x="96.69" y="1294.5" style="font-family:'Liberation Sans', sans-serif;font-size:29.8px;font-weight:normal;font-style:normal" fill="#262626">0.12</text>
<text x="180.8" y="1294.5" style="font-family:'Liberation Sans', sans-serif;font-size:29.8px;font-weight:normal;font-style:normal" fill="#262626">0.2</text>
<text x="343.82" y="1294.5" style="font-family:'Liberation Sans', sans-serif;font-size:29.8px;font-weight:normal;font-style:normal" fill="#262626">0.6</text>
<text x="431.68" y="1294.5" style="font-family:'Liberation Sans', sans-serif;font-size:29.8px;font-weight:normal;font-style:normal" fill="#262626">1</text>
<text x="39.25" y="1253.85" style="font-family:'Liberation Sans', sans-serif;font-size:29.8px;font-weight:normal;font-style:normal" fill="#262626">0.2</text>
<text x="38.5" y="1177.05" style="font-family:'Liberation Sans', sans-serif;font-size:29.8px;font-weight:normal;font-style:normal" fill="#262626">0.4</text>
<text x="39" y="1132.12" style="font-family:'Liberation Sans', sans-serif;font-size:29.8px;font-weight:normal;font-style:normal" fill="#262626">0.6</text>
<text x="262.55" y="1310.2" style="font-family:'Liberation Serif', serif;font-size:32.5px;font-weight:normal;font-style:italic" fill="#262626">α</text>
<text transform="translate(26.7 1155.9) rotate(-90)" x="-59.38" y="0" style="font-family:'Liberation Sans', sans-serif;font-size:32.5px;font-weight:normal;font-style:normal" fill="#262626">NRMSE</text>
<rect x="61" y="1010.7" width="426.6" height="53" stroke="#262626" stroke-width="1" fill="#fff"/>
<circle cx="72.9" cy="1037.4" r="7.6" fill="#e2e2e2" stroke="#000" stroke-width="2.2"/>
<circle cx="140" cy="1037.4" r="10.4" fill="#000" stroke="none" stroke-width="0"/>
<text x="84.7" y="1046.2" style="font-family:'Liberation Serif', serif;font-size:22.3px;font-weight:normal;font-style:italic">ρ<tspan style="font-family:'Liberation Sans', sans-serif;font-size:22.3px;font-weight:normal;font-style:normal">=1</tspan></text>
<text x="158.1" y="1046.2" style="font-family:'Liberation Serif', serif;font-size:22.3px;font-weight:normal;font-style:italic">ρ<tspan style="font-family:'Liberation Sans', sans-serif;font-size:22.3px;font-weight:normal;font-style:normal">=0.6</tspan></text>
<rect x="226" y="1033.3" width="11.2" height="8.5" fill="#2e3f95"/>
<text x="241.75" y="1043.6" style="font-family:'Liberation Sans', sans-serif;font-size:21.5px;font-weight:normal;font-style:normal" fill="#000">ESN</text>
<text x="286.5" y="1033.3" style="font-family:'Liberation Sans', sans-serif;font-size:16px;font-weight:normal;font-style:normal" fill="#000">u</text>
<text x="286.75" y="1055.8" style="font-family:'Liberation Sans', sans-serif;font-size:16px;font-weight:normal;font-style:normal" fill="#000">2</text>
<rect x="311.6" y="1034.6" width="10.8" height="6.3" fill="#c8282a"/>
<text x="327.35" y="1043.6" style="font-family:'Liberation Sans', sans-serif;font-size:21.5px;font-weight:normal;font-style:normal" fill="#000">ESN</text>
<text x="372.35" y="1033.3" style="font-family:'Liberation Sans', sans-serif;font-size:16px;font-weight:normal;font-style:normal" fill="#000">c</text>
<text x="372.35" y="1055.8" style="font-family:'Liberation Sans', sans-serif;font-size:16px;font-weight:normal;font-style:normal" fill="#000">2</text>
<rect x="397.1" y="1035.5" width="10.9" height="4.1" fill="#86b93a"/>
<text x="412.85" y="1043.6" style="font-family:'Liberation Sans', sans-serif;font-size:21.5px;font-weight:normal;font-style:normal" fill="#000">ESN</text>
<text x="458.6" y="1033.3" style="font-family:'Liberation Sans', sans-serif;font-size:16px;font-weight:normal;font-style:normal" fill="#000">wc</text>
<text x="457.85" y="1055.8" style="font-family:'Liberation Sans', sans-serif;font-size:16px;font-weight:normal;font-style:normal" fill="#000">2</text>
<path d="M591.7 38.7 L591.7 222.4 L950.9 222.4" fill="none" stroke="#404040" stroke-width="1"/>
<text x="536.85" y="53.8" style="font-family:'Liberation Sans', sans-serif;font-size:29.8px;font-weight:normal;font-style:normal" fill="#262626">10</text>
<text x="568.3" y="39.3" style="font-family:'Liberation Sans', sans-serif;font-size:23.4px;font-weight:normal;font-style:normal" fill="#262626">0</text>
<text x="528.85" y="223.4" style="font-family:'Liberation Sans', sans-serif;font-size:29.8px;font-weight:normal;font-style:normal" fill="#262626">10</text>
<text x="560.3" y="209" style="font-family:'Liberation Sans', sans-serif;font-size:23.4px;font-weight:normal;font-style:normal" fill="#262626">-2</text>
<text x="594.25" y="270" style="font-family:'Liberation Sans', sans-serif;font-size:29.8px;font-weight:normal;font-style:normal" fill="#262626">10</text>
<text x="625.6" y="255.9" style="font-family:'Liberation Sans', sans-serif;font-size:23.4px;font-weight:normal;font-style:normal" fill="#262626">-2</text>
<text x="928.25" y="270" style="font-family:'Liberation Sans', sans-serif;font-size:29.8px;font-weight:normal;font-style:normal" fill="#262626">10</text>
<text x="959.6" y="255.9" style="font-family:'Liberation Sans', sans-serif;font-size:23.4px;font-weight:normal;font-style:normal" fill="#262626">0</text>
<text x="745" y="289.05" style="font-family:'Liberation Serif', serif;font-size:32.5px;font-weight:normal;font-style:italic" fill="#262626">α<tspan dx="0.5" dy="-17.8" style="font-family:'Liberation Sans', sans-serif;font-size:24.6px;font-weight:normal;font-style:normal">(2)</tspan></text>
<text transform="translate(546.1 154.3) rotate(-90)" x="0" y="-0.25" style="font-family:'Liberation Serif', serif;font-size:32.5px;font-weight:normal;font-style:italic" fill="#262626">α<tspan dx="0.5" dy="-17.8" style="font-family:'Liberation Sans', sans-serif;font-size:24.6px;font-weight:normal;font-style:normal">(1)</tspan></text>
<text x="679.55" y="31" style="font-family:'Liberation Sans', sans-serif;font-size:29.1px;font-weight:bold;font-style:normal" fill="#000">Unconnected</text>
<path d="M591.7 373.2 L591.7 557.5 L950.9 557.5" fill="none" stroke="#404040" stroke-width="1"/>
<text x="536.85" y="388.3" style="font-family:'Liberation Sans', sans-serif;font-size:29.8px;font-weight:normal;font-style:normal" fill="#262626">10</text>
<text x="568.3" y="373.8" style="font-family:'Liberation Sans', sans-serif;font-size:23.4px;font-weight:normal;font-style:normal" fill="#262626">0</text>
<text x="528.85" y="557.9" style="font-family:'Liberation Sans', sans-serif;font-size:29.8px;font-weight:normal;font-style:normal" fill="#262626">10</text>
<text x="560.3" y="543.5" style="font-family:'Liberation Sans', sans-serif;font-size:23.4px;font-weight:normal;font-style:normal" fill="#262626">-2</text>
<text x="594.25" y="604.5" style="font-family:'Liberation Sans', sans-serif;font-size:29.8px;font-weight:normal;font-style:normal" fill="#262626">10</text>
<text x="625.6" y="590.4" style="font-family:'Liberation Sans', sans-serif;font-size:23.4px;font-weight:normal;font-style:normal" fill="#262626">-2</text>
<text x="928.25" y="604.5" style="font-family:'Liberation Sans', sans-serif;font-size:29.8px;font-weight:normal;font-style:normal" fill="#262626">10</text>
<text x="959.6" y="590.4" style="font-family:'Liberation Sans', sans-serif;font-size:23.4px;font-weight:normal;font-style:normal" fill="#262626">0</text>
<text x="745" y="626.05" style="font-family:'Liberation Serif', serif;font-size:32.5px;font-weight:normal;font-style:italic" fill="#262626">α<tspan dx="0.5" dy="-17.3" style="font-family:'Liberation Sans', sans-serif;font-size:24.6px;font-weight:normal;font-style:normal">(2)</tspan></text>
<text transform="translate(546.1 488.8) rotate(-90)" x="0" y="-0.25" style="font-family:'Liberation Serif', serif;font-size:32.5px;font-weight:normal;font-style:italic" fill="#262626">α<tspan dx="0.5" dy="-17.8" style="font-family:'Liberation Sans', sans-serif;font-size:24.6px;font-weight:normal;font-style:normal">(1)</tspan></text>
<text x="646.05" y="367.2" style="font-family:'Liberation Sans', sans-serif;font-size:29.1px;font-weight:bold;font-style:normal" fill="#000">Weakly connected</text>
<path d="M591.7 709.6 L591.7 893.3 L950.9 893.3" fill="none" stroke="#404040" stroke-width="1"/>
<text x="536.85" y="724.7" style="font-family:'Liberation Sans', sans-serif;font-size:29.8px;font-weight:normal;font-style:normal" fill="#262626">10</text>
<text x="568.3" y="710.2" style="font-family:'Liberation Sans', sans-serif;font-size:23.4px;font-weight:normal;font-style:normal" fill="#262626">0</text>
<text x="528.85" y="894.3" style="font-family:'Liberation Sans', sans-serif;font-size:29.8px;font-weight:normal;font-style:normal" fill="#262626">10</text>
<text x="560.3" y="879.9" style="font-family:'Liberation Sans', sans-serif;font-size:23.4px;font-weight:normal;font-style:normal" fill="#262626">-2</text>
<text x="594.25" y="940.9" style="font-family:'Liberation Sans', sans-serif;font-size:29.8px;font-weight:normal;font-style:normal" fill="#262626">10</text>
<text x="625.6" y="926.8" style="font-family:'Liberation Sans', sans-serif;font-size:23.4px;font-weight:normal;font-style:normal" fill="#262626">-2</text>
<text x="928.25" y="940.9" style="font-family:'Liberation Sans', sans-serif;font-size:29.8px;font-weight:normal;font-style:normal" fill="#262626">10</text>
<text x="959.6" y="926.8" style="font-family:'Liberation Sans', sans-serif;font-size:23.4px;font-weight:normal;font-style:normal" fill="#262626">0</text>
<text x="748.8" y="957.55" style="font-family:'Liberation Serif', serif;font-size:32.5px;font-weight:normal;font-style:italic" fill="#262626">α<tspan dx="0.5" dy="-14.8" style="font-family:'Liberation Sans', sans-serif;font-size:24.6px;font-weight:normal;font-style:normal">(2)</tspan></text>
<text transform="translate(546.1 825.2) rotate(-90)" x="0" y="-0.25" style="font-family:'Liberation Serif', serif;font-size:32.5px;font-weight:normal;font-style:italic" fill="#262626">α<tspan dx="0.5" dy="-17.8" style="font-family:'Liberation Sans', sans-serif;font-size:24.6px;font-weight:normal;font-style:normal">(1)</tspan></text>
<text x="696.67" y="701.2" style="font-family:'Liberation Sans', sans-serif;font-size:29.1px;font-weight:bold;font-style:normal" fill="#000">Connected</text>
<path d="M591.7 1044.6 L591.7 1228.3 L950.9 1228.3" fill="none" stroke="#404040" stroke-width="1"/>
<text x="536.85" y="1059.7" style="font-family:'Liberation Sans', sans-serif;font-size:29.8px;font-weight:normal;font-style:normal" fill="#262626">10</text>
<text x="568.3" y="1045.2" style="font-family:'Liberation Sans', sans-serif;font-size:23.4px;font-weight:normal;font-style:normal" fill="#262626">0</text>
<text x="528.85" y="1229.3" style="font-family:'Liberation Sans', sans-serif;font-size:29.8px;font-weight:normal;font-style:normal" fill="#262626">10</text>
<text x="560.3" y="1214.9" style="font-family:'Liberation Sans', sans-serif;font-size:23.4px;font-weight:normal;font-style:normal" fill="#262626">-2</text>
<text x="594.25" y="1275.9" style="font-family:'Liberation Sans', sans-serif;font-size:29.8px;font-weight:normal;font-style:normal" fill="#262626">10</text>
<text x="625.6" y="1261.8" style="font-family:'Liberation Sans', sans-serif;font-size:23.4px;font-weight:normal;font-style:normal" fill="#262626">-2</text>
<text x="928.25" y="1275.9" style="font-family:'Liberation Sans', sans-serif;font-size:29.8px;font-weight:normal;font-style:normal" fill="#262626">10</text>
<text x="959.6" y="1261.8" style="font-family:'Liberation Sans', sans-serif;font-size:23.4px;font-weight:normal;font-style:normal" fill="#262626">0</text>
<text x="745" y="1301.75" style="font-family:'Liberation Serif', serif;font-size:32.5px;font-weight:normal;font-style:italic" fill="#262626">α<tspan dx="0.5" dy="-17.2" style="font-family:'Liberation Sans', sans-serif;font-size:24.6px;font-weight:normal;font-style:normal">(2)</tspan></text>
<text transform="translate(546.1 1160.2) rotate(-90)" x="0" y="-0.25" style="font-family:'Liberation Serif', serif;font-size:32.5px;font-weight:normal;font-style:italic" fill="#262626">α<tspan dx="0.5" dy="-17.8" style="font-family:'Liberation Sans', sans-serif;font-size:24.6px;font-weight:normal;font-style:normal">(1)</tspan></text>
<text x="696.67" y="1036.2" style="font-family:'Liberation Sans', sans-serif;font-size:29.1px;font-weight:bold;font-style:normal" fill="#000">Connected</text>
<path d="M1088.2 38.3 L1088.2 221.4 L1349.5 221.4" fill="none" stroke="#404040" stroke-width="1"/>
<text x="1059.5" y="49.75" style="font-family:'Liberation Sans', sans-serif;font-size:29.8px;font-weight:normal;font-style:normal" fill="#262626">1</text>
<text x="1036.25" y="214.05" style="font-family:'Liberation Sans', sans-serif;font-size:29.8px;font-weight:normal;font-style:normal" fill="#262626">0.2</text>
<text x="1096" y="262" style="font-family:'Liberation Sans', sans-serif;font-size:29.8px;font-weight:normal;font-style:normal" fill="#262626">0.2</text>
<text x="1270.67" y="262" style="font-family:'Liberation Sans', sans-serif;font-size:29.8px;font-weight:normal;font-style:normal" fill="#262626">0.8</text>
<text x="1191.3" y="298.05" style="font-family:'Liberation Serif', serif;font-size:32.5px;font-weight:normal;font-style:italic" fill="#262626">α<tspan dx="0.5" dy="-17.3" style="font-family:'Liberation Sans', sans-serif;font-size:24.6px;font-weight:normal;font-style:normal">(2)</tspan></text>
<text transform="translate(1049.3 163) rotate(-90)" x="0" y="-0.25" style="font-family:'Liberation Serif', serif;font-size:32.5px;font-weight:normal;font-style:italic" fill="#262626">α<tspan dx="0.5" dy="-17.8" style="font-family:'Liberation Sans', sans-serif;font-size:24.6px;font-weight:normal;font-style:normal">(1)</tspan></text>
<text x="1320.1" y="26.6" style="font-family:'Liberation Sans', sans-serif;font-size:24.3px;font-weight:normal;font-style:normal" fill="#1a1a1a">NRMSE</text>
<path d="M1088.2 373.3 L1088.2 557.4 L1349.5 557.4" fill="none" stroke="#404040" stroke-width="1"/>
<text x="1059.5" y="384.75" style="font-family:'Liberation Sans', sans-serif;font-size:29.8px;font-weight:normal;font-style:normal" fill="#262626">1</text>
<text x="1036.25" y="549.05" style="font-family:'Liberation Sans', sans-serif;font-size:29.8px;font-weight:normal;font-style:normal" fill="#262626">0.2</text>
<text x="1096" y="597" style="font-family:'Liberation Sans', sans-serif;font-size:29.8px;font-weight:normal;font-style:normal" fill="#262626">0.2</text>
<text x="1270.67" y="597" style="font-family:'Liberation Sans', sans-serif;font-size:29.8px;font-weight:normal;font-style:normal" fill="#262626">0.8</text>
<text x="1193" y="633.55" style="font-family:'Liberation Serif', serif;font-size:32.5px;font-weight:normal;font-style:italic" fill="#262626">α<tspan dx="0.5" dy="-16.8" style="font-family:'Liberation Sans', sans-serif;font-size:24.6px;font-weight:normal;font-style:normal">(2)</tspan></text>
<text transform="translate(1049.3 498) rotate(-90)" x="0" y="-0.25" style="font-family:'Liberation Serif', serif;font-size:32.5px;font-weight:normal;font-style:italic" fill="#262626">α<tspan dx="0.5" dy="-17.8" style="font-family:'Liberation Sans', sans-serif;font-size:24.6px;font-weight:normal;font-style:normal">(1)</tspan></text>
<text x="1320.1" y="361.6" style="font-family:'Liberation Sans', sans-serif;font-size:24.3px;font-weight:normal;font-style:normal" fill="#1a1a1a">NRMSE</text>
<path d="M1088.2 709.3 L1088.2 893 L1349.5 893" fill="none" stroke="#404040" stroke-width="1"/>
<text x="1059.5" y="720.75" style="font-family:'Liberation Sans', sans-serif;font-size:29.8px;font-weight:normal;font-style:normal" fill="#262626">1</text>
<text x="1036.25" y="885.05" style="font-family:'Liberation Sans', sans-serif;font-size:29.8px;font-weight:normal;font-style:normal" fill="#262626">0.2</text>
<text x="1096" y="933" style="font-family:'Liberation Sans', sans-serif;font-size:29.8px;font-weight:normal;font-style:normal" fill="#262626">0.2</text>
<text x="1270.67" y="933" style="font-family:'Liberation Sans', sans-serif;font-size:29.8px;font-weight:normal;font-style:normal" fill="#262626">0.8</text>
<text x="1189.8" y="964.55" style="font-family:'Liberation Serif', serif;font-size:32.5px;font-weight:normal;font-style:italic" fill="#262626">α<tspan dx="0.5" dy="-17.5" style="font-family:'Liberation Sans', sans-serif;font-size:24.6px;font-weight:normal;font-style:normal">(2)</tspan></text>
<text transform="translate(1049.3 834) rotate(-90)" x="0" y="-0.25" style="font-family:'Liberation Serif', serif;font-size:32.5px;font-weight:normal;font-style:italic" fill="#262626">α<tspan dx="0.5" dy="-17.8" style="font-family:'Liberation Sans', sans-serif;font-size:24.6px;font-weight:normal;font-style:normal">(1)</tspan></text>
<text x="1318.7" y="694.7" style="font-family:'Liberation Sans', sans-serif;font-size:24.3px;font-weight:normal;font-style:normal" fill="#1a1a1a">NRMSE</text>
<path d="M1088.2 1044.9 L1088.2 1228 L1349.5 1228" fill="none" stroke="#404040" stroke-width="1"/>
<text x="1059.5" y="1056.35" style="font-family:'Liberation Sans', sans-serif;font-size:29.8px;font-weight:normal;font-style:normal" fill="#262626">1</text>
<text x="1036.25" y="1220.65" style="font-family:'Liberation Sans', sans-serif;font-size:29.8px;font-weight:normal;font-style:normal" fill="#262626">0.2</text>
<text x="1096" y="1268.6" style="font-family:'Liberation Sans', sans-serif;font-size:29.8px;font-weight:normal;font-style:normal" fill="#262626">0.2</text>
<text x="1270.67" y="1268.6" style="font-family:'Liberation Sans', sans-serif;font-size:29.8px;font-weight:normal;font-style:normal" fill="#262626">0.8</text>
<text x="1192.8" y="1300.25" style="font-family:'Liberation Serif', serif;font-size:32.5px;font-weight:normal;font-style:italic" fill="#262626">α<tspan dx="0.5" dy="-17.5" style="font-family:'Liberation Sans', sans-serif;font-size:24.6px;font-weight:normal;font-style:normal">(2)</tspan></text>
<text transform="translate(1049.3 1169.6) rotate(-90)" x="0" y="-0.25" style="font-family:'Liberation Serif', serif;font-size:32.5px;font-weight:normal;font-style:italic" fill="#262626">α<tspan dx="0.5" dy="-17.8" style="font-family:'Liberation Sans', sans-serif;font-size:24.6px;font-weight:normal;font-style:normal">(1)</tspan></text>
<text x="1320.1" y="1018.9" style="font-family:'Liberation Sans', sans-serif;font-size:24.3px;font-weight:normal;font-style:normal" fill="#1a1a1a">NRMSE</text>
<path d="M591.39 39.13 L592.42 39.36 L594.47 39.84 L597.55 40.55 L601.66 41.5 L606.16 42.26 L611.07 42.83 L616.37 43.21 L622.08 43.41 L630.44 43.74 L641.47 44.21 L655.16 44.83 L671.52 45.59 L686.35 46.18 L699.66 46.6 L711.45 46.85 L721.71 46.92 L731.78 47.06 L741.65 47.25 L751.32 47.49 L760.79 47.8 L775.82 48.1 L796.42 48.41 L822.58 48.71 L854.31 49.01 L879.06 49.36 L896.82 49.74 L907.61 50.16 L911.41 50.61 L914.74 51.24 L917.59 52.04 L919.97 53.01 L921.87 54.15 L923.53 55.57 L924.96 57.29 L926.15 59.28 L927.1 61.56 L927.86 64.89 L928.43 69.26 L928.81 74.68 L929 81.15 L929.19 87.9 L929.38 94.93 L929.57 102.25 L929.76 109.86 L930.04 117.47 L930.42 125.07 L930.9 132.68 L931.47 140.28 L932.18 147.89 L933.04 155.49 L934.04 163.1 L935.18 170.71 L936.22 178.31 L937.17 185.92 L938.03 193.52 L938.79 201.13 L939.84 207.4 L941.17 212.35 L942.78 215.96 L944.69 218.24 L946.11 219.95 L947.06 221.09 L947.54 221.66" fill="none" stroke="#1a1a1a" stroke-width="0.9" stroke-linejoin="round"/>
<path d="M591.39 53.58 L594.79 53.64 L601.6 53.78 L611.81 53.98 L625.42 54.24 L639.44 54.52 L653.85 54.8 L668.66 55.1 L683.87 55.4 L699.55 55.68 L715.69 55.93 L732.3 56.14 L749.38 56.33 L769.17 56.62 L791.67 57 L816.88 57.48 L844.8 58.05 L866.7 58.62 L882.56 59.19 L892.4 59.76 L896.2 60.33 L899.43 60.99 L902.09 61.75 L904.18 62.61 L905.71 63.56 L907.04 64.75 L908.18 66.17 L909.13 67.84 L909.89 69.74 L910.6 72.78 L911.27 76.97 L911.89 82.29 L912.46 88.75 L913.03 96.93 L913.6 106.82 L914.17 118.42 L914.74 131.73 L915.26 143.61 L915.74 154.07 L916.16 163.1 L916.54 170.71 L916.97 178.88 L917.45 187.63 L917.97 196.95 L918.54 206.83 L918.97 214.25 L919.25 219.19 L919.4 221.66" fill="none" stroke="#1a1a1a" stroke-width="0.9" stroke-linejoin="round"/>
<path d="M591.39 67.27 L593.84 67.36 L598.75 67.55 L606.11 67.84 L615.92 68.22 L626.13 68.57 L636.74 68.89 L647.75 69.19 L659.16 69.45 L670.56 69.68 L681.97 69.87 L693.38 70.03 L704.79 70.14 L716.66 70.25 L729 70.37 L741.81 70.48 L755.08 70.6 L770.12 70.84 L786.91 71.22 L805.47 71.74 L825.79 72.38 L841.98 73.11 L854.04 73.9 L861.97 74.78 L865.78 75.73 L869.2 76.82 L872.24 78.06 L874.9 79.44 L877.18 80.96 L879.09 82.57 L880.61 84.29 L881.75 86.09 L882.51 87.99 L883.17 91.32 L883.74 96.07 L884.22 102.25 L884.6 109.86 L884.98 117.47 L885.36 125.07 L885.74 132.68 L886.12 140.28 L886.6 147.89 L887.17 155.49 L887.83 163.1 L888.59 170.71 L889.31 178.88 L889.97 187.63 L890.59 196.95 L891.16 206.83 L891.59 214.25 L891.87 219.19 L892.02 221.66" fill="none" stroke="#1a1a1a" stroke-width="0.9" stroke-linejoin="round"/>
<path d="M591.39 86.28 L592.89 86.38 L595.9 86.57 L600.4 86.85 L606.41 87.23 L612.34 87.61 L618.2 87.99 L623.98 88.37 L629.68 88.75 L635.86 88.99 L642.52 89.09 L649.65 89.04 L657.25 88.85 L664.38 88.8 L671.04 88.9 L677.22 89.13 L682.92 89.51 L692.42 89.8 L705.71 89.99 L722.8 90.09 L743.67 90.09 L760.61 90.13 L773.6 90.23 L782.65 90.37 L787.76 90.56 L793.49 90.89 L799.85 91.37 L806.83 91.99 L814.44 92.75 L820.9 93.6 L826.23 94.55 L830.41 95.6 L833.45 96.74 L836.11 98.07 L838.4 99.59 L840.3 101.3 L841.82 103.21 L843.15 105.2 L844.29 107.29 L845.24 109.48 L846 111.76 L846.62 114.8 L847.09 118.61 L847.43 123.17 L847.62 128.49 L847.85 134.39 L848.14 140.85 L848.47 147.89 L848.85 155.49 L849.28 162.15 L849.76 167.85 L850.28 172.61 L850.85 176.41 L851.32 180.21 L851.71 184.02 L851.99 187.82 L852.18 191.62 L852.56 195.42 L853.13 199.23 L853.89 203.03 L854.84 206.83 L855.6 210.26 L856.17 213.3 L856.55 215.96 L856.74 218.24 L856.89 219.95 L856.98 221.09 L857.03 221.66" fill="none" stroke="#1a1a1a" stroke-width="0.9" stroke-linejoin="round"/>
<path d="M591.39 98.45 L594.79 98.5 L601.6 98.59 L611.81 98.74 L625.42 98.93 L639.44 99.14 L653.85 99.36 L668.66 99.61 L683.87 99.88 L699.55 100.04 L715.69 100.1 L732.3 100.05 L749.38 99.9 L763.46 99.8 L774.55 99.76 L782.65 99.78 L787.76 99.86 L792.54 100.01 L797 100.24 L801.13 100.54 L804.93 100.92 L808.54 101.49 L811.97 102.25 L815.2 103.21 L818.24 104.35 L820.85 105.58 L823.04 106.91 L824.8 108.34 L826.13 109.86 L827.22 111.57 L828.08 113.47 L828.7 115.56 L829.08 117.85 L829.41 121.46 L829.7 126.4 L829.93 132.68 L830.12 140.28 L830.36 147.89 L830.65 155.49 L830.98 163.1 L831.36 170.71 L831.74 178.88 L832.12 187.63 L832.5 196.95 L832.88 206.83 L833.17 214.25 L833.36 219.19 L833.45 221.66" fill="none" stroke="#1a1a1a" stroke-width="0.9" stroke-linejoin="round"/>
<path d="M591.39 104.54 L594.79 104.61 L601.6 104.76 L611.81 104.99 L625.42 105.3 L639.44 105.56 L653.85 105.79 L668.66 105.98 L683.87 106.13 L699.55 106.23 L715.69 106.27 L732.3 106.25 L749.38 106.17 L763.46 106.21 L774.55 106.36 L782.65 106.63 L787.76 107.01 L792.35 107.44 L796.43 107.91 L799.99 108.43 L803.03 109 L805.69 109.67 L807.97 110.43 L809.87 111.29 L811.39 112.24 L812.73 113.24 L813.87 114.28 L814.82 115.37 L815.58 116.52 L816.2 118.51 L816.67 121.36 L817 125.07 L817.19 129.63 L817.38 134.96 L817.57 141.04 L817.76 147.89 L817.95 155.49 L818.19 163.1 L818.48 170.71 L818.81 178.31 L819.19 185.92 L819.52 193.14 L819.81 199.99 L820.05 206.45 L820.24 212.54 L820.38 217.1 L820.47 220.14 L820.52 221.66" fill="none" stroke="#1a1a1a" stroke-width="0.9" stroke-linejoin="round"/>
<path d="M591.39 111.69 L594.79 111.71 L601.6 111.77 L611.81 111.86 L625.42 111.97 L639.44 112.1 L653.85 112.26 L668.66 112.43 L683.87 112.62 L699.55 112.76 L715.69 112.85 L732.3 112.9 L749.38 112.9 L762.99 112.93 L773.13 112.99 L779.8 113.07 L783.01 113.19 L785.89 113.34 L788.44 113.53 L790.67 113.76 L792.57 114.02 L794.38 114.41 L796.09 114.93 L797.7 115.56 L799.23 116.32 L800.51 117.13 L801.55 117.99 L802.36 118.89 L802.93 119.84 L803.41 121.51 L803.79 123.88 L804.07 126.97 L804.26 130.78 L804.45 135.53 L804.64 141.23 L804.83 147.89 L805.03 155.49 L805.26 163.1 L805.55 170.71 L805.88 178.31 L806.26 185.92 L806.59 193.14 L806.88 199.99 L807.12 206.45 L807.31 212.54 L807.45 217.1 L807.54 220.14 L807.59 221.66" fill="none" stroke="#1a1a1a" stroke-width="0.9" stroke-linejoin="round"/>
<path d="M591.39 192 L592.7 192.1 L595.32 192.29 L599.26 192.57 L604.51 192.95 L609.4 193.19 L613.92 193.29 L618.08 193.24 L621.89 193.05 L625.41 193.14 L628.64 193.52 L631.59 194.19 L634.25 195.14 L636.72 196.18 L639 197.33 L641.09 198.56 L642.99 199.89 L644.61 201.37 L645.94 202.98 L646.99 204.74 L647.75 206.64 L648.27 208.35 L648.56 209.88 L648.6 211.21 L648.41 212.35 L648.46 213.73 L648.75 215.34 L649.27 217.2 L650.03 219.29 L650.6 220.86 L650.98 221.9 L651.17 222.42" fill="none" stroke="#1a1a1a" stroke-width="0.9" stroke-linejoin="round"/>
<path d="M613.9 373.37 L614.57 373.53 L615.9 373.85 L617.89 374.34 L620.56 374.98 L624.83 375.45 L630.73 375.73 L638.24 375.84 L647.37 375.76 L655.45 375.99 L662.48 376.52 L668.47 377.36 L673.42 378.5 L679.69 379.4 L687.3 380.07 L696.23 380.5 L706.5 380.69 L715.91 380.9 L724.47 381.12 L732.17 381.37 L739.02 381.64 L745.76 381.82 L752.39 381.91 L758.92 381.92 L765.35 381.85 L772.4 381.88 L780.07 382.04 L788.36 382.3 L797.27 382.68 L806.8 383.02 L816.96 383.3 L827.75 383.54 L839.16 383.73 L850.56 383.9 L861.97 384.05 L873.38 384.19 L884.79 384.3 L894.3 384.55 L901.9 384.93 L907.61 385.44 L911.41 386.09 L914.74 386.9 L917.59 387.89 L919.97 389.05 L921.87 390.38 L923.58 391.95 L925.1 393.76 L926.43 395.8 L927.57 398.08 L928.62 400.37 L929.57 402.65 L930.42 404.93 L931.18 407.21 L931.95 409.4 L932.71 411.49 L933.47 413.49 L934.23 415.39 L934.99 417.76 L935.75 420.62 L936.51 423.94 L937.27 427.75 L938.03 431.07 L938.79 433.93 L939.55 436.3 L940.31 438.21 L941.36 440.06 L942.69 441.87 L944.3 443.62 L946.21 445.34 L947.63 446.62 L948.58 447.47 L949.06 447.9" fill="none" stroke="#1a1a1a" stroke-width="0.9" stroke-linejoin="round"/>
<path d="M591.39 387.06 L593.84 387.12 L598.75 387.26 L606.11 387.46 L615.92 387.72 L626.13 387.98 L636.74 388.23 L647.75 388.46 L659.16 388.69 L671.52 388.96 L684.83 389.26 L699.09 389.6 L714.3 389.98 L728.07 390.19 L740.41 390.23 L751.32 390.1 L760.79 389.79 L770.12 389.66 L779.31 389.7 L788.36 389.91 L797.27 390.29 L806.8 390.67 L816.96 391.05 L827.75 391.43 L839.16 391.81 L850.09 392.19 L860.55 392.57 L870.53 392.95 L880.04 393.33 L887.83 393.81 L893.92 394.38 L898.29 395.04 L900.95 395.8 L903.42 396.75 L905.71 397.89 L907.8 399.23 L909.7 400.75 L911.41 402.55 L912.93 404.64 L914.26 407.02 L915.4 409.68 L916.45 412.44 L917.4 415.29 L918.26 418.24 L919.02 421.28 L919.73 424.51 L920.39 427.94 L921.01 431.55 L921.58 435.35 L922.25 438.78 L923.01 441.82 L923.86 444.48 L924.82 446.76 L925.75 448.73 L926.67 450.38 L927.58 451.71 L928.47 452.73 L929.44 454.09 L930.48 455.79 L931.59 457.82 L932.78 460.2 L933.79 462.46 L934.62 464.6 L935.28 466.62 L935.75 468.52 L936.29 470.24 L936.88 471.78 L937.53 473.15 L938.25 474.34 L939.46 475.74 L941.19 477.34 L943.41 479.15 L946.15 481.17 L948.2 482.69 L949.56 483.7 L950.25 484.2" fill="none" stroke="#1a1a1a" stroke-width="0.9" stroke-linejoin="round"/>
<path d="M591.39 402.27 L592.89 402.36 L595.9 402.55 L600.4 402.84 L606.41 403.22 L612.82 403.41 L619.63 403.41 L626.83 403.22 L634.44 402.84 L642.04 402.71 L649.65 402.85 L657.25 403.24 L664.86 403.88 L674.37 404.37 L685.78 404.69 L699.09 404.85 L714.3 404.85 L728.07 404.83 L740.41 404.8 L751.32 404.74 L760.79 404.66 L770.12 404.7 L779.31 404.85 L788.36 405.12 L797.27 405.5 L805.85 405.93 L814.11 406.4 L822.04 406.93 L829.65 407.5 L836.78 408.16 L843.43 408.92 L849.61 409.78 L855.32 410.73 L860.55 411.73 L865.3 412.77 L869.58 413.87 L873.38 415.01 L876.71 416.24 L879.56 417.57 L881.94 419 L883.84 420.52 L885.74 422.33 L887.64 424.42 L889.54 426.8 L891.45 429.46 L893.16 432.12 L894.68 434.78 L896.01 437.44 L897.15 440.11 L898.75 442.62 L900.81 444.98 L903.34 447.2 L906.32 449.26 L908.86 451.52 L910.94 453.98 L912.58 456.63 L913.77 459.49 L914.96 462.52 L916.15 465.72 L917.33 469.11 L918.52 472.68 L919.71 475.94 L920.9 478.91 L922.09 481.59 L923.27 483.96 L924.64 486.34 L926.19 488.72 L927.91 491.09 L929.81 493.47 L931.65 495.55 L933.43 497.33 L935.16 498.82 L936.82 500 L938.75 501.13 L940.95 502.2 L943.41 503.21 L946.15 504.16 L948.2 504.88 L949.56 505.35 L950.25 505.59" fill="none" stroke="#1a1a1a" stroke-width="0.9" stroke-linejoin="round"/>
<path d="M591.39 422.04 L592.89 422.07 L595.9 422.13 L600.4 422.21 L606.41 422.33 L613.77 422.43 L622.48 422.53 L632.54 422.61 L643.94 422.69 L654.4 422.84 L663.91 423.07 L672.47 423.37 L680.07 423.75 L688.63 424.09 L698.14 424.37 L708.59 424.61 L720 424.8 L730.93 424.96 L741.36 425.09 L751.32 425.2 L760.79 425.28 L768.69 425.31 L775.03 425.31 L779.8 425.28 L783.01 425.2 L786.84 425.28 L791.29 425.53 L796.37 425.94 L802.08 426.51 L807.31 427.13 L812.06 427.79 L816.34 428.51 L820.14 429.27 L823.75 430.22 L827.18 431.36 L830.41 432.69 L833.45 434.21 L836.4 435.83 L839.25 437.54 L842.01 439.35 L844.67 441.25 L847.33 443.24 L849.99 445.34 L852.66 447.52 L855.32 449.8 L857.88 451.99 L860.36 454.08 L862.73 456.08 L865.02 457.98 L867.59 460.06 L870.46 462.33 L873.63 464.78 L877.09 467.42 L880.1 469.93 L882.66 472.31 L884.78 474.58 L886.44 476.72 L887.93 479.03 L889.23 481.53 L890.36 484.2 L891.31 487.05 L892.38 489.79 L893.57 492.4 L894.88 494.9 L896.3 497.27 L898.14 499.71 L900.4 502.2 L903.08 504.76 L906.16 507.37 L909.37 509.93 L912.7 512.42 L916.15 514.86 L919.71 517.23 L922.86 519.28 L925.59 521.01 L927.91 522.4 L929.81 523.47 L932.33 524.24 L935.48 524.72 L939.26 524.9 L943.65 524.78 L946.95 524.69 L949.15 524.63 L950.25 524.6" fill="none" stroke="#1a1a1a" stroke-width="0.9" stroke-linejoin="round"/>
<path d="M591.39 432.69 L593.84 432.76 L598.75 432.89 L606.11 433.09 L615.92 433.36 L627.08 433.58 L639.59 433.77 L653.45 433.93 L668.66 434.04 L685.29 434.15 L703.34 434.24 L722.8 434.33 L743.67 434.4 L760.42 434.51 L773.03 434.64 L781.51 434.8 L785.86 434.99 L790.26 435.26 L794.72 435.6 L799.23 436.02 L803.79 436.51 L807.97 437.12 L811.78 437.84 L815.2 438.68 L818.24 439.63 L821.09 440.63 L823.75 441.68 L826.23 442.77 L828.51 443.91 L830.79 445.15 L833.07 446.48 L835.35 447.9 L837.63 449.42 L839.63 450.94 L841.34 452.47 L842.77 453.99 L843.91 455.51 L845.05 457.12 L846.19 458.84 L847.33 460.64 L848.47 462.54 L849.55 464.76 L850.57 467.29 L851.53 470.13 L852.42 473.29 L853.69 476.61 L855.32 480.09 L857.33 483.73 L859.71 487.53 L862.08 491.21 L864.46 494.78 L866.83 498.22 L869.21 501.55 L871.59 504.64 L873.96 507.49 L876.34 510.1 L878.72 512.48 L881.39 515.04 L884.36 517.77 L887.63 520.68 L891.19 523.77 L894.76 526.68 L898.32 529.41 L901.89 531.97 L905.45 534.34 L909.02 536.48 L912.58 538.38 L916.15 540.05 L919.71 541.47 L922.98 542.36 L925.95 542.72 L928.62 542.54 L931 541.83 L933.76 541.09 L936.91 540.31 L940.44 539.51 L944.37 538.68 L947.31 538.06 L949.27 537.64 L950.25 537.43" fill="none" stroke="#1a1a1a" stroke-width="0.9" stroke-linejoin="round"/>
<path d="M591.39 438.78 L592.42 438.87 L594.47 439.06 L597.55 439.35 L601.66 439.73 L607.11 440.01 L613.92 440.2 L622.08 440.3 L631.59 440.3 L642.52 440.34 L654.88 440.44 L668.66 440.58 L683.87 440.77 L699.55 440.91 L715.69 441.01 L732.3 441.06 L749.38 441.06 L762.99 441.1 L773.13 441.2 L779.8 441.34 L783.01 441.53 L786.36 441.82 L789.87 442.2 L793.52 442.67 L797.32 443.24 L800.94 443.96 L804.36 444.81 L807.59 445.81 L810.63 446.95 L813.39 448.19 L815.86 449.52 L818.05 450.94 L819.95 452.47 L821.66 453.89 L823.18 455.22 L824.51 456.46 L825.66 457.6 L826.8 458.84 L827.94 460.17 L829.08 461.59 L830.22 463.11 L831.43 464.87 L832.71 466.85 L834.06 469.06 L835.48 471.51 L837.25 474.23 L839.39 477.23 L841.88 480.52 L844.73 484.08 L847.35 487.53 L849.72 490.86 L851.86 494.06 L853.76 497.15 L855.31 499.89 L856.5 502.26 L857.33 504.28 L857.8 505.95 L858.64 507.85 L859.82 509.99 L861.37 512.36 L863.27 514.98 L865.41 517.65 L867.79 520.38 L870.4 523.17 L873.25 526.03 L876.28 528.82 L879.49 531.55 L882.88 534.23 L886.44 536.84 L890 539.22 L893.57 541.35 L897.13 543.26 L900.7 544.92 L904.56 546.46 L908.72 547.89 L913.17 549.2 L917.93 550.38 L922.09 551.31 L925.65 551.96 L928.62 552.35 L931 552.46 L933.76 552.46 L936.91 552.35 L940.44 552.11 L944.37 551.75 L947.31 551.48 L949.27 551.31 L950.25 551.22" fill="none" stroke="#1a1a1a" stroke-width="0.9" stroke-linejoin="round"/>
<path d="M591.39 447.45 L592.89 447.47 L595.9 447.53 L600.4 447.62 L606.41 447.73 L612.82 447.86 L619.63 448.02 L626.83 448.19 L634.44 448.38 L643.94 448.57 L655.35 448.76 L668.66 448.95 L683.87 449.14 L699.55 449.25 L715.69 449.29 L732.3 449.25 L749.38 449.14 L762.99 449.05 L773.13 449 L779.8 448.97 L783.01 448.97 L786.17 449.14 L789.3 449.48 L792.38 449.99 L795.42 450.68 L798.18 451.48 L800.65 452.39 L802.84 453.42 L804.74 454.56 L806.45 455.79 L807.97 457.12 L809.3 458.55 L810.44 460.07 L811.68 461.78 L813.01 463.68 L814.44 465.78 L815.96 468.06 L817.57 470.34 L819.29 472.62 L821.09 474.9 L822.99 477.18 L824.9 479.56 L826.8 482.03 L828.7 484.6 L830.6 487.26 L832.11 489.5 L833.22 491.32 L833.94 492.71 L834.26 493.68 L834.69 495 L835.21 496.67 L835.82 498.7 L836.54 501.07 L837.49 503.51 L838.67 506.01 L840.1 508.56 L841.76 511.17 L843.31 513.67 L844.73 516.05 L846.04 518.3 L847.23 520.44 L848.71 522.76 L850.5 525.25 L852.58 527.93 L854.95 530.78 L857.45 533.63 L860.06 536.48 L862.79 539.33 L865.65 542.19 L868.56 544.74 L871.53 547 L874.56 548.96 L877.65 550.62 L881.03 552.17 L884.72 553.59 L888.7 554.9 L892.98 556.09 L896.18 556.98 L898.32 557.57 L899.39 557.87" fill="none" stroke="#1a1a1a" stroke-width="0.9" stroke-linejoin="round"/>
<path d="M591.39 536.13 L592.89 535.97 L595.9 535.64 L600.4 535.16 L606.41 534.51 L612.34 534.24 L618.2 534.33 L623.98 534.8 L629.68 535.63 L634.63 536.55 L638.81 537.54 L642.23 538.6 L644.9 539.74 L647.65 541.17 L650.5 542.88 L653.45 544.88 L656.49 547.16 L660.01 549.3 L664 551.29 L668.47 553.15 L673.42 554.86 L677.12 556.14 L679.6 557 L680.83 557.42" fill="none" stroke="#1a1a1a" stroke-width="0.9" stroke-linejoin="round"/>
<path d="M711.25 709.13 L712.4 709.32 L714.68 709.7 L718.1 710.27 L722.66 711.03 L727.51 711.79 L732.65 712.55 L738.07 713.31 L743.77 714.07 L749.46 714.78 L755.15 715.45 L760.83 716.07 L766.49 716.64 L772.97 717.16 L780.26 717.64 L788.36 718.06 L797.27 718.44 L806.8 718.76 L816.96 719 L827.75 719.19 L839.16 719.3 L850.56 719.33 L861.97 719.27 L873.38 719.13 L884.79 718.9 L895.25 718.61 L904.76 718.27 L913.31 717.87 L920.92 717.42 L927.76 716.9 L933.85 716.33 L939.17 715.71 L943.73 715.02 L947.16 714.51 L949.44 714.17 L950.58 713.99" fill="none" stroke="#1a1a1a" stroke-width="0.9" stroke-linejoin="round"/>
<path d="M591.39 711.41 L592.42 711.5 L594.47 711.69 L597.55 711.98 L601.66 712.36 L605.69 712.79 L609.64 713.26 L613.52 713.79 L617.32 714.36 L621.6 715.02 L626.36 715.78 L631.59 716.64 L637.29 717.59 L643.47 718.44 L650.12 719.2 L657.25 719.87 L664.86 720.44 L673.42 720.96 L682.92 721.44 L693.38 721.87 L704.79 722.25 L716.66 722.67 L729 723.15 L741.81 723.67 L755.08 724.24 L767.26 724.81 L778.36 725.38 L788.36 725.95 L797.27 726.52 L806.8 727 L816.96 727.38 L827.75 727.67 L839.16 727.86 L849.61 728.09 L859.12 728.38 L867.68 728.71 L875.28 729.09 L882.41 729.52 L889.07 730 L895.25 730.52 L900.95 731.09 L906.18 731.8 L910.93 732.66 L915.21 733.66 L919.02 734.8 L922.82 735.79 L926.62 736.65 L930.42 737.36 L934.23 737.93 L937.74 738.36 L940.98 738.65 L943.92 738.79 L946.59 738.79 L948.58 738.79 L949.91 738.79 L950.58 738.79" fill="none" stroke="#1a1a1a" stroke-width="0.9" stroke-linejoin="round"/>
<path d="M591.39 729.21 L593.37 729.17 L597.32 729.09 L603.25 728.98 L611.16 728.83 L618.52 728.87 L625.33 729.12 L631.59 729.57 L637.29 730.21 L643.47 730.79 L650.12 731.31 L657.25 731.75 L664.86 732.13 L672.47 732.56 L680.07 733.04 L687.68 733.56 L695.28 734.13 L702.89 734.51 L710.49 734.7 L718.1 734.7 L725.71 734.51 L732.36 734.42 L738.07 734.42 L742.82 734.51 L746.62 734.7 L750.89 735.03 L755.62 735.51 L760.83 736.13 L766.49 736.89 L772.97 737.57 L780.26 738.18 L788.36 738.71 L797.27 739.17 L806.8 739.73 L816.96 740.4 L827.75 741.17 L839.16 742.04 L849.14 742.93 L857.69 743.85 L864.83 744.78 L870.53 745.73 L876.23 746.92 L881.94 748.34 L887.64 750.01 L893.35 751.91 L899.05 753.91 L904.76 756 L910.46 758.18 L916.16 760.47 L921.39 762.37 L926.15 763.89 L930.42 765.03 L934.23 765.79 L937.74 766.36 L940.98 766.74 L943.92 766.93 L946.59 766.93 L948.58 766.93 L949.91 766.93 L950.58 766.93" fill="none" stroke="#1a1a1a" stroke-width="0.9" stroke-linejoin="round"/>
<path d="M591.39 746.85 L593.37 746.82 L597.32 746.77 L603.25 746.68 L611.16 746.57 L618.52 746.67 L625.33 746.99 L631.59 747.54 L637.29 748.3 L642.52 748.87 L647.27 749.25 L651.55 749.44 L655.35 749.44 L659.63 749.39 L664.38 749.29 L669.61 749.15 L675.32 748.96 L681.02 749.01 L686.73 749.29 L692.43 749.82 L698.14 750.58 L704.31 751.29 L710.97 751.96 L718.1 752.57 L725.71 753.14 L733.78 753.62 L742.31 754 L751.32 754.29 L760.79 754.48 L769.17 754.76 L776.45 755.14 L782.65 755.62 L787.76 756.19 L793.49 757.04 L799.85 758.18 L806.83 759.61 L814.44 761.32 L821.57 762.98 L828.22 764.6 L834.4 766.17 L840.11 767.69 L845.81 769.4 L851.52 771.3 L857.22 773.4 L862.92 775.68 L868.63 778.15 L874.33 780.81 L880.04 783.66 L885.74 786.71 L890.97 789.46 L895.72 791.93 L900 794.12 L903.8 796.02 L907.61 797.59 L911.41 798.83 L915.21 799.73 L919.02 800.3 L923.48 800.59 L928.62 800.59 L934.42 800.3 L940.88 799.73 L945.73 799.3 L948.96 799.02 L950.58 798.87" fill="none" stroke="#1a1a1a" stroke-width="0.9" stroke-linejoin="round"/>
<path d="M591.39 762.06 L592.89 762.03 L595.9 761.98 L600.4 761.89 L606.41 761.78 L613.77 761.76 L622.48 761.83 L632.54 762.01 L643.94 762.27 L654.4 762.55 L663.91 762.83 L672.47 763.13 L680.07 763.43 L687.68 763.71 L695.28 763.95 L702.89 764.17 L710.49 764.36 L718.1 764.51 L725.71 764.6 L733.31 764.65 L740.92 764.65 L748.04 764.79 L754.67 765.08 L760.83 765.5 L766.49 766.07 L772.02 766.65 L777.41 767.22 L782.65 767.79 L787.76 768.36 L793.02 769.12 L798.42 770.07 L803.98 771.21 L809.68 772.54 L814.91 774.01 L819.67 775.63 L823.94 777.39 L827.75 779.29 L831.55 781.29 L835.35 783.38 L839.16 785.56 L842.96 787.85 L846.29 789.94 L849.14 791.84 L851.52 793.55 L853.42 795.07 L855.6 796.78 L858.07 798.68 L860.83 800.78 L863.87 803.06 L866.44 805.53 L868.53 808.19 L870.15 811.04 L871.29 814.09 L872.24 816.84 L873 819.31 L873.57 821.5 L873.95 823.4 L875 825.3 L876.71 827.21 L879.09 829.11 L882.13 831.01 L885.36 832.72 L888.78 834.24 L892.4 835.57 L896.2 836.71 L899.81 837.85 L903.23 838.99 L906.47 840.14 L909.51 841.28 L912.17 842.32 L914.45 843.27 L916.35 844.13 L917.87 844.89 L919.3 845.27 L920.63 845.27 L921.87 844.89 L923.01 844.13 L924.34 843.65 L925.86 843.46 L927.57 843.56 L929.47 843.94 L931.38 844.32 L933.28 844.7 L935.18 845.08 L937.08 845.46 L939.08 845.55 L941.17 845.36 L943.35 844.89 L945.64 844.13 L947.44 843.27 L948.77 842.32 L949.63 841.28 L950.01 840.14 L950.29 839.28 L950.48 838.71 L950.58 838.42" fill="none" stroke="#1a1a1a" stroke-width="0.9" stroke-linejoin="round"/>
<path d="M591.39 769.21 L593.84 769.24 L598.75 769.3 L606.11 769.38 L615.92 769.5 L626.13 769.62 L636.74 769.75 L647.75 769.9 L659.16 770.05 L670.56 770.24 L681.97 770.47 L693.38 770.73 L704.79 771.04 L716.66 771.41 L729 771.85 L741.81 772.35 L755.08 772.92 L766.31 773.49 L775.5 774.06 L782.65 774.63 L787.76 775.2 L793.02 776.01 L798.42 777.06 L803.98 778.34 L809.68 779.86 L814.72 781.48 L819.1 783.19 L822.8 784.99 L825.85 786.9 L828.79 788.61 L831.65 790.13 L834.4 791.46 L837.06 792.6 L839.54 794.03 L841.82 795.74 L843.91 797.73 L845.81 800.02 L847.52 802.39 L849.04 804.86 L850.37 807.43 L851.52 810.09 L852.66 812.75 L853.8 815.42 L854.94 818.08 L856.08 820.74 L857.31 823.5 L858.65 826.35 L860.07 829.3 L861.59 832.34 L863.21 835.1 L864.92 837.57 L866.73 839.76 L868.63 841.66 L871 843.56 L873.86 845.46 L877.18 847.36 L880.99 849.26 L884.31 850.97 L887.17 852.49 L889.54 853.83 L891.45 854.97 L893.35 856.3 L895.25 857.82 L897.15 859.53 L899.05 861.43 L900.95 863.24 L902.85 864.95 L904.76 866.57 L906.66 868.09 L909.03 869.42 L911.89 870.56 L915.21 871.51 L919.02 872.27 L922.82 872.55 L926.62 872.36 L930.42 871.7 L934.23 870.56 L937.74 869.61 L940.98 868.85 L943.92 868.28 L946.59 867.9 L948.58 867.61 L949.91 867.42 L950.58 867.33" fill="none" stroke="#1a1a1a" stroke-width="0.9" stroke-linejoin="round"/>
<path d="M591.39 777.58 L594.79 777.6 L601.6 777.64 L611.81 777.69 L625.42 777.77 L638.49 777.87 L651 778.01 L662.96 778.17 L674.37 778.36 L685.78 778.55 L697.18 778.74 L708.59 778.93 L720 779.12 L730.93 779.48 L741.36 780.01 L751.32 780.72 L760.79 781.59 L769.17 782.39 L776.45 783.11 L782.65 783.76 L787.76 784.33 L792.54 785.14 L797 786.18 L801.13 787.47 L804.93 788.99 L808.73 790.6 L812.54 792.31 L816.34 794.12 L820.14 796.02 L823.18 797.92 L825.47 799.83 L826.99 801.73 L827.75 803.63 L828.6 805.81 L829.55 808.29 L830.6 811.04 L831.74 814.09 L833.36 817.51 L835.45 821.31 L838.01 825.49 L841.06 830.06 L844 834.24 L846.86 838.04 L849.61 841.47 L852.28 844.51 L854.65 847.46 L856.74 850.31 L858.55 853.07 L860.07 855.73 L861.21 858.2 L861.97 860.48 L862.35 862.57 L862.35 864.47 L862.92 866.47 L864.06 868.56 L865.78 870.75 L868.06 873.03 L870.72 875.12 L873.76 877.02 L877.18 878.73 L880.99 880.26 L884.79 881.49 L888.59 882.44 L892.4 883.11 L896.2 883.49 L900 883.68 L903.8 883.68 L907.61 883.49 L911.41 883.11 L915.21 882.73 L919.02 882.35 L922.82 881.97 L926.62 881.59 L930.61 881.82 L934.8 882.68 L939.17 884.15 L943.73 886.25 L947.16 887.81 L949.44 888.86 L950.58 889.38" fill="none" stroke="#1a1a1a" stroke-width="0.9" stroke-linejoin="round"/>
<path d="M591.39 853.64 L592.42 854.02 L594.47 854.78 L597.55 855.92 L601.66 857.44 L606.16 859.05 L611.07 860.77 L616.37 862.57 L622.08 864.47 L627.12 866.47 L631.49 868.56 L635.2 870.75 L638.24 873.03 L641.85 875.31 L646.04 877.59 L650.79 879.88 L656.11 882.16 L660.87 883.96 L665.05 885.29 L668.66 886.15 L671.71 886.53 L675.41 887.05 L679.79 887.72 L684.83 888.53 L690.53 889.48 L695.76 890.1 L700.51 890.38 L704.79 890.33 L708.59 889.95 L712.21 889.62 L715.63 889.33 L718.86 889.1 L721.9 888.91 L724.66 888.43 L727.13 887.67 L729.32 886.63 L731.22 885.29 L733.31 884.34 L735.59 883.77 L738.07 883.58 L740.73 883.77 L744.62 884.3 L749.73 885.15 L756.07 886.34 L763.64 887.86 L769.78 889.21 L774.51 890.39 L777.8 891.4 L779.68 892.23 L781.09 892.86 L782.02 893.28 L782.49 893.49" fill="none" stroke="#1a1a1a" stroke-width="0.9" stroke-linejoin="round"/>
<path d="M810.63 893.49 L811.11 893.09 L812.06 892.29 L813.49 891.09 L815.39 889.5 L817.48 888.11 L819.76 886.93 L822.23 885.96 L824.9 885.2 L827.08 884.06 L828.79 882.54 L830.03 880.64 L830.79 878.35 L831.74 876.5 L832.88 875.07 L834.21 874.08 L835.73 873.51 L837.35 873.32 L839.06 873.51 L840.87 874.08 L842.77 875.03 L844.48 876.12 L846 877.36 L847.33 878.73 L848.47 880.26 L850.8 882.08 L854.32 884.21 L859.03 886.64 L864.92 889.38 L869.34 891.44 L872.29 892.8 L873.76 893.49" fill="none" stroke="#1a1a1a" stroke-width="0.9" stroke-linejoin="round"/>
<path d="M915.59 819.41 L916.16 819.22 L917.3 818.84 L919.02 818.27 L921.3 817.51 L923.67 816.94 L926.15 816.56 L928.71 816.37 L931.38 816.37 L933.75 816.7 L935.84 817.37 L937.65 818.36 L939.17 819.7 L940.03 820.84 L940.22 821.79 L939.74 822.55 L938.6 823.12 L937.08 823.45 L935.18 823.55 L932.9 823.4 L930.23 823.02 L927.57 822.55 L924.91 821.98 L922.25 821.31 L919.59 820.55 L917.59 819.98 L916.26 819.6 L915.59 819.41" fill="none" stroke="#1a1a1a" stroke-width="0.9" stroke-linejoin="round"/>
<path d="M950.58 807.24 L950.29 807.48 L949.72 807.95 L948.87 808.67 L947.73 809.62 L947.16 810.5 L947.16 811.32 L947.73 812.07 L948.87 812.75 L949.72 813.27 L950.29 813.61 L950.58 813.78" fill="none" stroke="#1a1a1a" stroke-width="0.9" stroke-linejoin="round"/>
<path d="M950.58 870.37 L950.1 870.65 L949.15 871.22 L947.73 872.08 L945.83 873.22 L944.88 874.36 L944.88 875.5 L945.83 876.64 L947.73 877.78 L949.15 878.64 L950.1 879.21 L950.58 879.49" fill="none" stroke="#1a1a1a" stroke-width="0.9" stroke-linejoin="round"/>
<path d="M770.58 1044.43 L770.86 1044.55 L771.41 1044.8 L772.23 1045.17 L773.34 1045.67 L774.49 1046.18 L775.69 1046.71 L776.95 1047.26 L778.25 1047.83 L779.9 1048.5 L781.88 1049.26 L784.2 1050.12 L786.87 1051.07 L791.05 1051.92 L796.75 1052.68 L803.98 1053.35 L812.73 1053.92 L822.14 1054.49 L832.22 1055.06 L842.96 1055.63 L854.37 1056.2 L864.83 1056.77 L874.33 1057.34 L882.89 1057.91 L890.49 1058.48 L897.15 1059.05 L902.85 1059.62 L907.61 1060.19 L911.41 1060.76 L915.21 1061.43 L919.02 1062.19 L922.82 1063.05 L926.62 1064 L930.04 1064.66 L933.09 1065.04 L935.75 1065.14 L938.03 1064.95 L940.22 1064.61 L942.31 1064.14 L944.3 1063.52 L946.21 1062.76 L947.63 1062.19 L948.58 1061.81 L949.06 1061.62" fill="none" stroke="#1a1a1a" stroke-width="0.9" stroke-linejoin="round"/>
<path d="M648.13 1044.43 L647.98 1044.7 L647.7 1045.23 L647.27 1046.03 L646.7 1047.09 L646.56 1048.03 L646.84 1048.85 L647.56 1049.55 L648.7 1050.12 L651.17 1050.73 L654.97 1051.4 L660.11 1052.11 L666.57 1052.87 L673.32 1053.54 L680.36 1054.11 L687.68 1054.58 L695.28 1054.97 L702.89 1055.37 L710.49 1055.81 L718.1 1056.28 L725.71 1056.77 L733.78 1057.21 L742.31 1057.59 L751.32 1057.91 L760.79 1058.18 L770.12 1058.47 L779.31 1058.8 L788.36 1059.15 L797.27 1059.53 L806.8 1059.96 L816.96 1060.43 L827.75 1060.95 L839.16 1061.52 L849.61 1062.05 L859.12 1062.52 L867.68 1062.95 L875.28 1063.33 L882.41 1063.81 L889.07 1064.38 L895.25 1065.04 L900.95 1065.8 L906.18 1066.75 L910.93 1067.89 L915.21 1069.23 L919.02 1070.75 L922.34 1072.27 L925.2 1073.79 L927.57 1075.31 L929.47 1076.83 L931.38 1078.35 L933.28 1079.87 L935.18 1081.39 L937.08 1082.92 L939.08 1084.48 L941.17 1086.1 L943.35 1087.76 L945.64 1089.48 L947.35 1090.76 L948.49 1091.62 L949.06 1092.04" fill="none" stroke="#1a1a1a" stroke-width="0.9" stroke-linejoin="round"/>
<path d="M591.39 1063.14 L593.84 1063.17 L598.75 1063.23 L606.11 1063.31 L615.92 1063.43 L626.13 1063.53 L636.74 1063.63 L647.75 1063.71 L659.16 1063.79 L670.56 1063.92 L681.97 1064.11 L693.38 1064.36 L704.79 1064.66 L716.66 1064.96 L729 1065.24 L741.81 1065.52 L755.08 1065.78 L767.26 1066.08 L778.36 1066.4 L788.36 1066.75 L797.27 1067.13 L806.8 1067.51 L816.96 1067.89 L827.75 1068.28 L839.16 1068.66 L850.09 1069.08 L860.55 1069.56 L870.53 1070.08 L880.04 1070.65 L887.93 1071.36 L894.2 1072.22 L898.86 1073.22 L901.9 1074.36 L904.66 1075.6 L907.13 1076.93 L909.32 1078.35 L911.22 1079.87 L912.84 1081.39 L914.17 1082.92 L915.21 1084.44 L915.97 1085.96 L916.83 1087.76 L917.78 1089.86 L918.83 1092.23 L919.97 1094.9 L921.2 1097.65 L922.53 1100.5 L923.96 1103.45 L925.48 1106.49 L926.81 1109.25 L927.95 1111.72 L928.9 1113.91 L929.66 1115.81 L930.33 1117.71 L930.9 1119.61 L931.38 1121.52 L931.76 1123.42 L932.52 1125.22 L933.66 1126.93 L935.18 1128.55 L937.08 1130.07 L938.89 1131.59 L940.6 1133.11 L942.21 1134.63 L943.73 1136.16 L945.16 1137.87 L946.49 1139.77 L947.73 1141.86 L948.87 1144.14 L949.72 1145.85 L950.29 1146.99 L950.58 1147.56" fill="none" stroke="#1a1a1a" stroke-width="0.9" stroke-linejoin="round"/>
<path d="M591.39 1073.79 L593.84 1073.82 L598.75 1073.87 L606.11 1073.96 L615.92 1074.07 L625.18 1074.2 L633.89 1074.33 L642.04 1074.47 L649.65 1074.63 L657.25 1074.77 L664.86 1074.9 L672.47 1075.03 L680.07 1075.14 L688.15 1075.32 L696.71 1075.57 L705.74 1075.88 L715.25 1076.26 L725.22 1076.57 L735.66 1076.82 L746.56 1077 L757.94 1077.12 L768.69 1077.36 L778.83 1077.74 L788.36 1078.26 L797.27 1078.9 L805.85 1079.53 L814.11 1080.14 L822.04 1080.73 L829.65 1081.3 L836.78 1082.06 L843.43 1083.01 L849.61 1084.15 L855.32 1085.48 L860.55 1086.81 L865.3 1088.14 L869.58 1089.48 L873.38 1090.81 L877.18 1092.28 L880.99 1093.9 L884.79 1095.66 L888.59 1097.56 L891.92 1099.55 L894.77 1101.65 L897.15 1103.83 L899.05 1106.11 L900.76 1108.4 L902.28 1110.68 L903.61 1112.96 L904.76 1115.24 L905.9 1117.43 L907.04 1119.52 L908.18 1121.52 L909.32 1123.42 L910.36 1125.41 L911.32 1127.5 L912.17 1129.69 L912.93 1131.97 L913.88 1134.25 L915.02 1136.54 L916.35 1138.82 L917.87 1141.1 L919.3 1143.38 L920.63 1145.66 L921.87 1147.94 L923.01 1150.23 L924.15 1152.41 L925.29 1154.5 L926.43 1156.5 L927.57 1158.4 L928.9 1160.11 L930.42 1161.64 L932.14 1162.97 L934.04 1164.11 L936.32 1165.06 L938.98 1165.82 L942.02 1166.39 L945.45 1166.77 L948.01 1167.05 L949.72 1167.24 L950.58 1167.34" fill="none" stroke="#1a1a1a" stroke-width="0.9" stroke-linejoin="round"/>
<path d="M591.39 1085.2 L593.84 1085.25 L598.75 1085.34 L606.11 1085.48 L615.92 1085.67 L627.08 1085.91 L639.59 1086.2 L653.45 1086.53 L668.66 1086.91 L685.29 1087.26 L703.34 1087.58 L722.8 1087.88 L743.67 1088.14 L760.61 1088.42 L773.6 1088.71 L782.65 1089 L787.76 1089.3 L793.49 1089.72 L799.85 1090.26 L806.83 1090.9 L814.44 1091.66 L821.57 1092.52 L828.22 1093.47 L834.4 1094.51 L840.11 1095.66 L845.34 1096.89 L850.09 1098.22 L854.37 1099.65 L858.17 1101.17 L861.97 1102.88 L865.78 1104.78 L869.58 1106.87 L873.38 1109.16 L876.61 1111.34 L879.28 1113.43 L881.37 1115.43 L882.89 1117.33 L884.12 1119.33 L885.08 1121.42 L885.74 1123.61 L886.12 1125.89 L886.6 1128.36 L887.17 1131.02 L887.83 1133.87 L888.59 1136.92 L889.54 1139.96 L890.68 1143 L892.02 1146.04 L893.54 1149.09 L895.25 1152.03 L897.15 1154.89 L899.24 1157.64 L901.52 1160.3 L903.52 1162.78 L905.23 1165.06 L906.66 1167.15 L907.8 1169.05 L909.6 1171.05 L912.08 1173.14 L915.21 1175.33 L919.02 1177.61 L922.63 1179.56 L926.05 1181.17 L929.28 1182.46 L932.33 1183.41 L934.99 1183.88 L937.27 1183.88 L939.17 1183.41 L940.69 1182.46 L942.31 1181.65 L944.02 1180.98 L945.83 1180.46 L947.73 1180.08 L949.15 1179.79 L950.1 1179.6 L950.58 1179.51" fill="none" stroke="#1a1a1a" stroke-width="0.9" stroke-linejoin="round"/>
<path d="M591.39 1097.06 L594.79 1097.1 L601.6 1097.18 L611.81 1097.29 L625.42 1097.44 L639.44 1097.63 L653.85 1097.86 L668.66 1098.13 L683.87 1098.43 L699.55 1098.75 L715.69 1099.1 L732.3 1099.46 L749.38 1099.84 L763.46 1100.27 L774.55 1100.74 L782.65 1101.26 L787.76 1101.84 L793.02 1102.41 L798.42 1102.98 L803.98 1103.55 L809.68 1104.12 L814.91 1104.73 L819.67 1105.4 L823.94 1106.11 L827.75 1106.87 L831.07 1107.73 L833.93 1108.68 L836.3 1109.73 L838.21 1110.87 L840.11 1112.01 L842.01 1113.15 L843.91 1114.29 L845.81 1115.43 L848 1116.76 L850.47 1118.28 L853.23 1119.99 L856.27 1121.9 L858.84 1123.8 L860.93 1125.7 L862.54 1127.6 L863.68 1129.5 L864.63 1131.4 L865.4 1133.3 L865.97 1135.21 L866.35 1137.11 L866.49 1138.82 L866.39 1140.34 L866.06 1141.67 L865.49 1142.81 L865.3 1144.62 L865.49 1147.09 L866.06 1150.23 L867.01 1154.03 L868.39 1157.45 L870.2 1160.49 L872.43 1163.16 L875.09 1165.44 L877.85 1167.62 L880.7 1169.72 L883.65 1171.71 L886.69 1173.61 L889.45 1175.61 L891.92 1177.7 L894.11 1179.89 L896.01 1182.17 L897.43 1184.36 L898.39 1186.45 L898.86 1188.45 L898.86 1190.35 L898.77 1192.06 L898.58 1193.58 L898.29 1194.91 L897.91 1196.05 L898.1 1197.29 L898.86 1198.62 L900.19 1200.04 L902.09 1201.57 L904.28 1202.99 L906.75 1204.32 L909.51 1205.56 L912.55 1206.7 L915.78 1207.74 L919.21 1208.7 L922.82 1209.55 L926.62 1210.31 L930.61 1210.88 L934.8 1211.26 L939.17 1211.45 L943.73 1211.45 L947.16 1211.45 L949.44 1211.45 L950.58 1211.45" fill="none" stroke="#1a1a1a" stroke-width="0.9" stroke-linejoin="round"/>
<path d="M591.39 1162.78 L592.42 1163.11 L594.47 1163.77 L597.55 1164.77 L601.66 1166.1 L605.21 1167.01 L608.22 1167.48 L610.67 1167.53 L612.57 1167.15 L615.42 1166.91 L619.23 1166.82 L623.98 1166.86 L629.68 1167.05 L635.39 1167.67 L641.09 1168.72 L646.8 1170.19 L652.5 1172.09 L658.21 1173.99 L663.91 1175.9 L669.61 1177.8 L675.32 1179.7 L680.26 1181.08 L684.44 1181.93 L687.87 1182.27 L690.53 1182.08 L693.29 1182.03 L696.14 1182.12 L699.09 1182.36 L702.13 1182.74 L705.36 1183.26 L708.78 1183.93 L712.4 1184.74 L716.2 1185.69 L720 1186.88 L723.8 1188.3 L727.61 1189.97 L731.41 1191.87 L735.02 1193.53 L738.45 1194.96 L741.68 1196.15 L744.72 1197.1 L747.67 1197.71 L750.52 1198 L753.28 1197.95 L755.94 1197.57 L758.88 1197.43 L762.09 1197.52 L765.58 1197.86 L769.34 1198.43 L772.49 1198.9 L775.03 1199.28 L776.95 1199.57 L778.25 1199.76 L781.13 1200.42 L785.59 1201.57 L791.62 1203.18 L799.23 1205.27 L806.83 1207.13 L814.44 1208.74 L822.04 1210.12 L829.65 1211.26 L836.78 1212.4 L843.43 1213.54 L849.61 1214.69 L855.32 1215.83 L860.55 1216.78 L865.3 1217.54 L869.58 1218.11 L873.38 1218.49 L877.18 1218.63 L880.99 1218.54 L884.79 1218.2 L888.59 1217.63 L892.4 1217.25 L896.2 1217.06 L900 1217.06 L903.8 1217.25 L908.08 1217.63 L912.84 1218.2 L918.07 1218.96 L923.77 1219.91 L928.52 1220.58 L932.33 1220.96 L935.18 1221.05 L937.08 1220.86 L938.6 1220.58 L939.74 1220.2 L940.5 1219.72 L940.88 1219.15 L941.74 1218.63 L943.07 1218.16 L944.88 1217.73 L947.16 1217.35 L948.87 1217.06 L950.01 1216.87 L950.58 1216.78" fill="none" stroke="#1a1a1a" stroke-width="0.9" stroke-linejoin="round"/>
<path d="M591.39 1142.24 L592.42 1142.31 L594.47 1142.44 L597.55 1142.64 L601.66 1142.91 L605.31 1143.37 L608.5 1144.04 L611.24 1144.9 L613.52 1145.97 L615.28 1146.96 L616.52 1147.87 L617.23 1148.71 L617.42 1149.47 L617.23 1150.37 L616.66 1151.42 L615.71 1152.6 L614.38 1153.93 L612.62 1154.98 L610.43 1155.74 L607.82 1156.22 L604.77 1156.41 L601.94 1156.74 L599.32 1157.21 L596.9 1157.83 L594.7 1158.59 L593.04 1159.16 L591.94 1159.54 L591.39 1159.73" fill="none" stroke="#1a1a1a" stroke-width="0.9" stroke-linejoin="round"/>
<path d="M591.39 1202.33 L592.7 1202.66 L595.32 1203.32 L599.26 1204.32 L604.51 1205.65 L608.82 1206.56 L612.21 1207.03 L614.66 1207.08 L616.18 1206.7 L618.56 1206.56 L621.79 1206.65 L625.88 1206.98 L630.82 1207.55 L635.2 1208.27 L639 1209.12 L642.23 1210.12 L644.9 1211.26 L647.46 1212.59 L649.93 1214.11 L652.31 1215.83 L654.59 1217.73 L656.87 1219.44 L659.16 1220.96 L661.44 1222.29 L663.72 1223.43 L666.29 1224.5 L669.14 1225.49 L672.28 1226.4 L675.7 1227.23 L678.27 1227.86 L679.98 1228.28 L680.83 1228.49" fill="none" stroke="#1a1a1a" stroke-width="0.9" stroke-linejoin="round"/>
<path d="M678.55 1227.42 L678.5 1227 L678.41 1226.14 L678.27 1224.86 L678.07 1223.15 L678.79 1221.67 L680.4 1220.44 L682.92 1219.44 L686.35 1218.68 L689.58 1218.25 L692.62 1218.16 L695.47 1218.39 L698.14 1218.96 L699.94 1219.63 L700.89 1220.39 L700.99 1221.25 L700.23 1222.2 L698.99 1222.91 L697.28 1223.38 L695.09 1223.62 L692.43 1223.62 L689.96 1223.72 L687.68 1223.91 L685.59 1224.19 L683.68 1224.57 L682.26 1224.86 L681.31 1225.05 L680.83 1225.14" fill="none" stroke="#1a1a1a" stroke-width="0.9" stroke-linejoin="round"/>
<path d="M1087.91 80.2 L1088.84 80.34 L1090.71 80.63 L1093.5 81.05 L1097.23 81.62 L1102.4 82.15 L1109.02 82.62 L1117.08 83.05 L1126.59 83.43 L1136.57 83.91 L1147.03 84.48 L1157.96 85.14 L1169.37 85.9 L1180.51 86.76 L1191.38 87.71 L1201.98 88.75 L1212.32 89.9 L1221.02 91.08 L1228.09 92.32 L1233.52 93.6 L1237.32 94.93 L1241.13 96.5 L1244.93 98.31 L1248.73 100.35 L1252.54 102.63 L1256.15 105.01 L1259.57 107.48 L1262.8 110.05 L1265.85 112.71 L1268.51 115.47 L1270.79 118.32 L1272.69 121.27 L1274.21 124.31 L1275.54 127.54 L1276.68 130.97 L1277.63 134.58 L1278.4 138.38 L1279.06 142.18 L1279.63 145.99 L1280.11 149.79 L1280.49 153.59 L1280.91 157.4 L1281.39 161.2 L1281.91 165 L1282.48 168.8 L1283.05 172.61 L1283.62 176.41 L1284.19 180.21 L1284.76 184.02 L1285.29 187.82 L1285.76 191.62 L1286.19 195.42 L1286.57 199.23 L1287.05 203.17 L1287.62 207.26 L1288.28 211.49 L1289.04 215.86 L1289.61 219.14 L1289.99 221.33 L1290.18 222.42" fill="none" stroke="#1a1a1a" stroke-width="0.9" stroke-linejoin="round"/>
<path d="M1087.91 107.58 L1089.32 107.67 L1092.13 107.86 L1096.35 108.15 L1101.98 108.53 L1109.05 108.96 L1117.57 109.43 L1127.54 109.96 L1138.94 110.53 L1149.4 111.05 L1158.91 111.52 L1167.47 111.95 L1175.07 112.33 L1182.68 113 L1190.28 113.95 L1197.89 115.18 L1205.49 116.71 L1211.22 117.89 L1215.05 118.75 L1217 119.27 L1217.07 119.46 L1217.78 120.08 L1219.15 121.13 L1221.16 122.6 L1223.82 124.5 L1226.49 126.5 L1229.15 128.59 L1231.81 130.78 L1234.47 133.06 L1236.75 135.34 L1238.66 137.62 L1240.18 139.9 L1241.32 142.18 L1242.32 144.75 L1243.17 147.6 L1243.88 150.74 L1244.45 154.16 L1244.93 157.68 L1245.31 161.29 L1245.6 165 L1245.79 168.8 L1246.07 172.61 L1246.45 176.41 L1246.93 180.21 L1247.5 184.02 L1247.97 187.82 L1248.35 191.62 L1248.64 195.42 L1248.83 199.23 L1249.11 203.17 L1249.49 207.26 L1249.97 211.49 L1250.54 215.86 L1250.97 219.14 L1251.25 221.33 L1251.39 222.42" fill="none" stroke="#1a1a1a" stroke-width="0.9" stroke-linejoin="round"/>
<path d="M1087.91 141.8 L1089.32 141.85 L1092.13 141.95 L1096.35 142.09 L1101.98 142.28 L1108.58 142.47 L1116.15 142.66 L1124.68 142.85 L1134.19 143.04 L1142.75 143.47 L1150.35 144.13 L1157.01 145.04 L1162.71 146.18 L1167.94 147.56 L1172.69 149.17 L1176.97 151.03 L1180.78 153.12 L1184.29 155.35 L1187.53 157.73 L1190.47 160.25 L1193.14 162.91 L1195.32 165.86 L1197.03 169.09 L1198.27 172.61 L1199.03 176.41 L1199.7 180.21 L1200.27 184.02 L1200.74 187.82 L1201.12 191.62 L1201.55 196.04 L1202.02 201.08 L1202.55 206.74 L1203.12 213.01 L1203.55 217.72 L1203.83 220.86 L1203.97 222.42" fill="none" stroke="#1a1a1a" stroke-width="0.9" stroke-linejoin="round"/>
<path d="M1087.91 171.47 L1089.32 171.51 L1092.13 171.61 L1096.35 171.75 L1101.98 171.94 L1107.63 172.23 L1113.29 172.61 L1118.98 173.08 L1124.68 173.65 L1129.91 174.56 L1134.67 175.79 L1138.94 177.36 L1142.75 179.26 L1146.07 181.26 L1148.93 183.35 L1151.3 185.54 L1153.21 187.82 L1154.82 190.39 L1156.15 193.24 L1157.2 196.38 L1157.96 199.8 L1158.62 203.46 L1159.19 207.36 L1159.67 211.49 L1160.05 215.86 L1160.34 219.14 L1160.53 221.33 L1160.62 222.42" fill="none" stroke="#1a1a1a" stroke-width="0.9" stroke-linejoin="round"/>
<path d="M1087.91 197.33 L1088.84 197.42 L1090.71 197.61 L1093.5 197.9 L1097.23 198.28 L1100.69 199.04 L1103.88 200.18 L1106.81 201.7 L1109.47 203.6 L1111.94 205.41 L1114.23 207.12 L1116.32 208.73 L1118.22 210.26 L1119.79 212.01 L1121.02 214.01 L1121.93 216.25 L1122.5 218.72 L1122.92 220.57 L1123.21 221.81 L1123.35 222.42" fill="none" stroke="#1a1a1a" stroke-width="0.9" stroke-linejoin="round"/>
<path d="M1087.91 203.41 L1088.65 203.65 L1090.13 204.12 L1092.36 204.84 L1095.33 205.79 L1098.03 206.83 L1100.46 207.97 L1102.63 209.21 L1104.53 210.54 L1106.24 212.16 L1107.76 214.06 L1109.09 216.25 L1110.23 218.72 L1111.09 220.57 L1111.66 221.81 L1111.94 222.42" fill="none" stroke="#1a1a1a" stroke-width="0.9" stroke-linejoin="round"/>
<path d="M1087.91 210.26 L1088.56 210.54 L1089.85 211.11 L1091.79 211.97 L1094.37 213.11 L1096.74 214.44 L1098.89 215.96 L1100.82 217.67 L1102.53 219.57 L1103.82 221 L1104.67 221.95 L1105.1 222.42" fill="none" stroke="#1a1a1a" stroke-width="0.9" stroke-linejoin="round"/>
<path d="M1087.91 406.07 L1089.32 406.59 L1092.13 407.64 L1096.35 409.21 L1101.98 411.3 L1107.15 413.01 L1111.87 414.34 L1116.13 415.29 L1119.93 415.86 L1123.73 416.53 L1127.54 417.29 L1131.34 418.14 L1135.14 419.1 L1139.42 419.86 L1144.17 420.43 L1149.4 420.81 L1155.11 421 L1160.81 421.12 L1166.52 421.18 L1172.22 421.17 L1177.92 421.09 L1183.63 421.2 L1189.33 421.48 L1195.04 421.95 L1200.74 422.59 L1205.7 423.17 L1209.92 423.69 L1213.39 424.13 L1216.12 424.51 L1219.12 425.04 L1222.38 425.7 L1225.92 426.51 L1229.72 427.46 L1233.52 428.75 L1237.32 430.36 L1241.13 432.31 L1244.93 434.59 L1248.54 436.97 L1251.97 439.44 L1255.2 442.01 L1258.24 444.67 L1261.19 447.33 L1264.04 449.99 L1266.8 452.66 L1269.46 455.32 L1272.12 458.27 L1274.78 461.5 L1277.44 465.02 L1280.11 468.82 L1282.67 472.43 L1285.15 475.85 L1287.52 479.09 L1289.8 482.13 L1291.9 485.36 L1293.8 488.78 L1295.51 492.4 L1297.03 496.2 L1298.93 499.81 L1301.21 503.23 L1303.87 506.47 L1306.92 509.51 L1309.58 512.27 L1311.86 514.74 L1313.76 516.92 L1315.28 518.83 L1316.33 520.54 L1316.9 522.06 L1316.99 523.39 L1316.61 524.53 L1316.61 526.05 L1316.99 527.95 L1317.75 530.23 L1318.9 532.9 L1320.32 535.27 L1322.03 537.36 L1324.03 539.17 L1326.31 540.69 L1329.26 542.26 L1332.87 543.88 L1337.15 545.54 L1342.09 547.25 L1345.8 548.54 L1348.27 549.39 L1349.51 549.82" fill="none" stroke="#1a1a1a" stroke-width="0.9" stroke-linejoin="round"/>
<path d="M1087.91 436.49 L1089.32 436.87 L1092.13 437.63 L1096.35 438.78 L1101.98 440.3 L1108.1 441.53 L1114.72 442.48 L1121.83 443.15 L1129.44 443.53 L1137.04 443.96 L1144.65 444.43 L1152.25 444.96 L1159.86 445.53 L1166.99 446.05 L1173.65 446.52 L1179.83 446.95 L1185.53 447.33 L1191.04 447.95 L1196.37 448.81 L1201.5 449.9 L1206.45 451.23 L1210.55 452.23 L1213.82 452.89 L1216.24 453.23 L1217.83 453.23 L1219.78 453.89 L1222.1 455.22 L1224.77 457.22 L1227.82 459.88 L1230.76 462.54 L1233.62 465.21 L1236.37 467.87 L1239.04 470.53 L1241.51 473.29 L1243.79 476.14 L1245.88 479.09 L1247.78 482.13 L1249.68 485.55 L1251.59 489.35 L1253.49 493.54 L1255.39 498.1 L1257.29 502.76 L1259.19 507.51 L1261.09 512.36 L1262.99 517.3 L1264.7 521.96 L1266.23 526.34 L1267.56 530.42 L1268.7 534.23 L1270.22 537.65 L1272.12 540.69 L1274.4 543.35 L1277.06 545.64 L1280.01 547.63 L1283.24 549.34 L1286.76 550.77 L1290.56 551.91 L1295.03 553 L1300.17 554.05 L1305.97 555.05 L1312.43 556 L1317.28 556.71 L1320.51 557.19 L1322.13 557.42" fill="none" stroke="#1a1a1a" stroke-width="0.9" stroke-linejoin="round"/>
<path d="M1087.91 466.16 L1088.56 466.16 L1089.85 466.16 L1091.79 466.16 L1094.37 466.16 L1097.07 466.49 L1099.89 467.15 L1102.82 468.15 L1105.86 469.48 L1109.57 470.62 L1113.94 471.58 L1118.98 472.34 L1124.68 472.91 L1129.91 473.52 L1134.67 474.19 L1138.94 474.9 L1142.75 475.66 L1146.65 476.57 L1150.64 477.61 L1154.73 478.8 L1158.91 480.13 L1162.62 481.42 L1165.85 482.65 L1168.61 483.84 L1170.89 484.98 L1173.55 486.22 L1176.59 487.55 L1180.02 488.97 L1183.82 490.49 L1187.43 492.21 L1190.85 494.11 L1194.09 496.2 L1197.13 498.48 L1200.17 500.95 L1203.21 503.61 L1206.25 506.47 L1209.3 509.51 L1212.24 512.55 L1215.1 515.59 L1217.85 518.64 L1220.52 521.68 L1222.85 524.43 L1224.87 526.91 L1226.56 529.09 L1227.93 530.99 L1229.3 533.28 L1230.66 535.94 L1232.02 538.98 L1233.38 542.4 L1234.97 545.35 L1236.79 547.82 L1238.85 549.82 L1241.13 551.34 L1243.69 552.72 L1246.55 553.95 L1249.68 555.05 L1253.11 556 L1255.67 556.71 L1257.38 557.19 L1258.24 557.42" fill="none" stroke="#1a1a1a" stroke-width="0.9" stroke-linejoin="round"/>
<path d="M1087.91 499.62 L1088.56 499.91 L1089.85 500.48 L1091.79 501.33 L1094.37 502.47 L1097.55 503.47 L1101.32 504.33 L1105.67 505.04 L1110.61 505.61 L1115.56 506.42 L1120.5 507.46 L1125.44 508.75 L1130.39 510.27 L1135.05 511.89 L1139.42 513.6 L1143.51 515.4 L1147.31 517.3 L1150.92 519.3 L1154.35 521.39 L1157.58 523.58 L1160.62 525.86 L1163.47 528.33 L1166.13 530.99 L1168.61 533.85 L1170.89 536.89 L1173.36 539.74 L1176.02 542.4 L1178.87 544.88 L1181.92 547.16 L1185.15 549.3 L1188.57 551.29 L1192.18 553.15 L1195.99 554.86 L1198.84 556.14 L1200.74 557 L1201.69 557.42" fill="none" stroke="#1a1a1a" stroke-width="0.9" stroke-linejoin="round"/>
<path d="M1087.91 530.04 L1088.84 530.28 L1090.71 530.76 L1093.5 531.47 L1097.23 532.42 L1100.97 533.61 L1104.74 535.04 L1108.52 536.7 L1112.32 538.6 L1115.94 540.5 L1119.36 542.4 L1122.59 544.3 L1125.63 546.21 L1128.68 548.16 L1131.72 550.15 L1134.76 552.2 L1137.8 554.29 L1140.09 555.86 L1141.61 556.9 L1142.37 557.42" fill="none" stroke="#1a1a1a" stroke-width="0.9" stroke-linejoin="round"/>
<path d="M1087.91 539.93 L1088.84 540.12 L1090.71 540.5 L1093.5 541.07 L1097.23 541.83 L1100.78 542.88 L1104.17 544.21 L1107.38 545.83 L1110.42 547.73 L1113.18 549.58 L1115.65 551.39 L1117.84 553.15 L1119.74 554.86 L1121.17 556.14 L1122.12 557 L1122.59 557.42" fill="none" stroke="#1a1a1a" stroke-width="0.9" stroke-linejoin="round"/>
<path d="M1087.91 545.26 L1088.65 545.4 L1090.13 545.68 L1092.36 546.11 L1095.33 546.68 L1098.12 547.49 L1100.74 548.54 L1103.2 549.82 L1105.48 551.34 L1107.38 552.72 L1108.9 553.95 L1110.04 555.05 L1110.8 556 L1111.37 556.71 L1111.75 557.19 L1111.94 557.42" fill="none" stroke="#1a1a1a" stroke-width="0.9" stroke-linejoin="round"/>
<path d="M1087.91 549.82 L1088.37 549.91 L1089.28 550.1 L1090.65 550.39 L1092.47 550.77 L1094.32 551.44 L1096.18 552.39 L1098.06 553.62 L1099.97 555.14 L1101.39 556.28 L1102.34 557.04 L1102.82 557.42" fill="none" stroke="#1a1a1a" stroke-width="0.9" stroke-linejoin="round"/>
<path d="M1087.91 553.62 L1088.27 553.72 L1088.99 553.91 L1090.08 554.19 L1091.52 554.57 L1092.8 555 L1093.9 555.48 L1094.83 556 L1095.59 556.57 L1096.16 557 L1096.54 557.28 L1096.73 557.42" fill="none" stroke="#1a1a1a" stroke-width="0.9" stroke-linejoin="round"/>
<path d="M1087.91 745.63 L1088.56 746.11 L1089.85 747.06 L1091.79 748.49 L1094.37 750.39 L1097.07 751.96 L1099.89 753.19 L1102.82 754.1 L1105.86 754.67 L1109.09 755.05 L1112.51 755.24 L1116.13 755.24 L1119.93 755.05 L1123.73 754.71 L1127.54 754.24 L1131.34 753.62 L1135.14 752.86 L1139.42 752.34 L1144.17 752.05 L1149.4 752 L1155.11 752.19 L1160.34 752.1 L1165.09 751.72 L1169.37 751.05 L1173.17 750.1 L1177.45 749.2 L1182.2 748.34 L1187.43 747.54 L1193.14 746.78 L1199.18 746.01 L1205.57 745.25 L1212.3 744.49 L1219.37 743.73 L1225.5 742.97 L1230.66 742.21 L1234.88 741.45 L1238.14 740.69 L1242.01 739.88 L1246.49 739.03 L1251.59 738.12 L1257.29 737.17 L1262.99 736.13 L1268.7 734.99 L1274.4 733.75 L1280.11 732.42 L1285.81 731.04 L1291.52 729.61 L1297.22 728.14 L1302.92 726.62 L1307.77 725 L1311.77 723.29 L1314.9 721.49 L1317.18 719.58 L1319.47 717.7 L1321.75 715.84 L1324.03 713.99 L1326.31 712.17 L1328.02 710.8 L1329.16 709.89 L1329.73 709.43" fill="none" stroke="#1a1a1a" stroke-width="0.9" stroke-linejoin="round"/>
<path d="M1087.91 773.78 L1088.84 774.01 L1090.71 774.49 L1093.5 775.2 L1097.23 776.15 L1101.45 776.96 L1106.16 777.63 L1111.37 778.15 L1117.08 778.53 L1122.78 778.91 L1128.49 779.29 L1134.19 779.67 L1139.9 780.05 L1145.6 780.43 L1151.3 780.81 L1157.01 781.19 L1162.71 781.57 L1168.89 781.86 L1175.55 782.05 L1182.68 782.14 L1190.28 782.14 L1197.76 782.19 L1205.1 782.28 L1212.3 782.43 L1219.37 782.62 L1225.97 783.28 L1232.09 784.42 L1237.73 786.04 L1242.89 788.13 L1247.71 790.08 L1252.2 791.89 L1256.34 793.55 L1260.14 795.07 L1263.94 796.45 L1267.75 797.69 L1271.55 798.78 L1275.35 799.73 L1279.63 800.51 L1284.38 801.12 L1289.61 801.56 L1295.32 801.82 L1301.02 801.95 L1306.73 801.95 L1312.43 801.82 L1318.14 801.56 L1323.84 801.23 L1329.54 800.85 L1335.25 800.41 L1340.95 799.92 L1345.23 799.55 L1348.08 799.3 L1349.51 799.18" fill="none" stroke="#1a1a1a" stroke-width="0.9" stroke-linejoin="round"/>
<path d="M1087.91 800.4 L1088.84 800.68 L1090.71 801.25 L1093.5 802.11 L1097.23 803.25 L1100.97 804.44 L1104.74 805.67 L1108.52 806.96 L1112.32 808.29 L1116.6 809.38 L1121.36 810.24 L1126.59 810.85 L1132.29 811.23 L1137.99 811.8 L1143.7 812.56 L1149.4 813.52 L1155.11 814.66 L1160.81 815.75 L1166.52 816.8 L1172.22 817.79 L1177.92 818.74 L1183.63 819.74 L1189.33 820.79 L1195.04 821.88 L1200.74 823.02 L1206.31 824.12 L1211.75 825.16 L1217.06 826.16 L1222.23 827.11 L1226.45 827.87 L1229.71 828.44 L1232.02 828.82 L1233.38 829.01 L1235.83 829.73 L1239.36 830.96 L1243.98 832.72 L1249.68 835 L1255.39 837.19 L1261.09 839.28 L1266.8 841.28 L1272.5 843.18 L1278.68 844.84 L1285.34 846.27 L1292.47 847.46 L1300.07 848.41 L1308.15 849.12 L1316.71 849.59 L1325.74 849.83 L1335.25 849.83 L1342.38 849.83 L1347.13 849.83 L1349.51 849.83" fill="none" stroke="#1a1a1a" stroke-width="0.9" stroke-linejoin="round"/>
<path d="M1087.91 832.34 L1088.84 832.53 L1090.71 832.91 L1093.5 833.48 L1097.23 834.24 L1101.45 835.1 L1106.16 836.05 L1111.37 837.09 L1117.08 838.23 L1122.78 839.47 L1128.49 840.8 L1134.19 842.23 L1139.9 843.75 L1145.6 845.36 L1151.3 847.08 L1157.01 848.88 L1162.71 850.78 L1168.42 852.68 L1174.12 854.59 L1179.83 856.49 L1185.53 858.39 L1191.23 860.2 L1196.94 861.91 L1202.64 863.52 L1208.35 865.04 L1213.44 866.47 L1217.93 867.8 L1221.81 869.04 L1225.08 870.18 L1228.82 871.41 L1233.04 872.74 L1237.73 874.17 L1242.89 875.69 L1248.66 877.02 L1255.05 878.16 L1262.04 879.11 L1269.65 879.88 L1277.25 880.45 L1284.86 880.83 L1292.47 881.02 L1300.07 881.02 L1308.15 881 L1316.71 880.96 L1325.74 880.9 L1335.25 880.83 L1342.38 880.77 L1347.13 880.73 L1349.51 880.71" fill="none" stroke="#1a1a1a" stroke-width="0.9" stroke-linejoin="round"/>
<path d="M1087.91 858.96 L1088.84 859.39 L1090.71 860.24 L1093.5 861.53 L1097.23 863.24 L1100.97 864.9 L1104.74 866.52 L1108.52 868.09 L1112.32 869.61 L1116.6 871.22 L1121.36 872.94 L1126.59 874.74 L1132.29 876.64 L1137.99 878.54 L1143.7 880.45 L1149.4 882.35 L1155.11 884.25 L1160.34 886.05 L1165.09 887.77 L1169.37 889.38 L1173.17 890.9 L1176.02 892.04 L1177.92 892.8 L1178.87 893.19" fill="none" stroke="#1a1a1a" stroke-width="0.9" stroke-linejoin="round"/>
<path d="M1087.91 872.65 L1088.56 872.79 L1089.85 873.08 L1091.79 873.51 L1094.37 874.08 L1097.07 874.88 L1099.89 875.93 L1102.82 877.21 L1105.86 878.73 L1108.9 880.35 L1111.94 882.06 L1114.99 883.87 L1118.03 885.77 L1120.88 887.48 L1123.54 889 L1126.01 890.33 L1128.3 891.47 L1130.01 892.33 L1131.15 892.9 L1131.72 893.19" fill="none" stroke="#1a1a1a" stroke-width="0.9" stroke-linejoin="round"/>
<path d="M1087.91 879.49 L1088.56 879.69 L1089.85 880.07 L1091.79 880.64 L1094.37 881.4 L1097.07 882.35 L1099.89 883.49 L1102.82 884.82 L1105.86 886.34 L1108.62 887.77 L1111.09 889.1 L1113.28 890.33 L1115.18 891.47 L1116.6 892.33 L1117.55 892.9 L1118.03 893.19" fill="none" stroke="#1a1a1a" stroke-width="0.9" stroke-linejoin="round"/>
<path d="M1087.91 884.82 L1088.46 885.01 L1089.56 885.39 L1091.22 885.96 L1093.42 886.72 L1095.65 887.62 L1097.89 888.67 L1100.16 889.86 L1102.44 891.19 L1104.15 892.19 L1105.29 892.85 L1105.86 893.19" fill="none" stroke="#1a1a1a" stroke-width="0.9" stroke-linejoin="round"/>
<path d="M1087.91 889.38 L1088.37 889.53 L1089.28 889.81 L1090.65 890.24 L1092.47 890.81 L1094.03 891.33 L1095.33 891.81 L1096.35 892.23 L1097.11 892.61 L1097.68 892.9 L1098.06 893.09 L1098.25 893.19" fill="none" stroke="#1a1a1a" stroke-width="0.9" stroke-linejoin="round"/>
<path d="M1091.41 1044.43 L1091.65 1045.08 L1092.12 1046.37 L1092.83 1048.31 L1093.79 1050.9 L1094.78 1053.69 L1095.83 1056.7 L1096.92 1059.91 L1098.06 1063.33 L1099.39 1066.66 L1100.92 1069.89 L1102.63 1073.03 L1104.53 1076.07 L1106.62 1078.83 L1108.9 1081.3 L1111.37 1083.49 L1114.04 1085.39 L1116.98 1087.1 L1120.22 1088.62 L1123.73 1089.95 L1127.54 1091.09 L1131.81 1092.19 L1136.57 1093.23 L1141.8 1094.23 L1147.5 1095.18 L1153.68 1096.04 L1160.34 1096.8 L1167.47 1097.46 L1175.07 1098.03 L1182.2 1098.65 L1188.86 1099.32 L1195.04 1100.03 L1200.74 1100.79 L1206.31 1101.55 L1211.75 1102.31 L1217.06 1103.07 L1222.23 1103.83 L1227.4 1104.88 L1232.56 1106.21 L1237.73 1107.82 L1242.89 1109.73 L1248.19 1111.44 L1253.62 1112.96 L1259.19 1114.29 L1264.9 1115.43 L1270.41 1116.24 L1275.73 1116.71 L1280.87 1116.86 L1285.81 1116.67 L1290.18 1116.19 L1293.99 1115.43 L1297.22 1114.38 L1299.88 1113.05 L1302.54 1111.77 L1305.21 1110.53 L1307.87 1109.35 L1310.53 1108.21 L1313.29 1107.3 L1316.14 1106.64 L1319.09 1106.21 L1322.13 1106.02 L1325.84 1105.88 L1330.21 1105.78 L1335.25 1105.73 L1340.95 1105.73 L1345.23 1105.73 L1348.08 1105.73 L1349.51 1105.73" fill="none" stroke="#1a1a1a" stroke-width="0.9" stroke-linejoin="round"/>
<path d="M1087.91 1098.89 L1088.84 1099.27 L1090.71 1100.03 L1093.5 1101.17 L1097.23 1102.69 L1101.45 1104.21 L1106.16 1105.73 L1111.37 1107.25 L1117.08 1108.78 L1123.26 1110.11 L1129.91 1111.25 L1137.04 1112.2 L1144.65 1112.96 L1152.25 1113.72 L1159.86 1114.48 L1167.47 1115.24 L1175.07 1116 L1182.2 1116.81 L1188.86 1117.66 L1195.04 1118.57 L1200.74 1119.52 L1206.31 1120.61 L1211.75 1121.85 L1217.06 1123.23 L1222.23 1124.75 L1227.4 1126.32 L1232.56 1127.93 L1237.73 1129.6 L1242.89 1131.31 L1248.19 1133.07 L1253.62 1134.87 L1259.19 1136.73 L1264.9 1138.63 L1270.6 1140.43 L1276.3 1142.15 L1282.01 1143.76 L1287.71 1145.28 L1292.94 1146.57 L1297.69 1147.61 L1301.97 1148.42 L1305.78 1148.99 L1311 1149.51 L1317.66 1149.99 L1325.74 1150.42 L1335.25 1150.8 L1342.38 1151.08 L1347.13 1151.27 L1349.51 1151.37" fill="none" stroke="#1a1a1a" stroke-width="0.9" stroke-linejoin="round"/>
<path d="M1087.91 1117.14 L1089.32 1117.47 L1092.13 1118.14 L1096.35 1119.14 L1101.98 1120.47 L1108.1 1121.8 L1114.72 1123.13 L1121.83 1124.46 L1129.44 1125.79 L1137.04 1126.93 L1144.65 1127.88 L1152.25 1128.65 L1159.86 1129.22 L1167.47 1129.88 L1175.07 1130.64 L1182.68 1131.5 L1190.28 1132.45 L1197.76 1133.64 L1205.1 1135.06 L1212.3 1136.73 L1219.37 1138.63 L1225.97 1140.62 L1232.09 1142.72 L1237.73 1144.9 L1242.89 1147.18 L1247.9 1149.66 L1252.77 1152.32 L1257.48 1155.17 L1262.04 1158.21 L1266.23 1161.06 L1270.03 1163.73 L1273.45 1166.2 L1276.49 1168.48 L1279.73 1170.76 L1283.15 1173.04 L1286.76 1175.33 L1290.56 1177.61 L1294.84 1179.98 L1299.6 1182.46 L1304.83 1185.02 L1310.53 1187.68 L1316.71 1190.2 L1323.36 1192.58 L1330.49 1194.82 L1338.1 1196.91 L1343.8 1198.48 L1347.61 1199.52 L1349.51 1200.04" fill="none" stroke="#1a1a1a" stroke-width="0.9" stroke-linejoin="round"/>
<path d="M1087.91 1133.87 L1089.32 1134.16 L1092.13 1134.73 L1096.35 1135.59 L1101.98 1136.73 L1108.1 1137.77 L1114.72 1138.72 L1121.83 1139.58 L1129.44 1140.34 L1136.57 1141.05 L1143.22 1141.72 L1149.4 1142.34 L1155.11 1142.91 L1160.81 1143.48 L1166.52 1144.05 L1172.22 1144.62 L1177.92 1145.19 L1183.63 1145.9 L1189.33 1146.76 L1195.04 1147.75 L1200.74 1148.9 L1205.97 1150.13 L1210.72 1151.46 L1215 1152.89 L1218.8 1154.41 L1222 1155.74 L1224.58 1156.88 L1226.56 1157.83 L1227.93 1158.59 L1229.3 1159.35 L1230.66 1160.11 L1232.02 1160.87 L1233.38 1161.64 L1235.16 1162.97 L1237.36 1164.87 L1239.99 1167.34 L1243.03 1170.38 L1245.69 1173.42 L1247.97 1176.47 L1249.87 1179.51 L1251.39 1182.55 L1253.11 1185.59 L1255.01 1188.64 L1257.1 1191.68 L1259.38 1194.72 L1261.76 1197.67 L1264.23 1200.52 L1266.8 1203.28 L1269.46 1205.94 L1272.41 1208.32 L1275.64 1210.41 L1279.16 1212.21 L1282.96 1213.73 L1286.76 1215.07 L1290.56 1216.21 L1294.37 1217.16 L1298.17 1217.92 L1301.5 1218.68 L1304.35 1219.44 L1306.73 1220.2 L1308.63 1220.96 L1310.24 1221.93 L1311.58 1223.11 L1312.62 1224.5 L1313.38 1226.09 L1313.95 1227.29 L1314.33 1228.09 L1314.52 1228.49" fill="none" stroke="#1a1a1a" stroke-width="0.9" stroke-linejoin="round"/>
<path d="M1087.91 1150.61 L1089.32 1150.89 L1092.13 1151.46 L1096.35 1152.32 L1101.98 1153.46 L1107.63 1154.6 L1113.29 1155.74 L1118.98 1156.88 L1124.68 1158.02 L1130.39 1159.26 L1136.09 1160.59 L1141.8 1162.02 L1147.5 1163.54 L1153.21 1165.06 L1158.91 1166.58 L1164.61 1168.1 L1170.32 1169.62 L1175.55 1171.24 L1180.3 1172.95 L1184.58 1174.76 L1188.38 1176.66 L1192.18 1178.75 L1195.99 1181.03 L1199.79 1183.5 L1203.59 1186.16 L1207.4 1188.73 L1211.2 1191.2 L1215 1193.58 L1218.8 1195.86 L1222 1197.76 L1224.58 1199.28 L1226.56 1200.42 L1227.93 1201.18 L1229.11 1201.57 L1230.09 1201.57 L1230.88 1201.18 L1231.48 1200.42 L1232.6 1200.61 L1234.23 1201.76 L1236.37 1203.85 L1239.04 1206.89 L1241.79 1210.24 L1244.64 1213.89 L1247.59 1217.84 L1250.63 1222.1 L1252.92 1225.3 L1254.44 1227.42 L1255.2 1228.49" fill="none" stroke="#1a1a1a" stroke-width="0.9" stroke-linejoin="round"/>
<path d="M1087.91 1172.66 L1089.32 1172.95 L1092.13 1173.52 L1096.35 1174.37 L1101.98 1175.52 L1107.63 1176.7 L1113.29 1177.94 L1118.98 1179.22 L1124.68 1180.55 L1129.91 1181.93 L1134.67 1183.36 L1138.94 1184.83 L1142.75 1186.35 L1146.55 1187.87 L1150.35 1189.4 L1154.16 1190.92 L1157.96 1192.44 L1162.24 1194.24 L1166.99 1196.34 L1172.22 1198.71 L1177.92 1201.38 L1182.96 1204.04 L1187.34 1206.7 L1191.04 1209.36 L1194.09 1212.02 L1196.75 1214.4 L1199.03 1216.49 L1200.93 1218.3 L1202.45 1219.82 L1204.54 1221.36 L1207.21 1222.92 L1210.44 1224.5 L1214.24 1226.09 L1217.09 1227.29 L1218.99 1228.09 L1219.95 1228.49" fill="none" stroke="#1a1a1a" stroke-width="0.9" stroke-linejoin="round"/>
<path d="M1087.91 1187.11 L1089.32 1187.4 L1092.13 1187.97 L1096.35 1188.83 L1101.98 1189.97 L1107.63 1191.3 L1113.29 1192.82 L1118.98 1194.53 L1124.68 1196.43 L1130.39 1198.33 L1136.09 1200.23 L1141.8 1202.14 L1147.5 1204.04 L1152.73 1206.13 L1157.48 1208.41 L1161.76 1210.88 L1165.56 1213.54 L1169.18 1216.23 L1172.6 1218.93 L1175.83 1221.64 L1178.87 1224.38 L1181.16 1226.44 L1182.68 1227.8 L1183.44 1228.49" fill="none" stroke="#1a1a1a" stroke-width="0.9" stroke-linejoin="round"/>
<path d="M1087.91 1198.52 L1089.32 1198.67 L1092.13 1198.95 L1096.35 1199.38 L1101.98 1199.95 L1107.15 1200.76 L1111.87 1201.8 L1116.13 1203.09 L1119.93 1204.61 L1123.73 1206.22 L1127.54 1207.94 L1131.34 1209.74 L1135.14 1211.64 L1138.47 1213.54 L1141.32 1215.45 L1143.7 1217.35 L1145.6 1219.25 L1147.6 1221.07 L1149.69 1222.82 L1151.87 1224.5 L1154.16 1226.09 L1155.87 1227.29 L1157.01 1228.09 L1157.58 1228.49" fill="none" stroke="#1a1a1a" stroke-width="0.9" stroke-linejoin="round"/>
<rect x="789.4" y="38.3" width="160.6" height="81.9" stroke="#000" stroke-width="3.6" fill="none"/>
<rect x="790.3" y="374.8" width="159.3" height="80" stroke="#000" stroke-width="3.6" fill="none"/>
<rect x="790.5" y="711.8" width="158.9" height="78" stroke="#000" stroke-width="3.6" fill="none"/>
<rect x="790.5" y="1046.8" width="158.9" height="78.7" stroke="#000" stroke-width="3.6" fill="none"/>
<line x1="948.2" y1="70.8" x2="1036.1" y2="70.13" stroke="#1a1a1a" stroke-width="2.5"/>
<path d="M1053.3 70 L1032.07 79.26 L1035.1 70.14 L1031.93 61.06 Z" fill="#1a1a1a"/>
<line x1="948.2" y1="397.5" x2="1034.4" y2="396.75" stroke="#1a1a1a" stroke-width="2.5"/>
<path d="M1051.6 396.6 L1030.38 405.89 L1033.4 396.76 L1030.22 387.69 Z" fill="#1a1a1a"/>
<line x1="948.2" y1="733.6" x2="1034.4" y2="731.93" stroke="#1a1a1a" stroke-width="2.5"/>
<path d="M1051.6 731.6 L1030.48 741.11 L1033.4 731.95 L1030.13 722.91 Z" fill="#1a1a1a"/>
<line x1="948.2" y1="1073.3" x2="1034.4" y2="1072.38" stroke="#1a1a1a" stroke-width="2.5"/>
<path d="M1051.6 1072.2 L1030.4 1081.53 L1033.4 1072.39 L1030.2 1063.33 Z" fill="#1a1a1a"/>
<rect x="1368.5" y="38.3" width="26" height="183.1" stroke="#333" stroke-width="0.9" fill="none"/>
<line x1="1394.5" y1="75.6" x2="1391" y2="75.6" stroke="#333" stroke-width="1"/>
<text x="1403.8" y="87.15" style="font-family:'Liberation Sans', sans-serif;font-size:27px;font-weight:normal;font-style:normal" fill="#1a1a1a">0.8</text>
<line x1="1394.5" y1="143.8" x2="1391" y2="143.8" stroke="#333" stroke-width="1"/>
<text x="1403.8" y="154.85" style="font-family:'Liberation Sans', sans-serif;font-size:27px;font-weight:normal;font-style:normal" fill="#1a1a1a">0.6</text>
<line x1="1394.5" y1="211.8" x2="1391" y2="211.8" stroke="#333" stroke-width="1"/>
<text x="1403.8" y="222.15" style="font-family:'Liberation Sans', sans-serif;font-size:27px;font-weight:normal;font-style:normal" fill="#1a1a1a">0.4</text>
<rect x="1368.5" y="373.3" width="26" height="184.1" stroke="#333" stroke-width="0.9" fill="none"/>
<line x1="1394.5" y1="410.6" x2="1391" y2="410.6" stroke="#333" stroke-width="1"/>
<text x="1403.8" y="422.15" style="font-family:'Liberation Sans', sans-serif;font-size:27px;font-weight:normal;font-style:normal" fill="#1a1a1a">0.8</text>
<line x1="1394.5" y1="478.8" x2="1391" y2="478.8" stroke="#333" stroke-width="1"/>
<text x="1403.8" y="489.85" style="font-family:'Liberation Sans', sans-serif;font-size:27px;font-weight:normal;font-style:normal" fill="#1a1a1a">0.6</text>
<line x1="1394.5" y1="546.8" x2="1391" y2="546.8" stroke="#333" stroke-width="1"/>
<text x="1403.8" y="557.15" style="font-family:'Liberation Sans', sans-serif;font-size:27px;font-weight:normal;font-style:normal" fill="#1a1a1a">0.4</text>
<rect x="1368.5" y="709.3" width="26" height="183.7" stroke="#333" stroke-width="0.9" fill="none"/>
<line x1="1394.5" y1="746.6" x2="1391" y2="746.6" stroke="#333" stroke-width="1"/>
<text x="1403.8" y="758.15" style="font-family:'Liberation Sans', sans-serif;font-size:27px;font-weight:normal;font-style:normal" fill="#1a1a1a">0.8</text>
<line x1="1394.5" y1="814.8" x2="1391" y2="814.8" stroke="#333" stroke-width="1"/>
<text x="1403.8" y="825.85" style="font-family:'Liberation Sans', sans-serif;font-size:27px;font-weight:normal;font-style:normal" fill="#1a1a1a">0.6</text>
<line x1="1394.5" y1="882.8" x2="1391" y2="882.8" stroke="#333" stroke-width="1"/>
<text x="1403.8" y="893.15" style="font-family:'Liberation Sans', sans-serif;font-size:27px;font-weight:normal;font-style:normal" fill="#1a1a1a">0.4</text>
<rect x="1368.5" y="1044.9" width="26" height="183.1" stroke="#333" stroke-width="0.9" fill="none"/>
<line x1="1394.5" y1="1090.8" x2="1391" y2="1090.8" stroke="#333" stroke-width="1"/>
<text x="1403.8" y="1101.45" style="font-family:'Liberation Sans', sans-serif;font-size:27px;font-weight:normal;font-style:normal" fill="#1a1a1a">0.8</text>
<line x1="1394.5" y1="1137" x2="1391" y2="1137" stroke="#333" stroke-width="1"/>
<text x="1403.8" y="1147.35" style="font-family:'Liberation Sans', sans-serif;font-size:27px;font-weight:normal;font-style:normal" fill="#1a1a1a">0.6</text>
<line x1="1394.5" y1="1183.7" x2="1391" y2="1183.7" stroke="#333" stroke-width="1"/>
<text x="1403.8" y="1193.95" style="font-family:'Liberation Sans', sans-serif;font-size:27px;font-weight:normal;font-style:normal" fill="#1a1a1a">0.4</text>
<line x1="1462.8" y1="47.5" x2="1462.8" y2="889" stroke="#111" stroke-width="2.5" stroke-dasharray="36.8 6.4 2.8 3.5" stroke-dashoffset="17.6"/>
<line x1="1458.6" y1="1028.1" x2="1458.6" y2="1245" stroke="#a81c22" stroke-width="2" stroke-dasharray="42 6.9 2.8 3.1" stroke-dashoffset="23"/>
<text transform="translate(1476.3 467.6) rotate(90)" x="-65.5" y="0" style="font-family:'Liberation Sans', sans-serif;font-size:27.6px;font-weight:normal;font-style:normal" fill="#1a1a1a">NARMA10</text>
<text transform="translate(1471.4 1129) rotate(90)" x="-57.88" y="0" style="font-family:'Liberation Sans', sans-serif;font-size:27.6px;font-weight:normal;font-style:normal" fill="#1a1a1a">NARMA5</text>
<circle cx="1088.22" cy="219.71" r="13" fill="#808080" stroke="#000" stroke-width="3.8"/>
<circle cx="1233.02" cy="119.17" r="13" fill="#808080" stroke="#000" stroke-width="3.8"/>
<path d="M1088.22 219.71 L1089.88 218.04 L1096.54 199.73 L1099.2 173.1 L1101.53 159.79 L1099.87 133.16 L1096.54 99.87 L1093.21 83.22 L1089.88 66.58 L1091.54 53.26 L1094.87 46.6" stroke="#000" stroke-width="4.2" fill="none" stroke-linejoin="round" stroke-linecap="round"/>
<path d="M1233.02 118.18 L1239.68 106.52 L1241.34 96.54 L1238.02 89.88 L1233.02 79.89 L1229.69 66.58 L1226.36 59.92 L1216.38 54.93 L1209.72 51.6 L1194.74 48.27" stroke="#000" stroke-width="4.2" fill="none" stroke-linejoin="round" stroke-linecap="round"/>
<path d="M1094.87 31.1 L1099.35 38.85 L1108.3 38.85 L1103.82 46.6 L1108.3 54.35 L1099.35 54.35 L1094.87 62.1 L1090.4 54.35 L1081.45 54.35 L1085.92 46.6 L1081.45 38.85 L1090.4 38.85 Z" fill="#cccccc" stroke="#000" stroke-width="4.5" stroke-linejoin="miter" stroke-miterlimit="10"/>
<path d="M1194.74 32.77 L1199.21 40.52 L1208.16 40.52 L1203.69 48.27 L1208.16 56.02 L1199.21 56.02 L1194.74 63.77 L1190.27 56.02 L1181.32 56.02 L1185.79 48.27 L1181.32 40.52 L1190.27 40.52 Z" fill="#cccccc" stroke="#000" stroke-width="4.5" stroke-linejoin="miter" stroke-miterlimit="10"/>
<circle cx="1173.39" cy="496.68" r="13" fill="#808080" stroke="#000" stroke-width="3.8"/>
<path d="M1173.39 496.68 L1177.12 492.01 L1184.59 486.4 L1192.07 480.8 L1201.4 475.2 L1210.74 469.59 L1221.95 462.12 L1229.42 456.52 L1238.76 451.85 L1248.1 449.98 L1266.78 450.92 L1276.12 454.65 L1285.45 458.39 L1300.4 460.26 L1313.47 463.06 L1322.81 465.86 L1336.82 471.46" stroke="#000" stroke-width="4.2" fill="none" stroke-linejoin="round" stroke-linecap="round"/>
<path d="M1336.82 455.96 L1341.29 463.71 L1350.24 463.71 L1345.77 471.46 L1350.24 479.21 L1341.29 479.21 L1336.82 486.96 L1332.34 479.21 L1323.39 479.21 L1327.87 471.46 L1323.39 463.71 L1332.34 463.71 Z" fill="#cccccc" stroke="#000" stroke-width="4.5" stroke-linejoin="miter" stroke-miterlimit="10"/>
<circle cx="1290.61" cy="749.87" r="13" fill="#808080" stroke="#000" stroke-width="3.8"/>
<circle cx="1203.73" cy="811.45" r="13" fill="#808080" stroke="#000" stroke-width="3.8"/>
<path d="M1135.82 713.25 L1146.47 713.25 L1169.77 710.92 L1176.43 714.91 L1206.39 714.91 L1233.02 716.58 L1246.34 724.9 L1256.32 731.56 L1266.31 734.89 L1276.3 741.54 L1286.28 749.87 L1290.61 749.87" stroke="#000" stroke-width="4.2" fill="none" stroke-linejoin="round" stroke-linecap="round"/>
<path d="M1135.82 714.91 L1149.8 718.24 L1166.44 724.9 L1176.43 733.22 L1186.42 746.54 L1198.07 756.52 L1199.73 763.18 L1206.39 766.51 L1203.06 776.5 L1203.06 786.48 L1209.72 796.47 L1204.73 809.79 L1203.73 811.45" stroke="#000" stroke-width="4.2" fill="none" stroke-linejoin="round" stroke-linecap="round"/>
<path d="M1124.83 699.41 L1129.31 707.16 L1138.26 707.16 L1133.78 714.91 L1138.26 722.66 L1129.31 722.66 L1124.83 730.41 L1120.36 722.66 L1111.41 722.66 L1115.88 714.91 L1111.41 707.16 L1120.36 707.16 Z" fill="#cccccc" stroke="#000" stroke-width="4.5" stroke-linejoin="miter" stroke-miterlimit="10"/>
<path d="M1135.82 697.75 L1140.29 705.5 L1149.24 705.5 L1144.77 713.25 L1149.24 721 L1140.29 721 L1135.82 728.75 L1131.34 721 L1122.4 721 L1126.87 713.25 L1122.4 705.5 L1131.34 705.5 Z" fill="#cccccc" stroke="#000" stroke-width="4.5" stroke-linejoin="miter" stroke-miterlimit="10"/>
<circle cx="1144.81" cy="1188.06" r="13" fill="#808080" stroke="#000" stroke-width="3.8"/>
<path d="M1322.24 1044.92 L1336.22 1048.25 L1342.88 1054.91 L1347.87 1059.9 L1344.54 1064.89 L1349.53 1073.22 L1349.53 1114.83 L1342.88 1121.48 L1332.89 1129.81 L1327.9 1136.46 L1319.57 1138.13 L1314.58 1141.46 L1314.58 1149.78 L1306.26 1156.44 L1292.94 1158.77 L1272.97 1156.44 L1253 1151.44 L1233.02 1156.44 L1213.05 1161.43 L1203.06 1158.1 L1186.42 1166.42 L1166.44 1176.41 L1149.8 1186.4 L1144.81 1188.06" stroke="#000" stroke-width="4.2" fill="none" stroke-linejoin="round" stroke-linecap="round"/>
<path d="M1322.24 1029.42 L1326.71 1037.17 L1335.66 1037.17 L1331.19 1044.92 L1335.66 1052.67 L1326.71 1052.67 L1322.24 1060.42 L1317.76 1052.67 L1308.81 1052.67 L1313.29 1044.92 L1308.81 1037.17 L1317.76 1037.17 Z" fill="#cccccc" stroke="#000" stroke-width="4.5" stroke-linejoin="miter" stroke-miterlimit="10"/>
</svg></div></body></html>
